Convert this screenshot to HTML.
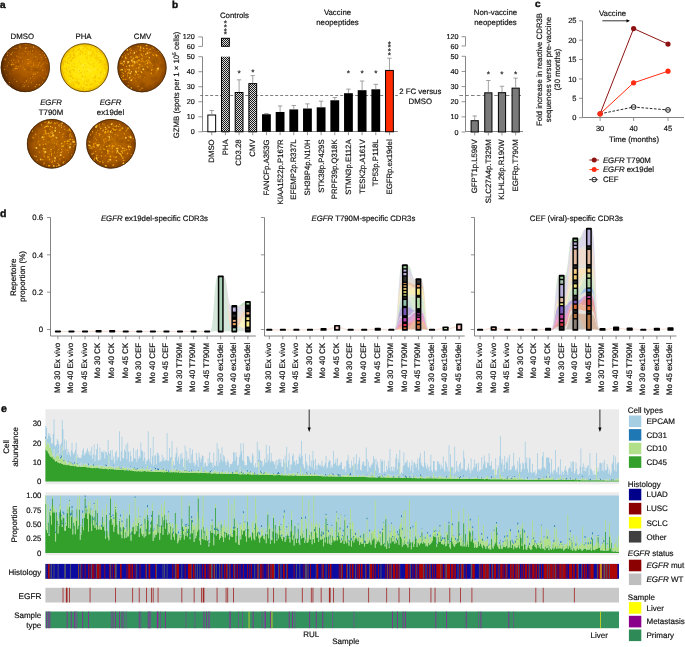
<!DOCTYPE html>
<html><head><meta charset="utf-8"><style>
html,body{margin:0;padding:0;background:#fff;overflow:hidden;width:685px;height:647px;}
svg{display:block;}
text{font-family:"Liberation Sans", sans-serif;fill:#111;stroke:#111;stroke-width:0.18px;text-rendering:geometricPrecision;}
svg{will-change:transform;}
</style></head><body>
<svg width="685" height="647" viewBox="0 0 685 647">
<text x="0" y="8.3" font-size="10" font-weight="bold" style="stroke-width:0.45px" fill="#000">a</text>
<text x="22.3" y="38.6" font-size="7.8" text-anchor="middle">DMSO</text>
<text x="83.5" y="38.6" font-size="7.8" text-anchor="middle">PHA</text>
<text x="142.5" y="38.6" font-size="7.8" text-anchor="middle">CMV</text>
<text x="51" y="105.4" font-size="7.8" text-anchor="middle" font-style="italic">EGFR</text>
<text x="51" y="115" font-size="7.8" text-anchor="middle">T790M</text>
<text x="110.5" y="105.4" font-size="7.8" text-anchor="middle" font-style="italic">EGFR</text>
<text x="110.5" y="115" font-size="7.8" text-anchor="middle">ex19del</text>
<radialGradient id="g1" cx="60%" cy="45%" r="58%"><stop offset="0" stop-color="#c06a00"/><stop offset="0.55" stop-color="#a45400"/><stop offset="0.9" stop-color="#7a3c00"/><stop offset="1" stop-color="#5a2a00"/></radialGradient>
<circle cx="25.3" cy="67.5" r="24.5" fill="url(#g1)"/>
<path fill="#5a2c00" opacity="0.14" d="M38.14 83.53a1.41 1.41 0 1 0 2.82 0a1.41 1.41 0 1 0 -2.82 0M28.59 50.53a2.44 2.44 0 1 0 4.88 0a2.44 2.44 0 1 0 -4.88 0M26.45 68.21a2.5 2.5 0 1 0 5.01 0a2.5 2.5 0 1 0 -5.01 0M37.46 60.8a1.3 1.3 0 1 0 2.59 0a1.3 1.3 0 1 0 -2.59 0M44.69 66.49a2.19 2.19 0 1 0 4.38 0a2.19 2.19 0 1 0 -4.38 0M19.52 60.94a1.83 1.83 0 1 0 3.67 0a1.83 1.83 0 1 0 -3.67 0M10.78 77.63a1.75 1.75 0 1 0 3.5 0a1.75 1.75 0 1 0 -3.5 0M28.5 77.18a2.23 2.23 0 1 0 4.47 0a2.23 2.23 0 1 0 -4.47 0M2.71 62.18a1.65 1.65 0 1 0 3.29 0a1.65 1.65 0 1 0 -3.29 0M21.6 84.62a1.61 1.61 0 1 0 3.23 0a1.61 1.61 0 1 0 -3.23 0M37.64 49.68a1.83 1.83 0 1 0 3.66 0a1.83 1.83 0 1 0 -3.66 0M9.44 61.78a1.77 1.77 0 1 0 3.54 0a1.77 1.77 0 1 0 -3.54 0M34.41 69.45a1.88 1.88 0 1 0 3.76 0a1.88 1.88 0 1 0 -3.76 0M29.38 65.35a1.72 1.72 0 1 0 3.45 0a1.72 1.72 0 1 0 -3.45 0M14.35 57.84a1.27 1.27 0 1 0 2.54 0a1.27 1.27 0 1 0 -2.54 0M22.13 79.21a2.54 2.54 0 1 0 5.09 0a2.54 2.54 0 1 0 -5.09 0M3.35 77.08a1.03 1.03 0 1 0 2.06 0a1.03 1.03 0 1 0 -2.06 0M35.55 83.22a1.71 1.71 0 1 0 3.43 0a1.71 1.71 0 1 0 -3.43 0M7.53 66.9a2.56 2.56 0 1 0 5.13 0a2.56 2.56 0 1 0 -5.13 0M4.85 76.44a2.55 2.55 0 1 0 5.1 0a2.55 2.55 0 1 0 -5.1 0M32.95 58.41a1.5 1.5 0 1 0 2.99 0a1.5 1.5 0 1 0 -2.99 0M35.27 80.25a1.94 1.94 0 1 0 3.89 0a1.94 1.94 0 1 0 -3.89 0M39.2 50.52a1.6 1.6 0 1 0 3.21 0a1.6 1.6 0 1 0 -3.21 0M33.11 52.99a1.1 1.1 0 1 0 2.21 0a1.1 1.1 0 1 0 -2.21 0M31.07 69.63a2.46 2.46 0 1 0 4.92 0a2.46 2.46 0 1 0 -4.92 0M16.51 65.12a1.65 1.65 0 1 0 3.3 0a1.65 1.65 0 1 0 -3.3 0M6.04 83.36a2.33 2.33 0 1 0 4.65 0a2.33 2.33 0 1 0 -4.65 0M18.76 83.84a1.73 1.73 0 1 0 3.46 0a1.73 1.73 0 1 0 -3.46 0M19.6 61.31a2.32 2.32 0 1 0 4.64 0a2.32 2.32 0 1 0 -4.64 0M4.79 73.34a2.19 2.19 0 1 0 4.38 0a2.19 2.19 0 1 0 -4.38 0M9.23 83.72a2.57 2.57 0 1 0 5.15 0a2.57 2.57 0 1 0 -5.15 0M38.58 78.3a1.39 1.39 0 1 0 2.78 0a1.39 1.39 0 1 0 -2.78 0M35.28 68.97a1.43 1.43 0 1 0 2.86 0a1.43 1.43 0 1 0 -2.86 0"/>
<path fill="#6a3600" opacity="0.14" d="M7.42 67.95a2.26 2.26 0 1 0 4.52 0a2.26 2.26 0 1 0 -4.52 0M26.87 69.68a1.69 1.69 0 1 0 3.38 0a1.69 1.69 0 1 0 -3.38 0M23.96 66.43a1.43 1.43 0 1 0 2.85 0a1.43 1.43 0 1 0 -2.85 0M15.18 74.86a2.16 2.16 0 1 0 4.32 0a2.16 2.16 0 1 0 -4.32 0M3.36 63.98a1.88 1.88 0 1 0 3.77 0a1.88 1.88 0 1 0 -3.77 0M11.93 83.31a2.52 2.52 0 1 0 5.05 0a2.52 2.52 0 1 0 -5.05 0M41.7 53.48a1.81 1.81 0 1 0 3.62 0a1.81 1.81 0 1 0 -3.62 0M31.94 62.07a1.94 1.94 0 1 0 3.88 0a1.94 1.94 0 1 0 -3.88 0M39.21 53.07a1.94 1.94 0 1 0 3.88 0a1.94 1.94 0 1 0 -3.88 0M34.85 69.97a1.66 1.66 0 1 0 3.33 0a1.66 1.66 0 1 0 -3.33 0M32.19 82.78a1.14 1.14 0 1 0 2.28 0a1.14 1.14 0 1 0 -2.28 0M15.55 87.53a2.04 2.04 0 1 0 4.07 0a2.04 2.04 0 1 0 -4.07 0M11.64 85.33a1.73 1.73 0 1 0 3.47 0a1.73 1.73 0 1 0 -3.47 0M12.07 80.53a1.78 1.78 0 1 0 3.55 0a1.78 1.78 0 1 0 -3.55 0M15.04 78.24a1.73 1.73 0 1 0 3.47 0a1.73 1.73 0 1 0 -3.47 0M27.22 73.9a1.05 1.05 0 1 0 2.1 0a1.05 1.05 0 1 0 -2.1 0M24.45 55.15a1.18 1.18 0 1 0 2.35 0a1.18 1.18 0 1 0 -2.35 0M22.52 90.22a2.04 2.04 0 1 0 4.07 0a2.04 2.04 0 1 0 -4.07 0M18.15 86.27a1.76 1.76 0 1 0 3.52 0a1.76 1.76 0 1 0 -3.52 0M37.35 69.64a2.27 2.27 0 1 0 4.55 0a2.27 2.27 0 1 0 -4.55 0M10.71 53.28a1.36 1.36 0 1 0 2.71 0a1.36 1.36 0 1 0 -2.71 0M14.53 55.74a2.06 2.06 0 1 0 4.11 0a2.06 2.06 0 1 0 -4.11 0M42.05 60.02a1.9 1.9 0 1 0 3.81 0a1.9 1.9 0 1 0 -3.81 0M28.5 89.16a1.27 1.27 0 1 0 2.55 0a1.27 1.27 0 1 0 -2.55 0M17.31 76.17a1.95 1.95 0 1 0 3.89 0a1.95 1.95 0 1 0 -3.89 0M1.29 68.58a1.47 1.47 0 1 0 2.95 0a1.47 1.47 0 1 0 -2.95 0M9.57 67.52a2.44 2.44 0 1 0 4.88 0a2.44 2.44 0 1 0 -4.88 0M33.38 68.68a2.3 2.3 0 1 0 4.6 0a2.3 2.3 0 1 0 -4.6 0M16.06 64.18a1.34 1.34 0 1 0 2.68 0a1.34 1.34 0 1 0 -2.68 0M13.09 48.53a2.46 2.46 0 1 0 4.93 0a2.46 2.46 0 1 0 -4.93 0M28.39 87.25a1.59 1.59 0 1 0 3.18 0a1.59 1.59 0 1 0 -3.18 0M17.33 78.1a1.22 1.22 0 1 0 2.43 0a1.22 1.22 0 1 0 -2.43 0M14.3 82.87a1.12 1.12 0 1 0 2.25 0a1.12 1.12 0 1 0 -2.25 0M7.05 62.05a1.58 1.58 0 1 0 3.17 0a1.58 1.58 0 1 0 -3.17 0M20.77 87.87a1.02 1.02 0 1 0 2.04 0a1.02 1.02 0 1 0 -2.04 0M26.55 57.71a1.26 1.26 0 1 0 2.52 0a1.26 1.26 0 1 0 -2.52 0M40.76 80.89a2.29 2.29 0 1 0 4.58 0a2.29 2.29 0 1 0 -4.58 0M2.85 61.88a2.14 2.14 0 1 0 4.28 0a2.14 2.14 0 1 0 -4.28 0M20.05 77.26a1.06 1.06 0 1 0 2.13 0a1.06 1.06 0 1 0 -2.13 0M46.18 69.02a2.16 2.16 0 1 0 4.32 0a2.16 2.16 0 1 0 -4.32 0M17.97 80.68a1.1 1.1 0 1 0 2.2 0a1.1 1.1 0 1 0 -2.2 0M43.75 55.62a1.18 1.18 0 1 0 2.36 0a1.18 1.18 0 1 0 -2.36 0M27.21 85.38a2.06 2.06 0 1 0 4.12 0a2.06 2.06 0 1 0 -4.12 0M23 84.62a1.32 1.32 0 1 0 2.64 0a1.32 1.32 0 1 0 -2.64 0M4.98 73.55a2.51 2.51 0 1 0 5.01 0a2.51 2.51 0 1 0 -5.01 0M14.03 75.7a1.3 1.3 0 1 0 2.6 0a1.3 1.3 0 1 0 -2.6 0M28.61 50.41a1.39 1.39 0 1 0 2.79 0a1.39 1.39 0 1 0 -2.79 0"/>
<path fill="#e89000" opacity="0.85" d="M38.29 52.79a0.4 0.4 0 1 0 0.8 0a0.4 0.4 0 1 0 -0.8 0M29.25 51.71a0.34 0.34 0 1 0 0.67 0a0.34 0.34 0 1 0 -0.67 0M19.31 46.9a0.61 0.61 0 1 0 1.23 0a0.61 0.61 0 1 0 -1.23 0M45.4 74a0.54 0.54 0 1 0 1.08 0a0.54 0.54 0 1 0 -1.08 0M18.55 50.93a0.39 0.39 0 1 0 0.78 0a0.39 0.39 0 1 0 -0.78 0M22.41 48.84a0.32 0.32 0 1 0 0.63 0a0.32 0.32 0 1 0 -0.63 0M15.4 66.61a0.48 0.48 0 1 0 0.97 0a0.48 0.48 0 1 0 -0.97 0M35.14 67.76a0.31 0.31 0 1 0 0.62 0a0.31 0.31 0 1 0 -0.62 0M36.2 65.57a0.4 0.4 0 1 0 0.8 0a0.4 0.4 0 1 0 -0.8 0M16.07 56.04a0.65 0.65 0 1 0 1.3 0a0.65 0.65 0 1 0 -1.3 0M30.71 66.27a0.52 0.52 0 1 0 1.05 0a0.52 0.52 0 1 0 -1.05 0M27.38 53.05a0.57 0.57 0 1 0 1.14 0a0.57 0.57 0 1 0 -1.14 0M32.98 74.42a0.58 0.58 0 1 0 1.16 0a0.58 0.58 0 1 0 -1.16 0M22.13 62.71a0.33 0.33 0 1 0 0.66 0a0.33 0.33 0 1 0 -0.66 0M27.45 63.44a0.45 0.45 0 1 0 0.9 0a0.45 0.45 0 1 0 -0.9 0M7.02 52.78a0.64 0.64 0 1 0 1.28 0a0.64 0.64 0 1 0 -1.28 0M17.97 66.43a0.41 0.41 0 1 0 0.81 0a0.41 0.41 0 1 0 -0.81 0M41.87 54.67a0.37 0.37 0 1 0 0.74 0a0.37 0.37 0 1 0 -0.74 0M45.29 57.42a0.62 0.62 0 1 0 1.25 0a0.62 0.62 0 1 0 -1.25 0M18.34 66.42a0.53 0.53 0 1 0 1.05 0a0.53 0.53 0 1 0 -1.05 0M3.93 69.25a0.51 0.51 0 1 0 1.02 0a0.51 0.51 0 1 0 -1.02 0M33.35 62.22a0.58 0.58 0 1 0 1.17 0a0.58 0.58 0 1 0 -1.17 0M7.09 66.79a0.39 0.39 0 1 0 0.78 0a0.39 0.39 0 1 0 -0.78 0M40.02 68.42a0.43 0.43 0 1 0 0.86 0a0.43 0.43 0 1 0 -0.86 0M14.19 48.16a0.43 0.43 0 1 0 0.87 0a0.43 0.43 0 1 0 -0.87 0M15.9 68.4a0.58 0.58 0 1 0 1.17 0a0.58 0.58 0 1 0 -1.17 0M40.7 84.15a0.34 0.34 0 1 0 0.67 0a0.34 0.34 0 1 0 -0.67 0M28.33 61.5a0.49 0.49 0 1 0 0.98 0a0.49 0.49 0 1 0 -0.98 0M11.34 64.55a0.56 0.56 0 1 0 1.11 0a0.56 0.56 0 1 0 -1.11 0M31.52 63.04a0.35 0.35 0 1 0 0.7 0a0.35 0.35 0 1 0 -0.7 0"/>
<path fill="#ffb000" opacity="0.85" d="M27.25 54.36a0.36 0.36 0 1 0 0.72 0a0.36 0.36 0 1 0 -0.72 0M11.02 54.12a0.65 0.65 0 1 0 1.29 0a0.65 0.65 0 1 0 -1.29 0M4.33 69.35a0.31 0.31 0 1 0 0.61 0a0.31 0.31 0 1 0 -0.61 0M31.96 54.58a0.33 0.33 0 1 0 0.66 0a0.33 0.33 0 1 0 -0.66 0M14.9 68.36a0.62 0.62 0 1 0 1.24 0a0.62 0.62 0 1 0 -1.24 0M13.83 68.97a0.51 0.51 0 1 0 1.03 0a0.51 0.51 0 1 0 -1.03 0M6.94 55.43a0.5 0.5 0 1 0 1 0a0.5 0.5 0 1 0 -1 0M29.96 77.93a0.55 0.55 0 1 0 1.1 0a0.55 0.55 0 1 0 -1.1 0M28.18 51.44a0.42 0.42 0 1 0 0.84 0a0.42 0.42 0 1 0 -0.84 0M34.6 73.83a0.62 0.62 0 1 0 1.24 0a0.62 0.62 0 1 0 -1.24 0M33.17 65.31a0.54 0.54 0 1 0 1.08 0a0.54 0.54 0 1 0 -1.08 0M44 55.14a0.49 0.49 0 1 0 0.97 0a0.49 0.49 0 1 0 -0.97 0M26.47 44.57a0.43 0.43 0 1 0 0.86 0a0.43 0.43 0 1 0 -0.86 0M30.15 53.02a0.41 0.41 0 1 0 0.83 0a0.41 0.41 0 1 0 -0.83 0M11.67 64.18a0.47 0.47 0 1 0 0.94 0a0.47 0.47 0 1 0 -0.94 0M11.78 52.6a0.48 0.48 0 1 0 0.96 0a0.48 0.48 0 1 0 -0.96 0M38.03 65a0.54 0.54 0 1 0 1.09 0a0.54 0.54 0 1 0 -1.09 0M13.96 52.63a0.35 0.35 0 1 0 0.71 0a0.35 0.35 0 1 0 -0.71 0M13.45 70.3a0.32 0.32 0 1 0 0.63 0a0.32 0.32 0 1 0 -0.63 0M25.79 80.92a0.59 0.59 0 1 0 1.18 0a0.59 0.59 0 1 0 -1.18 0M10.99 65.45a0.32 0.32 0 1 0 0.63 0a0.32 0.32 0 1 0 -0.63 0M19.11 46.88a0.44 0.44 0 1 0 0.88 0a0.44 0.44 0 1 0 -0.88 0M11.95 82.97a0.37 0.37 0 1 0 0.74 0a0.37 0.37 0 1 0 -0.74 0M33.14 73.42a0.31 0.31 0 1 0 0.62 0a0.31 0.31 0 1 0 -0.62 0M25.01 48.24a0.59 0.59 0 1 0 1.17 0a0.59 0.59 0 1 0 -1.17 0M33.14 57.22a0.4 0.4 0 1 0 0.8 0a0.4 0.4 0 1 0 -0.8 0M17.58 57.02a0.32 0.32 0 1 0 0.64 0a0.32 0.32 0 1 0 -0.64 0M35.63 51.85a0.39 0.39 0 1 0 0.79 0a0.39 0.39 0 1 0 -0.79 0M23.52 86.04a0.63 0.63 0 1 0 1.25 0a0.63 0.63 0 1 0 -1.25 0M13.17 60.08a0.52 0.52 0 1 0 1.05 0a0.52 0.52 0 1 0 -1.05 0M46.68 63.23a0.37 0.37 0 1 0 0.74 0a0.37 0.37 0 1 0 -0.74 0M35.97 57.12a0.39 0.39 0 1 0 0.79 0a0.39 0.39 0 1 0 -0.79 0M28.04 63.21a0.46 0.46 0 1 0 0.93 0a0.46 0.46 0 1 0 -0.93 0M9.13 84.33a0.31 0.31 0 1 0 0.62 0a0.31 0.31 0 1 0 -0.62 0M28.53 63.16a0.35 0.35 0 1 0 0.69 0a0.35 0.35 0 1 0 -0.69 0M4.84 59.79a0.49 0.49 0 1 0 0.97 0a0.49 0.49 0 1 0 -0.97 0M27.41 59.39a0.6 0.6 0 1 0 1.2 0a0.6 0.6 0 1 0 -1.2 0M9.58 53.16a0.39 0.39 0 1 0 0.79 0a0.39 0.39 0 1 0 -0.79 0M39.48 51.03a0.43 0.43 0 1 0 0.86 0a0.43 0.43 0 1 0 -0.86 0M36.61 67.36a0.49 0.49 0 1 0 0.97 0a0.49 0.49 0 1 0 -0.97 0M8.73 82.36a0.61 0.61 0 1 0 1.22 0a0.61 0.61 0 1 0 -1.22 0M43.8 62.73a0.34 0.34 0 1 0 0.68 0a0.34 0.34 0 1 0 -0.68 0M41.78 64.37a0.4 0.4 0 1 0 0.8 0a0.4 0.4 0 1 0 -0.8 0M36.2 84.51a0.55 0.55 0 1 0 1.11 0a0.55 0.55 0 1 0 -1.11 0M30.3 61.4a0.48 0.48 0 1 0 0.96 0a0.48 0.48 0 1 0 -0.96 0M33.1 46.81a0.42 0.42 0 1 0 0.84 0a0.42 0.42 0 1 0 -0.84 0M22.73 67.69a0.42 0.42 0 1 0 0.84 0a0.42 0.42 0 1 0 -0.84 0"/>
<path fill="#f0a000" opacity="0.85" d="M28.68 44.69a0.41 0.41 0 1 0 0.81 0a0.41 0.41 0 1 0 -0.81 0M38.7 84.78a0.59 0.59 0 1 0 1.17 0a0.59 0.59 0 1 0 -1.17 0M9.07 73.85a0.36 0.36 0 1 0 0.72 0a0.36 0.36 0 1 0 -0.72 0M41.69 59.58a0.47 0.47 0 1 0 0.95 0a0.47 0.47 0 1 0 -0.95 0M43.37 78.09a0.63 0.63 0 1 0 1.26 0a0.63 0.63 0 1 0 -1.26 0M37.02 59.13a0.34 0.34 0 1 0 0.69 0a0.34 0.34 0 1 0 -0.69 0M40.68 57.28a0.56 0.56 0 1 0 1.12 0a0.56 0.56 0 1 0 -1.12 0M12.96 64.3a0.59 0.59 0 1 0 1.18 0a0.59 0.59 0 1 0 -1.18 0M42.04 70.16a0.64 0.64 0 1 0 1.28 0a0.64 0.64 0 1 0 -1.28 0M40.45 66.21a0.63 0.63 0 1 0 1.26 0a0.63 0.63 0 1 0 -1.26 0M19.33 45a0.52 0.52 0 1 0 1.03 0a0.52 0.52 0 1 0 -1.03 0M11.09 64.8a0.5 0.5 0 1 0 1.01 0a0.5 0.5 0 1 0 -1.01 0M31.95 50.88a0.58 0.58 0 1 0 1.16 0a0.58 0.58 0 1 0 -1.16 0M4.91 66.2a0.32 0.32 0 1 0 0.65 0a0.32 0.32 0 1 0 -0.65 0M11.76 62.69a0.5 0.5 0 1 0 0.99 0a0.5 0.5 0 1 0 -0.99 0M45.18 57.66a0.37 0.37 0 1 0 0.73 0a0.37 0.37 0 1 0 -0.73 0M18.13 60.76a0.5 0.5 0 1 0 1.01 0a0.5 0.5 0 1 0 -1.01 0M33 63.83a0.48 0.48 0 1 0 0.97 0a0.48 0.48 0 1 0 -0.97 0M22.28 61.97a0.47 0.47 0 1 0 0.94 0a0.47 0.47 0 1 0 -0.94 0M42.74 63.42a0.34 0.34 0 1 0 0.68 0a0.34 0.34 0 1 0 -0.68 0M22.31 60.77a0.46 0.46 0 1 0 0.91 0a0.46 0.46 0 1 0 -0.91 0M24.93 44.51a0.46 0.46 0 1 0 0.92 0a0.46 0.46 0 1 0 -0.92 0M15.43 62.34a0.47 0.47 0 1 0 0.95 0a0.47 0.47 0 1 0 -0.95 0M12.33 51.01a0.35 0.35 0 1 0 0.7 0a0.35 0.35 0 1 0 -0.7 0M30.81 82.82a0.54 0.54 0 1 0 1.08 0a0.54 0.54 0 1 0 -1.08 0M13.68 48.58a0.31 0.31 0 1 0 0.62 0a0.31 0.31 0 1 0 -0.62 0M30.75 47.39a0.33 0.33 0 1 0 0.67 0a0.33 0.33 0 1 0 -0.67 0M33.8 53.63a0.48 0.48 0 1 0 0.96 0a0.48 0.48 0 1 0 -0.96 0M30.03 51.28a0.42 0.42 0 1 0 0.85 0a0.42 0.42 0 1 0 -0.85 0M15.86 66.03a0.57 0.57 0 1 0 1.15 0a0.57 0.57 0 1 0 -1.15 0M10.64 60.56a0.62 0.62 0 1 0 1.24 0a0.62 0.62 0 1 0 -1.24 0M15.83 81.49a0.54 0.54 0 1 0 1.08 0a0.54 0.54 0 1 0 -1.08 0M4.19 58.97a0.63 0.63 0 1 0 1.26 0a0.63 0.63 0 1 0 -1.26 0M34.7 86.67a0.62 0.62 0 1 0 1.23 0a0.62 0.62 0 1 0 -1.23 0M30.1 50.43a0.3 0.3 0 1 0 0.6 0a0.3 0.3 0 1 0 -0.6 0M6.92 65.47a0.41 0.41 0 1 0 0.81 0a0.41 0.41 0 1 0 -0.81 0M24.65 51.33a0.58 0.58 0 1 0 1.16 0a0.58 0.58 0 1 0 -1.16 0M38.97 62.84a0.56 0.56 0 1 0 1.12 0a0.56 0.56 0 1 0 -1.12 0M19.4 53.19a0.38 0.38 0 1 0 0.75 0a0.38 0.38 0 1 0 -0.75 0M35.86 47.58a0.33 0.33 0 1 0 0.66 0a0.33 0.33 0 1 0 -0.66 0M15.58 48.29a0.54 0.54 0 1 0 1.08 0a0.54 0.54 0 1 0 -1.08 0M10.1 54.71a0.45 0.45 0 1 0 0.89 0a0.45 0.45 0 1 0 -0.89 0M42.47 52.48a0.52 0.52 0 1 0 1.04 0a0.52 0.52 0 1 0 -1.04 0"/>
<path fill="#ffc830" opacity="0.8" d="M39.59 54.54a0.44 0.44 0 1 0 0.87 0a0.44 0.44 0 1 0 -0.87 0M6.05 74.95a0.36 0.36 0 1 0 0.71 0a0.36 0.36 0 1 0 -0.71 0M21.95 86.85a0.34 0.34 0 1 0 0.67 0a0.34 0.34 0 1 0 -0.67 0M24.28 82.37a0.43 0.43 0 1 0 0.87 0a0.43 0.43 0 1 0 -0.87 0M17.97 61.81a0.37 0.37 0 1 0 0.74 0a0.37 0.37 0 1 0 -0.74 0M12.16 69.1a0.35 0.35 0 1 0 0.71 0a0.35 0.35 0 1 0 -0.71 0M14.19 79.31a0.34 0.34 0 1 0 0.69 0a0.34 0.34 0 1 0 -0.69 0M25.99 47.5a0.43 0.43 0 1 0 0.87 0a0.43 0.43 0 1 0 -0.87 0M37.26 72.25a0.46 0.46 0 1 0 0.92 0a0.46 0.46 0 1 0 -0.92 0M33.19 47.15a0.46 0.46 0 1 0 0.91 0a0.46 0.46 0 1 0 -0.91 0M16.87 68.48a0.47 0.47 0 1 0 0.95 0a0.47 0.47 0 1 0 -0.95 0M27.76 85.84a0.44 0.44 0 1 0 0.88 0a0.44 0.44 0 1 0 -0.88 0M20.46 57.34a0.43 0.43 0 1 0 0.85 0a0.43 0.43 0 1 0 -0.85 0M18.07 56.59a0.3 0.3 0 1 0 0.6 0a0.3 0.3 0 1 0 -0.6 0M37.75 69.12a0.32 0.32 0 1 0 0.64 0a0.32 0.32 0 1 0 -0.64 0M28 86.48a0.37 0.37 0 1 0 0.73 0a0.37 0.37 0 1 0 -0.73 0M22.12 53.43a0.38 0.38 0 1 0 0.76 0a0.38 0.38 0 1 0 -0.76 0M32.3 76.47a0.47 0.47 0 1 0 0.94 0a0.47 0.47 0 1 0 -0.94 0M31.19 69.15a0.37 0.37 0 1 0 0.75 0a0.37 0.37 0 1 0 -0.75 0M25.1 84.46a0.31 0.31 0 1 0 0.62 0a0.31 0.31 0 1 0 -0.62 0M34.43 78.79a0.32 0.32 0 1 0 0.65 0a0.32 0.32 0 1 0 -0.65 0M23.77 69.33a0.54 0.54 0 1 0 1.08 0a0.54 0.54 0 1 0 -1.08 0M41.9 82.01a0.45 0.45 0 1 0 0.9 0a0.45 0.45 0 1 0 -0.9 0M35.04 56.71a0.44 0.44 0 1 0 0.88 0a0.44 0.44 0 1 0 -0.88 0M10.59 64.24a0.46 0.46 0 1 0 0.92 0a0.46 0.46 0 1 0 -0.92 0M19.8 65.86a0.34 0.34 0 1 0 0.69 0a0.34 0.34 0 1 0 -0.69 0M28.29 82.49a0.36 0.36 0 1 0 0.73 0a0.36 0.36 0 1 0 -0.73 0M22.74 84.32a0.33 0.33 0 1 0 0.66 0a0.33 0.33 0 1 0 -0.66 0M19.7 48.06a0.46 0.46 0 1 0 0.93 0a0.46 0.46 0 1 0 -0.93 0M8.31 62.79a0.45 0.45 0 1 0 0.91 0a0.45 0.45 0 1 0 -0.91 0"/>
<circle cx="25.3" cy="67.5" r="24.2" fill="none" stroke="#3a2008" stroke-width="0.8" stroke-opacity="0.85"/>
<radialGradient id="g2" cx="50%" cy="50%" r="50%"><stop offset="0" stop-color="#ffea10"/><stop offset="0.85" stop-color="#ffe000"/><stop offset="1" stop-color="#e8b400"/></radialGradient>
<circle cx="84.5" cy="67.7" r="24.3" fill="url(#g2)"/>
<path fill="#f0b000" opacity="0.5" d="M105.69 61.57a0.44 0.44 0 1 0 0.89 0a0.44 0.44 0 1 0 -0.89 0M72.8 71.76a0.45 0.45 0 1 0 0.89 0a0.45 0.45 0 1 0 -0.89 0M89.03 77.66a0.35 0.35 0 1 0 0.71 0a0.35 0.35 0 1 0 -0.71 0M60.76 66.22a0.7 0.7 0 1 0 1.4 0a0.7 0.7 0 1 0 -1.4 0M69.93 85.88a0.68 0.68 0 1 0 1.36 0a0.68 0.68 0 1 0 -1.36 0M67.95 79.38a0.5 0.5 0 1 0 0.99 0a0.5 0.5 0 1 0 -0.99 0M101.33 74.44a0.57 0.57 0 1 0 1.15 0a0.57 0.57 0 1 0 -1.15 0M97.16 72.54a0.33 0.33 0 1 0 0.67 0a0.33 0.33 0 1 0 -0.67 0M77.69 83.71a0.66 0.66 0 1 0 1.32 0a0.66 0.66 0 1 0 -1.32 0M99.97 78.31a0.48 0.48 0 1 0 0.96 0a0.48 0.48 0 1 0 -0.96 0M78.6 57.5a0.34 0.34 0 1 0 0.68 0a0.34 0.34 0 1 0 -0.68 0M72.92 55.34a0.7 0.7 0 1 0 1.4 0a0.7 0.7 0 1 0 -1.4 0M77.3 67.18a0.37 0.37 0 1 0 0.75 0a0.37 0.37 0 1 0 -0.75 0M100.3 52.61a0.57 0.57 0 1 0 1.13 0a0.57 0.57 0 1 0 -1.13 0M94.31 57.17a0.64 0.64 0 1 0 1.27 0a0.64 0.64 0 1 0 -1.27 0M76.88 80.16a0.31 0.31 0 1 0 0.62 0a0.31 0.31 0 1 0 -0.62 0M83.07 82.78a0.53 0.53 0 1 0 1.07 0a0.53 0.53 0 1 0 -1.07 0M78.97 61.06a0.58 0.58 0 1 0 1.17 0a0.58 0.58 0 1 0 -1.17 0M62.29 61.98a0.43 0.43 0 1 0 0.86 0a0.43 0.43 0 1 0 -0.86 0M84.16 84.26a0.48 0.48 0 1 0 0.97 0a0.48 0.48 0 1 0 -0.97 0M81.73 49.86a0.46 0.46 0 1 0 0.91 0a0.46 0.46 0 1 0 -0.91 0M83.41 85.08a0.69 0.69 0 1 0 1.38 0a0.69 0.69 0 1 0 -1.38 0M63.02 73.17a0.55 0.55 0 1 0 1.09 0a0.55 0.55 0 1 0 -1.09 0M69.24 52.78a0.37 0.37 0 1 0 0.73 0a0.37 0.37 0 1 0 -0.73 0M72.5 78.36a0.41 0.41 0 1 0 0.83 0a0.41 0.41 0 1 0 -0.83 0M89.37 85.92a0.49 0.49 0 1 0 0.99 0a0.49 0.49 0 1 0 -0.99 0M100.26 62.31a0.68 0.68 0 1 0 1.37 0a0.68 0.68 0 1 0 -1.37 0M86.58 79.49a0.49 0.49 0 1 0 0.98 0a0.49 0.49 0 1 0 -0.98 0M84.19 46.45a0.62 0.62 0 1 0 1.24 0a0.62 0.62 0 1 0 -1.24 0M82.75 89.6a0.66 0.66 0 1 0 1.31 0a0.66 0.66 0 1 0 -1.31 0M92.96 88.56a0.34 0.34 0 1 0 0.68 0a0.34 0.34 0 1 0 -0.68 0M104.14 63.96a0.47 0.47 0 1 0 0.94 0a0.47 0.47 0 1 0 -0.94 0M83.89 81.22a0.59 0.59 0 1 0 1.18 0a0.59 0.59 0 1 0 -1.18 0M95.74 55.37a0.54 0.54 0 1 0 1.07 0a0.54 0.54 0 1 0 -1.07 0M69.79 76.51a0.48 0.48 0 1 0 0.96 0a0.48 0.48 0 1 0 -0.96 0M91.7 68.12a0.31 0.31 0 1 0 0.62 0a0.31 0.31 0 1 0 -0.62 0M93.99 55.32a0.52 0.52 0 1 0 1.05 0a0.52 0.52 0 1 0 -1.05 0M94.52 80.22a0.52 0.52 0 1 0 1.04 0a0.52 0.52 0 1 0 -1.04 0M94.43 80.18a0.4 0.4 0 1 0 0.8 0a0.4 0.4 0 1 0 -0.8 0M87.62 49.07a0.55 0.55 0 1 0 1.1 0a0.55 0.55 0 1 0 -1.1 0M92.81 77.15a0.52 0.52 0 1 0 1.05 0a0.52 0.52 0 1 0 -1.05 0M87.34 81.75a0.55 0.55 0 1 0 1.1 0a0.55 0.55 0 1 0 -1.1 0M82.96 48.36a0.59 0.59 0 1 0 1.19 0a0.59 0.59 0 1 0 -1.19 0M71.16 52.73a0.39 0.39 0 1 0 0.77 0a0.39 0.39 0 1 0 -0.77 0M95.66 58.18a0.61 0.61 0 1 0 1.23 0a0.61 0.61 0 1 0 -1.23 0M87.07 85.55a0.57 0.57 0 1 0 1.15 0a0.57 0.57 0 1 0 -1.15 0M101.61 69.71a0.36 0.36 0 1 0 0.73 0a0.36 0.36 0 1 0 -0.73 0M74.18 54.84a0.36 0.36 0 1 0 0.72 0a0.36 0.36 0 1 0 -0.72 0M77.03 89.31a0.55 0.55 0 1 0 1.09 0a0.55 0.55 0 1 0 -1.09 0M102.33 60.8a0.69 0.69 0 1 0 1.38 0a0.69 0.69 0 1 0 -1.38 0M71.73 77.71a0.4 0.4 0 1 0 0.79 0a0.4 0.4 0 1 0 -0.79 0M73.32 54.51a0.47 0.47 0 1 0 0.95 0a0.47 0.47 0 1 0 -0.95 0M95.4 58.69a0.67 0.67 0 1 0 1.34 0a0.67 0.67 0 1 0 -1.34 0M77.25 63.08a0.4 0.4 0 1 0 0.8 0a0.4 0.4 0 1 0 -0.8 0M68.39 51a0.47 0.47 0 1 0 0.94 0a0.47 0.47 0 1 0 -0.94 0M104.04 61.54a0.47 0.47 0 1 0 0.94 0a0.47 0.47 0 1 0 -0.94 0M93.13 86.7a0.51 0.51 0 1 0 1.02 0a0.51 0.51 0 1 0 -1.02 0M65.91 69.96a0.54 0.54 0 1 0 1.08 0a0.54 0.54 0 1 0 -1.08 0M76.17 81.71a0.65 0.65 0 1 0 1.3 0a0.65 0.65 0 1 0 -1.3 0M70.22 70.05a0.59 0.59 0 1 0 1.18 0a0.59 0.59 0 1 0 -1.18 0M67.34 80.6a0.42 0.42 0 1 0 0.84 0a0.42 0.42 0 1 0 -0.84 0M90.09 50.22a0.63 0.63 0 1 0 1.25 0a0.63 0.63 0 1 0 -1.25 0M70.64 85.87a0.42 0.42 0 1 0 0.85 0a0.42 0.42 0 1 0 -0.85 0M85.29 47.71a0.59 0.59 0 1 0 1.18 0a0.59 0.59 0 1 0 -1.18 0M67.86 51.64a0.66 0.66 0 1 0 1.32 0a0.66 0.66 0 1 0 -1.32 0M74.32 47.73a0.53 0.53 0 1 0 1.06 0a0.53 0.53 0 1 0 -1.06 0M85.85 56.81a0.65 0.65 0 1 0 1.3 0a0.65 0.65 0 1 0 -1.3 0M73.15 78.1a0.55 0.55 0 1 0 1.11 0a0.55 0.55 0 1 0 -1.11 0M98.49 85.12a0.46 0.46 0 1 0 0.91 0a0.46 0.46 0 1 0 -0.91 0M67.1 76.71a0.47 0.47 0 1 0 0.95 0a0.47 0.47 0 1 0 -0.95 0M91.67 87.71a0.37 0.37 0 1 0 0.74 0a0.37 0.37 0 1 0 -0.74 0M67.97 67.53a0.69 0.69 0 1 0 1.37 0a0.69 0.69 0 1 0 -1.37 0M78.87 73.18a0.47 0.47 0 1 0 0.95 0a0.47 0.47 0 1 0 -0.95 0M105.29 63.85a0.65 0.65 0 1 0 1.29 0a0.65 0.65 0 1 0 -1.29 0M78.35 82.27a0.59 0.59 0 1 0 1.19 0a0.59 0.59 0 1 0 -1.19 0M84.84 76.93a0.66 0.66 0 1 0 1.32 0a0.66 0.66 0 1 0 -1.32 0M74.51 55.17a0.38 0.38 0 1 0 0.77 0a0.38 0.38 0 1 0 -0.77 0M86.17 81.84a0.47 0.47 0 1 0 0.94 0a0.47 0.47 0 1 0 -0.94 0M99.45 74.52a0.45 0.45 0 1 0 0.89 0a0.45 0.45 0 1 0 -0.89 0M95.77 51.1a0.36 0.36 0 1 0 0.72 0a0.36 0.36 0 1 0 -0.72 0M75.2 51.23a0.39 0.39 0 1 0 0.77 0a0.39 0.39 0 1 0 -0.77 0M93.41 83.22a0.53 0.53 0 1 0 1.06 0a0.53 0.53 0 1 0 -1.06 0M92.03 51.4a0.68 0.68 0 1 0 1.36 0a0.68 0.68 0 1 0 -1.36 0M72.74 53a0.7 0.7 0 1 0 1.39 0a0.7 0.7 0 1 0 -1.39 0M66.45 54.14a0.48 0.48 0 1 0 0.97 0a0.48 0.48 0 1 0 -0.97 0M71.49 57.73a0.49 0.49 0 1 0 0.98 0a0.49 0.49 0 1 0 -0.98 0M94.66 75.92a0.54 0.54 0 1 0 1.07 0a0.54 0.54 0 1 0 -1.07 0M71.24 70.09a0.3 0.3 0 1 0 0.61 0a0.3 0.3 0 1 0 -0.61 0M73.29 67.54a0.31 0.31 0 1 0 0.63 0a0.31 0.31 0 1 0 -0.63 0M99.53 82.89a0.33 0.33 0 1 0 0.66 0a0.33 0.33 0 1 0 -0.66 0M89.72 84.73a0.67 0.67 0 1 0 1.33 0a0.67 0.67 0 1 0 -1.33 0M72.98 53.76a0.63 0.63 0 1 0 1.25 0a0.63 0.63 0 1 0 -1.25 0M80.17 87.49a0.68 0.68 0 1 0 1.37 0a0.68 0.68 0 1 0 -1.37 0M76.52 88.96a0.6 0.6 0 1 0 1.2 0a0.6 0.6 0 1 0 -1.2 0M98.96 83.31a0.57 0.57 0 1 0 1.14 0a0.57 0.57 0 1 0 -1.14 0M96.33 81.65a0.31 0.31 0 1 0 0.63 0a0.31 0.31 0 1 0 -0.63 0M100.4 56.94a0.36 0.36 0 1 0 0.73 0a0.36 0.36 0 1 0 -0.73 0M81.78 88.51a0.57 0.57 0 1 0 1.15 0a0.57 0.57 0 1 0 -1.15 0M98.89 54.14a0.32 0.32 0 1 0 0.63 0a0.32 0.32 0 1 0 -0.63 0M64.47 56.1a0.66 0.66 0 1 0 1.31 0a0.66 0.66 0 1 0 -1.31 0M95.63 51.41a0.46 0.46 0 1 0 0.93 0a0.46 0.46 0 1 0 -0.93 0M85.3 66.75a0.54 0.54 0 1 0 1.09 0a0.54 0.54 0 1 0 -1.09 0M66.63 77.21a0.3 0.3 0 1 0 0.61 0a0.3 0.3 0 1 0 -0.61 0M89.83 57.46a0.56 0.56 0 1 0 1.13 0a0.56 0.56 0 1 0 -1.13 0M66.13 66.99a0.41 0.41 0 1 0 0.81 0a0.41 0.41 0 1 0 -0.81 0M85.35 66.27a0.43 0.43 0 1 0 0.86 0a0.43 0.43 0 1 0 -0.86 0M76.69 80.02a0.34 0.34 0 1 0 0.68 0a0.34 0.34 0 1 0 -0.68 0M90.29 55.81a0.58 0.58 0 1 0 1.15 0a0.58 0.58 0 1 0 -1.15 0M80.39 63.84a0.67 0.67 0 1 0 1.34 0a0.67 0.67 0 1 0 -1.34 0M72.7 51.03a0.5 0.5 0 1 0 1 0a0.5 0.5 0 1 0 -1 0M70.91 65.24a0.39 0.39 0 1 0 0.78 0a0.39 0.39 0 1 0 -0.78 0M69.13 75.62a0.54 0.54 0 1 0 1.08 0a0.54 0.54 0 1 0 -1.08 0M64.85 78.31a0.61 0.61 0 1 0 1.22 0a0.61 0.61 0 1 0 -1.22 0M71.11 59.98a0.67 0.67 0 1 0 1.33 0a0.67 0.67 0 1 0 -1.33 0M68.83 63.32a0.61 0.61 0 1 0 1.22 0a0.61 0.61 0 1 0 -1.22 0M84.88 50.87a0.51 0.51 0 1 0 1.02 0a0.51 0.51 0 1 0 -1.02 0M70.51 79.91a0.49 0.49 0 1 0 0.97 0a0.49 0.49 0 1 0 -0.97 0M100.33 75.43a0.36 0.36 0 1 0 0.72 0a0.36 0.36 0 1 0 -0.72 0M64.76 56.69a0.34 0.34 0 1 0 0.68 0a0.34 0.34 0 1 0 -0.68 0M99.13 77.62a0.53 0.53 0 1 0 1.05 0a0.53 0.53 0 1 0 -1.05 0M81.02 89.6a0.63 0.63 0 1 0 1.26 0a0.63 0.63 0 1 0 -1.26 0M82.38 71.71a0.33 0.33 0 1 0 0.66 0a0.33 0.33 0 1 0 -0.66 0M70.23 53.46a0.38 0.38 0 1 0 0.76 0a0.38 0.38 0 1 0 -0.76 0M97.52 81.76a0.63 0.63 0 1 0 1.26 0a0.63 0.63 0 1 0 -1.26 0M64.47 69.68a0.4 0.4 0 1 0 0.8 0a0.4 0.4 0 1 0 -0.8 0M72.16 78.91a0.44 0.44 0 1 0 0.88 0a0.44 0.44 0 1 0 -0.88 0M77.8 55.62a0.44 0.44 0 1 0 0.88 0a0.44 0.44 0 1 0 -0.88 0M106.74 70.11a0.61 0.61 0 1 0 1.22 0a0.61 0.61 0 1 0 -1.22 0M90.27 48.91a0.45 0.45 0 1 0 0.9 0a0.45 0.45 0 1 0 -0.9 0M66.97 70.85a0.65 0.65 0 1 0 1.3 0a0.65 0.65 0 1 0 -1.3 0M70.09 73.8a0.55 0.55 0 1 0 1.1 0a0.55 0.55 0 1 0 -1.1 0M83.57 61a0.31 0.31 0 1 0 0.61 0a0.31 0.31 0 1 0 -0.61 0M66.46 62.51a0.7 0.7 0 1 0 1.39 0a0.7 0.7 0 1 0 -1.39 0M69.06 70.11a0.62 0.62 0 1 0 1.24 0a0.62 0.62 0 1 0 -1.24 0M88.73 81.42a0.49 0.49 0 1 0 0.99 0a0.49 0.49 0 1 0 -0.99 0M69.07 71.17a0.54 0.54 0 1 0 1.07 0a0.54 0.54 0 1 0 -1.07 0M94.47 67.84a0.44 0.44 0 1 0 0.88 0a0.44 0.44 0 1 0 -0.88 0M90.25 64.42a0.56 0.56 0 1 0 1.12 0a0.56 0.56 0 1 0 -1.12 0M92.38 78.84a0.52 0.52 0 1 0 1.03 0a0.52 0.52 0 1 0 -1.03 0M87.3 54.72a0.54 0.54 0 1 0 1.08 0a0.54 0.54 0 1 0 -1.08 0M75.05 83.12a0.58 0.58 0 1 0 1.17 0a0.58 0.58 0 1 0 -1.17 0M82.93 88.02a0.67 0.67 0 1 0 1.34 0a0.67 0.67 0 1 0 -1.34 0M69.3 55.45a0.59 0.59 0 1 0 1.17 0a0.59 0.59 0 1 0 -1.17 0M76.18 66.76a0.34 0.34 0 1 0 0.67 0a0.34 0.34 0 1 0 -0.67 0M79.93 45.79a0.36 0.36 0 1 0 0.73 0a0.36 0.36 0 1 0 -0.73 0M66.05 69.04a0.63 0.63 0 1 0 1.26 0a0.63 0.63 0 1 0 -1.26 0M103.22 64.05a0.51 0.51 0 1 0 1.02 0a0.51 0.51 0 1 0 -1.02 0M66.39 80.37a0.5 0.5 0 1 0 1 0a0.5 0.5 0 1 0 -1 0M83.75 64.7a0.65 0.65 0 1 0 1.3 0a0.65 0.65 0 1 0 -1.3 0M101.38 54.19a0.61 0.61 0 1 0 1.22 0a0.61 0.61 0 1 0 -1.22 0M88.53 88.14a0.36 0.36 0 1 0 0.73 0a0.36 0.36 0 1 0 -0.73 0M75.14 79.1a0.48 0.48 0 1 0 0.97 0a0.48 0.48 0 1 0 -0.97 0M63.69 76.4a0.7 0.7 0 1 0 1.39 0a0.7 0.7 0 1 0 -1.39 0M71.72 51.19a0.67 0.67 0 1 0 1.35 0a0.67 0.67 0 1 0 -1.35 0M97.4 77.56a0.45 0.45 0 1 0 0.89 0a0.45 0.45 0 1 0 -0.89 0M78.2 79.64a0.37 0.37 0 1 0 0.74 0a0.37 0.37 0 1 0 -0.74 0M76.89 83.72a0.43 0.43 0 1 0 0.87 0a0.43 0.43 0 1 0 -0.87 0M67.79 58.74a0.55 0.55 0 1 0 1.1 0a0.55 0.55 0 1 0 -1.1 0M106.45 72.64a0.52 0.52 0 1 0 1.03 0a0.52 0.52 0 1 0 -1.03 0M74.95 56.58a0.66 0.66 0 1 0 1.31 0a0.66 0.66 0 1 0 -1.31 0M91.6 56.47a0.57 0.57 0 1 0 1.14 0a0.57 0.57 0 1 0 -1.14 0M74.41 80.19a0.36 0.36 0 1 0 0.73 0a0.36 0.36 0 1 0 -0.73 0M61.89 67.09a0.32 0.32 0 1 0 0.64 0a0.32 0.32 0 1 0 -0.64 0"/>
<path fill="#eca800" opacity="0.5" d="M94.07 85.85a0.54 0.54 0 1 0 1.08 0a0.54 0.54 0 1 0 -1.08 0M70.15 56.75a0.56 0.56 0 1 0 1.11 0a0.56 0.56 0 1 0 -1.11 0M91.07 47.48a0.52 0.52 0 1 0 1.04 0a0.52 0.52 0 1 0 -1.04 0M69.87 72.68a0.62 0.62 0 1 0 1.23 0a0.62 0.62 0 1 0 -1.23 0M98.49 60.26a0.56 0.56 0 1 0 1.13 0a0.56 0.56 0 1 0 -1.13 0M81.23 51.8a0.63 0.63 0 1 0 1.25 0a0.63 0.63 0 1 0 -1.25 0M95.09 49.08a0.42 0.42 0 1 0 0.85 0a0.42 0.42 0 1 0 -0.85 0M72.99 57.9a0.5 0.5 0 1 0 1.01 0a0.5 0.5 0 1 0 -1.01 0M100.61 60.37a0.59 0.59 0 1 0 1.18 0a0.59 0.59 0 1 0 -1.18 0M101.43 57.58a0.4 0.4 0 1 0 0.8 0a0.4 0.4 0 1 0 -0.8 0M84.58 46.26a0.68 0.68 0 1 0 1.37 0a0.68 0.68 0 1 0 -1.37 0M71.13 78.03a0.4 0.4 0 1 0 0.81 0a0.4 0.4 0 1 0 -0.81 0M82.55 67.44a0.36 0.36 0 1 0 0.73 0a0.36 0.36 0 1 0 -0.73 0M94.36 77.18a0.42 0.42 0 1 0 0.85 0a0.42 0.42 0 1 0 -0.85 0M71.62 77.59a0.66 0.66 0 1 0 1.31 0a0.66 0.66 0 1 0 -1.31 0M73.08 50.56a0.42 0.42 0 1 0 0.83 0a0.42 0.42 0 1 0 -0.83 0M92.4 65.52a0.51 0.51 0 1 0 1.02 0a0.51 0.51 0 1 0 -1.02 0M61.52 70.87a0.63 0.63 0 1 0 1.27 0a0.63 0.63 0 1 0 -1.27 0M94.11 58.94a0.34 0.34 0 1 0 0.69 0a0.34 0.34 0 1 0 -0.69 0M64.69 71.77a0.65 0.65 0 1 0 1.31 0a0.65 0.65 0 1 0 -1.31 0M91.08 82.65a0.4 0.4 0 1 0 0.8 0a0.4 0.4 0 1 0 -0.8 0M82.07 52.97a0.68 0.68 0 1 0 1.37 0a0.68 0.68 0 1 0 -1.37 0M77.5 83.12a0.56 0.56 0 1 0 1.12 0a0.56 0.56 0 1 0 -1.12 0M72.51 84.16a0.4 0.4 0 1 0 0.8 0a0.4 0.4 0 1 0 -0.8 0M83.01 67.9a0.53 0.53 0 1 0 1.05 0a0.53 0.53 0 1 0 -1.05 0M62.63 62.4a0.42 0.42 0 1 0 0.84 0a0.42 0.42 0 1 0 -0.84 0M71.5 51.31a0.51 0.51 0 1 0 1.01 0a0.51 0.51 0 1 0 -1.01 0M96.41 51.08a0.32 0.32 0 1 0 0.63 0a0.32 0.32 0 1 0 -0.63 0M100.05 81.22a0.39 0.39 0 1 0 0.77 0a0.39 0.39 0 1 0 -0.77 0M75.76 78.2a0.48 0.48 0 1 0 0.95 0a0.48 0.48 0 1 0 -0.95 0M78.11 88.79a0.7 0.7 0 1 0 1.39 0a0.7 0.7 0 1 0 -1.39 0M86.07 88.36a0.62 0.62 0 1 0 1.25 0a0.62 0.62 0 1 0 -1.25 0M69.35 57.8a0.6 0.6 0 1 0 1.19 0a0.6 0.6 0 1 0 -1.19 0M70.42 54.54a0.49 0.49 0 1 0 0.99 0a0.49 0.49 0 1 0 -0.99 0M82.04 49.17a0.39 0.39 0 1 0 0.79 0a0.39 0.39 0 1 0 -0.79 0M97.31 84.46a0.35 0.35 0 1 0 0.71 0a0.35 0.35 0 1 0 -0.71 0M65.81 81.89a0.5 0.5 0 1 0 0.99 0a0.5 0.5 0 1 0 -0.99 0M74.21 67.7a0.62 0.62 0 1 0 1.24 0a0.62 0.62 0 1 0 -1.24 0M87.64 81.45a0.36 0.36 0 1 0 0.71 0a0.36 0.36 0 1 0 -0.71 0M91.23 59.32a0.32 0.32 0 1 0 0.63 0a0.32 0.32 0 1 0 -0.63 0M105.51 64.68a0.69 0.69 0 1 0 1.37 0a0.69 0.69 0 1 0 -1.37 0M93.69 54.23a0.57 0.57 0 1 0 1.13 0a0.57 0.57 0 1 0 -1.13 0M69.22 72.73a0.55 0.55 0 1 0 1.09 0a0.55 0.55 0 1 0 -1.09 0M70.67 56.04a0.64 0.64 0 1 0 1.28 0a0.64 0.64 0 1 0 -1.28 0M88.04 79.94a0.62 0.62 0 1 0 1.23 0a0.62 0.62 0 1 0 -1.23 0M73.15 49.7a0.63 0.63 0 1 0 1.27 0a0.63 0.63 0 1 0 -1.27 0M86.44 48.26a0.67 0.67 0 1 0 1.33 0a0.67 0.67 0 1 0 -1.33 0M95.82 61.47a0.51 0.51 0 1 0 1.02 0a0.51 0.51 0 1 0 -1.02 0M99.06 61.92a0.59 0.59 0 1 0 1.19 0a0.59 0.59 0 1 0 -1.19 0M61.79 71.46a0.57 0.57 0 1 0 1.15 0a0.57 0.57 0 1 0 -1.15 0M95.4 75.65a0.45 0.45 0 1 0 0.89 0a0.45 0.45 0 1 0 -0.89 0M101.42 61.73a0.5 0.5 0 1 0 1.01 0a0.5 0.5 0 1 0 -1.01 0M66.64 63.18a0.4 0.4 0 1 0 0.79 0a0.4 0.4 0 1 0 -0.79 0M99.3 79.28a0.53 0.53 0 1 0 1.07 0a0.53 0.53 0 1 0 -1.07 0M87.04 84.17a0.47 0.47 0 1 0 0.94 0a0.47 0.47 0 1 0 -0.94 0M101.05 64.83a0.68 0.68 0 1 0 1.36 0a0.68 0.68 0 1 0 -1.36 0M67.14 55.48a0.36 0.36 0 1 0 0.73 0a0.36 0.36 0 1 0 -0.73 0M72.22 69.38a0.58 0.58 0 1 0 1.17 0a0.58 0.58 0 1 0 -1.17 0M89.34 60.15a0.47 0.47 0 1 0 0.94 0a0.47 0.47 0 1 0 -0.94 0M95.38 82.72a0.48 0.48 0 1 0 0.96 0a0.48 0.48 0 1 0 -0.96 0M78.75 48.74a0.66 0.66 0 1 0 1.33 0a0.66 0.66 0 1 0 -1.33 0M70.65 61.41a0.57 0.57 0 1 0 1.14 0a0.57 0.57 0 1 0 -1.14 0M76.91 55a0.34 0.34 0 1 0 0.68 0a0.34 0.34 0 1 0 -0.68 0M104.99 69.12a0.59 0.59 0 1 0 1.19 0a0.59 0.59 0 1 0 -1.19 0M86.74 85.16a0.53 0.53 0 1 0 1.07 0a0.53 0.53 0 1 0 -1.07 0M69.8 60.85a0.37 0.37 0 1 0 0.74 0a0.37 0.37 0 1 0 -0.74 0M74 70.01a0.48 0.48 0 1 0 0.97 0a0.48 0.48 0 1 0 -0.97 0M105.11 76.46a0.55 0.55 0 1 0 1.11 0a0.55 0.55 0 1 0 -1.11 0M86.16 80.63a0.61 0.61 0 1 0 1.22 0a0.61 0.61 0 1 0 -1.22 0M72.18 74.57a0.33 0.33 0 1 0 0.65 0a0.33 0.33 0 1 0 -0.65 0M71.16 84.71a0.61 0.61 0 1 0 1.22 0a0.61 0.61 0 1 0 -1.22 0M106.07 73.01a0.56 0.56 0 1 0 1.12 0a0.56 0.56 0 1 0 -1.12 0M70.06 54.28a0.35 0.35 0 1 0 0.7 0a0.35 0.35 0 1 0 -0.7 0M85.68 86.66a0.34 0.34 0 1 0 0.69 0a0.34 0.34 0 1 0 -0.69 0M89.26 54.97a0.39 0.39 0 1 0 0.78 0a0.39 0.39 0 1 0 -0.78 0M102.73 66.89a0.3 0.3 0 1 0 0.61 0a0.3 0.3 0 1 0 -0.61 0M77.57 83.84a0.61 0.61 0 1 0 1.21 0a0.61 0.61 0 1 0 -1.21 0M67.03 63.47a0.65 0.65 0 1 0 1.31 0a0.65 0.65 0 1 0 -1.31 0M66.27 80.62a0.38 0.38 0 1 0 0.76 0a0.38 0.38 0 1 0 -0.76 0M102.47 64.89a0.47 0.47 0 1 0 0.94 0a0.47 0.47 0 1 0 -0.94 0M74.36 49.9a0.34 0.34 0 1 0 0.68 0a0.34 0.34 0 1 0 -0.68 0M97.49 69.4a0.57 0.57 0 1 0 1.13 0a0.57 0.57 0 1 0 -1.13 0M71.86 82.52a0.41 0.41 0 1 0 0.83 0a0.41 0.41 0 1 0 -0.83 0M80.42 51.48a0.35 0.35 0 1 0 0.69 0a0.35 0.35 0 1 0 -0.69 0M73.19 48.57a0.49 0.49 0 1 0 0.97 0a0.49 0.49 0 1 0 -0.97 0M103.65 79.33a0.7 0.7 0 1 0 1.39 0a0.7 0.7 0 1 0 -1.39 0M81.48 85.74a0.39 0.39 0 1 0 0.78 0a0.39 0.39 0 1 0 -0.78 0M102.83 74.4a0.43 0.43 0 1 0 0.86 0a0.43 0.43 0 1 0 -0.86 0M96.92 50.26a0.32 0.32 0 1 0 0.65 0a0.32 0.32 0 1 0 -0.65 0M67.86 75.78a0.47 0.47 0 1 0 0.93 0a0.47 0.47 0 1 0 -0.93 0M97.21 56.56a0.32 0.32 0 1 0 0.64 0a0.32 0.32 0 1 0 -0.64 0M70.55 75.75a0.67 0.67 0 1 0 1.33 0a0.67 0.67 0 1 0 -1.33 0M77.36 71.88a0.38 0.38 0 1 0 0.76 0a0.38 0.38 0 1 0 -0.76 0M73.86 55.61a0.63 0.63 0 1 0 1.25 0a0.63 0.63 0 1 0 -1.25 0M96.93 60a0.55 0.55 0 1 0 1.11 0a0.55 0.55 0 1 0 -1.11 0M88.27 83.08a0.31 0.31 0 1 0 0.62 0a0.31 0.31 0 1 0 -0.62 0M71.97 66.74a0.31 0.31 0 1 0 0.62 0a0.31 0.31 0 1 0 -0.62 0M71.83 66.15a0.45 0.45 0 1 0 0.89 0a0.45 0.45 0 1 0 -0.89 0M70.78 60.1a0.57 0.57 0 1 0 1.14 0a0.57 0.57 0 1 0 -1.14 0M101.26 68.96a0.37 0.37 0 1 0 0.74 0a0.37 0.37 0 1 0 -0.74 0M91.93 84.94a0.39 0.39 0 1 0 0.78 0a0.39 0.39 0 1 0 -0.78 0M89.82 84.07a0.55 0.55 0 1 0 1.11 0a0.55 0.55 0 1 0 -1.11 0M73.41 63.83a0.58 0.58 0 1 0 1.17 0a0.58 0.58 0 1 0 -1.17 0M79.43 86.29a0.5 0.5 0 1 0 1 0a0.5 0.5 0 1 0 -1 0M67.97 51.06a0.51 0.51 0 1 0 1.01 0a0.51 0.51 0 1 0 -1.01 0M86.63 78.02a0.33 0.33 0 1 0 0.66 0a0.33 0.33 0 1 0 -0.66 0M78.27 53.56a0.42 0.42 0 1 0 0.84 0a0.42 0.42 0 1 0 -0.84 0M74.68 80.59a0.35 0.35 0 1 0 0.69 0a0.35 0.35 0 1 0 -0.69 0M63.73 70.42a0.49 0.49 0 1 0 0.98 0a0.49 0.49 0 1 0 -0.98 0M96.93 50.21a0.32 0.32 0 1 0 0.64 0a0.32 0.32 0 1 0 -0.64 0M81.73 76.69a0.63 0.63 0 1 0 1.25 0a0.63 0.63 0 1 0 -1.25 0M91.38 55.01a0.37 0.37 0 1 0 0.75 0a0.37 0.37 0 1 0 -0.75 0M98.65 62.82a0.67 0.67 0 1 0 1.34 0a0.67 0.67 0 1 0 -1.34 0M88.35 63.19a0.52 0.52 0 1 0 1.04 0a0.52 0.52 0 1 0 -1.04 0M75.48 51.28a0.51 0.51 0 1 0 1.01 0a0.51 0.51 0 1 0 -1.01 0M87.29 49.28a0.36 0.36 0 1 0 0.71 0a0.36 0.36 0 1 0 -0.71 0M99.11 51.25a0.63 0.63 0 1 0 1.26 0a0.63 0.63 0 1 0 -1.26 0M83.56 70.73a0.51 0.51 0 1 0 1.02 0a0.51 0.51 0 1 0 -1.02 0M65.69 73.26a0.43 0.43 0 1 0 0.87 0a0.43 0.43 0 1 0 -0.87 0M93.88 81.74a0.32 0.32 0 1 0 0.64 0a0.32 0.32 0 1 0 -0.64 0M93.55 51.16a0.45 0.45 0 1 0 0.89 0a0.45 0.45 0 1 0 -0.89 0M63.85 68.41a0.57 0.57 0 1 0 1.15 0a0.57 0.57 0 1 0 -1.15 0M67.26 58.24a0.42 0.42 0 1 0 0.84 0a0.42 0.42 0 1 0 -0.84 0M98.59 51.13a0.47 0.47 0 1 0 0.93 0a0.47 0.47 0 1 0 -0.93 0M99.88 57.05a0.58 0.58 0 1 0 1.16 0a0.58 0.58 0 1 0 -1.16 0M67.65 58.69a0.64 0.64 0 1 0 1.29 0a0.64 0.64 0 1 0 -1.29 0M77.12 82.26a0.51 0.51 0 1 0 1.02 0a0.51 0.51 0 1 0 -1.02 0M93.15 63.81a0.62 0.62 0 1 0 1.23 0a0.62 0.62 0 1 0 -1.23 0M93.33 51.4a0.39 0.39 0 1 0 0.77 0a0.39 0.39 0 1 0 -0.77 0M67.93 51.33a0.55 0.55 0 1 0 1.1 0a0.55 0.55 0 1 0 -1.1 0M74.25 48.97a0.39 0.39 0 1 0 0.79 0a0.39 0.39 0 1 0 -0.79 0M76.13 72.55a0.47 0.47 0 1 0 0.95 0a0.47 0.47 0 1 0 -0.95 0M104.26 66.95a0.6 0.6 0 1 0 1.2 0a0.6 0.6 0 1 0 -1.2 0M89.62 87.62a0.49 0.49 0 1 0 0.99 0a0.49 0.49 0 1 0 -0.99 0M95.81 56.95a0.6 0.6 0 1 0 1.2 0a0.6 0.6 0 1 0 -1.2 0M95.09 58.37a0.36 0.36 0 1 0 0.72 0a0.36 0.36 0 1 0 -0.72 0M67.75 74.33a0.37 0.37 0 1 0 0.74 0a0.37 0.37 0 1 0 -0.74 0M76.3 58.72a0.41 0.41 0 1 0 0.83 0a0.41 0.41 0 1 0 -0.83 0M97.93 62.61a0.51 0.51 0 1 0 1.02 0a0.51 0.51 0 1 0 -1.02 0M64.72 57.57a0.43 0.43 0 1 0 0.87 0a0.43 0.43 0 1 0 -0.87 0M101.7 63.53a0.4 0.4 0 1 0 0.79 0a0.4 0.4 0 1 0 -0.79 0M71.38 51.57a0.62 0.62 0 1 0 1.24 0a0.62 0.62 0 1 0 -1.24 0M84.21 72.85a0.47 0.47 0 1 0 0.94 0a0.47 0.47 0 1 0 -0.94 0M65.78 69.12a0.66 0.66 0 1 0 1.32 0a0.66 0.66 0 1 0 -1.32 0M63.01 62.92a0.62 0.62 0 1 0 1.23 0a0.62 0.62 0 1 0 -1.23 0M65.87 76.81a0.38 0.38 0 1 0 0.76 0a0.38 0.38 0 1 0 -0.76 0M95.34 84.44a0.53 0.53 0 1 0 1.06 0a0.53 0.53 0 1 0 -1.06 0M92.46 54.05a0.46 0.46 0 1 0 0.91 0a0.46 0.46 0 1 0 -0.91 0M86.22 51.21a0.41 0.41 0 1 0 0.82 0a0.41 0.41 0 1 0 -0.82 0M94.41 49.12a0.43 0.43 0 1 0 0.86 0a0.43 0.43 0 1 0 -0.86 0M96.51 68.86a0.36 0.36 0 1 0 0.72 0a0.36 0.36 0 1 0 -0.72 0M86.52 57.92a0.67 0.67 0 1 0 1.34 0a0.67 0.67 0 1 0 -1.34 0M69.93 60.03a0.57 0.57 0 1 0 1.14 0a0.57 0.57 0 1 0 -1.14 0M80.84 64.28a0.44 0.44 0 1 0 0.89 0a0.44 0.44 0 1 0 -0.89 0M71.58 63.7a0.59 0.59 0 1 0 1.19 0a0.59 0.59 0 1 0 -1.19 0M65.13 61.81a0.42 0.42 0 1 0 0.84 0a0.42 0.42 0 1 0 -0.84 0M74.61 80.37a0.33 0.33 0 1 0 0.65 0a0.33 0.33 0 1 0 -0.65 0M82.11 76.48a0.65 0.65 0 1 0 1.29 0a0.65 0.65 0 1 0 -1.29 0M96.15 76.07a0.41 0.41 0 1 0 0.83 0a0.41 0.41 0 1 0 -0.83 0M92.48 53.7a0.44 0.44 0 1 0 0.88 0a0.44 0.44 0 1 0 -0.88 0M66.88 58.99a0.57 0.57 0 1 0 1.14 0a0.57 0.57 0 1 0 -1.14 0M66.38 81.79a0.31 0.31 0 1 0 0.61 0a0.31 0.31 0 1 0 -0.61 0"/>
<path fill="#e49c00" opacity="0.5" d="M104.16 58.56a0.37 0.37 0 1 0 0.73 0a0.37 0.37 0 1 0 -0.73 0M62.76 73.87a0.67 0.67 0 1 0 1.34 0a0.67 0.67 0 1 0 -1.34 0M102.72 62.56a0.5 0.5 0 1 0 1.01 0a0.5 0.5 0 1 0 -1.01 0M89.22 88.71a0.6 0.6 0 1 0 1.21 0a0.6 0.6 0 1 0 -1.21 0M86.5 71.28a0.55 0.55 0 1 0 1.1 0a0.55 0.55 0 1 0 -1.1 0M72.05 58.45a0.68 0.68 0 1 0 1.37 0a0.68 0.68 0 1 0 -1.37 0M85.8 83.01a0.39 0.39 0 1 0 0.78 0a0.39 0.39 0 1 0 -0.78 0M88.74 50.07a0.47 0.47 0 1 0 0.94 0a0.47 0.47 0 1 0 -0.94 0M89.02 89.09a0.62 0.62 0 1 0 1.24 0a0.62 0.62 0 1 0 -1.24 0M70.32 76.27a0.55 0.55 0 1 0 1.09 0a0.55 0.55 0 1 0 -1.09 0M87.76 67.82a0.33 0.33 0 1 0 0.66 0a0.33 0.33 0 1 0 -0.66 0M87.1 61.19a0.36 0.36 0 1 0 0.72 0a0.36 0.36 0 1 0 -0.72 0M78.63 70.68a0.7 0.7 0 1 0 1.39 0a0.7 0.7 0 1 0 -1.39 0M79.65 53.64a0.59 0.59 0 1 0 1.18 0a0.59 0.59 0 1 0 -1.18 0M74.42 85.14a0.39 0.39 0 1 0 0.78 0a0.39 0.39 0 1 0 -0.78 0M73.23 57.58a0.67 0.67 0 1 0 1.33 0a0.67 0.67 0 1 0 -1.33 0M64.63 60.36a0.53 0.53 0 1 0 1.06 0a0.53 0.53 0 1 0 -1.06 0M65.99 68.86a0.47 0.47 0 1 0 0.95 0a0.47 0.47 0 1 0 -0.95 0M84.74 54.06a0.63 0.63 0 1 0 1.27 0a0.63 0.63 0 1 0 -1.27 0M72.91 50.87a0.67 0.67 0 1 0 1.34 0a0.67 0.67 0 1 0 -1.34 0M98.45 59.81a0.51 0.51 0 1 0 1.02 0a0.51 0.51 0 1 0 -1.02 0M84.22 46.16a0.42 0.42 0 1 0 0.83 0a0.42 0.42 0 1 0 -0.83 0M91.07 55.22a0.66 0.66 0 1 0 1.32 0a0.66 0.66 0 1 0 -1.32 0M105.61 74.2a0.32 0.32 0 1 0 0.65 0a0.32 0.32 0 1 0 -0.65 0M62.94 64.64a0.54 0.54 0 1 0 1.09 0a0.54 0.54 0 1 0 -1.09 0M61.76 62.2a0.48 0.48 0 1 0 0.96 0a0.48 0.48 0 1 0 -0.96 0M63.46 77.8a0.49 0.49 0 1 0 0.97 0a0.49 0.49 0 1 0 -0.97 0M104.68 68.52a0.65 0.65 0 1 0 1.3 0a0.65 0.65 0 1 0 -1.3 0M63.87 72.03a0.45 0.45 0 1 0 0.9 0a0.45 0.45 0 1 0 -0.9 0M68.64 52.79a0.51 0.51 0 1 0 1.02 0a0.51 0.51 0 1 0 -1.02 0M78 49.91a0.6 0.6 0 1 0 1.2 0a0.6 0.6 0 1 0 -1.2 0M75.44 82.38a0.6 0.6 0 1 0 1.2 0a0.6 0.6 0 1 0 -1.2 0M80.64 72.93a0.64 0.64 0 1 0 1.29 0a0.64 0.64 0 1 0 -1.29 0M85.12 78.31a0.4 0.4 0 1 0 0.8 0a0.4 0.4 0 1 0 -0.8 0M99.57 73.37a0.68 0.68 0 1 0 1.36 0a0.68 0.68 0 1 0 -1.36 0M70.56 77.31a0.44 0.44 0 1 0 0.89 0a0.44 0.44 0 1 0 -0.89 0M90.16 74.02a0.32 0.32 0 1 0 0.64 0a0.32 0.32 0 1 0 -0.64 0M87.81 66.95a0.3 0.3 0 1 0 0.61 0a0.3 0.3 0 1 0 -0.61 0M73.36 47.3a0.33 0.33 0 1 0 0.66 0a0.33 0.33 0 1 0 -0.66 0M91.38 84.16a0.63 0.63 0 1 0 1.26 0a0.63 0.63 0 1 0 -1.26 0M85.91 58.8a0.45 0.45 0 1 0 0.9 0a0.45 0.45 0 1 0 -0.9 0M70.04 83.64a0.4 0.4 0 1 0 0.8 0a0.4 0.4 0 1 0 -0.8 0M62.06 66.96a0.56 0.56 0 1 0 1.13 0a0.56 0.56 0 1 0 -1.13 0M72.51 77.62a0.48 0.48 0 1 0 0.96 0a0.48 0.48 0 1 0 -0.96 0M105.94 62.49a0.68 0.68 0 1 0 1.35 0a0.68 0.68 0 1 0 -1.35 0M79.29 48.42a0.44 0.44 0 1 0 0.88 0a0.44 0.44 0 1 0 -0.88 0M77.06 78.24a0.32 0.32 0 1 0 0.64 0a0.32 0.32 0 1 0 -0.64 0M72.81 54.28a0.43 0.43 0 1 0 0.86 0a0.43 0.43 0 1 0 -0.86 0M73.63 85.34a0.59 0.59 0 1 0 1.18 0a0.59 0.59 0 1 0 -1.18 0M93.68 66.54a0.59 0.59 0 1 0 1.18 0a0.59 0.59 0 1 0 -1.18 0M103.89 68.52a0.39 0.39 0 1 0 0.77 0a0.39 0.39 0 1 0 -0.77 0M72.83 56.93a0.37 0.37 0 1 0 0.75 0a0.37 0.37 0 1 0 -0.75 0M91.5 47.32a0.33 0.33 0 1 0 0.65 0a0.33 0.33 0 1 0 -0.65 0M93.54 80.57a0.58 0.58 0 1 0 1.17 0a0.58 0.58 0 1 0 -1.17 0M78.3 89.03a0.38 0.38 0 1 0 0.77 0a0.38 0.38 0 1 0 -0.77 0M61.79 67.06a0.55 0.55 0 1 0 1.09 0a0.55 0.55 0 1 0 -1.09 0M96.89 52.34a0.5 0.5 0 1 0 0.99 0a0.5 0.5 0 1 0 -0.99 0M69.39 54.87a0.63 0.63 0 1 0 1.27 0a0.63 0.63 0 1 0 -1.27 0M85.68 81.17a0.35 0.35 0 1 0 0.69 0a0.35 0.35 0 1 0 -0.69 0M96.37 51.13a0.68 0.68 0 1 0 1.36 0a0.68 0.68 0 1 0 -1.36 0M79.07 84.56a0.58 0.58 0 1 0 1.15 0a0.58 0.58 0 1 0 -1.15 0M100.6 72.28a0.61 0.61 0 1 0 1.21 0a0.61 0.61 0 1 0 -1.21 0M99.9 60.75a0.66 0.66 0 1 0 1.32 0a0.66 0.66 0 1 0 -1.32 0M66.9 62.01a0.55 0.55 0 1 0 1.1 0a0.55 0.55 0 1 0 -1.1 0M82.89 87.6a0.65 0.65 0 1 0 1.3 0a0.65 0.65 0 1 0 -1.3 0M98.26 78.28a0.39 0.39 0 1 0 0.79 0a0.39 0.39 0 1 0 -0.79 0M68.08 58.45a0.33 0.33 0 1 0 0.67 0a0.33 0.33 0 1 0 -0.67 0M102.08 78.29a0.45 0.45 0 1 0 0.9 0a0.45 0.45 0 1 0 -0.9 0M62.48 61.88a0.32 0.32 0 1 0 0.63 0a0.32 0.32 0 1 0 -0.63 0M74.14 52.64a0.47 0.47 0 1 0 0.94 0a0.47 0.47 0 1 0 -0.94 0M66.14 55.44a0.37 0.37 0 1 0 0.75 0a0.37 0.37 0 1 0 -0.75 0M68.97 57.55a0.31 0.31 0 1 0 0.62 0a0.31 0.31 0 1 0 -0.62 0M94.86 77.13a0.63 0.63 0 1 0 1.25 0a0.63 0.63 0 1 0 -1.25 0M69.17 71.54a0.68 0.68 0 1 0 1.36 0a0.68 0.68 0 1 0 -1.36 0M64.97 61.12a0.62 0.62 0 1 0 1.25 0a0.62 0.62 0 1 0 -1.25 0M99.42 53.34a0.4 0.4 0 1 0 0.79 0a0.4 0.4 0 1 0 -0.79 0M102.92 67.49a0.54 0.54 0 1 0 1.09 0a0.54 0.54 0 1 0 -1.09 0M91.83 80.48a0.38 0.38 0 1 0 0.77 0a0.38 0.38 0 1 0 -0.77 0M70.05 76.87a0.39 0.39 0 1 0 0.77 0a0.39 0.39 0 1 0 -0.77 0M70.28 74.82a0.37 0.37 0 1 0 0.74 0a0.37 0.37 0 1 0 -0.74 0M92.23 83.79a0.64 0.64 0 1 0 1.28 0a0.64 0.64 0 1 0 -1.28 0M69.87 57.43a0.4 0.4 0 1 0 0.8 0a0.4 0.4 0 1 0 -0.8 0M86.47 51.76a0.32 0.32 0 1 0 0.64 0a0.32 0.32 0 1 0 -0.64 0M80.52 62.84a0.4 0.4 0 1 0 0.8 0a0.4 0.4 0 1 0 -0.8 0M82.22 88.44a0.66 0.66 0 1 0 1.33 0a0.66 0.66 0 1 0 -1.33 0M80.84 87.13a0.3 0.3 0 1 0 0.6 0a0.3 0.3 0 1 0 -0.6 0M73 84.07a0.63 0.63 0 1 0 1.26 0a0.63 0.63 0 1 0 -1.26 0M83.45 83.86a0.41 0.41 0 1 0 0.81 0a0.41 0.41 0 1 0 -0.81 0M68.79 60.98a0.49 0.49 0 1 0 0.97 0a0.49 0.49 0 1 0 -0.97 0M86.68 61.52a0.36 0.36 0 1 0 0.72 0a0.36 0.36 0 1 0 -0.72 0M77.25 82.2a0.33 0.33 0 1 0 0.66 0a0.33 0.33 0 1 0 -0.66 0M100.07 66.55a0.44 0.44 0 1 0 0.89 0a0.44 0.44 0 1 0 -0.89 0M86.59 53.37a0.47 0.47 0 1 0 0.94 0a0.47 0.47 0 1 0 -0.94 0M62.17 63.63a0.67 0.67 0 1 0 1.34 0a0.67 0.67 0 1 0 -1.34 0M78.78 82.97a0.58 0.58 0 1 0 1.16 0a0.58 0.58 0 1 0 -1.16 0M77.35 49.75a0.68 0.68 0 1 0 1.37 0a0.68 0.68 0 1 0 -1.37 0M85.47 85.18a0.58 0.58 0 1 0 1.16 0a0.58 0.58 0 1 0 -1.16 0M92.73 49.36a0.38 0.38 0 1 0 0.76 0a0.38 0.38 0 1 0 -0.76 0M96.54 86.28a0.53 0.53 0 1 0 1.07 0a0.53 0.53 0 1 0 -1.07 0M63.85 72.21a0.37 0.37 0 1 0 0.73 0a0.37 0.37 0 1 0 -0.73 0M70.89 82.35a0.49 0.49 0 1 0 0.98 0a0.49 0.49 0 1 0 -0.98 0M92.26 47.23a0.5 0.5 0 1 0 1 0a0.5 0.5 0 1 0 -1 0M63.86 61.96a0.36 0.36 0 1 0 0.72 0a0.36 0.36 0 1 0 -0.72 0M64.65 56.56a0.57 0.57 0 1 0 1.15 0a0.57 0.57 0 1 0 -1.15 0M69.82 68.38a0.34 0.34 0 1 0 0.67 0a0.34 0.34 0 1 0 -0.67 0M68.02 67.87a0.57 0.57 0 1 0 1.13 0a0.57 0.57 0 1 0 -1.13 0M103.63 64.89a0.54 0.54 0 1 0 1.09 0a0.54 0.54 0 1 0 -1.09 0M69.41 57.47a0.52 0.52 0 1 0 1.04 0a0.52 0.52 0 1 0 -1.04 0M98.76 69.91a0.42 0.42 0 1 0 0.84 0a0.42 0.42 0 1 0 -0.84 0M89.01 73.69a0.38 0.38 0 1 0 0.76 0a0.38 0.38 0 1 0 -0.76 0M72.66 84.76a0.59 0.59 0 1 0 1.18 0a0.59 0.59 0 1 0 -1.18 0M82.28 75.86a0.4 0.4 0 1 0 0.79 0a0.4 0.4 0 1 0 -0.79 0M61.78 69.39a0.4 0.4 0 1 0 0.79 0a0.4 0.4 0 1 0 -0.79 0M72.46 82.01a0.62 0.62 0 1 0 1.24 0a0.62 0.62 0 1 0 -1.24 0M77.36 85.06a0.32 0.32 0 1 0 0.65 0a0.32 0.32 0 1 0 -0.65 0M94.81 81.63a0.54 0.54 0 1 0 1.07 0a0.54 0.54 0 1 0 -1.07 0M94.02 77.92a0.55 0.55 0 1 0 1.1 0a0.55 0.55 0 1 0 -1.1 0M65.01 61.92a0.6 0.6 0 1 0 1.2 0a0.6 0.6 0 1 0 -1.2 0M73.27 54.92a0.42 0.42 0 1 0 0.84 0a0.42 0.42 0 1 0 -0.84 0M65.16 74.91a0.43 0.43 0 1 0 0.86 0a0.43 0.43 0 1 0 -0.86 0M63.64 59.99a0.37 0.37 0 1 0 0.74 0a0.37 0.37 0 1 0 -0.74 0M96.47 54.79a0.54 0.54 0 1 0 1.08 0a0.54 0.54 0 1 0 -1.08 0M98.53 57.29a0.55 0.55 0 1 0 1.1 0a0.55 0.55 0 1 0 -1.1 0M77.19 80.05a0.51 0.51 0 1 0 1.02 0a0.51 0.51 0 1 0 -1.02 0M91.19 88.44a0.54 0.54 0 1 0 1.09 0a0.54 0.54 0 1 0 -1.09 0M78.67 62.33a0.36 0.36 0 1 0 0.72 0a0.36 0.36 0 1 0 -0.72 0M79.67 79.58a0.41 0.41 0 1 0 0.81 0a0.41 0.41 0 1 0 -0.81 0M75.28 52.36a0.44 0.44 0 1 0 0.88 0a0.44 0.44 0 1 0 -0.88 0M74.16 66.24a0.33 0.33 0 1 0 0.67 0a0.33 0.33 0 1 0 -0.67 0M79.68 50.67a0.32 0.32 0 1 0 0.64 0a0.32 0.32 0 1 0 -0.64 0M76.96 79.98a0.69 0.69 0 1 0 1.37 0a0.69 0.69 0 1 0 -1.37 0M100.24 82.61a0.45 0.45 0 1 0 0.9 0a0.45 0.45 0 1 0 -0.9 0M73.75 54.14a0.41 0.41 0 1 0 0.83 0a0.41 0.41 0 1 0 -0.83 0M101.96 71.74a0.35 0.35 0 1 0 0.7 0a0.35 0.35 0 1 0 -0.7 0M104.35 63.94a0.46 0.46 0 1 0 0.91 0a0.46 0.46 0 1 0 -0.91 0M98.52 51.39a0.51 0.51 0 1 0 1.02 0a0.51 0.51 0 1 0 -1.02 0M76.91 86.63a0.34 0.34 0 1 0 0.69 0a0.34 0.34 0 1 0 -0.69 0M104.31 66.48a0.65 0.65 0 1 0 1.31 0a0.65 0.65 0 1 0 -1.31 0M62.91 61.23a0.51 0.51 0 1 0 1.02 0a0.51 0.51 0 1 0 -1.02 0M73.64 66.08a0.42 0.42 0 1 0 0.84 0a0.42 0.42 0 1 0 -0.84 0M92.29 52.99a0.64 0.64 0 1 0 1.28 0a0.64 0.64 0 1 0 -1.28 0M90.07 79.47a0.46 0.46 0 1 0 0.93 0a0.46 0.46 0 1 0 -0.93 0M73 83.96a0.39 0.39 0 1 0 0.77 0a0.39 0.39 0 1 0 -0.77 0M97.98 51.3a0.39 0.39 0 1 0 0.78 0a0.39 0.39 0 1 0 -0.78 0M79.57 54.35a0.61 0.61 0 1 0 1.21 0a0.61 0.61 0 1 0 -1.21 0M80.46 51.22a0.55 0.55 0 1 0 1.09 0a0.55 0.55 0 1 0 -1.09 0M72.52 81.08a0.67 0.67 0 1 0 1.34 0a0.67 0.67 0 1 0 -1.34 0M90.74 48.96a0.36 0.36 0 1 0 0.71 0a0.36 0.36 0 1 0 -0.71 0M69.03 68.11a0.37 0.37 0 1 0 0.74 0a0.37 0.37 0 1 0 -0.74 0M91.03 85.74a0.4 0.4 0 1 0 0.81 0a0.4 0.4 0 1 0 -0.81 0M77.97 79.81a0.53 0.53 0 1 0 1.06 0a0.53 0.53 0 1 0 -1.06 0M97.5 57.68a0.53 0.53 0 1 0 1.06 0a0.53 0.53 0 1 0 -1.06 0M73.22 70.35a0.64 0.64 0 1 0 1.27 0a0.64 0.64 0 1 0 -1.27 0M96.45 58.92a0.57 0.57 0 1 0 1.14 0a0.57 0.57 0 1 0 -1.14 0M88.37 63.09a0.3 0.3 0 1 0 0.6 0a0.3 0.3 0 1 0 -0.6 0"/>
<path fill="#fff050" opacity="0.6" d="M80.36 61.73a0.4 0.4 0 1 0 0.81 0a0.4 0.4 0 1 0 -0.81 0M65.72 63.63a0.56 0.56 0 1 0 1.11 0a0.56 0.56 0 1 0 -1.11 0M96.14 76.4a0.51 0.51 0 1 0 1.01 0a0.51 0.51 0 1 0 -1.01 0M102.83 59.62a0.42 0.42 0 1 0 0.84 0a0.42 0.42 0 1 0 -0.84 0M75.09 68.4a0.6 0.6 0 1 0 1.19 0a0.6 0.6 0 1 0 -1.19 0M79.97 57.53a0.42 0.42 0 1 0 0.84 0a0.42 0.42 0 1 0 -0.84 0M80.65 55.75a0.76 0.76 0 1 0 1.51 0a0.76 0.76 0 1 0 -1.51 0M90.96 69.1a0.65 0.65 0 1 0 1.29 0a0.65 0.65 0 1 0 -1.29 0M89.43 53.47a0.52 0.52 0 1 0 1.05 0a0.52 0.52 0 1 0 -1.05 0M100.87 74.14a0.87 0.87 0 1 0 1.74 0a0.87 0.87 0 1 0 -1.74 0M81.48 65.06a0.71 0.71 0 1 0 1.42 0a0.71 0.71 0 1 0 -1.42 0M82.38 78.98a0.52 0.52 0 1 0 1.05 0a0.52 0.52 0 1 0 -1.05 0M83.59 47.91a0.5 0.5 0 1 0 0.99 0a0.5 0.5 0 1 0 -0.99 0M104.02 72.58a0.82 0.82 0 1 0 1.64 0a0.82 0.82 0 1 0 -1.64 0M92.34 76.05a0.85 0.85 0 1 0 1.71 0a0.85 0.85 0 1 0 -1.71 0M95.36 68.78a0.65 0.65 0 1 0 1.3 0a0.65 0.65 0 1 0 -1.3 0M73.12 52.5a0.51 0.51 0 1 0 1.02 0a0.51 0.51 0 1 0 -1.02 0M68.71 68.54a0.74 0.74 0 1 0 1.48 0a0.74 0.74 0 1 0 -1.48 0M77.79 71.28a0.84 0.84 0 1 0 1.67 0a0.84 0.84 0 1 0 -1.67 0M79.6 86.62a0.49 0.49 0 1 0 0.98 0a0.49 0.49 0 1 0 -0.98 0M92.95 69.48a0.47 0.47 0 1 0 0.93 0a0.47 0.47 0 1 0 -0.93 0M83.44 65.65a0.89 0.89 0 1 0 1.78 0a0.89 0.89 0 1 0 -1.78 0M74.67 73.2a0.56 0.56 0 1 0 1.11 0a0.56 0.56 0 1 0 -1.11 0M77.39 80.18a0.81 0.81 0 1 0 1.62 0a0.81 0.81 0 1 0 -1.62 0M96.73 61.76a0.74 0.74 0 1 0 1.48 0a0.74 0.74 0 1 0 -1.48 0M88.83 73.07a0.6 0.6 0 1 0 1.2 0a0.6 0.6 0 1 0 -1.2 0M68.43 67.74a0.58 0.58 0 1 0 1.16 0a0.58 0.58 0 1 0 -1.16 0M98.82 52.46a0.58 0.58 0 1 0 1.16 0a0.58 0.58 0 1 0 -1.16 0M87.9 52.01a0.71 0.71 0 1 0 1.42 0a0.71 0.71 0 1 0 -1.42 0M87.67 53.69a0.84 0.84 0 1 0 1.67 0a0.84 0.84 0 1 0 -1.67 0M73.48 48.45a0.5 0.5 0 1 0 0.99 0a0.5 0.5 0 1 0 -0.99 0M81.88 46.9a0.46 0.46 0 1 0 0.93 0a0.46 0.46 0 1 0 -0.93 0M72.29 80.61a0.85 0.85 0 1 0 1.7 0a0.85 0.85 0 1 0 -1.7 0M92.21 47.43a0.45 0.45 0 1 0 0.89 0a0.45 0.45 0 1 0 -0.89 0M79.99 47.87a0.77 0.77 0 1 0 1.53 0a0.77 0.77 0 1 0 -1.53 0M81.16 49.71a0.82 0.82 0 1 0 1.64 0a0.82 0.82 0 1 0 -1.64 0M61.21 66.86a0.61 0.61 0 1 0 1.21 0a0.61 0.61 0 1 0 -1.21 0M79.19 85.3a0.56 0.56 0 1 0 1.11 0a0.56 0.56 0 1 0 -1.11 0M69.32 70.24a0.46 0.46 0 1 0 0.92 0a0.46 0.46 0 1 0 -0.92 0M98.38 74.9a0.86 0.86 0 1 0 1.73 0a0.86 0.86 0 1 0 -1.73 0M90.36 79.86a0.79 0.79 0 1 0 1.57 0a0.79 0.79 0 1 0 -1.57 0M94.14 68.94a0.8 0.8 0 1 0 1.59 0a0.8 0.8 0 1 0 -1.59 0M88.21 67.04a0.66 0.66 0 1 0 1.31 0a0.66 0.66 0 1 0 -1.31 0M90.06 51.91a0.66 0.66 0 1 0 1.31 0a0.66 0.66 0 1 0 -1.31 0M70.71 78.46a0.69 0.69 0 1 0 1.37 0a0.69 0.69 0 1 0 -1.37 0M76.47 53.22a0.67 0.67 0 1 0 1.34 0a0.67 0.67 0 1 0 -1.34 0M85.03 82.6a0.67 0.67 0 1 0 1.34 0a0.67 0.67 0 1 0 -1.34 0M78.05 69.8a0.68 0.68 0 1 0 1.36 0a0.68 0.68 0 1 0 -1.36 0M75.34 49.93a0.55 0.55 0 1 0 1.1 0a0.55 0.55 0 1 0 -1.1 0M87.59 69.7a0.79 0.79 0 1 0 1.58 0a0.79 0.79 0 1 0 -1.58 0M88.28 78.64a0.41 0.41 0 1 0 0.83 0a0.41 0.41 0 1 0 -0.83 0M77.35 60.86a0.62 0.62 0 1 0 1.24 0a0.62 0.62 0 1 0 -1.24 0M99.12 69.41a0.57 0.57 0 1 0 1.13 0a0.57 0.57 0 1 0 -1.13 0M81.23 89.67a0.53 0.53 0 1 0 1.06 0a0.53 0.53 0 1 0 -1.06 0M82.52 65.14a0.88 0.88 0 1 0 1.76 0a0.88 0.88 0 1 0 -1.76 0M82.72 71.13a0.45 0.45 0 1 0 0.9 0a0.45 0.45 0 1 0 -0.9 0M88.7 70.24a0.61 0.61 0 1 0 1.22 0a0.61 0.61 0 1 0 -1.22 0M82.96 74.06a0.73 0.73 0 1 0 1.46 0a0.73 0.73 0 1 0 -1.46 0M64.44 70.88a0.65 0.65 0 1 0 1.3 0a0.65 0.65 0 1 0 -1.3 0M89.64 71.1a0.89 0.89 0 1 0 1.77 0a0.89 0.89 0 1 0 -1.77 0M82.61 69.08a0.66 0.66 0 1 0 1.32 0a0.66 0.66 0 1 0 -1.32 0M83.89 49.57a0.41 0.41 0 1 0 0.82 0a0.41 0.41 0 1 0 -0.82 0M100.75 76.9a0.56 0.56 0 1 0 1.12 0a0.56 0.56 0 1 0 -1.12 0M77.69 75.52a0.63 0.63 0 1 0 1.27 0a0.63 0.63 0 1 0 -1.27 0M84.86 50a0.48 0.48 0 1 0 0.97 0a0.48 0.48 0 1 0 -0.97 0M99.25 56.09a0.74 0.74 0 1 0 1.48 0a0.74 0.74 0 1 0 -1.48 0M100.47 57.83a0.5 0.5 0 1 0 1.01 0a0.5 0.5 0 1 0 -1.01 0M81.25 65.22a0.85 0.85 0 1 0 1.7 0a0.85 0.85 0 1 0 -1.7 0M80.75 46.2a0.52 0.52 0 1 0 1.03 0a0.52 0.52 0 1 0 -1.03 0M82.66 74.41a0.48 0.48 0 1 0 0.95 0a0.48 0.48 0 1 0 -0.95 0M71.49 63.71a0.74 0.74 0 1 0 1.48 0a0.74 0.74 0 1 0 -1.48 0M80.54 45.13a0.63 0.63 0 1 0 1.26 0a0.63 0.63 0 1 0 -1.26 0M100.16 70.1a0.48 0.48 0 1 0 0.96 0a0.48 0.48 0 1 0 -0.96 0M80.38 66.72a0.55 0.55 0 1 0 1.11 0a0.55 0.55 0 1 0 -1.11 0M98.11 84.59a0.67 0.67 0 1 0 1.33 0a0.67 0.67 0 1 0 -1.33 0M83 85.86a0.83 0.83 0 1 0 1.67 0a0.83 0.83 0 1 0 -1.67 0M97.49 50.86a0.72 0.72 0 1 0 1.43 0a0.72 0.72 0 1 0 -1.43 0M69.04 81.36a0.87 0.87 0 1 0 1.75 0a0.87 0.87 0 1 0 -1.75 0M81.94 78.81a0.88 0.88 0 1 0 1.75 0a0.88 0.88 0 1 0 -1.75 0M86.52 85.96a0.54 0.54 0 1 0 1.08 0a0.54 0.54 0 1 0 -1.08 0"/>
<circle cx="84.5" cy="67.7" r="24" fill="none" stroke="#3a2008" stroke-width="0.8" stroke-opacity="0.85"/>
<radialGradient id="g3" cx="52%" cy="48%" r="54%"><stop offset="0" stop-color="#bc6c00"/><stop offset="0.7" stop-color="#a85a00"/><stop offset="0.92" stop-color="#824200"/><stop offset="1" stop-color="#603000"/></radialGradient>
<circle cx="142" cy="67.7" r="24.5" fill="url(#g3)"/>
<path fill="#6a3600" opacity="0.14" d="M140.83 84.84a2.47 2.47 0 1 0 4.93 0a2.47 2.47 0 1 0 -4.93 0M119.43 71.66a1.64 1.64 0 1 0 3.27 0a1.64 1.64 0 1 0 -3.27 0M137.67 85.54a2.14 2.14 0 1 0 4.29 0a2.14 2.14 0 1 0 -4.29 0M152.34 60.73a2.54 2.54 0 1 0 5.09 0a2.54 2.54 0 1 0 -5.09 0M144.47 90.1a2.25 2.25 0 1 0 4.49 0a2.25 2.25 0 1 0 -4.49 0M149.37 55.77a1.92 1.92 0 1 0 3.84 0a1.92 1.92 0 1 0 -3.84 0M130.11 47.26a2.59 2.59 0 1 0 5.17 0a2.59 2.59 0 1 0 -5.17 0M134.99 59.42a2.54 2.54 0 1 0 5.09 0a2.54 2.54 0 1 0 -5.09 0M141.16 53.42a1.88 1.88 0 1 0 3.76 0a1.88 1.88 0 1 0 -3.76 0M153.13 65.45a1.25 1.25 0 1 0 2.5 0a1.25 1.25 0 1 0 -2.5 0M161.36 73.42a1.58 1.58 0 1 0 3.15 0a1.58 1.58 0 1 0 -3.15 0M154.22 84.22a1.74 1.74 0 1 0 3.47 0a1.74 1.74 0 1 0 -3.47 0M155.43 61.65a2.01 2.01 0 1 0 4.03 0a2.01 2.01 0 1 0 -4.03 0M134.6 45.68a2.56 2.56 0 1 0 5.13 0a2.56 2.56 0 1 0 -5.13 0M153.05 66.67a1.99 1.99 0 1 0 3.97 0a1.99 1.99 0 1 0 -3.97 0M136.4 63.48a1.75 1.75 0 1 0 3.49 0a1.75 1.75 0 1 0 -3.49 0M133.87 55.21a2.18 2.18 0 1 0 4.36 0a2.18 2.18 0 1 0 -4.36 0M140.61 83.44a1.28 1.28 0 1 0 2.57 0a1.28 1.28 0 1 0 -2.57 0M148.55 86.33a1.48 1.48 0 1 0 2.96 0a1.48 1.48 0 1 0 -2.96 0M138.34 80.94a2.04 2.04 0 1 0 4.08 0a2.04 2.04 0 1 0 -4.08 0M154.73 78.04a2.08 2.08 0 1 0 4.16 0a2.08 2.08 0 1 0 -4.16 0M140.03 56.83a1.43 1.43 0 1 0 2.87 0a1.43 1.43 0 1 0 -2.87 0M149.56 52.56a1.54 1.54 0 1 0 3.09 0a1.54 1.54 0 1 0 -3.09 0M143.26 61.69a1.94 1.94 0 1 0 3.89 0a1.94 1.94 0 1 0 -3.89 0M125.49 75.66a1.74 1.74 0 1 0 3.49 0a1.74 1.74 0 1 0 -3.49 0M132.59 58.32a1.06 1.06 0 1 0 2.11 0a1.06 1.06 0 1 0 -2.11 0M130.59 73.1a2.51 2.51 0 1 0 5.02 0a2.51 2.51 0 1 0 -5.02 0M156.98 51.85a1.89 1.89 0 1 0 3.79 0a1.89 1.89 0 1 0 -3.79 0M149.96 51.47a1.87 1.87 0 1 0 3.74 0a1.87 1.87 0 1 0 -3.74 0M157.45 53.88a1.19 1.19 0 1 0 2.38 0a1.19 1.19 0 1 0 -2.38 0M139.37 89.33a2.3 2.3 0 1 0 4.6 0a2.3 2.3 0 1 0 -4.6 0M143.46 58.89a2.47 2.47 0 1 0 4.95 0a2.47 2.47 0 1 0 -4.95 0M127.3 61.35a1.4 1.4 0 1 0 2.79 0a1.4 1.4 0 1 0 -2.79 0M144.42 69.19a2.56 2.56 0 1 0 5.12 0a2.56 2.56 0 1 0 -5.12 0M144.67 62.28a1.51 1.51 0 1 0 3.01 0a1.51 1.51 0 1 0 -3.01 0M134.61 80.39a1.94 1.94 0 1 0 3.88 0a1.94 1.94 0 1 0 -3.88 0M133.78 75.51a1.69 1.69 0 1 0 3.37 0a1.69 1.69 0 1 0 -3.37 0M140.68 68.69a2.27 2.27 0 1 0 4.54 0a2.27 2.27 0 1 0 -4.54 0M135.62 65.73a1.97 1.97 0 1 0 3.93 0a1.97 1.97 0 1 0 -3.93 0M126.86 73.63a2.22 2.22 0 1 0 4.43 0a2.22 2.22 0 1 0 -4.43 0M131.25 88.55a1.74 1.74 0 1 0 3.47 0a1.74 1.74 0 1 0 -3.47 0M125.27 83.39a1.19 1.19 0 1 0 2.39 0a1.19 1.19 0 1 0 -2.39 0M131.69 46.68a2.07 2.07 0 1 0 4.14 0a2.07 2.07 0 1 0 -4.14 0M124.67 82.54a2.35 2.35 0 1 0 4.69 0a2.35 2.35 0 1 0 -4.69 0"/>
<path fill="#5a2c00" opacity="0.14" d="M122.02 70.58a2.45 2.45 0 1 0 4.91 0a2.45 2.45 0 1 0 -4.91 0M122.44 71.02a2.59 2.59 0 1 0 5.19 0a2.59 2.59 0 1 0 -5.19 0M146.82 59.1a2.39 2.39 0 1 0 4.78 0a2.39 2.39 0 1 0 -4.78 0M120.9 64.79a1.26 1.26 0 1 0 2.51 0a1.26 1.26 0 1 0 -2.51 0M144.33 66.43a2.32 2.32 0 1 0 4.64 0a2.32 2.32 0 1 0 -4.64 0M150.15 78.22a1.22 1.22 0 1 0 2.44 0a1.22 1.22 0 1 0 -2.44 0M125.02 64.54a2.45 2.45 0 1 0 4.89 0a2.45 2.45 0 1 0 -4.89 0M154.51 57.79a2.01 2.01 0 1 0 4.03 0a2.01 2.01 0 1 0 -4.03 0M152.91 66.8a1.1 1.1 0 1 0 2.2 0a1.1 1.1 0 1 0 -2.2 0M154.54 49.29a1.55 1.55 0 1 0 3.1 0a1.55 1.55 0 1 0 -3.1 0M160.69 76.67a1.47 1.47 0 1 0 2.94 0a1.47 1.47 0 1 0 -2.94 0M142.6 46.08a1.97 1.97 0 1 0 3.94 0a1.97 1.97 0 1 0 -3.94 0M150.26 61.9a2.6 2.6 0 1 0 5.2 0a2.6 2.6 0 1 0 -5.2 0M137.11 73.72a2.52 2.52 0 1 0 5.04 0a2.52 2.52 0 1 0 -5.04 0M121.46 65.35a1.99 1.99 0 1 0 3.98 0a1.99 1.99 0 1 0 -3.98 0M122.64 65.42a2.26 2.26 0 1 0 4.52 0a2.26 2.26 0 1 0 -4.52 0M145.14 68.5a2.54 2.54 0 1 0 5.08 0a2.54 2.54 0 1 0 -5.08 0M124.77 81.98a2.55 2.55 0 1 0 5.11 0a2.55 2.55 0 1 0 -5.11 0M136.54 59.97a2.05 2.05 0 1 0 4.09 0a2.05 2.05 0 1 0 -4.09 0M144.22 88.4a1.13 1.13 0 1 0 2.26 0a1.13 1.13 0 1 0 -2.26 0M141.48 63.52a1.5 1.5 0 1 0 3.01 0a1.5 1.5 0 1 0 -3.01 0M159.46 65.94a2.19 2.19 0 1 0 4.39 0a2.19 2.19 0 1 0 -4.39 0M139.72 72.07a2.43 2.43 0 1 0 4.87 0a2.43 2.43 0 1 0 -4.87 0M154.53 57.27a1.77 1.77 0 1 0 3.54 0a1.77 1.77 0 1 0 -3.54 0M151.93 79.08a2.06 2.06 0 1 0 4.12 0a2.06 2.06 0 1 0 -4.12 0M125.65 65.36a1.55 1.55 0 1 0 3.09 0a1.55 1.55 0 1 0 -3.09 0M150.29 71.82a1.86 1.86 0 1 0 3.71 0a1.86 1.86 0 1 0 -3.71 0M147.51 47.85a1.78 1.78 0 1 0 3.56 0a1.78 1.78 0 1 0 -3.56 0M127.86 56.35a1.76 1.76 0 1 0 3.51 0a1.76 1.76 0 1 0 -3.51 0M139.92 66.72a2.24 2.24 0 1 0 4.48 0a2.24 2.24 0 1 0 -4.48 0M142.93 53.63a2 2 0 1 0 3.99 0a2 2 0 1 0 -3.99 0M140.24 84.75a2.29 2.29 0 1 0 4.57 0a2.29 2.29 0 1 0 -4.57 0M140.85 76a2.5 2.5 0 1 0 5 0a2.5 2.5 0 1 0 -5 0M137.92 50.3a2.3 2.3 0 1 0 4.6 0a2.3 2.3 0 1 0 -4.6 0M136.42 52.02a2.24 2.24 0 1 0 4.48 0a2.24 2.24 0 1 0 -4.48 0M146.73 69.64a2.05 2.05 0 1 0 4.11 0a2.05 2.05 0 1 0 -4.11 0"/>
<path fill="#ffa800" opacity="0.9" d="M153.35 48.21a0.37 0.37 0 1 0 0.73 0a0.37 0.37 0 1 0 -0.73 0M143.22 51.14a0.6 0.6 0 1 0 1.2 0a0.6 0.6 0 1 0 -1.2 0M130.5 76.04a0.52 0.52 0 1 0 1.04 0a0.52 0.52 0 1 0 -1.04 0M139.03 64.52a0.74 0.74 0 1 0 1.47 0a0.74 0.74 0 1 0 -1.47 0M155.75 55.83a0.78 0.78 0 1 0 1.56 0a0.78 0.78 0 1 0 -1.56 0M151.18 70.48a0.4 0.4 0 1 0 0.81 0a0.4 0.4 0 1 0 -0.81 0M122.55 64.64a0.67 0.67 0 1 0 1.35 0a0.67 0.67 0 1 0 -1.35 0M129.03 71.12a0.4 0.4 0 1 0 0.8 0a0.4 0.4 0 1 0 -0.8 0M135.53 72.33a0.74 0.74 0 1 0 1.49 0a0.74 0.74 0 1 0 -1.49 0M143.81 61.99a0.42 0.42 0 1 0 0.84 0a0.42 0.42 0 1 0 -0.84 0M125.33 57.38a0.43 0.43 0 1 0 0.87 0a0.43 0.43 0 1 0 -0.87 0M139.6 64.18a0.4 0.4 0 1 0 0.8 0a0.4 0.4 0 1 0 -0.8 0M138.42 59.67a0.67 0.67 0 1 0 1.34 0a0.67 0.67 0 1 0 -1.34 0M140.38 54.07a0.74 0.74 0 1 0 1.48 0a0.74 0.74 0 1 0 -1.48 0M122.59 75.51a0.7 0.7 0 1 0 1.41 0a0.7 0.7 0 1 0 -1.41 0M128.03 72.22a0.71 0.71 0 1 0 1.42 0a0.71 0.71 0 1 0 -1.42 0M137.33 74.59a0.71 0.71 0 1 0 1.43 0a0.71 0.71 0 1 0 -1.43 0M156.01 73.06a0.4 0.4 0 1 0 0.79 0a0.4 0.4 0 1 0 -0.79 0M144.63 61.36a0.49 0.49 0 1 0 0.99 0a0.49 0.49 0 1 0 -0.99 0M124.63 55.37a0.55 0.55 0 1 0 1.1 0a0.55 0.55 0 1 0 -1.1 0M131.77 65.48a0.37 0.37 0 1 0 0.74 0a0.37 0.37 0 1 0 -0.74 0M147.8 50.8a0.44 0.44 0 1 0 0.88 0a0.44 0.44 0 1 0 -0.88 0M159.66 53.39a0.48 0.48 0 1 0 0.96 0a0.48 0.48 0 1 0 -0.96 0M152.04 47.83a0.49 0.49 0 1 0 0.98 0a0.49 0.49 0 1 0 -0.98 0M138.84 60.21a0.63 0.63 0 1 0 1.27 0a0.63 0.63 0 1 0 -1.27 0M142.16 66.15a0.54 0.54 0 1 0 1.09 0a0.54 0.54 0 1 0 -1.09 0M145.97 60.59a0.53 0.53 0 1 0 1.07 0a0.53 0.53 0 1 0 -1.07 0M146.79 62.04a0.71 0.71 0 1 0 1.41 0a0.71 0.71 0 1 0 -1.41 0M137.16 60.76a0.77 0.77 0 1 0 1.53 0a0.77 0.77 0 1 0 -1.53 0M152.77 55.4a0.57 0.57 0 1 0 1.13 0a0.57 0.57 0 1 0 -1.13 0M146.32 48.4a0.74 0.74 0 1 0 1.48 0a0.74 0.74 0 1 0 -1.48 0"/>
<path fill="#ffb400" opacity="0.9" d="M148.11 60.46a0.64 0.64 0 1 0 1.28 0a0.64 0.64 0 1 0 -1.28 0M121.72 56.93a0.64 0.64 0 1 0 1.28 0a0.64 0.64 0 1 0 -1.28 0M126.17 66.02a0.41 0.41 0 1 0 0.82 0a0.41 0.41 0 1 0 -0.82 0M141.38 58.78a0.73 0.73 0 1 0 1.47 0a0.73 0.73 0 1 0 -1.47 0M133.96 51.9a0.43 0.43 0 1 0 0.86 0a0.43 0.43 0 1 0 -0.86 0M155.76 55.67a0.76 0.76 0 1 0 1.53 0a0.76 0.76 0 1 0 -1.53 0M149.36 49.24a0.74 0.74 0 1 0 1.47 0a0.74 0.74 0 1 0 -1.47 0M146.69 51.29a0.44 0.44 0 1 0 0.88 0a0.44 0.44 0 1 0 -0.88 0M137.68 64.03a0.58 0.58 0 1 0 1.16 0a0.58 0.58 0 1 0 -1.16 0M121.68 72.2a0.55 0.55 0 1 0 1.11 0a0.55 0.55 0 1 0 -1.11 0M134.68 78.74a0.46 0.46 0 1 0 0.92 0a0.46 0.46 0 1 0 -0.92 0M139.39 66.41a0.45 0.45 0 1 0 0.9 0a0.45 0.45 0 1 0 -0.9 0M146.63 63.46a0.72 0.72 0 1 0 1.44 0a0.72 0.72 0 1 0 -1.44 0M142.77 61.81a0.51 0.51 0 1 0 1.02 0a0.51 0.51 0 1 0 -1.02 0M150.71 73.19a0.68 0.68 0 1 0 1.35 0a0.68 0.68 0 1 0 -1.35 0M150.68 63.68a0.48 0.48 0 1 0 0.96 0a0.48 0.48 0 1 0 -0.96 0M123.04 65.43a0.47 0.47 0 1 0 0.95 0a0.47 0.47 0 1 0 -0.95 0M120.73 75.34a0.42 0.42 0 1 0 0.84 0a0.42 0.42 0 1 0 -0.84 0M120.97 77.15a0.51 0.51 0 1 0 1.02 0a0.51 0.51 0 1 0 -1.02 0M131.96 65.58a0.79 0.79 0 1 0 1.59 0a0.79 0.79 0 1 0 -1.59 0M140.92 72.58a0.76 0.76 0 1 0 1.52 0a0.76 0.76 0 1 0 -1.52 0M150.06 52.58a0.37 0.37 0 1 0 0.74 0a0.37 0.37 0 1 0 -0.74 0M132.68 58.38a0.8 0.8 0 1 0 1.59 0a0.8 0.8 0 1 0 -1.59 0M135.46 81.01a0.54 0.54 0 1 0 1.08 0a0.54 0.54 0 1 0 -1.08 0M122.42 79.14a0.68 0.68 0 1 0 1.36 0a0.68 0.68 0 1 0 -1.36 0M132.52 64.14a0.41 0.41 0 1 0 0.83 0a0.41 0.41 0 1 0 -0.83 0M145.11 64.06a0.52 0.52 0 1 0 1.04 0a0.52 0.52 0 1 0 -1.04 0M139.86 75.99a0.52 0.52 0 1 0 1.05 0a0.52 0.52 0 1 0 -1.05 0M147.23 59.65a0.49 0.49 0 1 0 0.99 0a0.49 0.49 0 1 0 -0.99 0M132.74 61.14a0.48 0.48 0 1 0 0.95 0a0.48 0.48 0 1 0 -0.95 0M139.78 46.56a0.55 0.55 0 1 0 1.1 0a0.55 0.55 0 1 0 -1.1 0M146.52 66.32a0.61 0.61 0 1 0 1.22 0a0.61 0.61 0 1 0 -1.22 0M131.07 65.84a0.61 0.61 0 1 0 1.22 0a0.61 0.61 0 1 0 -1.22 0M130.4 80.32a0.55 0.55 0 1 0 1.1 0a0.55 0.55 0 1 0 -1.1 0M155.49 54.54a0.53 0.53 0 1 0 1.06 0a0.53 0.53 0 1 0 -1.06 0M139.3 50.01a0.73 0.73 0 1 0 1.47 0a0.73 0.73 0 1 0 -1.47 0M134.6 74.93a0.6 0.6 0 1 0 1.21 0a0.6 0.6 0 1 0 -1.21 0M128.4 82.51a0.42 0.42 0 1 0 0.85 0a0.42 0.42 0 1 0 -0.85 0M136.73 57.46a0.78 0.78 0 1 0 1.55 0a0.78 0.78 0 1 0 -1.55 0M126.34 69.94a0.47 0.47 0 1 0 0.94 0a0.47 0.47 0 1 0 -0.94 0M145.49 45.43a0.79 0.79 0 1 0 1.59 0a0.79 0.79 0 1 0 -1.59 0M137.6 74.52a0.42 0.42 0 1 0 0.85 0a0.42 0.42 0 1 0 -0.85 0M156.43 70.71a0.58 0.58 0 1 0 1.15 0a0.58 0.58 0 1 0 -1.15 0"/>
<path fill="#ffc020" opacity="0.9" d="M122.79 73.24a0.52 0.52 0 1 0 1.03 0a0.52 0.52 0 1 0 -1.03 0M121.72 55.99a0.36 0.36 0 1 0 0.72 0a0.36 0.36 0 1 0 -0.72 0M127.25 69.55a0.46 0.46 0 1 0 0.91 0a0.46 0.46 0 1 0 -0.91 0M148.55 58.59a0.41 0.41 0 1 0 0.82 0a0.41 0.41 0 1 0 -0.82 0M127.78 54.43a0.43 0.43 0 1 0 0.85 0a0.43 0.43 0 1 0 -0.85 0M133.38 68.22a0.38 0.38 0 1 0 0.77 0a0.38 0.38 0 1 0 -0.77 0M127.54 74.04a0.39 0.39 0 1 0 0.79 0a0.39 0.39 0 1 0 -0.79 0M142.18 55.05a0.4 0.4 0 1 0 0.8 0a0.4 0.4 0 1 0 -0.8 0M129.85 52.86a0.64 0.64 0 1 0 1.28 0a0.64 0.64 0 1 0 -1.28 0M125.17 58.45a0.75 0.75 0 1 0 1.51 0a0.75 0.75 0 1 0 -1.51 0M138.06 67.73a0.74 0.74 0 1 0 1.48 0a0.74 0.74 0 1 0 -1.48 0M147.22 45.54a0.36 0.36 0 1 0 0.73 0a0.36 0.36 0 1 0 -0.73 0M123.83 53.59a0.43 0.43 0 1 0 0.87 0a0.43 0.43 0 1 0 -0.87 0M139.96 47.78a0.77 0.77 0 1 0 1.53 0a0.77 0.77 0 1 0 -1.53 0M157.55 55.66a0.35 0.35 0 1 0 0.7 0a0.35 0.35 0 1 0 -0.7 0M127.35 61.93a0.7 0.7 0 1 0 1.41 0a0.7 0.7 0 1 0 -1.41 0M138.22 60.73a0.53 0.53 0 1 0 1.06 0a0.53 0.53 0 1 0 -1.06 0M129.12 73.34a0.41 0.41 0 1 0 0.83 0a0.41 0.41 0 1 0 -0.83 0M142.78 48.26a0.77 0.77 0 1 0 1.55 0a0.77 0.77 0 1 0 -1.55 0M148.77 57.76a0.71 0.71 0 1 0 1.43 0a0.71 0.71 0 1 0 -1.43 0M144.93 54.33a0.79 0.79 0 1 0 1.58 0a0.79 0.79 0 1 0 -1.58 0M135.12 63.13a0.4 0.4 0 1 0 0.79 0a0.4 0.4 0 1 0 -0.79 0M127.58 85.71a0.56 0.56 0 1 0 1.13 0a0.56 0.56 0 1 0 -1.13 0M132.18 61.84a0.64 0.64 0 1 0 1.27 0a0.64 0.64 0 1 0 -1.27 0M124.84 57.13a0.74 0.74 0 1 0 1.48 0a0.74 0.74 0 1 0 -1.48 0M147.93 56.97a0.43 0.43 0 1 0 0.86 0a0.43 0.43 0 1 0 -0.86 0M140.59 71.62a0.59 0.59 0 1 0 1.18 0a0.59 0.59 0 1 0 -1.18 0M126.17 66.57a0.55 0.55 0 1 0 1.09 0a0.55 0.55 0 1 0 -1.09 0M134.09 74a0.37 0.37 0 1 0 0.75 0a0.37 0.37 0 1 0 -0.75 0M127.44 54.04a0.61 0.61 0 1 0 1.23 0a0.61 0.61 0 1 0 -1.23 0M141.31 55.13a0.54 0.54 0 1 0 1.08 0a0.54 0.54 0 1 0 -1.08 0M135.44 72.78a0.76 0.76 0 1 0 1.52 0a0.76 0.76 0 1 0 -1.52 0M135.23 57.21a0.75 0.75 0 1 0 1.51 0a0.75 0.75 0 1 0 -1.51 0M138.18 71.19a0.44 0.44 0 1 0 0.88 0a0.44 0.44 0 1 0 -0.88 0"/>
<path fill="#f09800" opacity="0.9" d="M148.43 62.29a0.76 0.76 0 1 0 1.52 0a0.76 0.76 0 1 0 -1.52 0M121.39 62.83a0.62 0.62 0 1 0 1.24 0a0.62 0.62 0 1 0 -1.24 0M119.81 70.06a0.67 0.67 0 1 0 1.33 0a0.67 0.67 0 1 0 -1.33 0M125.08 79.4a0.76 0.76 0 1 0 1.52 0a0.76 0.76 0 1 0 -1.52 0M139.41 89.88a0.61 0.61 0 1 0 1.22 0a0.61 0.61 0 1 0 -1.22 0M140.61 65.97a0.52 0.52 0 1 0 1.04 0a0.52 0.52 0 1 0 -1.04 0M143.09 53.93a0.55 0.55 0 1 0 1.1 0a0.55 0.55 0 1 0 -1.1 0M141.23 88.3a0.75 0.75 0 1 0 1.5 0a0.75 0.75 0 1 0 -1.5 0M141.98 56.44a0.44 0.44 0 1 0 0.88 0a0.44 0.44 0 1 0 -0.88 0M143.75 57.19a0.4 0.4 0 1 0 0.8 0a0.4 0.4 0 1 0 -0.8 0M137.37 86.18a0.71 0.71 0 1 0 1.41 0a0.71 0.71 0 1 0 -1.41 0M123.45 79.35a0.57 0.57 0 1 0 1.15 0a0.57 0.57 0 1 0 -1.15 0M136.16 51.48a0.49 0.49 0 1 0 0.97 0a0.49 0.49 0 1 0 -0.97 0M132.34 65.74a0.58 0.58 0 1 0 1.15 0a0.58 0.58 0 1 0 -1.15 0M135.75 61.12a0.57 0.57 0 1 0 1.14 0a0.57 0.57 0 1 0 -1.14 0M144.88 68.98a0.36 0.36 0 1 0 0.73 0a0.36 0.36 0 1 0 -0.73 0M139.08 56.59a0.36 0.36 0 1 0 0.72 0a0.36 0.36 0 1 0 -0.72 0M152.21 65.36a0.44 0.44 0 1 0 0.87 0a0.44 0.44 0 1 0 -0.87 0M140.27 64.78a0.37 0.37 0 1 0 0.75 0a0.37 0.37 0 1 0 -0.75 0M128.99 49.47a0.5 0.5 0 1 0 1.01 0a0.5 0.5 0 1 0 -1.01 0M127.82 69.55a0.49 0.49 0 1 0 0.97 0a0.49 0.49 0 1 0 -0.97 0M127.39 76.32a0.43 0.43 0 1 0 0.86 0a0.43 0.43 0 1 0 -0.86 0M131.73 79.09a0.51 0.51 0 1 0 1.01 0a0.51 0.51 0 1 0 -1.01 0M148.37 52.73a0.78 0.78 0 1 0 1.55 0a0.78 0.78 0 1 0 -1.55 0M130.39 50.28a0.72 0.72 0 1 0 1.43 0a0.72 0.72 0 1 0 -1.43 0M140.42 61.29a0.69 0.69 0 1 0 1.38 0a0.69 0.69 0 1 0 -1.38 0M157.82 51.31a0.52 0.52 0 1 0 1.03 0a0.52 0.52 0 1 0 -1.03 0M151.02 69.89a0.76 0.76 0 1 0 1.51 0a0.76 0.76 0 1 0 -1.51 0M150.78 52.15a0.49 0.49 0 1 0 0.98 0a0.49 0.49 0 1 0 -0.98 0M145.59 56.89a0.58 0.58 0 1 0 1.16 0a0.58 0.58 0 1 0 -1.16 0M135.73 68.21a0.56 0.56 0 1 0 1.12 0a0.56 0.56 0 1 0 -1.12 0M130.11 48.34a0.52 0.52 0 1 0 1.03 0a0.52 0.52 0 1 0 -1.03 0M127.29 63.36a0.48 0.48 0 1 0 0.95 0a0.48 0.48 0 1 0 -0.95 0M133.56 63.64a0.73 0.73 0 1 0 1.47 0a0.73 0.73 0 1 0 -1.47 0M134.62 55.32a0.44 0.44 0 1 0 0.88 0a0.44 0.44 0 1 0 -0.88 0M150.22 62.96a0.49 0.49 0 1 0 0.98 0a0.49 0.49 0 1 0 -0.98 0M149.5 62.2a0.64 0.64 0 1 0 1.28 0a0.64 0.64 0 1 0 -1.28 0M155.71 68.36a0.46 0.46 0 1 0 0.92 0a0.46 0.46 0 1 0 -0.92 0M140.27 50.76a0.61 0.61 0 1 0 1.21 0a0.61 0.61 0 1 0 -1.21 0M124.62 71.53a0.72 0.72 0 1 0 1.45 0a0.72 0.72 0 1 0 -1.45 0M142.22 60.65a0.5 0.5 0 1 0 0.99 0a0.5 0.5 0 1 0 -0.99 0M119.83 63.42a0.8 0.8 0 1 0 1.6 0a0.8 0.8 0 1 0 -1.6 0M131.82 59.65a0.52 0.52 0 1 0 1.05 0a0.52 0.52 0 1 0 -1.05 0M120.44 61.1a0.67 0.67 0 1 0 1.34 0a0.67 0.67 0 1 0 -1.34 0M133.22 77.46a0.55 0.55 0 1 0 1.1 0a0.55 0.55 0 1 0 -1.1 0M157.73 57.15a0.42 0.42 0 1 0 0.83 0a0.42 0.42 0 1 0 -0.83 0M138.21 60.32a0.45 0.45 0 1 0 0.9 0a0.45 0.45 0 1 0 -0.9 0M122.43 76.46a0.72 0.72 0 1 0 1.45 0a0.72 0.72 0 1 0 -1.45 0M147.22 67.39a0.76 0.76 0 1 0 1.52 0a0.76 0.76 0 1 0 -1.52 0M136.4 62.45a0.75 0.75 0 1 0 1.49 0a0.75 0.75 0 1 0 -1.49 0M152.04 54.34a0.65 0.65 0 1 0 1.3 0a0.65 0.65 0 1 0 -1.3 0M137.39 46.47a0.74 0.74 0 1 0 1.48 0a0.74 0.74 0 1 0 -1.48 0M143.92 77.48a0.46 0.46 0 1 0 0.92 0a0.46 0.46 0 1 0 -0.92 0M138.12 76.84a0.66 0.66 0 1 0 1.33 0a0.66 0.66 0 1 0 -1.33 0M124.02 63.27a0.52 0.52 0 1 0 1.04 0a0.52 0.52 0 1 0 -1.04 0M127.15 75.63a0.51 0.51 0 1 0 1.01 0a0.51 0.51 0 1 0 -1.01 0M157.69 67.24a0.5 0.5 0 1 0 1 0a0.5 0.5 0 1 0 -1 0M124.54 70.08a0.52 0.52 0 1 0 1.04 0a0.52 0.52 0 1 0 -1.04 0M135.8 56.44a0.73 0.73 0 1 0 1.45 0a0.73 0.73 0 1 0 -1.45 0M124.33 69.21a0.6 0.6 0 1 0 1.2 0a0.6 0.6 0 1 0 -1.2 0M127 73.21a0.79 0.79 0 1 0 1.58 0a0.79 0.79 0 1 0 -1.58 0M130.12 73.09a0.42 0.42 0 1 0 0.84 0a0.42 0.42 0 1 0 -0.84 0"/>
<path fill="#ffd040" opacity="0.9" d="M121.14 69.63a0.93 0.93 0 1 0 1.87 0a0.93 0.93 0 1 0 -1.87 0M133.52 62.02a1.04 1.04 0 1 0 2.08 0a1.04 1.04 0 1 0 -2.08 0M142.32 69.2a0.95 0.95 0 1 0 1.91 0a0.95 0.95 0 1 0 -1.91 0M123.11 61.51a0.95 0.95 0 1 0 1.9 0a0.95 0.95 0 1 0 -1.9 0M130.42 87.97a0.79 0.79 0 1 0 1.59 0a0.79 0.79 0 1 0 -1.59 0M146.39 53.09a0.91 0.91 0 1 0 1.83 0a0.91 0.91 0 1 0 -1.83 0M130.72 71.8a0.71 0.71 0 1 0 1.43 0a0.71 0.71 0 1 0 -1.43 0M134.9 71.34a0.87 0.87 0 1 0 1.75 0a0.87 0.87 0 1 0 -1.75 0M130.84 60.49a0.89 0.89 0 1 0 1.79 0a0.89 0.89 0 1 0 -1.79 0M126.4 49.86a0.86 0.86 0 1 0 1.72 0a0.86 0.86 0 1 0 -1.72 0M129.56 73.46a0.85 0.85 0 1 0 1.7 0a0.85 0.85 0 1 0 -1.7 0M130.28 56.89a0.71 0.71 0 1 0 1.43 0a0.71 0.71 0 1 0 -1.43 0M128.67 65.63a0.84 0.84 0 1 0 1.68 0a0.84 0.84 0 1 0 -1.68 0M156.94 68.87a1.05 1.05 0 1 0 2.11 0a1.05 1.05 0 1 0 -2.11 0M128.66 69.88a0.75 0.75 0 1 0 1.51 0a0.75 0.75 0 1 0 -1.51 0M127.23 61.96a1.08 1.08 0 1 0 2.16 0a1.08 1.08 0 1 0 -2.16 0M121.31 63.76a0.64 0.64 0 1 0 1.28 0a0.64 0.64 0 1 0 -1.28 0M133.47 52.89a0.85 0.85 0 1 0 1.7 0a0.85 0.85 0 1 0 -1.7 0M130.44 80.24a0.88 0.88 0 1 0 1.76 0a0.88 0.88 0 1 0 -1.76 0M128.93 77.76a0.76 0.76 0 1 0 1.52 0a0.76 0.76 0 1 0 -1.52 0"/>
<circle cx="142" cy="67.7" r="24.2" fill="none" stroke="#3a2008" stroke-width="0.8" stroke-opacity="0.85"/>
<radialGradient id="g4" cx="52%" cy="48%" r="54%"><stop offset="0" stop-color="#bc6c00"/><stop offset="0.7" stop-color="#a85a00"/><stop offset="0.92" stop-color="#824200"/><stop offset="1" stop-color="#603000"/></radialGradient>
<circle cx="51.7" cy="143.8" r="24.7" fill="url(#g4)"/>
<path fill="#6a3600" opacity="0.14" d="M50.59 151.32a1.77 1.77 0 1 0 3.53 0a1.77 1.77 0 1 0 -3.53 0M52.21 145.57a2.28 2.28 0 1 0 4.56 0a2.28 2.28 0 1 0 -4.56 0M51.31 132.78a1.44 1.44 0 1 0 2.89 0a1.44 1.44 0 1 0 -2.89 0M67.99 146.82a2.28 2.28 0 1 0 4.56 0a2.28 2.28 0 1 0 -4.56 0M55.11 156.06a1.14 1.14 0 1 0 2.28 0a1.14 1.14 0 1 0 -2.28 0M43.76 144.96a1.01 1.01 0 1 0 2.02 0a1.01 1.01 0 1 0 -2.02 0M44.2 162.85a2.36 2.36 0 1 0 4.71 0a2.36 2.36 0 1 0 -4.71 0M34.91 143a1.69 1.69 0 1 0 3.38 0a1.69 1.69 0 1 0 -3.38 0M26.75 149.25a2.12 2.12 0 1 0 4.24 0a2.12 2.12 0 1 0 -4.24 0M55.88 161.67a1.29 1.29 0 1 0 2.59 0a1.29 1.29 0 1 0 -2.59 0M69.56 155.25a2.18 2.18 0 1 0 4.35 0a2.18 2.18 0 1 0 -4.35 0M53.25 143.01a1.51 1.51 0 1 0 3.03 0a1.51 1.51 0 1 0 -3.03 0M35.47 147.78a2.6 2.6 0 1 0 5.19 0a2.6 2.6 0 1 0 -5.19 0M29.33 140.02a2.04 2.04 0 1 0 4.09 0a2.04 2.04 0 1 0 -4.09 0M53.29 153.84a1.66 1.66 0 1 0 3.31 0a1.66 1.66 0 1 0 -3.31 0M40.19 149.78a1.08 1.08 0 1 0 2.16 0a1.08 1.08 0 1 0 -2.16 0M65.05 136.08a2.54 2.54 0 1 0 5.08 0a2.54 2.54 0 1 0 -5.08 0M37.79 126.28a2.3 2.3 0 1 0 4.61 0a2.3 2.3 0 1 0 -4.61 0M31.44 140.47a1.54 1.54 0 1 0 3.08 0a1.54 1.54 0 1 0 -3.08 0M36.26 154.18a2.54 2.54 0 1 0 5.08 0a2.54 2.54 0 1 0 -5.08 0M33.47 147.36a2.48 2.48 0 1 0 4.97 0a2.48 2.48 0 1 0 -4.97 0M55 138.19a2.4 2.4 0 1 0 4.81 0a2.4 2.4 0 1 0 -4.81 0M32.71 130.43a2.46 2.46 0 1 0 4.93 0a2.46 2.46 0 1 0 -4.93 0M46.42 149.07a1.61 1.61 0 1 0 3.22 0a1.61 1.61 0 1 0 -3.22 0M34.01 128.57a1.67 1.67 0 1 0 3.33 0a1.67 1.67 0 1 0 -3.33 0M39.75 163.12a1.87 1.87 0 1 0 3.73 0a1.87 1.87 0 1 0 -3.73 0M55.53 149.19a1.84 1.84 0 1 0 3.68 0a1.84 1.84 0 1 0 -3.68 0M35.19 141.84a1.57 1.57 0 1 0 3.14 0a1.57 1.57 0 1 0 -3.14 0M39.29 135.45a2.25 2.25 0 1 0 4.5 0a2.25 2.25 0 1 0 -4.5 0M29.04 134.33a1.98 1.98 0 1 0 3.96 0a1.98 1.98 0 1 0 -3.96 0M40.89 146.94a2.58 2.58 0 1 0 5.15 0a2.58 2.58 0 1 0 -5.15 0M41.35 135.09a1.32 1.32 0 1 0 2.63 0a1.32 1.32 0 1 0 -2.63 0M36.03 126.08a2.05 2.05 0 1 0 4.09 0a2.05 2.05 0 1 0 -4.09 0M57.49 142.22a2.08 2.08 0 1 0 4.16 0a2.08 2.08 0 1 0 -4.16 0M48.78 125.34a2.36 2.36 0 1 0 4.73 0a2.36 2.36 0 1 0 -4.73 0M32.62 139.84a2.44 2.44 0 1 0 4.88 0a2.44 2.44 0 1 0 -4.88 0M38.2 152.53a1.45 1.45 0 1 0 2.91 0a1.45 1.45 0 1 0 -2.91 0"/>
<path fill="#5a2c00" opacity="0.14" d="M52.77 150.57a2.51 2.51 0 1 0 5.02 0a2.51 2.51 0 1 0 -5.02 0M35.26 131.91a1.28 1.28 0 1 0 2.57 0a1.28 1.28 0 1 0 -2.57 0M57.43 154.82a1.13 1.13 0 1 0 2.26 0a1.13 1.13 0 1 0 -2.26 0M61.86 159.05a1.66 1.66 0 1 0 3.32 0a1.66 1.66 0 1 0 -3.32 0M32.66 150.87a2.45 2.45 0 1 0 4.89 0a2.45 2.45 0 1 0 -4.89 0M54.95 147.26a1.44 1.44 0 1 0 2.89 0a1.44 1.44 0 1 0 -2.89 0M31.2 133.02a1.53 1.53 0 1 0 3.06 0a1.53 1.53 0 1 0 -3.06 0M57.13 158.1a1.57 1.57 0 1 0 3.14 0a1.57 1.57 0 1 0 -3.14 0M61.1 159.35a1.47 1.47 0 1 0 2.94 0a1.47 1.47 0 1 0 -2.94 0M55.94 158.41a1.4 1.4 0 1 0 2.8 0a1.4 1.4 0 1 0 -2.8 0M42.5 138.35a1.58 1.58 0 1 0 3.16 0a1.58 1.58 0 1 0 -3.16 0M35.99 137.04a1.68 1.68 0 1 0 3.36 0a1.68 1.68 0 1 0 -3.36 0M51.02 149.33a2.18 2.18 0 1 0 4.36 0a2.18 2.18 0 1 0 -4.36 0M30.72 130.72a1.87 1.87 0 1 0 3.75 0a1.87 1.87 0 1 0 -3.75 0M38.94 137.19a1.2 1.2 0 1 0 2.39 0a1.2 1.2 0 1 0 -2.39 0M64.51 147.3a2.04 2.04 0 1 0 4.07 0a2.04 2.04 0 1 0 -4.07 0M40.84 148.58a1.05 1.05 0 1 0 2.1 0a1.05 1.05 0 1 0 -2.1 0M49.14 155.37a2.24 2.24 0 1 0 4.47 0a2.24 2.24 0 1 0 -4.47 0M37.35 125.82a1.79 1.79 0 1 0 3.58 0a1.79 1.79 0 1 0 -3.58 0M59.17 149.75a1.54 1.54 0 1 0 3.08 0a1.54 1.54 0 1 0 -3.08 0M47.04 139.48a2.23 2.23 0 1 0 4.45 0a2.23 2.23 0 1 0 -4.45 0M46.95 165.38a2.1 2.1 0 1 0 4.2 0a2.1 2.1 0 1 0 -4.2 0M50.94 145.12a1.02 1.02 0 1 0 2.04 0a1.02 1.02 0 1 0 -2.04 0M29.52 136.91a1.26 1.26 0 1 0 2.52 0a1.26 1.26 0 1 0 -2.52 0M43.78 146.25a1.78 1.78 0 1 0 3.56 0a1.78 1.78 0 1 0 -3.56 0M62.73 130.03a1.07 1.07 0 1 0 2.13 0a1.07 1.07 0 1 0 -2.13 0M69.55 154.38a1.48 1.48 0 1 0 2.95 0a1.48 1.48 0 1 0 -2.95 0M52.54 131.05a2.21 2.21 0 1 0 4.43 0a2.21 2.21 0 1 0 -4.43 0M59.66 132.08a1.18 1.18 0 1 0 2.37 0a1.18 1.18 0 1 0 -2.37 0M45.9 128.6a2.02 2.02 0 1 0 4.04 0a2.02 2.02 0 1 0 -4.04 0M64.12 136.85a2.28 2.28 0 1 0 4.55 0a2.28 2.28 0 1 0 -4.55 0M60.47 162.88a2.13 2.13 0 1 0 4.26 0a2.13 2.13 0 1 0 -4.26 0M65.98 132.57a2.04 2.04 0 1 0 4.07 0a2.04 2.04 0 1 0 -4.07 0M52.06 120.6a2.08 2.08 0 1 0 4.17 0a2.08 2.08 0 1 0 -4.17 0M41.33 156.86a2.08 2.08 0 1 0 4.16 0a2.08 2.08 0 1 0 -4.16 0M55.83 125.22a1.12 1.12 0 1 0 2.25 0a1.12 1.12 0 1 0 -2.25 0M43.76 155.22a1.97 1.97 0 1 0 3.93 0a1.97 1.97 0 1 0 -3.93 0M29.24 140.74a2.28 2.28 0 1 0 4.56 0a2.28 2.28 0 1 0 -4.56 0M58.48 122.32a1.29 1.29 0 1 0 2.58 0a1.29 1.29 0 1 0 -2.58 0M68.53 142.25a2.22 2.22 0 1 0 4.43 0a2.22 2.22 0 1 0 -4.43 0M40.86 123.41a2.43 2.43 0 1 0 4.87 0a2.43 2.43 0 1 0 -4.87 0M45.75 131.27a2.19 2.19 0 1 0 4.39 0a2.19 2.19 0 1 0 -4.39 0M46.97 145.22a2.44 2.44 0 1 0 4.87 0a2.44 2.44 0 1 0 -4.87 0"/>
<path fill="#ffa800" opacity="0.9" d="M39.07 152.1a0.56 0.56 0 1 0 1.11 0a0.56 0.56 0 1 0 -1.11 0M63.41 161.6a0.52 0.52 0 1 0 1.04 0a0.52 0.52 0 1 0 -1.04 0M44.31 156.68a0.48 0.48 0 1 0 0.95 0a0.48 0.48 0 1 0 -0.95 0M45.49 132.21a0.42 0.42 0 1 0 0.84 0a0.42 0.42 0 1 0 -0.84 0M63.52 126.44a0.56 0.56 0 1 0 1.13 0a0.56 0.56 0 1 0 -1.13 0M60.94 149.51a0.65 0.65 0 1 0 1.29 0a0.65 0.65 0 1 0 -1.29 0M68.58 159.37a0.38 0.38 0 1 0 0.76 0a0.38 0.38 0 1 0 -0.76 0M53.18 155.97a0.35 0.35 0 1 0 0.71 0a0.35 0.35 0 1 0 -0.71 0M46.91 157.78a0.43 0.43 0 1 0 0.86 0a0.43 0.43 0 1 0 -0.86 0M50.81 154.72a0.64 0.64 0 1 0 1.28 0a0.64 0.64 0 1 0 -1.28 0M68.96 144.69a0.46 0.46 0 1 0 0.92 0a0.46 0.46 0 1 0 -0.92 0M56.06 166.22a0.65 0.65 0 1 0 1.31 0a0.65 0.65 0 1 0 -1.31 0M44.52 130.73a0.77 0.77 0 1 0 1.55 0a0.77 0.77 0 1 0 -1.55 0M69.61 143.25a0.55 0.55 0 1 0 1.1 0a0.55 0.55 0 1 0 -1.1 0M42.33 159.69a0.57 0.57 0 1 0 1.13 0a0.57 0.57 0 1 0 -1.13 0M58.04 165.3a0.35 0.35 0 1 0 0.71 0a0.35 0.35 0 1 0 -0.71 0M63.14 157.13a0.62 0.62 0 1 0 1.24 0a0.62 0.62 0 1 0 -1.24 0M48.36 165.44a0.74 0.74 0 1 0 1.48 0a0.74 0.74 0 1 0 -1.48 0M63.88 141.73a0.74 0.74 0 1 0 1.48 0a0.74 0.74 0 1 0 -1.48 0M74.51 144.49a0.6 0.6 0 1 0 1.2 0a0.6 0.6 0 1 0 -1.2 0M43.45 163.2a0.71 0.71 0 1 0 1.42 0a0.71 0.71 0 1 0 -1.42 0M43.26 155.92a0.67 0.67 0 1 0 1.34 0a0.67 0.67 0 1 0 -1.34 0M69.26 135.04a0.68 0.68 0 1 0 1.37 0a0.68 0.68 0 1 0 -1.37 0M44.06 127.43a0.72 0.72 0 1 0 1.44 0a0.72 0.72 0 1 0 -1.44 0M50.13 132.26a0.59 0.59 0 1 0 1.19 0a0.59 0.59 0 1 0 -1.19 0M45.18 122.1a0.63 0.63 0 1 0 1.25 0a0.63 0.63 0 1 0 -1.25 0M50.46 149.42a0.74 0.74 0 1 0 1.49 0a0.74 0.74 0 1 0 -1.49 0M43.24 137.13a0.72 0.72 0 1 0 1.43 0a0.72 0.72 0 1 0 -1.43 0M67.61 147.05a0.48 0.48 0 1 0 0.95 0a0.48 0.48 0 1 0 -0.95 0M74.3 142.26a0.71 0.71 0 1 0 1.43 0a0.71 0.71 0 1 0 -1.43 0M48.88 159.17a0.68 0.68 0 1 0 1.36 0a0.68 0.68 0 1 0 -1.36 0M54.39 123.44a0.67 0.67 0 1 0 1.33 0a0.67 0.67 0 1 0 -1.33 0M68.45 129.9a0.74 0.74 0 1 0 1.49 0a0.74 0.74 0 1 0 -1.49 0M50.42 151.25a0.57 0.57 0 1 0 1.15 0a0.57 0.57 0 1 0 -1.15 0M47.3 123.84a0.6 0.6 0 1 0 1.2 0a0.6 0.6 0 1 0 -1.2 0M70.06 133.85a0.5 0.5 0 1 0 1.01 0a0.5 0.5 0 1 0 -1.01 0M56.97 150.4a0.43 0.43 0 1 0 0.86 0a0.43 0.43 0 1 0 -0.86 0M48.77 159.79a0.58 0.58 0 1 0 1.15 0a0.58 0.58 0 1 0 -1.15 0M74.37 144.48a0.73 0.73 0 1 0 1.45 0a0.73 0.73 0 1 0 -1.45 0M46.38 165.1a0.47 0.47 0 1 0 0.94 0a0.47 0.47 0 1 0 -0.94 0M63.72 129.32a0.68 0.68 0 1 0 1.36 0a0.68 0.68 0 1 0 -1.36 0M71.53 142.58a0.47 0.47 0 1 0 0.94 0a0.47 0.47 0 1 0 -0.94 0M51.54 131.74a0.54 0.54 0 1 0 1.08 0a0.54 0.54 0 1 0 -1.08 0"/>
<path fill="#ffc020" opacity="0.9" d="M69.15 139.74a0.76 0.76 0 1 0 1.52 0a0.76 0.76 0 1 0 -1.52 0M52.87 134.88a0.41 0.41 0 1 0 0.82 0a0.41 0.41 0 1 0 -0.82 0M65.53 148.1a0.36 0.36 0 1 0 0.72 0a0.36 0.36 0 1 0 -0.72 0M51.9 164.16a0.39 0.39 0 1 0 0.77 0a0.39 0.39 0 1 0 -0.77 0M62.43 162.77a0.74 0.74 0 1 0 1.48 0a0.74 0.74 0 1 0 -1.48 0M69.17 148.13a0.7 0.7 0 1 0 1.41 0a0.7 0.7 0 1 0 -1.41 0M45.15 126.47a0.77 0.77 0 1 0 1.54 0a0.77 0.77 0 1 0 -1.54 0M47.48 133.53a0.72 0.72 0 1 0 1.43 0a0.72 0.72 0 1 0 -1.43 0M45.16 144.04a0.6 0.6 0 1 0 1.2 0a0.6 0.6 0 1 0 -1.2 0M49.08 154.28a0.43 0.43 0 1 0 0.86 0a0.43 0.43 0 1 0 -0.86 0M73.19 146.29a0.5 0.5 0 1 0 1 0a0.5 0.5 0 1 0 -1 0M55.35 137.19a0.74 0.74 0 1 0 1.48 0a0.74 0.74 0 1 0 -1.48 0M60.38 152.43a0.77 0.77 0 1 0 1.54 0a0.77 0.77 0 1 0 -1.54 0M35.31 134.34a0.46 0.46 0 1 0 0.91 0a0.46 0.46 0 1 0 -0.91 0M49.84 126.55a0.77 0.77 0 1 0 1.54 0a0.77 0.77 0 1 0 -1.54 0M61.13 127.48a0.47 0.47 0 1 0 0.93 0a0.47 0.47 0 1 0 -0.93 0M46.56 126.18a0.74 0.74 0 1 0 1.49 0a0.74 0.74 0 1 0 -1.49 0M50.79 149.41a0.44 0.44 0 1 0 0.89 0a0.44 0.44 0 1 0 -0.89 0M68.98 129.26a0.65 0.65 0 1 0 1.3 0a0.65 0.65 0 1 0 -1.3 0M31.86 131.09a0.59 0.59 0 1 0 1.18 0a0.59 0.59 0 1 0 -1.18 0M49.59 123.4a0.53 0.53 0 1 0 1.06 0a0.53 0.53 0 1 0 -1.06 0M71.26 136.14a0.56 0.56 0 1 0 1.12 0a0.56 0.56 0 1 0 -1.12 0M50.64 131.37a0.42 0.42 0 1 0 0.84 0a0.42 0.42 0 1 0 -0.84 0M60.69 125.57a0.61 0.61 0 1 0 1.22 0a0.61 0.61 0 1 0 -1.22 0M58.19 124.99a0.78 0.78 0 1 0 1.56 0a0.78 0.78 0 1 0 -1.56 0M39.08 144.96a0.69 0.69 0 1 0 1.37 0a0.69 0.69 0 1 0 -1.37 0M57.79 156.81a0.45 0.45 0 1 0 0.9 0a0.45 0.45 0 1 0 -0.9 0M50.72 122.3a0.47 0.47 0 1 0 0.93 0a0.47 0.47 0 1 0 -0.93 0M40.96 124.97a0.63 0.63 0 1 0 1.26 0a0.63 0.63 0 1 0 -1.26 0M57.36 163.41a0.57 0.57 0 1 0 1.15 0a0.57 0.57 0 1 0 -1.15 0M60.51 123.89a0.59 0.59 0 1 0 1.19 0a0.59 0.59 0 1 0 -1.19 0M59.03 132.46a0.62 0.62 0 1 0 1.24 0a0.62 0.62 0 1 0 -1.24 0M67.43 130.7a0.55 0.55 0 1 0 1.1 0a0.55 0.55 0 1 0 -1.1 0M54.17 143.08a0.51 0.51 0 1 0 1.03 0a0.51 0.51 0 1 0 -1.03 0M43.02 164.82a0.42 0.42 0 1 0 0.84 0a0.42 0.42 0 1 0 -0.84 0M60.71 143.62a0.68 0.68 0 1 0 1.36 0a0.68 0.68 0 1 0 -1.36 0M54.07 153.12a0.39 0.39 0 1 0 0.78 0a0.39 0.39 0 1 0 -0.78 0M49.32 165.83a0.49 0.49 0 1 0 0.98 0a0.49 0.49 0 1 0 -0.98 0M69.34 141.76a0.38 0.38 0 1 0 0.75 0a0.38 0.38 0 1 0 -0.75 0M62.2 142.94a0.4 0.4 0 1 0 0.79 0a0.4 0.4 0 1 0 -0.79 0"/>
<path fill="#f09800" opacity="0.9" d="M51.52 127.47a0.75 0.75 0 1 0 1.5 0a0.75 0.75 0 1 0 -1.5 0M49.21 133.89a0.5 0.5 0 1 0 1 0a0.5 0.5 0 1 0 -1 0M59.07 158.93a0.63 0.63 0 1 0 1.26 0a0.63 0.63 0 1 0 -1.26 0M62.12 136.96a0.62 0.62 0 1 0 1.24 0a0.62 0.62 0 1 0 -1.24 0M70.43 131.35a0.49 0.49 0 1 0 0.99 0a0.49 0.49 0 1 0 -0.99 0M49.62 166.29a0.4 0.4 0 1 0 0.79 0a0.4 0.4 0 1 0 -0.79 0M53.82 152.09a0.59 0.59 0 1 0 1.19 0a0.59 0.59 0 1 0 -1.19 0M46.5 143.88a0.42 0.42 0 1 0 0.85 0a0.42 0.42 0 1 0 -0.85 0M53.91 146.86a0.45 0.45 0 1 0 0.89 0a0.45 0.45 0 1 0 -0.89 0M35 132.12a0.45 0.45 0 1 0 0.91 0a0.45 0.45 0 1 0 -0.91 0M36.46 160.1a0.72 0.72 0 1 0 1.45 0a0.72 0.72 0 1 0 -1.45 0M72.77 138.24a0.37 0.37 0 1 0 0.74 0a0.37 0.37 0 1 0 -0.74 0M44.28 151.89a0.71 0.71 0 1 0 1.41 0a0.71 0.71 0 1 0 -1.41 0M64 144.09a0.38 0.38 0 1 0 0.76 0a0.38 0.38 0 1 0 -0.76 0M32.33 137.85a0.78 0.78 0 1 0 1.57 0a0.78 0.78 0 1 0 -1.57 0M55.88 143.96a0.7 0.7 0 1 0 1.4 0a0.7 0.7 0 1 0 -1.4 0M51.18 162.37a0.8 0.8 0 1 0 1.6 0a0.8 0.8 0 1 0 -1.6 0M46.98 156.36a0.63 0.63 0 1 0 1.26 0a0.63 0.63 0 1 0 -1.26 0M49.35 129.18a0.59 0.59 0 1 0 1.17 0a0.59 0.59 0 1 0 -1.17 0M52.95 132.64a0.55 0.55 0 1 0 1.1 0a0.55 0.55 0 1 0 -1.1 0M52.33 134.64a0.61 0.61 0 1 0 1.22 0a0.61 0.61 0 1 0 -1.22 0M50.47 149.32a0.4 0.4 0 1 0 0.8 0a0.4 0.4 0 1 0 -0.8 0M67.35 145.24a0.61 0.61 0 1 0 1.22 0a0.61 0.61 0 1 0 -1.22 0M43.02 150.89a0.68 0.68 0 1 0 1.36 0a0.68 0.68 0 1 0 -1.36 0M49.63 137.1a0.67 0.67 0 1 0 1.33 0a0.67 0.67 0 1 0 -1.33 0M58.08 149.38a0.59 0.59 0 1 0 1.18 0a0.59 0.59 0 1 0 -1.18 0M65.65 136.52a0.46 0.46 0 1 0 0.92 0a0.46 0.46 0 1 0 -0.92 0M43.26 134.38a0.66 0.66 0 1 0 1.32 0a0.66 0.66 0 1 0 -1.32 0M48.4 166.06a0.51 0.51 0 1 0 1.03 0a0.51 0.51 0 1 0 -1.03 0M69.45 130.81a0.66 0.66 0 1 0 1.33 0a0.66 0.66 0 1 0 -1.33 0M61.6 151.36a0.58 0.58 0 1 0 1.16 0a0.58 0.58 0 1 0 -1.16 0M52.04 160.93a0.49 0.49 0 1 0 0.97 0a0.49 0.49 0 1 0 -0.97 0M34.02 155.95a0.52 0.52 0 1 0 1.03 0a0.52 0.52 0 1 0 -1.03 0M38.19 137.03a0.53 0.53 0 1 0 1.07 0a0.53 0.53 0 1 0 -1.07 0M51.05 153.46a0.59 0.59 0 1 0 1.18 0a0.59 0.59 0 1 0 -1.18 0M71.93 139.69a0.76 0.76 0 1 0 1.53 0a0.76 0.76 0 1 0 -1.53 0M66.4 141.12a0.61 0.61 0 1 0 1.22 0a0.61 0.61 0 1 0 -1.22 0M43.76 153.84a0.66 0.66 0 1 0 1.32 0a0.66 0.66 0 1 0 -1.32 0M59.67 165.69a0.47 0.47 0 1 0 0.94 0a0.47 0.47 0 1 0 -0.94 0M34.5 147.15a0.52 0.52 0 1 0 1.04 0a0.52 0.52 0 1 0 -1.04 0M73.99 142.42a0.48 0.48 0 1 0 0.96 0a0.48 0.48 0 1 0 -0.96 0M57.35 141.5a0.52 0.52 0 1 0 1.03 0a0.52 0.52 0 1 0 -1.03 0M42.67 144.6a0.74 0.74 0 1 0 1.48 0a0.74 0.74 0 1 0 -1.48 0M56.48 123a0.63 0.63 0 1 0 1.27 0a0.63 0.63 0 1 0 -1.27 0M67.03 150.17a0.7 0.7 0 1 0 1.41 0a0.7 0.7 0 1 0 -1.41 0M65.02 149.99a0.5 0.5 0 1 0 0.99 0a0.5 0.5 0 1 0 -0.99 0M54.79 158.63a0.4 0.4 0 1 0 0.81 0a0.4 0.4 0 1 0 -0.81 0"/>
<path fill="#ffb400" opacity="0.9" d="M48.17 165.64a0.68 0.68 0 1 0 1.36 0a0.68 0.68 0 1 0 -1.36 0M47.77 126.54a0.58 0.58 0 1 0 1.15 0a0.58 0.58 0 1 0 -1.15 0M53.49 148.18a0.37 0.37 0 1 0 0.74 0a0.37 0.37 0 1 0 -0.74 0M44.92 131.62a0.66 0.66 0 1 0 1.33 0a0.66 0.66 0 1 0 -1.33 0M62.92 146.07a0.63 0.63 0 1 0 1.25 0a0.63 0.63 0 1 0 -1.25 0M43 139.31a0.75 0.75 0 1 0 1.51 0a0.75 0.75 0 1 0 -1.51 0M50.84 123.37a0.47 0.47 0 1 0 0.94 0a0.47 0.47 0 1 0 -0.94 0M53.98 122.38a0.43 0.43 0 1 0 0.85 0a0.43 0.43 0 1 0 -0.85 0M51.46 139.23a0.48 0.48 0 1 0 0.97 0a0.48 0.48 0 1 0 -0.97 0M56.39 156.71a0.36 0.36 0 1 0 0.72 0a0.36 0.36 0 1 0 -0.72 0M67.91 141a0.62 0.62 0 1 0 1.24 0a0.62 0.62 0 1 0 -1.24 0M67.93 152.14a0.41 0.41 0 1 0 0.83 0a0.41 0.41 0 1 0 -0.83 0M71.05 154.85a0.59 0.59 0 1 0 1.19 0a0.59 0.59 0 1 0 -1.19 0M61.24 145.92a0.72 0.72 0 1 0 1.44 0a0.72 0.72 0 1 0 -1.44 0M37.59 141.81a0.58 0.58 0 1 0 1.16 0a0.58 0.58 0 1 0 -1.16 0M47.92 141.98a0.47 0.47 0 1 0 0.94 0a0.47 0.47 0 1 0 -0.94 0M43.77 122.22a0.49 0.49 0 1 0 0.98 0a0.49 0.49 0 1 0 -0.98 0M55.11 130.93a0.55 0.55 0 1 0 1.1 0a0.55 0.55 0 1 0 -1.1 0M69.96 144.11a0.76 0.76 0 1 0 1.53 0a0.76 0.76 0 1 0 -1.53 0M37.56 143.13a0.37 0.37 0 1 0 0.75 0a0.37 0.37 0 1 0 -0.75 0M64.94 141.63a0.35 0.35 0 1 0 0.7 0a0.35 0.35 0 1 0 -0.7 0M51.2 136.67a0.56 0.56 0 1 0 1.11 0a0.56 0.56 0 1 0 -1.11 0M48.13 157.08a0.63 0.63 0 1 0 1.25 0a0.63 0.63 0 1 0 -1.25 0M67.06 141.24a0.79 0.79 0 1 0 1.57 0a0.79 0.79 0 1 0 -1.57 0M45.17 133.46a0.75 0.75 0 1 0 1.49 0a0.75 0.75 0 1 0 -1.49 0M56.65 152.7a0.45 0.45 0 1 0 0.9 0a0.45 0.45 0 1 0 -0.9 0M48.65 136.01a0.77 0.77 0 1 0 1.54 0a0.77 0.77 0 1 0 -1.54 0M70.05 139.18a0.64 0.64 0 1 0 1.29 0a0.64 0.64 0 1 0 -1.29 0M51.03 122.14a0.42 0.42 0 1 0 0.85 0a0.42 0.42 0 1 0 -0.85 0M52.51 130.28a0.43 0.43 0 1 0 0.87 0a0.43 0.43 0 1 0 -0.87 0M56.8 155.55a0.38 0.38 0 1 0 0.76 0a0.38 0.38 0 1 0 -0.76 0M73.37 141.14a0.76 0.76 0 1 0 1.53 0a0.76 0.76 0 1 0 -1.53 0M50.92 155.8a0.54 0.54 0 1 0 1.08 0a0.54 0.54 0 1 0 -1.08 0M69.17 136.75a0.48 0.48 0 1 0 0.96 0a0.48 0.48 0 1 0 -0.96 0M42.58 148.66a0.74 0.74 0 1 0 1.47 0a0.74 0.74 0 1 0 -1.47 0M54.94 159.66a0.38 0.38 0 1 0 0.76 0a0.38 0.38 0 1 0 -0.76 0M59.1 126.56a0.45 0.45 0 1 0 0.9 0a0.45 0.45 0 1 0 -0.9 0M66.67 143.37a0.6 0.6 0 1 0 1.19 0a0.6 0.6 0 1 0 -1.19 0M61.61 146.69a0.53 0.53 0 1 0 1.06 0a0.53 0.53 0 1 0 -1.06 0M62.4 134.04a0.6 0.6 0 1 0 1.21 0a0.6 0.6 0 1 0 -1.21 0"/>
<path fill="#ffd040" opacity="0.9" d="M72.25 141.73a1.09 1.09 0 1 0 2.18 0a1.09 1.09 0 1 0 -2.18 0M54.18 158.01a0.91 0.91 0 1 0 1.83 0a0.91 0.91 0 1 0 -1.83 0M54.65 127.9a0.75 0.75 0 1 0 1.5 0a0.75 0.75 0 1 0 -1.5 0M44.34 151.92a1.01 1.01 0 1 0 2.02 0a1.01 1.01 0 1 0 -2.02 0M54.06 161a0.76 0.76 0 1 0 1.52 0a0.76 0.76 0 1 0 -1.52 0M59.6 154.94a1 1 0 1 0 2.01 0a1 1 0 1 0 -2.01 0M52.99 165.92a0.87 0.87 0 1 0 1.75 0a0.87 0.87 0 1 0 -1.75 0M41.41 137.23a0.91 0.91 0 1 0 1.82 0a0.91 0.91 0 1 0 -1.82 0M39.81 159.42a0.86 0.86 0 1 0 1.72 0a0.86 0.86 0 1 0 -1.72 0M69.03 146.91a0.98 0.98 0 1 0 1.96 0a0.98 0.98 0 1 0 -1.96 0M61.6 122.97a0.69 0.69 0 1 0 1.39 0a0.69 0.69 0 1 0 -1.39 0M58.11 165.22a0.84 0.84 0 1 0 1.67 0a0.84 0.84 0 1 0 -1.67 0M52.07 135.61a1.08 1.08 0 1 0 2.17 0a1.08 1.08 0 1 0 -2.17 0M51.42 133.05a0.74 0.74 0 1 0 1.47 0a0.74 0.74 0 1 0 -1.47 0M54.13 130.72a1.04 1.04 0 1 0 2.08 0a1.04 1.04 0 1 0 -2.08 0M44.07 149.02a0.75 0.75 0 1 0 1.5 0a0.75 0.75 0 1 0 -1.5 0M56.11 138.04a0.73 0.73 0 1 0 1.46 0a0.73 0.73 0 1 0 -1.46 0M35.46 156.35a0.69 0.69 0 1 0 1.39 0a0.69 0.69 0 1 0 -1.39 0M47.78 122.36a1.01 1.01 0 1 0 2.03 0a1.01 1.01 0 1 0 -2.03 0M35.47 148.04a0.96 0.96 0 1 0 1.92 0a0.96 0.96 0 1 0 -1.92 0"/>
<circle cx="51.7" cy="143.8" r="24.4" fill="none" stroke="#3a2008" stroke-width="0.8" stroke-opacity="0.85"/>
<radialGradient id="g5" cx="52%" cy="48%" r="54%"><stop offset="0" stop-color="#bc6c00"/><stop offset="0.7" stop-color="#a85a00"/><stop offset="0.92" stop-color="#824200"/><stop offset="1" stop-color="#603000"/></radialGradient>
<circle cx="111" cy="143.8" r="24.7" fill="url(#g5)"/>
<path fill="#5a2c00" opacity="0.14" d="M94.16 129.68a2.34 2.34 0 1 0 4.69 0a2.34 2.34 0 1 0 -4.69 0M110.46 132.23a2.44 2.44 0 1 0 4.88 0a2.44 2.44 0 1 0 -4.88 0M121.58 154.31a1.61 1.61 0 1 0 3.22 0a1.61 1.61 0 1 0 -3.22 0M118.75 150.81a1.65 1.65 0 1 0 3.31 0a1.65 1.65 0 1 0 -3.31 0M130.7 144.04a2.24 2.24 0 1 0 4.48 0a2.24 2.24 0 1 0 -4.48 0M118.81 141.43a1.46 1.46 0 1 0 2.93 0a1.46 1.46 0 1 0 -2.93 0M126.46 139.66a1.29 1.29 0 1 0 2.58 0a1.29 1.29 0 1 0 -2.58 0M103.42 151.13a1.42 1.42 0 1 0 2.84 0a1.42 1.42 0 1 0 -2.84 0M98.59 162.3a1.95 1.95 0 1 0 3.91 0a1.95 1.95 0 1 0 -3.91 0M113.81 154.44a2.52 2.52 0 1 0 5.04 0a2.52 2.52 0 1 0 -5.04 0M106.9 142.74a2.13 2.13 0 1 0 4.26 0a2.13 2.13 0 1 0 -4.26 0M92.43 127.7a2.21 2.21 0 1 0 4.42 0a2.21 2.21 0 1 0 -4.42 0M103.83 146.42a2.28 2.28 0 1 0 4.57 0a2.28 2.28 0 1 0 -4.57 0M103.6 153.03a2.01 2.01 0 1 0 4.02 0a2.01 2.01 0 1 0 -4.02 0M123.49 149.3a1.73 1.73 0 1 0 3.45 0a1.73 1.73 0 1 0 -3.45 0M112.71 130.34a2.22 2.22 0 1 0 4.43 0a2.22 2.22 0 1 0 -4.43 0M103.92 152.18a1.76 1.76 0 1 0 3.52 0a1.76 1.76 0 1 0 -3.52 0M125.97 139.24a1.32 1.32 0 1 0 2.64 0a1.32 1.32 0 1 0 -2.64 0M105.21 124.08a1.99 1.99 0 1 0 3.97 0a1.99 1.99 0 1 0 -3.97 0M117.62 162.37a2.01 2.01 0 1 0 4.02 0a2.01 2.01 0 1 0 -4.02 0M125.32 148a1.27 1.27 0 1 0 2.53 0a1.27 1.27 0 1 0 -2.53 0M115.31 138.88a1.77 1.77 0 1 0 3.54 0a1.77 1.77 0 1 0 -3.54 0M95.07 132.14a2.15 2.15 0 1 0 4.3 0a2.15 2.15 0 1 0 -4.3 0M92.27 159.59a1.95 1.95 0 1 0 3.91 0a1.95 1.95 0 1 0 -3.91 0M105.26 159.61a2.06 2.06 0 1 0 4.11 0a2.06 2.06 0 1 0 -4.11 0M120.04 140.96a2.25 2.25 0 1 0 4.5 0a2.25 2.25 0 1 0 -4.5 0M126.87 143a1.03 1.03 0 1 0 2.05 0a1.03 1.03 0 1 0 -2.05 0M109.43 125.75a1 1 0 1 0 2.01 0a1 1 0 1 0 -2.01 0M90.2 137.41a2.42 2.42 0 1 0 4.84 0a2.42 2.42 0 1 0 -4.84 0"/>
<path fill="#6a3600" opacity="0.14" d="M118.8 163.72a1.26 1.26 0 1 0 2.51 0a1.26 1.26 0 1 0 -2.51 0M112.35 135.43a1.2 1.2 0 1 0 2.41 0a1.2 1.2 0 1 0 -2.41 0M119.75 141.75a1.48 1.48 0 1 0 2.96 0a1.48 1.48 0 1 0 -2.96 0M107.1 137.97a2.31 2.31 0 1 0 4.62 0a2.31 2.31 0 1 0 -4.62 0M96.13 145.39a1.76 1.76 0 1 0 3.51 0a1.76 1.76 0 1 0 -3.51 0M100.06 155.45a1.59 1.59 0 1 0 3.17 0a1.59 1.59 0 1 0 -3.17 0M129.8 134.04a1.82 1.82 0 1 0 3.64 0a1.82 1.82 0 1 0 -3.64 0M119.02 136.45a1.17 1.17 0 1 0 2.35 0a1.17 1.17 0 1 0 -2.35 0M109.73 122.82a1.06 1.06 0 1 0 2.12 0a1.06 1.06 0 1 0 -2.12 0M115.87 141.43a1.82 1.82 0 1 0 3.64 0a1.82 1.82 0 1 0 -3.64 0M102.64 150.67a2.48 2.48 0 1 0 4.96 0a2.48 2.48 0 1 0 -4.96 0M96.9 140.12a1.49 1.49 0 1 0 2.98 0a1.49 1.49 0 1 0 -2.98 0M114.02 126.06a2.59 2.59 0 1 0 5.19 0a2.59 2.59 0 1 0 -5.19 0M112.68 148.2a1.05 1.05 0 1 0 2.1 0a1.05 1.05 0 1 0 -2.1 0M108.45 130.04a1.73 1.73 0 1 0 3.46 0a1.73 1.73 0 1 0 -3.46 0M111.22 136.34a1.6 1.6 0 1 0 3.19 0a1.6 1.6 0 1 0 -3.19 0M130.16 143.7a2.54 2.54 0 1 0 5.07 0a2.54 2.54 0 1 0 -5.07 0M104.57 131.52a1.47 1.47 0 1 0 2.93 0a1.47 1.47 0 1 0 -2.93 0M101.28 148.91a2.32 2.32 0 1 0 4.63 0a2.32 2.32 0 1 0 -4.63 0M98.86 141.83a2.39 2.39 0 1 0 4.78 0a2.39 2.39 0 1 0 -4.78 0M116.91 158.72a1.1 1.1 0 1 0 2.2 0a1.1 1.1 0 1 0 -2.2 0M95.77 158.72a2.34 2.34 0 1 0 4.67 0a2.34 2.34 0 1 0 -4.67 0M106.3 166.97a2.53 2.53 0 1 0 5.06 0a2.53 2.53 0 1 0 -5.06 0M111.25 130.53a1.74 1.74 0 1 0 3.48 0a1.74 1.74 0 1 0 -3.48 0M117.14 126.53a1.56 1.56 0 1 0 3.11 0a1.56 1.56 0 1 0 -3.11 0M96.97 127.92a1.56 1.56 0 1 0 3.12 0a1.56 1.56 0 1 0 -3.12 0M120.52 125.51a2.56 2.56 0 1 0 5.12 0a2.56 2.56 0 1 0 -5.12 0M94.84 160.35a2.11 2.11 0 1 0 4.21 0a2.11 2.11 0 1 0 -4.21 0M125.07 137.21a1.48 1.48 0 1 0 2.97 0a1.48 1.48 0 1 0 -2.97 0M88.18 136.62a2.15 2.15 0 1 0 4.31 0a2.15 2.15 0 1 0 -4.31 0M118.26 145.42a2 2 0 1 0 4 0a2 2 0 1 0 -4 0M94.94 139.27a1.61 1.61 0 1 0 3.22 0a1.61 1.61 0 1 0 -3.22 0M98.85 153.7a2.37 2.37 0 1 0 4.74 0a2.37 2.37 0 1 0 -4.74 0M121.48 129.28a2.54 2.54 0 1 0 5.09 0a2.54 2.54 0 1 0 -5.09 0M96.86 139.82a1.87 1.87 0 1 0 3.74 0a1.87 1.87 0 1 0 -3.74 0M99.15 158.96a2.31 2.31 0 1 0 4.62 0a2.31 2.31 0 1 0 -4.62 0M90.74 154.11a1.75 1.75 0 1 0 3.5 0a1.75 1.75 0 1 0 -3.5 0M116.51 155.92a2.53 2.53 0 1 0 5.06 0a2.53 2.53 0 1 0 -5.06 0M126.65 140.14a2.31 2.31 0 1 0 4.63 0a2.31 2.31 0 1 0 -4.63 0M101.44 131.46a1.91 1.91 0 1 0 3.81 0a1.91 1.91 0 1 0 -3.81 0M102.71 137.96a1.69 1.69 0 1 0 3.37 0a1.69 1.69 0 1 0 -3.37 0M124.77 141.39a2.56 2.56 0 1 0 5.11 0a2.56 2.56 0 1 0 -5.11 0M108.16 167.03a1.4 1.4 0 1 0 2.8 0a1.4 1.4 0 1 0 -2.8 0M131.89 146.62a1.79 1.79 0 1 0 3.57 0a1.79 1.79 0 1 0 -3.57 0M110.86 141.41a1.39 1.39 0 1 0 2.78 0a1.39 1.39 0 1 0 -2.78 0M105.12 144.53a1.43 1.43 0 1 0 2.86 0a1.43 1.43 0 1 0 -2.86 0M122.38 163.11a1.79 1.79 0 1 0 3.58 0a1.79 1.79 0 1 0 -3.58 0M117.79 152.69a1.98 1.98 0 1 0 3.96 0a1.98 1.98 0 1 0 -3.96 0M108.97 139.99a1.58 1.58 0 1 0 3.16 0a1.58 1.58 0 1 0 -3.16 0M106.33 143a1.95 1.95 0 1 0 3.9 0a1.95 1.95 0 1 0 -3.9 0M100.05 122.52a2.37 2.37 0 1 0 4.75 0a2.37 2.37 0 1 0 -4.75 0"/>
<path fill="#ffb400" opacity="0.9" d="M119.03 130.18a0.75 0.75 0 1 0 1.51 0a0.75 0.75 0 1 0 -1.51 0M97.53 146.06a0.57 0.57 0 1 0 1.13 0a0.57 0.57 0 1 0 -1.13 0M96.23 125.62a0.8 0.8 0 1 0 1.59 0a0.8 0.8 0 1 0 -1.59 0M106.11 128.84a0.62 0.62 0 1 0 1.25 0a0.62 0.62 0 1 0 -1.25 0M102.54 148.66a0.37 0.37 0 1 0 0.74 0a0.37 0.37 0 1 0 -0.74 0M95.61 134.02a0.53 0.53 0 1 0 1.06 0a0.53 0.53 0 1 0 -1.06 0M114.07 146.25a0.44 0.44 0 1 0 0.88 0a0.44 0.44 0 1 0 -0.88 0M100.62 146.24a0.38 0.38 0 1 0 0.76 0a0.38 0.38 0 1 0 -0.76 0M110 156.17a0.69 0.69 0 1 0 1.38 0a0.69 0.69 0 1 0 -1.38 0M103.16 129.47a0.4 0.4 0 1 0 0.81 0a0.4 0.4 0 1 0 -0.81 0M104.11 132.74a0.68 0.68 0 1 0 1.36 0a0.68 0.68 0 1 0 -1.36 0M108.67 134.49a0.43 0.43 0 1 0 0.86 0a0.43 0.43 0 1 0 -0.86 0M96.61 126.82a0.43 0.43 0 1 0 0.86 0a0.43 0.43 0 1 0 -0.86 0M95.73 142.99a0.39 0.39 0 1 0 0.78 0a0.39 0.39 0 1 0 -0.78 0M107.36 150.91a0.62 0.62 0 1 0 1.24 0a0.62 0.62 0 1 0 -1.24 0M103.68 123.94a0.47 0.47 0 1 0 0.95 0a0.47 0.47 0 1 0 -0.95 0M98.58 144.34a0.71 0.71 0 1 0 1.42 0a0.71 0.71 0 1 0 -1.42 0M104.9 155.53a0.47 0.47 0 1 0 0.94 0a0.47 0.47 0 1 0 -0.94 0M114.63 157.21a0.61 0.61 0 1 0 1.23 0a0.61 0.61 0 1 0 -1.23 0M95.77 132.28a0.55 0.55 0 1 0 1.1 0a0.55 0.55 0 1 0 -1.1 0M128.73 149.55a0.59 0.59 0 1 0 1.18 0a0.59 0.59 0 1 0 -1.18 0M121.7 128.1a0.79 0.79 0 1 0 1.58 0a0.79 0.79 0 1 0 -1.58 0M100.77 156.49a0.47 0.47 0 1 0 0.95 0a0.47 0.47 0 1 0 -0.95 0M113.41 129.92a0.72 0.72 0 1 0 1.43 0a0.72 0.72 0 1 0 -1.43 0M103.21 148.99a0.57 0.57 0 1 0 1.14 0a0.57 0.57 0 1 0 -1.14 0M108.6 145.45a0.72 0.72 0 1 0 1.43 0a0.72 0.72 0 1 0 -1.43 0M121.73 138.5a0.38 0.38 0 1 0 0.76 0a0.38 0.38 0 1 0 -0.76 0M102.22 123.91a0.57 0.57 0 1 0 1.13 0a0.57 0.57 0 1 0 -1.13 0M95.57 157.93a0.76 0.76 0 1 0 1.52 0a0.76 0.76 0 1 0 -1.52 0M95.27 151.52a0.49 0.49 0 1 0 0.97 0a0.49 0.49 0 1 0 -0.97 0M118.3 145.32a0.55 0.55 0 1 0 1.09 0a0.55 0.55 0 1 0 -1.09 0M121.38 128.55a0.75 0.75 0 1 0 1.5 0a0.75 0.75 0 1 0 -1.5 0M96.37 145.64a0.76 0.76 0 1 0 1.53 0a0.76 0.76 0 1 0 -1.53 0M96.49 140.05a0.39 0.39 0 1 0 0.78 0a0.39 0.39 0 1 0 -0.78 0M93.27 160.04a0.75 0.75 0 1 0 1.5 0a0.75 0.75 0 1 0 -1.5 0M103.56 138.75a0.38 0.38 0 1 0 0.77 0a0.38 0.38 0 1 0 -0.77 0M92.47 146.31a0.78 0.78 0 1 0 1.57 0a0.78 0.78 0 1 0 -1.57 0M112.31 128.72a0.71 0.71 0 1 0 1.41 0a0.71 0.71 0 1 0 -1.41 0M122.18 151.01a0.52 0.52 0 1 0 1.04 0a0.52 0.52 0 1 0 -1.04 0M96.08 155.8a0.67 0.67 0 1 0 1.33 0a0.67 0.67 0 1 0 -1.33 0M91.97 131.79a0.62 0.62 0 1 0 1.23 0a0.62 0.62 0 1 0 -1.23 0M107.09 125.73a0.59 0.59 0 1 0 1.18 0a0.59 0.59 0 1 0 -1.18 0M98.35 133.54a0.51 0.51 0 1 0 1.02 0a0.51 0.51 0 1 0 -1.02 0M93.21 144.47a0.6 0.6 0 1 0 1.2 0a0.6 0.6 0 1 0 -1.2 0M103.24 145.39a0.4 0.4 0 1 0 0.8 0a0.4 0.4 0 1 0 -0.8 0"/>
<path fill="#ffc020" opacity="0.9" d="M90.3 148.25a0.73 0.73 0 1 0 1.45 0a0.73 0.73 0 1 0 -1.45 0M105.09 129.27a0.64 0.64 0 1 0 1.28 0a0.64 0.64 0 1 0 -1.28 0M94.61 138.77a0.59 0.59 0 1 0 1.18 0a0.59 0.59 0 1 0 -1.18 0M120.6 155.34a0.66 0.66 0 1 0 1.32 0a0.66 0.66 0 1 0 -1.32 0M96.3 144.73a0.76 0.76 0 1 0 1.52 0a0.76 0.76 0 1 0 -1.52 0M118.48 153.54a0.76 0.76 0 1 0 1.52 0a0.76 0.76 0 1 0 -1.52 0M93.19 137.54a0.38 0.38 0 1 0 0.76 0a0.38 0.38 0 1 0 -0.76 0M112.35 165.16a0.58 0.58 0 1 0 1.17 0a0.58 0.58 0 1 0 -1.17 0M118.04 152.28a0.55 0.55 0 1 0 1.11 0a0.55 0.55 0 1 0 -1.11 0M122.14 158.1a0.73 0.73 0 1 0 1.45 0a0.73 0.73 0 1 0 -1.45 0M104.68 165.76a0.71 0.71 0 1 0 1.42 0a0.71 0.71 0 1 0 -1.42 0M95.96 157.65a0.64 0.64 0 1 0 1.28 0a0.64 0.64 0 1 0 -1.28 0M115.61 129.23a0.58 0.58 0 1 0 1.17 0a0.58 0.58 0 1 0 -1.17 0M87.95 145.22a0.35 0.35 0 1 0 0.7 0a0.35 0.35 0 1 0 -0.7 0M100.1 128.43a0.66 0.66 0 1 0 1.31 0a0.66 0.66 0 1 0 -1.31 0M106.02 146.47a0.77 0.77 0 1 0 1.55 0a0.77 0.77 0 1 0 -1.55 0M112.1 145.73a0.66 0.66 0 1 0 1.32 0a0.66 0.66 0 1 0 -1.32 0M89.64 145.98a0.72 0.72 0 1 0 1.44 0a0.72 0.72 0 1 0 -1.44 0M119.83 154.04a0.78 0.78 0 1 0 1.55 0a0.78 0.78 0 1 0 -1.55 0M115.63 160.6a0.69 0.69 0 1 0 1.39 0a0.69 0.69 0 1 0 -1.39 0M106.01 165.91a0.56 0.56 0 1 0 1.13 0a0.56 0.56 0 1 0 -1.13 0M129.58 146.49a0.58 0.58 0 1 0 1.16 0a0.58 0.58 0 1 0 -1.16 0M110.66 124.57a0.75 0.75 0 1 0 1.51 0a0.75 0.75 0 1 0 -1.51 0M117.06 148.27a0.79 0.79 0 1 0 1.58 0a0.79 0.79 0 1 0 -1.58 0M125.5 131.3a0.46 0.46 0 1 0 0.92 0a0.46 0.46 0 1 0 -0.92 0M120.59 151.29a0.71 0.71 0 1 0 1.42 0a0.71 0.71 0 1 0 -1.42 0M107.06 161.74a0.43 0.43 0 1 0 0.87 0a0.43 0.43 0 1 0 -0.87 0M106.87 150.47a0.68 0.68 0 1 0 1.36 0a0.68 0.68 0 1 0 -1.36 0M106.9 136.87a0.42 0.42 0 1 0 0.84 0a0.42 0.42 0 1 0 -0.84 0M114.56 134.24a0.52 0.52 0 1 0 1.04 0a0.52 0.52 0 1 0 -1.04 0M108.54 159.77a0.35 0.35 0 1 0 0.7 0a0.35 0.35 0 1 0 -0.7 0M99.55 149.03a0.5 0.5 0 1 0 1 0a0.5 0.5 0 1 0 -1 0M122.17 152.96a0.52 0.52 0 1 0 1.03 0a0.52 0.52 0 1 0 -1.03 0M125.91 130.02a0.55 0.55 0 1 0 1.1 0a0.55 0.55 0 1 0 -1.1 0M116.99 148.76a0.61 0.61 0 1 0 1.21 0a0.61 0.61 0 1 0 -1.21 0M89.11 142.01a0.72 0.72 0 1 0 1.45 0a0.72 0.72 0 1 0 -1.45 0M89.95 134.86a0.6 0.6 0 1 0 1.21 0a0.6 0.6 0 1 0 -1.21 0M116.63 152.86a0.49 0.49 0 1 0 0.98 0a0.49 0.49 0 1 0 -0.98 0M102.31 130.83a0.73 0.73 0 1 0 1.45 0a0.73 0.73 0 1 0 -1.45 0M108.37 151.23a0.54 0.54 0 1 0 1.08 0a0.54 0.54 0 1 0 -1.08 0M115.86 148.46a0.73 0.73 0 1 0 1.46 0a0.73 0.73 0 1 0 -1.46 0M124.09 150.45a0.64 0.64 0 1 0 1.29 0a0.64 0.64 0 1 0 -1.29 0M104.66 131.65a0.78 0.78 0 1 0 1.55 0a0.78 0.78 0 1 0 -1.55 0"/>
<path fill="#ffa800" opacity="0.9" d="M95.18 151.6a0.38 0.38 0 1 0 0.76 0a0.38 0.38 0 1 0 -0.76 0M113.02 164.91a0.65 0.65 0 1 0 1.3 0a0.65 0.65 0 1 0 -1.3 0M129.92 146.99a0.8 0.8 0 1 0 1.6 0a0.8 0.8 0 1 0 -1.6 0M108.98 138.85a0.45 0.45 0 1 0 0.9 0a0.45 0.45 0 1 0 -0.9 0M121.78 152.9a0.48 0.48 0 1 0 0.95 0a0.48 0.48 0 1 0 -0.95 0M103.83 149.27a0.64 0.64 0 1 0 1.29 0a0.64 0.64 0 1 0 -1.29 0M126.78 153.6a0.74 0.74 0 1 0 1.48 0a0.74 0.74 0 1 0 -1.48 0M97.14 145.44a0.59 0.59 0 1 0 1.19 0a0.59 0.59 0 1 0 -1.19 0M108.48 140.02a0.5 0.5 0 1 0 1.01 0a0.5 0.5 0 1 0 -1.01 0M110.51 130.59a0.66 0.66 0 1 0 1.32 0a0.66 0.66 0 1 0 -1.32 0M115.86 152.81a0.61 0.61 0 1 0 1.22 0a0.61 0.61 0 1 0 -1.22 0M115.97 156.75a0.68 0.68 0 1 0 1.36 0a0.68 0.68 0 1 0 -1.36 0M91.32 147.29a0.57 0.57 0 1 0 1.15 0a0.57 0.57 0 1 0 -1.15 0M117.22 135.28a0.55 0.55 0 1 0 1.1 0a0.55 0.55 0 1 0 -1.1 0M128.83 129a0.41 0.41 0 1 0 0.82 0a0.41 0.41 0 1 0 -0.82 0M107.18 151.61a0.56 0.56 0 1 0 1.12 0a0.56 0.56 0 1 0 -1.12 0M126.83 128.93a0.54 0.54 0 1 0 1.08 0a0.54 0.54 0 1 0 -1.08 0M102.28 162.56a0.75 0.75 0 1 0 1.51 0a0.75 0.75 0 1 0 -1.51 0M98.84 126.92a0.55 0.55 0 1 0 1.1 0a0.55 0.55 0 1 0 -1.1 0M118.08 126.43a0.68 0.68 0 1 0 1.36 0a0.68 0.68 0 1 0 -1.36 0M104.77 132.58a0.59 0.59 0 1 0 1.19 0a0.59 0.59 0 1 0 -1.19 0M110.36 139.88a0.37 0.37 0 1 0 0.75 0a0.37 0.37 0 1 0 -0.75 0M119.84 126.06a0.47 0.47 0 1 0 0.94 0a0.47 0.47 0 1 0 -0.94 0M129.91 135.91a0.5 0.5 0 1 0 1 0a0.5 0.5 0 1 0 -1 0M128.41 140.36a0.41 0.41 0 1 0 0.81 0a0.41 0.41 0 1 0 -0.81 0M98.75 124.66a0.63 0.63 0 1 0 1.26 0a0.63 0.63 0 1 0 -1.26 0M119.72 146.07a0.69 0.69 0 1 0 1.38 0a0.69 0.69 0 1 0 -1.38 0M93.42 147a0.71 0.71 0 1 0 1.42 0a0.71 0.71 0 1 0 -1.42 0M114.6 126.41a0.59 0.59 0 1 0 1.18 0a0.59 0.59 0 1 0 -1.18 0M114.61 130.3a0.66 0.66 0 1 0 1.31 0a0.66 0.66 0 1 0 -1.31 0M98.23 142.06a0.36 0.36 0 1 0 0.72 0a0.36 0.36 0 1 0 -0.72 0M96.17 139.78a0.65 0.65 0 1 0 1.3 0a0.65 0.65 0 1 0 -1.3 0M99.22 134.24a0.73 0.73 0 1 0 1.46 0a0.73 0.73 0 1 0 -1.46 0M130.58 154.58a0.63 0.63 0 1 0 1.27 0a0.63 0.63 0 1 0 -1.27 0M111.55 132.72a0.61 0.61 0 1 0 1.21 0a0.61 0.61 0 1 0 -1.21 0M125.67 149.96a0.49 0.49 0 1 0 0.99 0a0.49 0.49 0 1 0 -0.99 0M94.93 129.89a0.35 0.35 0 1 0 0.7 0a0.35 0.35 0 1 0 -0.7 0M119.02 124.54a0.51 0.51 0 1 0 1.03 0a0.51 0.51 0 1 0 -1.03 0M91.8 148.78a0.46 0.46 0 1 0 0.92 0a0.46 0.46 0 1 0 -0.92 0M125.56 138.03a0.4 0.4 0 1 0 0.81 0a0.4 0.4 0 1 0 -0.81 0M98.64 135.56a0.57 0.57 0 1 0 1.15 0a0.57 0.57 0 1 0 -1.15 0M132.65 138.49a0.57 0.57 0 1 0 1.14 0a0.57 0.57 0 1 0 -1.14 0M128.93 136.22a0.4 0.4 0 1 0 0.81 0a0.4 0.4 0 1 0 -0.81 0M111.22 136.84a0.48 0.48 0 1 0 0.97 0a0.48 0.48 0 1 0 -0.97 0M100.52 149.27a0.42 0.42 0 1 0 0.83 0a0.42 0.42 0 1 0 -0.83 0M97.23 160.46a0.72 0.72 0 1 0 1.44 0a0.72 0.72 0 1 0 -1.44 0M123.94 160.17a0.46 0.46 0 1 0 0.93 0a0.46 0.46 0 1 0 -0.93 0M96.58 147.57a0.37 0.37 0 1 0 0.75 0a0.37 0.37 0 1 0 -0.75 0M128.31 136.75a0.45 0.45 0 1 0 0.89 0a0.45 0.45 0 1 0 -0.89 0M98.36 157.68a0.43 0.43 0 1 0 0.87 0a0.43 0.43 0 1 0 -0.87 0M113.33 156.22a0.48 0.48 0 1 0 0.96 0a0.48 0.48 0 1 0 -0.96 0M112.3 146.2a0.68 0.68 0 1 0 1.36 0a0.68 0.68 0 1 0 -1.36 0M121.53 155.93a0.35 0.35 0 1 0 0.71 0a0.35 0.35 0 1 0 -0.71 0M125.94 149.54a0.66 0.66 0 1 0 1.32 0a0.66 0.66 0 1 0 -1.32 0M107.29 152.89a0.64 0.64 0 1 0 1.28 0a0.64 0.64 0 1 0 -1.28 0M94.37 136.8a0.38 0.38 0 1 0 0.75 0a0.38 0.38 0 1 0 -0.75 0M109.7 131.79a0.63 0.63 0 1 0 1.26 0a0.63 0.63 0 1 0 -1.26 0M104.08 125.18a0.37 0.37 0 1 0 0.74 0a0.37 0.37 0 1 0 -0.74 0M107.46 131.14a0.78 0.78 0 1 0 1.56 0a0.78 0.78 0 1 0 -1.56 0M109.56 156.62a0.75 0.75 0 1 0 1.49 0a0.75 0.75 0 1 0 -1.49 0M95.76 126.04a0.66 0.66 0 1 0 1.32 0a0.66 0.66 0 1 0 -1.32 0M100.03 161.52a0.53 0.53 0 1 0 1.07 0a0.53 0.53 0 1 0 -1.07 0M107.04 150.19a0.48 0.48 0 1 0 0.96 0a0.48 0.48 0 1 0 -0.96 0M107.13 153.26a0.71 0.71 0 1 0 1.41 0a0.71 0.71 0 1 0 -1.41 0M123.74 133.66a0.56 0.56 0 1 0 1.12 0a0.56 0.56 0 1 0 -1.12 0"/>
<path fill="#f09800" opacity="0.9" d="M102.96 140.31a0.75 0.75 0 1 0 1.49 0a0.75 0.75 0 1 0 -1.49 0M94.44 143.16a0.74 0.74 0 1 0 1.49 0a0.74 0.74 0 1 0 -1.49 0M94.14 158.15a0.66 0.66 0 1 0 1.31 0a0.66 0.66 0 1 0 -1.31 0M111.63 151.69a0.72 0.72 0 1 0 1.44 0a0.72 0.72 0 1 0 -1.44 0M88.73 147.93a0.5 0.5 0 1 0 0.99 0a0.5 0.5 0 1 0 -0.99 0M125.48 127.74a0.42 0.42 0 1 0 0.84 0a0.42 0.42 0 1 0 -0.84 0M111.58 148.56a0.68 0.68 0 1 0 1.35 0a0.68 0.68 0 1 0 -1.35 0M108.23 159.64a0.7 0.7 0 1 0 1.4 0a0.7 0.7 0 1 0 -1.4 0M108.22 132.61a0.39 0.39 0 1 0 0.78 0a0.39 0.39 0 1 0 -0.78 0M111.46 138.76a0.55 0.55 0 1 0 1.1 0a0.55 0.55 0 1 0 -1.1 0M100.85 155.72a0.59 0.59 0 1 0 1.17 0a0.59 0.59 0 1 0 -1.17 0M106.73 132.21a0.6 0.6 0 1 0 1.21 0a0.6 0.6 0 1 0 -1.21 0M101.98 136.49a0.41 0.41 0 1 0 0.81 0a0.41 0.41 0 1 0 -0.81 0M99.99 147.55a0.43 0.43 0 1 0 0.85 0a0.43 0.43 0 1 0 -0.85 0M127.8 147.46a0.67 0.67 0 1 0 1.33 0a0.67 0.67 0 1 0 -1.33 0M93.09 143.67a0.55 0.55 0 1 0 1.1 0a0.55 0.55 0 1 0 -1.1 0M113.24 125.64a0.49 0.49 0 1 0 0.98 0a0.49 0.49 0 1 0 -0.98 0M97.29 130.38a0.54 0.54 0 1 0 1.08 0a0.54 0.54 0 1 0 -1.08 0M104.63 138.74a0.68 0.68 0 1 0 1.36 0a0.68 0.68 0 1 0 -1.36 0M101.01 152.35a0.64 0.64 0 1 0 1.28 0a0.64 0.64 0 1 0 -1.28 0M99.38 162.29a0.37 0.37 0 1 0 0.75 0a0.37 0.37 0 1 0 -0.75 0M127.32 140.25a0.79 0.79 0 1 0 1.59 0a0.79 0.79 0 1 0 -1.59 0M115.19 166.55a0.36 0.36 0 1 0 0.71 0a0.36 0.36 0 1 0 -0.71 0M87.61 141.03a0.58 0.58 0 1 0 1.16 0a0.58 0.58 0 1 0 -1.16 0M124.18 148.61a0.74 0.74 0 1 0 1.47 0a0.74 0.74 0 1 0 -1.47 0M92.63 153.25a0.76 0.76 0 1 0 1.52 0a0.76 0.76 0 1 0 -1.52 0M122.67 160.46a0.73 0.73 0 1 0 1.45 0a0.73 0.73 0 1 0 -1.45 0M123.12 150.42a0.54 0.54 0 1 0 1.08 0a0.54 0.54 0 1 0 -1.08 0M96.83 128.48a0.38 0.38 0 1 0 0.77 0a0.38 0.38 0 1 0 -0.77 0M108.55 139.69a0.75 0.75 0 1 0 1.5 0a0.75 0.75 0 1 0 -1.5 0M111.27 146.82a0.78 0.78 0 1 0 1.56 0a0.78 0.78 0 1 0 -1.56 0M107.33 161.51a0.79 0.79 0 1 0 1.59 0a0.79 0.79 0 1 0 -1.59 0M120.78 147.48a0.39 0.39 0 1 0 0.79 0a0.39 0.39 0 1 0 -0.79 0M119.66 154.41a0.35 0.35 0 1 0 0.7 0a0.35 0.35 0 1 0 -0.7 0M98.84 161.66a0.7 0.7 0 1 0 1.41 0a0.7 0.7 0 1 0 -1.41 0M115.23 144.1a0.65 0.65 0 1 0 1.31 0a0.65 0.65 0 1 0 -1.31 0M108.36 140.74a0.4 0.4 0 1 0 0.81 0a0.4 0.4 0 1 0 -0.81 0M105.06 132.69a0.69 0.69 0 1 0 1.38 0a0.69 0.69 0 1 0 -1.38 0M102.02 160.9a0.56 0.56 0 1 0 1.12 0a0.56 0.56 0 1 0 -1.12 0M124.04 151.11a0.43 0.43 0 1 0 0.86 0a0.43 0.43 0 1 0 -0.86 0M120.82 156.41a0.77 0.77 0 1 0 1.54 0a0.77 0.77 0 1 0 -1.54 0M108.82 146.35a0.47 0.47 0 1 0 0.94 0a0.47 0.47 0 1 0 -0.94 0M119.95 129.9a0.63 0.63 0 1 0 1.27 0a0.63 0.63 0 1 0 -1.27 0M106.01 141.2a0.43 0.43 0 1 0 0.85 0a0.43 0.43 0 1 0 -0.85 0M98.4 163.85a0.38 0.38 0 1 0 0.76 0a0.38 0.38 0 1 0 -0.76 0M103.84 142.22a0.55 0.55 0 1 0 1.09 0a0.55 0.55 0 1 0 -1.09 0M108.21 161.07a0.37 0.37 0 1 0 0.74 0a0.37 0.37 0 1 0 -0.74 0"/>
<path fill="#ffd040" opacity="0.9" d="M127.37 128.07a0.79 0.79 0 1 0 1.58 0a0.79 0.79 0 1 0 -1.58 0M94.94 127.01a1.04 1.04 0 1 0 2.08 0a1.04 1.04 0 1 0 -2.08 0M108.87 137.71a0.63 0.63 0 1 0 1.25 0a0.63 0.63 0 1 0 -1.25 0M125 137.8a0.88 0.88 0 1 0 1.75 0a0.88 0.88 0 1 0 -1.75 0M115.81 125.91a0.74 0.74 0 1 0 1.48 0a0.74 0.74 0 1 0 -1.48 0M109.76 131.91a0.8 0.8 0 1 0 1.6 0a0.8 0.8 0 1 0 -1.6 0M108.34 136.66a0.83 0.83 0 1 0 1.66 0a0.83 0.83 0 1 0 -1.66 0M129.51 137.45a1.1 1.1 0 1 0 2.2 0a1.1 1.1 0 1 0 -2.2 0M116.48 150.95a0.96 0.96 0 1 0 1.92 0a0.96 0.96 0 1 0 -1.92 0M109.29 159.79a1 1 0 1 0 2 0a1 1 0 1 0 -2 0M97.34 145.26a0.91 0.91 0 1 0 1.83 0a0.91 0.91 0 1 0 -1.83 0M104.71 127.42a0.7 0.7 0 1 0 1.41 0a0.7 0.7 0 1 0 -1.41 0M127.74 146.45a0.92 0.92 0 1 0 1.84 0a0.92 0.92 0 1 0 -1.84 0M88.19 145.36a0.9 0.9 0 1 0 1.81 0a0.9 0.9 0 1 0 -1.81 0M122.05 148.29a0.75 0.75 0 1 0 1.49 0a0.75 0.75 0 1 0 -1.49 0M95.89 158.82a0.93 0.93 0 1 0 1.86 0a0.93 0.93 0 1 0 -1.86 0M111.04 123.76a0.84 0.84 0 1 0 1.69 0a0.84 0.84 0 1 0 -1.69 0M122.48 163.25a0.93 0.93 0 1 0 1.86 0a0.93 0.93 0 1 0 -1.86 0M91.33 154.07a0.77 0.77 0 1 0 1.54 0a0.77 0.77 0 1 0 -1.54 0M108.42 127.21a0.68 0.68 0 1 0 1.36 0a0.68 0.68 0 1 0 -1.36 0"/>
<circle cx="111" cy="143.8" r="24.4" fill="none" stroke="#3a2008" stroke-width="0.8" stroke-opacity="0.85"/>
<text x="172" y="7.6" font-size="10" font-weight="bold" style="stroke-width:0.45px" fill="#000">b</text>
<text x="234.5" y="18" font-size="7.8" text-anchor="middle">Controls</text>
<text x="337.5" y="15" font-size="7.8" text-anchor="middle">Vaccine</text>
<text x="337.5" y="24.5" font-size="7.8" text-anchor="middle">neopeptides</text>
<text x="495.5" y="15.2" font-size="7.8" text-anchor="middle">Non-vaccine</text>
<text x="495.5" y="24.6" font-size="7.8" text-anchor="middle">neopeptides</text>
<text font-size="7.8" text-anchor="middle" transform="translate(179.2 85) rotate(-90)">GZMB (spots per 1 × 10<tspan font-size="5" dy="-2.8">5</tspan><tspan dy="2.8"> cells)</tspan></text>
<path d="M198.3 36.9H202.5V46.4H198.3" fill="none" stroke="#666" stroke-width="0.7"/>
<text x="194.8" y="39.4" font-size="7.2" text-anchor="end">120</text>
<text x="194.8" y="48.9" font-size="7.2" text-anchor="end">60</text>
<path d="M202.5 56.7V131.5H397.8" fill="none" stroke="#666" stroke-width="0.8"/>
<text x="194.8" y="134.3" font-size="7.2" text-anchor="end">0</text>
<text x="194.8" y="119.28" font-size="7.2" text-anchor="end">10</text>
<text x="194.8" y="104.26" font-size="7.2" text-anchor="end">20</text>
<text x="194.8" y="89.24" font-size="7.2" text-anchor="end">30</text>
<text x="194.8" y="74.22" font-size="7.2" text-anchor="end">40</text>
<text x="194.8" y="59.2" font-size="7.2" text-anchor="end">50</text>
<path d="M198.3 131.8H202.5M198.3 116.78H202.5M198.3 101.76H202.5M198.3 86.74H202.5M198.3 71.72H202.5M198.3 56.7H202.5" stroke="#666" stroke-width="0.7"/>
<path d="M200.2 95.5H397.8" stroke="#707070" stroke-width="0.9" stroke-dasharray="3 2"/>
<pattern id="hat" width="2" height="2" patternUnits="userSpaceOnUse"><rect width="2" height="2" fill="#dcdcdc"/><rect width="1" height="1" fill="#1a1a1a"/><rect x="1" y="1" width="1" height="1" fill="#1a1a1a"/></pattern>
<rect x="207.85" y="115.03" width="7.8" height="16.77" fill="#fff" stroke="#000" stroke-width="1"/>
<text font-size="7.75" text-anchor="end" transform="translate(214.15 139.4) rotate(-90)">DMSO</text>
<rect x="221.52" y="56.7" width="7.8" height="75.1" fill="url(#hat)"/>
<path d="M221.52 56.7V131.8H229.32V56.7" fill="none" stroke="#000" stroke-width="1"/>
<text font-size="7.75" text-anchor="end" transform="translate(227.82 139.4) rotate(-90)">PHA</text>
<rect x="235.19" y="92.5" width="7.8" height="39.3" fill="url(#hat)" stroke="#000" stroke-width="1"/>
<text font-size="7.75" text-anchor="end" transform="translate(241.49 139.4) rotate(-90)">CD3.28</text>
<rect x="248.86" y="83.64" width="7.8" height="48.16" fill="url(#hat)" stroke="#000" stroke-width="1"/>
<text font-size="7.75" text-anchor="end" transform="translate(255.16 139.4) rotate(-90)">CMV</text>
<rect x="262.03" y="114.23" width="8.8" height="17.57" fill="#000"/>
<text font-size="7.75" text-anchor="end" transform="translate(268.83 139.4) rotate(-90)">FANCFp.A353G</text>
<rect x="275.7" y="111.97" width="8.8" height="19.83" fill="#000"/>
<text font-size="7.75" text-anchor="end" transform="translate(282.5 139.4) rotate(-90)">KIAA1522p.P167R</text>
<rect x="289.37" y="109.42" width="8.8" height="22.38" fill="#000"/>
<text font-size="7.75" text-anchor="end" transform="translate(296.17 139.4) rotate(-90)">EFEMP2p.R337L</text>
<rect x="303.04" y="108.52" width="8.8" height="23.28" fill="#000"/>
<text font-size="7.75" text-anchor="end" transform="translate(309.84 139.4) rotate(-90)">SH3BP4p.N10H</text>
<rect x="316.71" y="107.32" width="8.8" height="24.48" fill="#000"/>
<text font-size="7.75" text-anchor="end" transform="translate(323.51 139.4) rotate(-90)">STK38p.P429S</text>
<rect x="330.38" y="100.26" width="8.8" height="31.54" fill="#000"/>
<text font-size="7.75" text-anchor="end" transform="translate(337.18 139.4) rotate(-90)">PRPF39p.Q318K</text>
<rect x="344.05" y="93.2" width="8.8" height="38.6" fill="#000"/>
<text font-size="7.75" text-anchor="end" transform="translate(350.85 139.4) rotate(-90)">STMN3p.E112A</text>
<rect x="357.72" y="90.19" width="8.8" height="41.61" fill="#000"/>
<text font-size="7.75" text-anchor="end" transform="translate(364.52 139.4) rotate(-90)">TESK2p.A161V</text>
<rect x="371.39" y="89.29" width="8.8" height="42.51" fill="#000"/>
<text font-size="7.75" text-anchor="end" transform="translate(378.19 139.4) rotate(-90)">TP53p.P118L</text>
<rect x="385.56" y="70.42" width="7.8" height="61.38" fill="#ff2a00" stroke="#000" stroke-width="1"/>
<text font-size="7.75" text-anchor="end" transform="translate(391.86 139.4) rotate(-90)">EGFRp.ex19del</text>
<rect x="221.52" y="38.3" width="7.8" height="8" fill="url(#hat)" stroke="#000" stroke-width="1"/>
<path d="M211.75 114.53V110.47M209.55 110.47H213.95M239.09 92V79.83M236.89 79.83H241.29M252.76 83.14V75.63M250.56 75.63H254.96M266.43 114.23V113.48M264.23 113.48H268.63M280.1 111.97V105.97M277.9 105.97H282.3M293.77 109.42V105.52M291.57 105.52H295.97M307.44 108.52V103.86M305.24 103.86H309.64M321.11 107.32V101.16M318.91 101.16H323.31M334.78 100.26V97.55M332.58 97.55H336.98M348.45 93.2V89.14M346.25 89.14H350.65M362.12 90.19V81.03M359.92 81.03H364.32M375.79 89.29V84.34M373.59 84.34H377.99M389.46 69.92V58.2M387.26 58.2H391.66" stroke="#8a8a8a" stroke-width="0.8" fill="none"/>
<path d="M211.75 131.8V135.2M225.42 131.8V135.2M239.09 131.8V135.2M252.76 131.8V135.2M266.43 131.8V135.2M280.1 131.8V135.2M293.77 131.8V135.2M307.44 131.8V135.2M321.11 131.8V135.2M334.78 131.8V135.2M348.45 131.8V135.2M362.12 131.8V135.2M375.79 131.8V135.2M389.46 131.8V135.2" stroke="#666" stroke-width="0.7"/>
<text x="225.42" y="26.3" font-size="8.4" text-anchor="middle" style="stroke-width:0.12px">*</text>
<text x="225.42" y="30" font-size="8.4" text-anchor="middle" style="stroke-width:0.12px">*</text>
<text x="225.42" y="33.7" font-size="8.4" text-anchor="middle" style="stroke-width:0.12px">*</text>
<text x="225.42" y="37.4" font-size="8.4" text-anchor="middle" style="stroke-width:0.12px">*</text>
<text x="239.09" y="76.1" font-size="8.4" text-anchor="middle" style="stroke-width:0.12px">*</text>
<text x="252.76" y="74.9" font-size="8.4" text-anchor="middle" style="stroke-width:0.12px">*</text>
<text x="348.45" y="76" font-size="8.4" text-anchor="middle" style="stroke-width:0.12px">*</text>
<text x="362.12" y="76" font-size="8.4" text-anchor="middle" style="stroke-width:0.12px">*</text>
<text x="375.79" y="76" font-size="8.4" text-anchor="middle" style="stroke-width:0.12px">*</text>
<text x="389.46" y="46.6" font-size="8.4" text-anchor="middle" style="stroke-width:0.12px">*</text>
<text x="389.46" y="50.3" font-size="8.4" text-anchor="middle" style="stroke-width:0.12px">*</text>
<text x="389.46" y="54" font-size="8.4" text-anchor="middle" style="stroke-width:0.12px">*</text>
<text x="389.46" y="57.7" font-size="8.4" text-anchor="middle" style="stroke-width:0.12px">*</text>
<text x="420.3" y="93.9" font-size="7.8" text-anchor="middle">2 FC versus</text>
<text x="420.3" y="103.5" font-size="7.8" text-anchor="middle">DMSO</text>
<path d="M461.6 36.7H465.5V46H461.6" fill="none" stroke="#666" stroke-width="0.7"/>
<text x="458.6" y="39.2" font-size="7.2" text-anchor="end">120</text>
<text x="458.6" y="48.5" font-size="7.2" text-anchor="end">60</text>
<path d="M465.5 56.3V131.5H523" fill="none" stroke="#666" stroke-width="0.8"/>
<text x="458.6" y="134.5" font-size="7.2" text-anchor="end">0</text>
<text x="458.6" y="119.36" font-size="7.2" text-anchor="end">10</text>
<text x="458.6" y="104.22" font-size="7.2" text-anchor="end">20</text>
<text x="458.6" y="89.08" font-size="7.2" text-anchor="end">30</text>
<text x="458.6" y="73.94" font-size="7.2" text-anchor="end">40</text>
<text x="458.6" y="58.8" font-size="7.2" text-anchor="end">50</text>
<path d="M461.6 132H465.5M461.6 116.86H465.5M461.6 101.72H465.5M461.6 86.58H465.5M461.6 71.44H465.5M461.6 56.3H465.5" stroke="#666" stroke-width="0.7"/>
<path d="M459.4 95.5H523" stroke="#707070" stroke-width="0.9" stroke-dasharray="3.6 2.2"/>
<rect x="471.1" y="120.69" width="7.2" height="11.31" fill="#7a7a7a" stroke="#000" stroke-width="1"/>
<text font-size="7.75" text-anchor="end" transform="translate(477.1 139.4) rotate(-90)">GFPT1p.L598V</text>
<rect x="484.75" y="92.83" width="7.2" height="39.17" fill="#7a7a7a" stroke="#000" stroke-width="1"/>
<text font-size="7.75" text-anchor="end" transform="translate(490.75 139.4) rotate(-90)">SLC27A4p.T329M</text>
<text x="488.35" y="76.7" font-size="8.4" text-anchor="middle" style="stroke-width:0.12px">*</text>
<rect x="498.4" y="92.68" width="7.2" height="39.32" fill="#7a7a7a" stroke="#000" stroke-width="1"/>
<text font-size="7.75" text-anchor="end" transform="translate(504.4 139.4) rotate(-90)">KLHL26p.R190W</text>
<text x="502" y="76.7" font-size="8.4" text-anchor="middle" style="stroke-width:0.12px">*</text>
<rect x="512.05" y="88.14" width="7.2" height="43.86" fill="#7a7a7a" stroke="#000" stroke-width="1"/>
<text font-size="7.75" text-anchor="end" transform="translate(518.05 139.4) rotate(-90)">EGFRp.T790M</text>
<text x="515.65" y="76.7" font-size="8.4" text-anchor="middle" style="stroke-width:0.12px">*</text>
<path d="M474.7 120.19V115.95M472.5 115.95H476.9M488.35 92.33V80.52M486.15 80.52H490.55M502 92.18V86.28M499.8 86.28H504.2M515.65 87.64V78.1M513.45 78.1H517.85" stroke="#8a8a8a" stroke-width="0.8" fill="none"/>
<path d="M474.7 132V135.4M488.35 132V135.4M502 132V135.4M515.65 132V135.4" stroke="#666" stroke-width="0.7"/>
<text x="535" y="7.2" font-size="10" font-weight="bold" style="stroke-width:0.45px" fill="#000">c</text>
<path d="M582.5 20.8V117.5H684" fill="none" stroke="#666" stroke-width="0.8"/>
<text x="576.5" y="120.3" font-size="7.5" text-anchor="end">0</text>
<text x="576.5" y="100.92" font-size="7.5" text-anchor="end">5</text>
<text x="576.5" y="81.54" font-size="7.5" text-anchor="end">10</text>
<text x="576.5" y="62.16" font-size="7.5" text-anchor="end">15</text>
<text x="576.5" y="42.78" font-size="7.5" text-anchor="end">20</text>
<text x="576.5" y="23.4" font-size="7.5" text-anchor="end">25</text>
<text x="600.1" y="131" font-size="7.5" text-anchor="middle">30</text>
<text x="633.6" y="131" font-size="7.5" text-anchor="middle">40</text>
<text x="668" y="131" font-size="7.5" text-anchor="middle">45</text>
<path d="M579 117.7H582.5M579 98.32H582.5M579 78.94H582.5M579 59.56H582.5M579 40.18H582.5M579 20.8H582.5M600.1 117.7V121M633.6 117.7V121M668 117.7V121" stroke="#666" stroke-width="0.7"/>
<text x="634" y="142.3" font-size="7.8" text-anchor="middle">Time (months)</text>
<text x="612.6" y="16.3" font-size="7.8" text-anchor="middle">Vaccine</text>
<path d="M602.4 20.8H627" stroke="#000" stroke-width="0.8"/><path d="M630 20.8l-3.5 -1.6v3.2z" fill="#000"/>
<text font-size="7.8" text-anchor="middle" transform="translate(541.5 69.5) rotate(-90)">Fold increase in reactive CDR3B</text>
<text font-size="7.8" text-anchor="middle" transform="translate(550.8 69.5) rotate(-90)">sequences versus pre-vaccine</text>
<text font-size="7.8" text-anchor="middle" transform="translate(560.1 69.5) rotate(-90)">(30 months)</text>
<polyline points="600.1,113.82 633.6,107.04 668,109.95" fill="none" stroke="#111" stroke-width="0.9" stroke-dasharray="2.6 1.6"/>
<polyline points="600.1,113.82 633.6,28.55 668,44.06" fill="none" stroke="#8e1212" stroke-width="1"/>
<polyline points="600.1,113.82 633.6,82.82 668,71.19" fill="none" stroke="#ff2b12" stroke-width="1"/>
<circle cx="633.6" cy="107.04" r="2.4" fill="#fff" stroke="#111" stroke-width="0.95"/><path d="M631.3 107.04h4.6" stroke="#111" stroke-width="0.8"/>
<circle cx="668" cy="109.95" r="2.4" fill="#fff" stroke="#111" stroke-width="0.95"/><path d="M665.7 109.95h4.6" stroke="#111" stroke-width="0.8"/>
<circle cx="600.1" cy="113.82" r="2.6" fill="#8e1212"/>
<circle cx="633.6" cy="28.55" r="2.6" fill="#8e1212"/>
<circle cx="668" cy="44.06" r="2.6" fill="#8e1212"/>
<circle cx="600.1" cy="113.82" r="2.6" fill="#ff2b12"/>
<circle cx="633.6" cy="82.82" r="2.6" fill="#ff2b12"/>
<circle cx="668" cy="71.19" r="2.6" fill="#ff2b12"/>
<path d="M589.3 160H599" stroke="#8e1212" stroke-width="0.9"/><circle cx="594.2" cy="160" r="2.5" fill="#8e1212"/>
<path d="M589.3 169.6H599" stroke="#ff2b12" stroke-width="0.9"/><circle cx="594.2" cy="169.6" r="2.5" fill="#ff2b12"/>
<path d="M589.3 179.6H599" stroke="#111" stroke-width="0.9" stroke-dasharray="2 1.2"/><circle cx="594.2" cy="179.6" r="2.3" fill="#fff" stroke="#111" stroke-width="0.95"/><path d="M592 179.6h4.4" stroke="#111" stroke-width="0.8"/>
<text x="602.9" y="162.8" font-size="7.8"><tspan font-style="italic">EGFR</tspan> T790M</text>
<text x="602.9" y="172.4" font-size="7.8"><tspan font-style="italic">EGFR</tspan> ex19del</text>
<text x="602.9" y="182.4" font-size="7.8">CEF</text>
<text x="0" y="216.7" font-size="10.5" font-weight="bold" style="stroke-width:0.45px" fill="#000">d</text>
<text font-size="8" text-anchor="middle" transform="translate(15.8 277.3) rotate(-90)">Repertoire</text>
<text font-size="8" text-anchor="middle" transform="translate(24.6 276.4) rotate(-90)">proportion (%)</text>
<path d="M50.5 217.5V336H255.8" fill="none" stroke="#666" stroke-width="0.8"/>
<text x="43.2" y="332.2" font-size="7.8" text-anchor="end">0</text>
<text x="43.2" y="294.87" font-size="7.8" text-anchor="end">0.2</text>
<text x="43.2" y="257.54" font-size="7.8" text-anchor="end">0.4</text>
<text x="43.2" y="220.21" font-size="7.8" text-anchor="end">0.6</text>
<path d="M46.9 329.5H50.5M46.9 292.17H50.5M46.9 254.84H50.5M46.9 217.51H50.5M57.9 336V339.3M71.47 336V339.3M85.04 336V339.3M98.61 336V339.3M112.18 336V339.3M125.75 336V339.3M139.32 336V339.3M152.89 336V339.3M166.46 336V339.3M180.03 336V339.3M193.6 336V339.3M207.17 336V339.3M220.74 336V339.3M234.31 336V339.3M247.88 336V339.3" stroke="#666" stroke-width="0.7"/>
<text font-size="8" text-anchor="end" transform="translate(59.7 342.8) rotate(-90)">Mo 30 Ex vivo</text>
<text font-size="8" text-anchor="end" transform="translate(73.27 342.8) rotate(-90)">Mo 40 Ex vivo</text>
<text font-size="8" text-anchor="end" transform="translate(86.84 342.8) rotate(-90)">Mo 45 Ex vivo</text>
<text font-size="8" text-anchor="end" transform="translate(100.41 342.8) rotate(-90)">Mo 30 CK</text>
<text font-size="8" text-anchor="end" transform="translate(113.98 342.8) rotate(-90)">Mo 40 CK</text>
<text font-size="8" text-anchor="end" transform="translate(127.55 342.8) rotate(-90)">Mo 45 CK</text>
<text font-size="8" text-anchor="end" transform="translate(141.12 342.8) rotate(-90)">Mo 30 CEF</text>
<text font-size="8" text-anchor="end" transform="translate(154.69 342.8) rotate(-90)">Mo 40 CEF</text>
<text font-size="8" text-anchor="end" transform="translate(168.26 342.8) rotate(-90)">Mo 45 CEF</text>
<text font-size="8" text-anchor="end" transform="translate(181.83 342.8) rotate(-90)">Mo 30 T790M</text>
<text font-size="8" text-anchor="end" transform="translate(195.4 342.8) rotate(-90)">Mo 40 T790M</text>
<text font-size="8" text-anchor="end" transform="translate(208.97 342.8) rotate(-90)">Mo 45 T790M</text>
<text font-size="8" text-anchor="end" transform="translate(222.54 342.8) rotate(-90)">Mo 30 ex19del</text>
<text font-size="8" text-anchor="end" transform="translate(236.11 342.8) rotate(-90)">Mo 40 ex19del</text>
<text font-size="8" text-anchor="end" transform="translate(249.68 342.8) rotate(-90)">Mo 45 ex19del</text>
<text x="154.4" y="221.4" font-size="7.8" text-anchor="middle"><tspan font-style="italic">EGFR</tspan> ex19del-specific CDR3s</text>
<path d="M60.9 330.9C64.69 330.9 64.69 330.9 68.47 330.9L68.47 332.1C64.69 332.1 64.69 332.1 60.9 332.1Z" fill="#e89878" fill-opacity="0.3"/>
<path d="M74.47 330.9C78.25 330.9 78.25 330.9 82.04 330.9L82.04 332.1C78.25 332.1 78.25 332.1 74.47 332.1Z" fill="#e89878" fill-opacity="0.3"/>
<path d="M88.04 330.9C91.82 330.9 91.82 330.7 95.61 330.7L95.61 331.9C91.82 331.9 91.82 332.1 88.04 332.1Z" fill="#e89878" fill-opacity="0.3"/>
<path d="M101.61 330.7C105.4 330.7 105.4 330.7 109.18 330.7L109.18 331.9C105.4 331.9 105.4 331.9 101.61 331.9Z" fill="#e89878" fill-opacity="0.3"/>
<path d="M115.18 330.7C118.97 330.7 118.97 330.9 122.75 330.9L122.75 332.1C118.97 332.1 118.97 331.9 115.18 331.9Z" fill="#e89878" fill-opacity="0.3"/>
<path d="M128.75 330.9C132.53 330.9 132.53 330.9 136.32 330.9L136.32 332.1C132.53 332.1 132.53 332.1 128.75 332.1Z" fill="#e89878" fill-opacity="0.3"/>
<path d="M142.32 330.9C146.11 330.9 146.11 330.9 149.89 330.9L149.89 332.1C146.11 332.1 146.11 332.1 142.32 332.1Z" fill="#e89878" fill-opacity="0.3"/>
<path d="M155.89 330.9C159.68 330.9 159.68 330.9 163.46 330.9L163.46 332.1C159.68 332.1 159.68 332.1 155.89 332.1Z" fill="#e89878" fill-opacity="0.3"/>
<path d="M169.46 330.9C173.25 330.9 173.25 330.9 177.03 330.9L177.03 332.1C173.25 332.1 173.25 332.1 169.46 332.1Z" fill="#e89878" fill-opacity="0.3"/>
<path d="M183.03 330.9C186.81 330.9 186.81 330.9 190.6 330.9L190.6 332.1C186.81 332.1 186.81 332.1 183.03 332.1Z" fill="#e89878" fill-opacity="0.3"/>
<path d="M196.6 330.9C200.38 330.9 200.38 330.9 204.17 330.9L204.17 332.1C200.38 332.1 200.38 332.1 196.6 332.1Z" fill="#e89878" fill-opacity="0.3"/>
<path d="M210.17 331.5C213.98 331.5 213.98 331.3 217.79 331.3L217.79 276.6C213.98 276.6 213.98 331.5 210.17 331.5Z" fill="#a9cfb6" fill-opacity="0.5"/>
<path d="M210.17 331.5C213.98 331.5 213.98 276.6 217.79 276.6L217.79 276.6C213.98 276.6 213.98 331.5 210.17 331.5Z" fill="#c8c0b8" fill-opacity="0.5"/>
<path d="M210.17 331.5C213.98 331.5 213.98 276.6 217.79 276.6L217.79 276.6C213.98 276.6 213.98 331.5 210.17 331.5Z" fill="#f6e27a" fill-opacity="0.5"/>
<path d="M210.17 331.5C213.98 331.5 213.98 276.6 217.79 276.6L217.79 276.6C213.98 276.6 213.98 331.5 210.17 331.5Z" fill="#f8e888" fill-opacity="0.5"/>
<path d="M210.17 331.5C213.98 331.5 213.98 276.6 217.79 276.6L217.79 276.6C213.98 276.6 213.98 331.5 210.17 331.5Z" fill="#f2df7e" fill-opacity="0.5"/>
<path d="M210.17 331.5C213.98 331.5 213.98 276.6 217.79 276.6L217.79 276.6C213.98 276.6 213.98 331.5 210.17 331.5Z" fill="#c8c0b8" fill-opacity="0.5"/>
<path d="M210.17 331.5C213.98 331.5 213.98 276.6 217.79 276.6L217.79 276.6C213.98 276.6 213.98 331.5 210.17 331.5Z" fill="#f0a860" fill-opacity="0.5"/>
<path d="M210.17 331.5C213.98 331.5 213.98 276.6 217.79 276.6L217.79 276.6C213.98 276.6 213.98 331.5 210.17 331.5Z" fill="#f0b080" fill-opacity="0.5"/>
<path d="M210.17 331.5C213.98 331.5 213.98 276.6 217.79 276.6L217.79 276.6C213.98 276.6 213.98 331.5 210.17 331.5Z" fill="#e9b499" fill-opacity="0.5"/>
<path d="M210.17 331.5C213.98 331.5 213.98 276.6 217.79 276.6L217.79 276.6C213.98 276.6 213.98 331.5 210.17 331.5Z" fill="#c8c0b8" fill-opacity="0.5"/>
<path d="M210.17 331.5C213.98 331.5 213.98 276.6 217.79 276.6L217.79 276.6C213.98 276.6 213.98 331.5 210.17 331.5Z" fill="#c8c0b8" fill-opacity="0.5"/>
<path d="M210.17 331.5C213.98 331.5 213.98 276.6 217.79 276.6L217.79 276.6C213.98 276.6 213.98 331.5 210.17 331.5Z" fill="#c0b8e0" fill-opacity="0.5"/>
<path d="M210.17 331.5C213.98 331.5 213.98 276.6 217.79 276.6L217.79 276.6C213.98 276.6 213.98 331.5 210.17 331.5Z" fill="#c8c0b8" fill-opacity="0.5"/>
<path d="M210.17 331.5C213.98 331.5 213.98 276.6 217.79 276.6L217.79 276.6C213.98 276.6 213.98 331.5 210.17 331.5Z" fill="#90c890" fill-opacity="0.5"/>
<path d="M223.69 331.3C227.53 331.3 227.53 331.3 231.36 331.3L231.36 327.62C227.53 327.62 227.53 276.6 223.69 276.6Z" fill="#a9cfb6" fill-opacity="0.5"/>
<path d="M223.69 276.6C227.53 276.6 227.53 327.62 231.36 327.62L231.36 325.89C227.53 325.89 227.53 276.6 223.69 276.6Z" fill="#c8c0b8" fill-opacity="0.5"/>
<path d="M223.69 276.6C227.53 276.6 227.53 325.89 231.36 325.89L231.36 325.89C227.53 325.89 227.53 276.6 223.69 276.6Z" fill="#f6e27a" fill-opacity="0.5"/>
<path d="M223.69 276.6C227.53 276.6 227.53 325.89 231.36 325.89L231.36 325.89C227.53 325.89 227.53 276.6 223.69 276.6Z" fill="#f8e888" fill-opacity="0.5"/>
<path d="M223.69 276.6C227.53 276.6 227.53 325.89 231.36 325.89L231.36 325.89C227.53 325.89 227.53 276.6 223.69 276.6Z" fill="#f2df7e" fill-opacity="0.5"/>
<path d="M223.69 276.6C227.53 276.6 227.53 325.89 231.36 325.89L231.36 325.89C227.53 325.89 227.53 276.6 223.69 276.6Z" fill="#c8c0b8" fill-opacity="0.5"/>
<path d="M223.69 276.6C227.53 276.6 227.53 325.89 231.36 325.89L231.36 322.43C227.53 322.43 227.53 276.6 223.69 276.6Z" fill="#f0a860" fill-opacity="0.5"/>
<path d="M223.69 276.6C227.53 276.6 227.53 322.43 231.36 322.43L231.36 319.21C227.53 319.21 227.53 276.6 223.69 276.6Z" fill="#f0b080" fill-opacity="0.5"/>
<path d="M223.69 276.6C227.53 276.6 227.53 319.21 231.36 319.21L231.36 317.48C227.53 317.48 227.53 276.6 223.69 276.6Z" fill="#e9b499" fill-opacity="0.5"/>
<path d="M223.69 276.6C227.53 276.6 227.53 317.48 231.36 317.48L231.36 314.03C227.53 314.03 227.53 276.6 223.69 276.6Z" fill="#c8c0b8" fill-opacity="0.5"/>
<path d="M223.69 276.6C227.53 276.6 227.53 314.03 231.36 314.03L231.36 312.3C227.53 312.3 227.53 276.6 223.69 276.6Z" fill="#c8c0b8" fill-opacity="0.5"/>
<path d="M223.69 276.6C227.53 276.6 227.53 312.3 231.36 312.3L231.36 306.78C227.53 306.78 227.53 276.6 223.69 276.6Z" fill="#c0b8e0" fill-opacity="0.5"/>
<path d="M223.69 276.6C227.53 276.6 227.53 306.78 231.36 306.78L231.36 306.78C227.53 306.78 227.53 276.6 223.69 276.6Z" fill="#c8c0b8" fill-opacity="0.5"/>
<path d="M223.69 276.6C227.53 276.6 227.53 306.78 231.36 306.78L231.36 306.2C227.53 306.2 227.53 276.6 223.69 276.6Z" fill="#90c890" fill-opacity="0.5"/>
<path d="M237.26 331.3C241.1 331.3 241.1 331.3 244.93 331.3L244.93 330.75C241.1 330.75 241.1 327.62 237.26 327.62Z" fill="#a9cfb6" fill-opacity="0.5"/>
<path d="M237.26 327.62C241.1 327.62 241.1 330.75 244.93 330.75L244.93 327.99C241.1 327.99 241.1 325.89 237.26 325.89Z" fill="#c8c0b8" fill-opacity="0.5"/>
<path d="M237.26 325.89C241.1 325.89 241.1 327.99 244.93 327.99L244.93 327.33C241.1 327.33 241.1 325.89 237.26 325.89Z" fill="#f6e27a" fill-opacity="0.5"/>
<path d="M237.26 325.89C241.1 325.89 241.1 327.33 244.93 327.33L244.93 320.72C241.1 320.72 241.1 325.89 237.26 325.89Z" fill="#f8e888" fill-opacity="0.5"/>
<path d="M237.26 325.89C241.1 325.89 241.1 320.72 244.93 320.72L244.93 316.53C241.1 316.53 241.1 325.89 237.26 325.89Z" fill="#f2df7e" fill-opacity="0.5"/>
<path d="M237.26 325.89C241.1 325.89 241.1 316.53 244.93 316.53L244.93 315.21C241.1 315.21 241.1 325.89 237.26 325.89Z" fill="#c8c0b8" fill-opacity="0.5"/>
<path d="M237.26 325.89C241.1 325.89 241.1 315.21 244.93 315.21L244.93 315.21C241.1 315.21 241.1 322.43 237.26 322.43Z" fill="#f0a860" fill-opacity="0.5"/>
<path d="M237.26 322.43C241.1 322.43 241.1 315.21 244.93 315.21L244.93 311.46C241.1 311.46 241.1 319.21 237.26 319.21Z" fill="#f0b080" fill-opacity="0.5"/>
<path d="M237.26 319.21C241.1 319.21 241.1 311.46 244.93 311.46L244.93 311.46C241.1 311.46 241.1 317.48 237.26 317.48Z" fill="#e9b499" fill-opacity="0.5"/>
<path d="M237.26 317.48C241.1 317.48 241.1 311.46 244.93 311.46L244.93 308.7C241.1 308.7 241.1 314.03 237.26 314.03Z" fill="#c8c0b8" fill-opacity="0.5"/>
<path d="M237.26 314.03C241.1 314.03 241.1 308.7 244.93 308.7L244.93 307.05C241.1 307.05 241.1 312.3 237.26 312.3Z" fill="#c8c0b8" fill-opacity="0.5"/>
<path d="M237.26 312.3C241.1 312.3 241.1 307.05 244.93 307.05L244.93 307.05C241.1 307.05 241.1 306.78 237.26 306.78Z" fill="#c0b8e0" fill-opacity="0.5"/>
<path d="M237.26 306.78C241.1 306.78 241.1 307.05 244.93 307.05L244.93 305.29C241.1 305.29 241.1 306.78 237.26 306.78Z" fill="#c8c0b8" fill-opacity="0.5"/>
<path d="M237.26 306.78C241.1 306.78 241.1 305.29 244.93 305.29L244.93 302.2C241.1 302.2 241.1 306.2 237.26 306.2Z" fill="#90c890" fill-opacity="0.5"/>
<rect x="54.8" y="330.5" width="6.2" height="2" rx="0.9" fill="#000"/>
<rect x="68.37" y="330.5" width="6.2" height="2" rx="0.9" fill="#000"/>
<rect x="81.94" y="330.5" width="6.2" height="2" rx="0.9" fill="#000"/>
<rect x="95.51" y="330.1" width="6.2" height="2.4" rx="0.9" fill="#000"/>
<rect x="109.08" y="330.1" width="6.2" height="2.4" rx="0.9" fill="#000"/>
<rect x="122.65" y="330.5" width="6.2" height="2" rx="0.9" fill="#000"/>
<rect x="136.22" y="330.5" width="6.2" height="2" rx="0.9" fill="#000"/>
<rect x="149.79" y="330.5" width="6.2" height="2" rx="0.9" fill="#000"/>
<rect x="163.36" y="330.5" width="6.2" height="2" rx="0.9" fill="#000"/>
<rect x="176.93" y="330.5" width="6.2" height="2" rx="0.9" fill="#000"/>
<rect x="190.5" y="330.5" width="6.2" height="2" rx="0.9" fill="#000"/>
<rect x="204.07" y="330.5" width="6.2" height="2" rx="0.9" fill="#000"/>
<rect x="217.79" y="275.4" width="5.9" height="57.1" rx="0.9" fill="#000"/>
<rect x="219.29" y="277.3" width="2.9" height="53.3" fill="#a9cfb6"/>
<rect x="231.36" y="305" width="5.9" height="27.5" rx="0.9" fill="#000"/>
<rect x="232.86" y="328.32" width="2.9" height="2.28" fill="#a9cfb6"/>
<rect x="232.86" y="323.13" width="2.9" height="2.05" fill="#f0a860"/>
<rect x="232.86" y="319.91" width="2.9" height="1.82" fill="#f0b080"/>
<rect x="232.86" y="314.73" width="2.9" height="2.05" fill="#2a2a2a"/>
<rect x="232.86" y="307.48" width="2.9" height="4.13" fill="#c0b8e0"/>
<rect x="244.93" y="301" width="5.9" height="31.5" rx="0.9" fill="#000"/>
<rect x="246.43" y="328.69" width="2.9" height="1.36" fill="#2a2a2a"/>
<rect x="246.43" y="321.42" width="2.9" height="5.21" fill="#f8e888"/>
<rect x="246.43" y="317.23" width="2.9" height="2.79" fill="#f2df7e"/>
<rect x="246.43" y="312.16" width="2.9" height="2.35" fill="#f0b080"/>
<rect x="246.43" y="309.4" width="2.9" height="1.36" fill="#2a2a2a"/>
<rect x="246.43" y="302.9" width="2.9" height="1.69" fill="#90c890"/>
<path d="M264.5 217.5V336H464.7" fill="none" stroke="#666" stroke-width="0.8"/>
<path d="M260.9 329.5H264.5M260.9 292.17H264.5M260.9 254.84H264.5M260.9 217.51H264.5M269.3 336V339.3M282.86 336V339.3M296.42 336V339.3M309.98 336V339.3M323.54 336V339.3M337.1 336V339.3M350.66 336V339.3M364.22 336V339.3M377.78 336V339.3M391.34 336V339.3M404.9 336V339.3M418.46 336V339.3M432.02 336V339.3M445.58 336V339.3M459.14 336V339.3" stroke="#666" stroke-width="0.7"/>
<text font-size="8" text-anchor="end" transform="translate(271.1 342.8) rotate(-90)">Mo 30 Ex vivo</text>
<text font-size="8" text-anchor="end" transform="translate(284.66 342.8) rotate(-90)">Mo 40 Ex vivo</text>
<text font-size="8" text-anchor="end" transform="translate(298.22 342.8) rotate(-90)">Mo 45 Ex vivo</text>
<text font-size="8" text-anchor="end" transform="translate(311.78 342.8) rotate(-90)">Mo 30 CK</text>
<text font-size="8" text-anchor="end" transform="translate(325.34 342.8) rotate(-90)">Mo 40 CK</text>
<text font-size="8" text-anchor="end" transform="translate(338.9 342.8) rotate(-90)">Mo 45 CK</text>
<text font-size="8" text-anchor="end" transform="translate(352.46 342.8) rotate(-90)">Mo 30 CEF</text>
<text font-size="8" text-anchor="end" transform="translate(366.02 342.8) rotate(-90)">Mo 40 CEF</text>
<text font-size="8" text-anchor="end" transform="translate(379.58 342.8) rotate(-90)">Mo 45 CEF</text>
<text font-size="8" text-anchor="end" transform="translate(393.14 342.8) rotate(-90)">Mo 30 T790M</text>
<text font-size="8" text-anchor="end" transform="translate(406.7 342.8) rotate(-90)">Mo 40 T790M</text>
<text font-size="8" text-anchor="end" transform="translate(420.26 342.8) rotate(-90)">Mo 45 T790M</text>
<text font-size="8" text-anchor="end" transform="translate(433.82 342.8) rotate(-90)">Mo 30 ex19del</text>
<text font-size="8" text-anchor="end" transform="translate(447.38 342.8) rotate(-90)">Mo 40 ex19del</text>
<text font-size="8" text-anchor="end" transform="translate(460.94 342.8) rotate(-90)">Mo 45 ex19del</text>
<text x="363.4" y="221.4" font-size="7.8" text-anchor="middle"><tspan font-style="italic">EGFR</tspan> T790M-specific CDR3s</text>
<path d="M272.3 329.2C276.08 329.2 276.08 329.2 279.86 329.2L279.86 330.4C276.08 330.4 276.08 330.4 272.3 330.4Z" fill="#e89878" fill-opacity="0.3"/>
<path d="M285.86 329.2C289.64 329.2 289.64 329.2 293.42 329.2L293.42 330.4C289.64 330.4 289.64 330.4 285.86 330.4Z" fill="#e89878" fill-opacity="0.3"/>
<path d="M299.42 329.2C303.2 329.2 303.2 329.2 306.98 329.2L306.98 330.4C303.2 330.4 303.2 330.4 299.42 330.4Z" fill="#e89878" fill-opacity="0.3"/>
<path d="M312.98 329.2C316.76 329.2 316.76 328.85 320.54 328.85L320.54 330.05C316.76 330.05 316.76 330.4 312.98 330.4Z" fill="#e89878" fill-opacity="0.3"/>
<path d="M326.54 328.85C330.32 328.85 330.32 327.25 334.1 327.25L334.1 328.45C330.32 328.45 330.32 330.05 326.54 330.05Z" fill="#e89878" fill-opacity="0.3"/>
<path d="M340.1 327.25C343.88 327.25 343.88 329.2 347.66 329.2L347.66 330.4C343.88 330.4 343.88 328.45 340.1 328.45Z" fill="#e89878" fill-opacity="0.3"/>
<path d="M353.66 329.2C357.44 329.2 357.44 329.2 361.22 329.2L361.22 330.4C357.44 330.4 357.44 330.4 353.66 330.4Z" fill="#e89878" fill-opacity="0.3"/>
<path d="M367.22 329.2C371 329.2 371 328.7 374.78 328.7L374.78 329.9C371 329.9 371 330.4 367.22 330.4Z" fill="#e89878" fill-opacity="0.3"/>
<path d="M380.78 328.7C384.56 328.7 384.56 329.2 388.34 329.2L388.34 330.4C384.56 330.4 384.56 329.9 380.78 329.9Z" fill="#e89878" fill-opacity="0.3"/>
<path d="M394.34 329.8C398.14 329.8 398.14 329.6 401.95 329.6L401.95 329.6C398.14 329.6 398.14 329.8 394.34 329.8Z" fill="#c07040" fill-opacity="0.5"/>
<path d="M394.34 329.8C398.14 329.8 398.14 329.6 401.95 329.6L401.95 326.81C398.14 326.81 398.14 329.8 394.34 329.8Z" fill="#e07030" fill-opacity="0.5"/>
<path d="M394.34 329.8C398.14 329.8 398.14 326.81 401.95 326.81L401.95 323.23C398.14 323.23 398.14 329.8 394.34 329.8Z" fill="#e03050" fill-opacity="0.5"/>
<path d="M394.34 329.8C398.14 329.8 398.14 323.23 401.95 323.23L401.95 323.23C398.14 323.23 398.14 329.8 394.34 329.8Z" fill="#e04090" fill-opacity="0.5"/>
<path d="M394.34 329.8C398.14 329.8 398.14 323.23 401.95 323.23L401.95 322.23C398.14 322.23 398.14 329.8 394.34 329.8Z" fill="#c040a0" fill-opacity="0.5"/>
<path d="M394.34 329.8C398.14 329.8 398.14 322.23 401.95 322.23L401.95 317.36C398.14 317.36 398.14 329.8 394.34 329.8Z" fill="#b040b0" fill-opacity="0.5"/>
<path d="M394.34 329.8C398.14 329.8 398.14 317.36 401.95 317.36L401.95 315.86C398.14 315.86 398.14 329.8 394.34 329.8Z" fill="#c8c0b8" fill-opacity="0.5"/>
<path d="M394.34 329.8C398.14 329.8 398.14 315.86 401.95 315.86L401.95 307.5C398.14 307.5 398.14 329.8 394.34 329.8Z" fill="#7858b8" fill-opacity="0.5"/>
<path d="M394.34 329.8C398.14 329.8 398.14 307.5 401.95 307.5L401.95 306.51C398.14 306.51 398.14 329.8 394.34 329.8Z" fill="#5f80c8" fill-opacity="0.5"/>
<path d="M394.34 329.8C398.14 329.8 398.14 306.51 401.95 306.51L401.95 299.34C398.14 299.34 398.14 329.8 394.34 329.8Z" fill="#90c0b0" fill-opacity="0.5"/>
<path d="M394.34 329.8C398.14 329.8 398.14 299.34 401.95 299.34L401.95 296.36C398.14 296.36 398.14 329.8 394.34 329.8Z" fill="#c8c0b8" fill-opacity="0.5"/>
<path d="M394.34 329.8C398.14 329.8 398.14 296.36 401.95 296.36L401.95 296.36C398.14 296.36 398.14 329.8 394.34 329.8Z" fill="#b0d8a0" fill-opacity="0.5"/>
<path d="M394.34 329.8C398.14 329.8 398.14 296.36 401.95 296.36L401.95 293.57C398.14 293.57 398.14 329.8 394.34 329.8Z" fill="#d0e080" fill-opacity="0.5"/>
<path d="M394.34 329.8C398.14 329.8 398.14 293.57 401.95 293.57L401.95 293.57C398.14 293.57 398.14 329.8 394.34 329.8Z" fill="#c8c0b8" fill-opacity="0.5"/>
<path d="M394.34 329.8C398.14 329.8 398.14 293.57 401.95 293.57L401.95 290.48C398.14 290.48 398.14 329.8 394.34 329.8Z" fill="#f0e070" fill-opacity="0.5"/>
<path d="M394.34 329.8C398.14 329.8 398.14 290.48 401.95 290.48L401.95 287.4C398.14 287.4 398.14 329.8 394.34 329.8Z" fill="#f0d080" fill-opacity="0.5"/>
<path d="M394.34 329.8C398.14 329.8 398.14 287.4 401.95 287.4L401.95 284.61C398.14 284.61 398.14 329.8 394.34 329.8Z" fill="#f0c070" fill-opacity="0.5"/>
<path d="M394.34 329.8C398.14 329.8 398.14 284.61 401.95 284.61L401.95 282.22C398.14 282.22 398.14 329.8 394.34 329.8Z" fill="#d09060" fill-opacity="0.5"/>
<path d="M394.34 329.8C398.14 329.8 398.14 282.22 401.95 282.22L401.95 275.95C398.14 275.95 398.14 329.8 394.34 329.8Z" fill="#c8c0b8" fill-opacity="0.5"/>
<path d="M394.34 329.8C398.14 329.8 398.14 275.95 401.95 275.95L401.95 272.27C398.14 272.27 398.14 329.8 394.34 329.8Z" fill="#c0b0e0" fill-opacity="0.5"/>
<path d="M394.34 329.8C398.14 329.8 398.14 272.27 401.95 272.27L401.95 268.88C398.14 268.88 398.14 329.8 394.34 329.8Z" fill="#b8b0d8" fill-opacity="0.5"/>
<path d="M394.34 329.8C398.14 329.8 398.14 268.88 401.95 268.88L401.95 265.5C398.14 265.5 398.14 329.8 394.34 329.8Z" fill="#9fd49a" fill-opacity="0.5"/>
<path d="M407.85 329.6C411.68 329.6 411.68 329.6 415.51 329.6L415.51 324.41C411.68 324.41 411.68 329.6 407.85 329.6Z" fill="#c07040" fill-opacity="0.5"/>
<path d="M407.85 329.6C411.68 329.6 411.68 324.41 415.51 324.41L415.51 320.81C411.68 320.81 411.68 326.81 407.85 326.81Z" fill="#e07030" fill-opacity="0.5"/>
<path d="M407.85 326.81C411.68 326.81 411.68 320.81 415.51 320.81L415.51 320.81C411.68 320.81 411.68 323.23 407.85 323.23Z" fill="#e03050" fill-opacity="0.5"/>
<path d="M407.85 323.23C411.68 323.23 411.68 320.81 415.51 320.81L415.51 317.21C411.68 317.21 411.68 323.23 407.85 323.23Z" fill="#e04090" fill-opacity="0.5"/>
<path d="M407.85 323.23C411.68 323.23 411.68 317.21 415.51 317.21L415.51 315.09C411.68 315.09 411.68 322.23 407.85 322.23Z" fill="#c040a0" fill-opacity="0.5"/>
<path d="M407.85 322.23C411.68 322.23 411.68 315.09 415.51 315.09L415.51 312.55C411.68 312.55 411.68 317.36 407.85 317.36Z" fill="#b040b0" fill-opacity="0.5"/>
<path d="M407.85 317.36C411.68 317.36 411.68 312.55 415.51 312.55L415.51 310.96C411.68 310.96 411.68 315.86 407.85 315.86Z" fill="#c8c0b8" fill-opacity="0.5"/>
<path d="M407.85 315.86C411.68 315.86 411.68 310.96 415.51 310.96L415.51 310.96C411.68 310.96 411.68 307.5 407.85 307.5Z" fill="#7858b8" fill-opacity="0.5"/>
<path d="M407.85 307.5C411.68 307.5 411.68 310.96 415.51 310.96L415.51 310.43C411.68 310.43 411.68 306.51 407.85 306.51Z" fill="#5f80c8" fill-opacity="0.5"/>
<path d="M407.85 306.51C411.68 306.51 411.68 310.43 415.51 310.43L415.51 310.43C411.68 310.43 411.68 299.34 407.85 299.34Z" fill="#90c0b0" fill-opacity="0.5"/>
<path d="M407.85 299.34C411.68 299.34 411.68 310.43 415.51 310.43L415.51 308.84C411.68 308.84 411.68 296.36 407.85 296.36Z" fill="#c8c0b8" fill-opacity="0.5"/>
<path d="M407.85 296.36C411.68 296.36 411.68 308.84 415.51 308.84L415.51 297.08C411.68 297.08 411.68 296.36 407.85 296.36Z" fill="#b0d8a0" fill-opacity="0.5"/>
<path d="M407.85 296.36C411.68 296.36 411.68 297.08 415.51 297.08L415.51 297.08C411.68 297.08 411.68 293.57 407.85 293.57Z" fill="#d0e080" fill-opacity="0.5"/>
<path d="M407.85 293.57C411.68 293.57 411.68 297.08 415.51 297.08L415.51 295.49C411.68 295.49 411.68 293.57 407.85 293.57Z" fill="#c8c0b8" fill-opacity="0.5"/>
<path d="M407.85 293.57C411.68 293.57 411.68 295.49 415.51 295.49L415.51 287.87C411.68 287.87 411.68 290.48 407.85 290.48Z" fill="#f0e070" fill-opacity="0.5"/>
<path d="M407.85 290.48C411.68 290.48 411.68 287.87 415.51 287.87L415.51 287.87C411.68 287.87 411.68 287.4 407.85 287.4Z" fill="#f0d080" fill-opacity="0.5"/>
<path d="M407.85 287.4C411.68 287.4 411.68 287.87 415.51 287.87L415.51 287.87C411.68 287.87 411.68 284.61 407.85 284.61Z" fill="#f0c070" fill-opacity="0.5"/>
<path d="M407.85 284.61C411.68 284.61 411.68 287.87 415.51 287.87L415.51 284.27C411.68 284.27 411.68 282.22 407.85 282.22Z" fill="#d09060" fill-opacity="0.5"/>
<path d="M407.85 282.22C411.68 282.22 411.68 284.27 415.51 284.27L415.51 279.5C411.68 279.5 411.68 275.95 407.85 275.95Z" fill="#c8c0b8" fill-opacity="0.5"/>
<path d="M407.85 275.95C411.68 275.95 411.68 279.5 415.51 279.5L415.51 279.5C411.68 279.5 411.68 272.27 407.85 272.27Z" fill="#c0b0e0" fill-opacity="0.5"/>
<path d="M407.85 272.27C411.68 272.27 411.68 279.5 415.51 279.5L415.51 279.5C411.68 279.5 411.68 268.88 407.85 268.88Z" fill="#b8b0d8" fill-opacity="0.5"/>
<path d="M407.85 268.88C411.68 268.88 411.68 279.5 415.51 279.5L415.51 279.5C411.68 279.5 411.68 265.5 407.85 265.5Z" fill="#9fd49a" fill-opacity="0.5"/>
<path d="M421.41 329.6C425.22 329.6 425.22 329.8 429.02 329.8L429.02 329.8C425.22 329.8 425.22 324.41 421.41 324.41Z" fill="#c07040" fill-opacity="0.5"/>
<path d="M421.41 324.41C425.22 324.41 425.22 329.8 429.02 329.8L429.02 329.8C425.22 329.8 425.22 320.81 421.41 320.81Z" fill="#e07030" fill-opacity="0.5"/>
<path d="M421.41 320.81C425.22 320.81 425.22 329.8 429.02 329.8L429.02 329.8C425.22 329.8 425.22 320.81 421.41 320.81Z" fill="#e03050" fill-opacity="0.5"/>
<path d="M421.41 320.81C425.22 320.81 425.22 329.8 429.02 329.8L429.02 329.8C425.22 329.8 425.22 317.21 421.41 317.21Z" fill="#e04090" fill-opacity="0.5"/>
<path d="M421.41 317.21C425.22 317.21 425.22 329.8 429.02 329.8L429.02 329.8C425.22 329.8 425.22 315.09 421.41 315.09Z" fill="#c040a0" fill-opacity="0.5"/>
<path d="M421.41 315.09C425.22 315.09 425.22 329.8 429.02 329.8L429.02 329.8C425.22 329.8 425.22 312.55 421.41 312.55Z" fill="#b040b0" fill-opacity="0.5"/>
<path d="M421.41 312.55C425.22 312.55 425.22 329.8 429.02 329.8L429.02 329.8C425.22 329.8 425.22 310.96 421.41 310.96Z" fill="#c8c0b8" fill-opacity="0.5"/>
<path d="M421.41 310.96C425.22 310.96 425.22 329.8 429.02 329.8L429.02 329.8C425.22 329.8 425.22 310.96 421.41 310.96Z" fill="#7858b8" fill-opacity="0.5"/>
<path d="M421.41 310.96C425.22 310.96 425.22 329.8 429.02 329.8L429.02 329.8C425.22 329.8 425.22 310.43 421.41 310.43Z" fill="#5f80c8" fill-opacity="0.5"/>
<path d="M421.41 310.43C425.22 310.43 425.22 329.8 429.02 329.8L429.02 329.8C425.22 329.8 425.22 310.43 421.41 310.43Z" fill="#90c0b0" fill-opacity="0.5"/>
<path d="M421.41 310.43C425.22 310.43 425.22 329.8 429.02 329.8L429.02 329.8C425.22 329.8 425.22 308.84 421.41 308.84Z" fill="#c8c0b8" fill-opacity="0.5"/>
<path d="M421.41 308.84C425.22 308.84 425.22 329.8 429.02 329.8L429.02 329.8C425.22 329.8 425.22 297.08 421.41 297.08Z" fill="#b0d8a0" fill-opacity="0.5"/>
<path d="M421.41 297.08C425.22 297.08 425.22 329.8 429.02 329.8L429.02 329.8C425.22 329.8 425.22 297.08 421.41 297.08Z" fill="#d0e080" fill-opacity="0.5"/>
<path d="M421.41 297.08C425.22 297.08 425.22 329.8 429.02 329.8L429.02 329.8C425.22 329.8 425.22 295.49 421.41 295.49Z" fill="#c8c0b8" fill-opacity="0.5"/>
<path d="M421.41 295.49C425.22 295.49 425.22 329.8 429.02 329.8L429.02 329.8C425.22 329.8 425.22 287.87 421.41 287.87Z" fill="#f0e070" fill-opacity="0.5"/>
<path d="M421.41 287.87C425.22 287.87 425.22 329.8 429.02 329.8L429.02 329.8C425.22 329.8 425.22 287.87 421.41 287.87Z" fill="#f0d080" fill-opacity="0.5"/>
<path d="M421.41 287.87C425.22 287.87 425.22 329.8 429.02 329.8L429.02 329.8C425.22 329.8 425.22 287.87 421.41 287.87Z" fill="#f0c070" fill-opacity="0.5"/>
<path d="M421.41 287.87C425.22 287.87 425.22 329.8 429.02 329.8L429.02 329.8C425.22 329.8 425.22 284.27 421.41 284.27Z" fill="#d09060" fill-opacity="0.5"/>
<path d="M421.41 284.27C425.22 284.27 425.22 329.8 429.02 329.8L429.02 329.8C425.22 329.8 425.22 279.5 421.41 279.5Z" fill="#c8c0b8" fill-opacity="0.5"/>
<path d="M421.41 279.5C425.22 279.5 425.22 329.8 429.02 329.8L429.02 329.8C425.22 329.8 425.22 279.5 421.41 279.5Z" fill="#c0b0e0" fill-opacity="0.5"/>
<path d="M421.41 279.5C425.22 279.5 425.22 329.8 429.02 329.8L429.02 329.8C425.22 329.8 425.22 279.5 421.41 279.5Z" fill="#b8b0d8" fill-opacity="0.5"/>
<path d="M421.41 279.5C425.22 279.5 425.22 329.8 429.02 329.8L429.02 329.8C425.22 329.8 425.22 279.5 421.41 279.5Z" fill="#9fd49a" fill-opacity="0.5"/>
<path d="M435.02 329.2C438.8 329.2 438.8 328 442.58 328L442.58 329.2C438.8 329.2 438.8 330.4 435.02 330.4Z" fill="#e89878" fill-opacity="0.3"/>
<path d="M448.58 328C452.36 328 452.36 326.6 456.14 326.6L456.14 327.8C452.36 327.8 452.36 329.2 448.58 329.2Z" fill="#e89878" fill-opacity="0.3"/>
<rect x="266.2" y="328.8" width="6.2" height="2" rx="0.9" fill="#000"/>
<rect x="279.76" y="328.8" width="6.2" height="2" rx="0.9" fill="#000"/>
<rect x="293.32" y="328.8" width="6.2" height="2" rx="0.9" fill="#000"/>
<rect x="306.88" y="328.8" width="6.2" height="2" rx="0.9" fill="#000"/>
<rect x="320.44" y="328.1" width="6.2" height="2.7" rx="0.9" fill="#000"/>
<rect x="334" y="324.9" width="6.2" height="5.9" rx="0.9" fill="#000"/>
<rect x="335.7" y="326.5" width="2.8" height="2.6" fill="#f0c6c0"/>
<rect x="347.56" y="328.8" width="6.2" height="2" rx="0.9" fill="#000"/>
<rect x="361.12" y="328.8" width="6.2" height="2" rx="0.9" fill="#000"/>
<rect x="374.68" y="327.8" width="6.2" height="3" rx="0.9" fill="#000"/>
<rect x="388.24" y="328.8" width="6.2" height="2" rx="0.9" fill="#000"/>
<rect x="401.95" y="264.3" width="5.9" height="66.5" rx="0.9" fill="#000"/>
<rect x="403.45" y="327.51" width="2.9" height="1.39" fill="#e07030"/>
<rect x="403.45" y="323.93" width="2.9" height="2.18" fill="#e03050"/>
<rect x="403.45" y="318.06" width="2.9" height="3.48" fill="#b040b0"/>
<rect x="403.45" y="308.2" width="2.9" height="6.96" fill="#7858b8"/>
<rect x="403.45" y="300.04" width="2.9" height="5.77" fill="#90c0b0"/>
<rect x="403.45" y="297.06" width="2.9" height="1.59" fill="#2a2a2a"/>
<rect x="403.45" y="294.27" width="2.9" height="1.39" fill="#d0e080"/>
<rect x="403.45" y="291.18" width="2.9" height="1.69" fill="#f0e070"/>
<rect x="403.45" y="288.1" width="2.9" height="1.69" fill="#f0d080"/>
<rect x="403.45" y="285.31" width="2.9" height="1.39" fill="#f0c070"/>
<rect x="403.45" y="282.92" width="2.9" height="0.99" fill="#d09060"/>
<rect x="403.45" y="276.65" width="2.9" height="4.87" fill="#303030"/>
<rect x="403.45" y="272.97" width="2.9" height="2.28" fill="#c0b0e0"/>
<rect x="403.45" y="269.58" width="2.9" height="1.98" fill="#b8b0d8"/>
<rect x="403.45" y="266.2" width="2.9" height="1.98" fill="#9fd49a"/>
<rect x="415.51" y="278.3" width="5.9" height="52.5" rx="0.9" fill="#000"/>
<rect x="417.01" y="325.11" width="2.9" height="3.79" fill="#c07040"/>
<rect x="417.01" y="321.51" width="2.9" height="2.2" fill="#e07030"/>
<rect x="417.01" y="317.91" width="2.9" height="2.2" fill="#e04090"/>
<rect x="417.01" y="315.79" width="2.9" height="0.72" fill="#c040a0"/>
<rect x="417.01" y="313.25" width="2.9" height="1.14" fill="#b040b0"/>
<rect x="417.01" y="297.78" width="2.9" height="10.36" fill="#b0d8a0"/>
<rect x="417.01" y="288.57" width="2.9" height="6.23" fill="#f0e070"/>
<rect x="417.01" y="284.97" width="2.9" height="2.2" fill="#d09060"/>
<rect x="417.01" y="280.2" width="2.9" height="3.37" fill="#303030"/>
<rect x="428.92" y="328.8" width="6.2" height="2" rx="0.9" fill="#000"/>
<rect x="442.48" y="326.4" width="6.2" height="4.4" rx="0.9" fill="#000"/>
<rect x="444.18" y="328" width="2.8" height="1.1" fill="#b8d8a8"/>
<rect x="456.04" y="323.6" width="6.2" height="7.2" rx="0.9" fill="#000"/>
<rect x="457.74" y="325.2" width="2.8" height="3.9" fill="#f0b8b8"/>
<path d="M474.5 217.5V336H676.4" fill="none" stroke="#666" stroke-width="0.8"/>
<path d="M470.9 329.5H474.5M470.9 292.17H474.5M470.9 254.84H474.5M470.9 217.51H474.5M480.1 336V339.3M493.7 336V339.3M507.3 336V339.3M520.9 336V339.3M534.5 336V339.3M548.1 336V339.3M561.7 336V339.3M575.3 336V339.3M588.9 336V339.3M602.5 336V339.3M616.1 336V339.3M629.7 336V339.3M643.3 336V339.3M656.9 336V339.3M670.5 336V339.3" stroke="#666" stroke-width="0.7"/>
<text font-size="8" text-anchor="end" transform="translate(481.9 342.8) rotate(-90)">Mo 30 Ex vivo</text>
<text font-size="8" text-anchor="end" transform="translate(495.5 342.8) rotate(-90)">Mo 40 Ex vivo</text>
<text font-size="8" text-anchor="end" transform="translate(509.1 342.8) rotate(-90)">Mo 45 Ex vivo</text>
<text font-size="8" text-anchor="end" transform="translate(522.7 342.8) rotate(-90)">Mo 30 CK</text>
<text font-size="8" text-anchor="end" transform="translate(536.3 342.8) rotate(-90)">Mo 40 CK</text>
<text font-size="8" text-anchor="end" transform="translate(549.9 342.8) rotate(-90)">Mo 45 CK</text>
<text font-size="8" text-anchor="end" transform="translate(563.5 342.8) rotate(-90)">Mo 30 CEF</text>
<text font-size="8" text-anchor="end" transform="translate(577.1 342.8) rotate(-90)">Mo 40 CEF</text>
<text font-size="8" text-anchor="end" transform="translate(590.7 342.8) rotate(-90)">Mo 45 CEF</text>
<text font-size="8" text-anchor="end" transform="translate(604.3 342.8) rotate(-90)">Mo 30 T790M</text>
<text font-size="8" text-anchor="end" transform="translate(617.9 342.8) rotate(-90)">Mo 40 T790M</text>
<text font-size="8" text-anchor="end" transform="translate(631.5 342.8) rotate(-90)">Mo 45 T790M</text>
<text font-size="8" text-anchor="end" transform="translate(645.1 342.8) rotate(-90)">Mo 30 ex19del</text>
<text font-size="8" text-anchor="end" transform="translate(658.7 342.8) rotate(-90)">Mo 40 ex19del</text>
<text font-size="8" text-anchor="end" transform="translate(672.3 342.8) rotate(-90)">Mo 45 ex19del</text>
<text x="576.4" y="221.4" font-size="7.8" text-anchor="middle">CEF (viral)-specific CDR3s</text>
<path d="M483.1 329.2C486.9 329.2 486.9 327.95 490.7 327.95L490.7 329.15C486.9 329.15 486.9 330.4 483.1 330.4Z" fill="#e89878" fill-opacity="0.3"/>
<path d="M496.7 327.95C500.5 327.95 500.5 329.2 504.3 329.2L504.3 330.4C500.5 330.4 500.5 329.15 496.7 329.15Z" fill="#e89878" fill-opacity="0.3"/>
<path d="M510.3 329.2C514.1 329.2 514.1 329.2 517.9 329.2L517.9 330.4C514.1 330.4 514.1 330.4 510.3 330.4Z" fill="#e89878" fill-opacity="0.3"/>
<path d="M523.9 329.2C527.7 329.2 527.7 329.2 531.5 329.2L531.5 330.4C527.7 330.4 527.7 330.4 523.9 330.4Z" fill="#e89878" fill-opacity="0.3"/>
<path d="M537.5 329.2C541.3 329.2 541.3 328.7 545.1 328.7L545.1 329.9C541.3 329.9 541.3 330.4 537.5 330.4Z" fill="#e89878" fill-opacity="0.3"/>
<path d="M551.1 329.8C554.92 329.8 554.92 329.6 558.75 329.6L558.75 329.6C554.92 329.6 554.92 329.8 551.1 329.8Z" fill="#8a7e74" fill-opacity="0.5"/>
<path d="M551.1 329.8C554.92 329.8 554.92 329.6 558.75 329.6L558.75 329.6C554.92 329.6 554.92 329.8 551.1 329.8Z" fill="#b07040" fill-opacity="0.5"/>
<path d="M551.1 329.8C554.92 329.8 554.92 329.6 558.75 329.6L558.75 326.54C554.92 326.54 554.92 329.8 551.1 329.8Z" fill="#c8c0b8" fill-opacity="0.5"/>
<path d="M551.1 329.8C554.92 329.8 554.92 326.54 558.75 326.54L558.75 326.54C554.92 326.54 554.92 329.8 551.1 329.8Z" fill="#d86830" fill-opacity="0.5"/>
<path d="M551.1 329.8C554.92 329.8 554.92 326.54 558.75 326.54L558.75 322.57C554.92 322.57 554.92 329.8 551.1 329.8Z" fill="#c83838" fill-opacity="0.5"/>
<path d="M551.1 329.8C554.92 329.8 554.92 322.57 558.75 322.57L558.75 319.06C554.92 319.06 554.92 329.8 551.1 329.8Z" fill="#e04090" fill-opacity="0.5"/>
<path d="M551.1 329.8C554.92 329.8 554.92 319.06 558.75 319.06L558.75 314.2C554.92 314.2 554.92 329.8 551.1 329.8Z" fill="#c040a0" fill-opacity="0.5"/>
<path d="M551.1 329.8C554.92 329.8 554.92 314.2 558.75 314.2L558.75 305.73C554.92 305.73 554.92 329.8 551.1 329.8Z" fill="#7858b8" fill-opacity="0.5"/>
<path d="M551.1 329.8C554.92 329.8 554.92 305.73 558.75 305.73L558.75 305.73C554.92 305.73 554.92 329.8 551.1 329.8Z" fill="#c8c0b8" fill-opacity="0.5"/>
<path d="M551.1 329.8C554.92 329.8 554.92 305.73 558.75 305.73L558.75 305.73C554.92 305.73 554.92 329.8 551.1 329.8Z" fill="#5088c8" fill-opacity="0.5"/>
<path d="M551.1 329.8C554.92 329.8 554.92 305.73 558.75 305.73L558.75 305.73C554.92 305.73 554.92 329.8 551.1 329.8Z" fill="#a8d0a0" fill-opacity="0.5"/>
<path d="M551.1 329.8C554.92 329.8 554.92 305.73 558.75 305.73L558.75 305.73C554.92 305.73 554.92 329.8 551.1 329.8Z" fill="#c0d890" fill-opacity="0.5"/>
<path d="M551.1 329.8C554.92 329.8 554.92 305.73 558.75 305.73L558.75 302.66C554.92 302.66 554.92 329.8 551.1 329.8Z" fill="#f0e080" fill-opacity="0.5"/>
<path d="M551.1 329.8C554.92 329.8 554.92 302.66 558.75 302.66L558.75 302.66C554.92 302.66 554.92 329.8 551.1 329.8Z" fill="#c8c0b8" fill-opacity="0.5"/>
<path d="M551.1 329.8C554.92 329.8 554.92 302.66 558.75 302.66L558.75 302.66C554.92 302.66 554.92 329.8 551.1 329.8Z" fill="#f0c870" fill-opacity="0.5"/>
<path d="M551.1 329.8C554.92 329.8 554.92 302.66 558.75 302.66L558.75 302.66C554.92 302.66 554.92 329.8 551.1 329.8Z" fill="#f8c880" fill-opacity="0.5"/>
<path d="M551.1 329.8C554.92 329.8 554.92 302.66 558.75 302.66L558.75 302.66C554.92 302.66 554.92 329.8 551.1 329.8Z" fill="#c8c0b8" fill-opacity="0.5"/>
<path d="M551.1 329.8C554.92 329.8 554.92 302.66 558.75 302.66L558.75 297.35C554.92 297.35 554.92 329.8 551.1 329.8Z" fill="#e0b8a0" fill-opacity="0.5"/>
<path d="M551.1 329.8C554.92 329.8 554.92 297.35 558.75 297.35L558.75 297.35C554.92 297.35 554.92 329.8 551.1 329.8Z" fill="#c8c0b8" fill-opacity="0.5"/>
<path d="M551.1 329.8C554.92 329.8 554.92 297.35 558.75 297.35L558.75 284.38C554.92 284.38 554.92 329.8 551.1 329.8Z" fill="#b8b0d8" fill-opacity="0.5"/>
<path d="M551.1 329.8C554.92 329.8 554.92 284.38 558.75 284.38L558.75 284.38C554.92 284.38 554.92 329.8 551.1 329.8Z" fill="#b8b0d8" fill-opacity="0.5"/>
<path d="M551.1 329.8C554.92 329.8 554.92 284.38 558.75 284.38L558.75 279.51C554.92 279.51 554.92 329.8 551.1 329.8Z" fill="#a8c0b0" fill-opacity="0.5"/>
<path d="M551.1 329.8C554.92 329.8 554.92 279.51 558.75 279.51L558.75 276C554.92 276 554.92 329.8 551.1 329.8Z" fill="#90c890" fill-opacity="0.5"/>
<path d="M564.65 329.6C568.5 329.6 568.5 329.6 572.35 329.6L572.35 318.8C568.5 318.8 568.5 329.6 564.65 329.6Z" fill="#8a7e74" fill-opacity="0.5"/>
<path d="M564.65 329.6C568.5 329.6 568.5 318.8 572.35 318.8L572.35 313.19C568.5 313.19 568.5 329.6 564.65 329.6Z" fill="#b07040" fill-opacity="0.5"/>
<path d="M564.65 329.6C568.5 329.6 568.5 313.19 572.35 313.19L572.35 309.65C568.5 309.65 568.5 326.54 564.65 326.54Z" fill="#c8c0b8" fill-opacity="0.5"/>
<path d="M564.65 326.54C568.5 326.54 568.5 309.65 572.35 309.65L572.35 304.04C568.5 304.04 568.5 326.54 564.65 326.54Z" fill="#d86830" fill-opacity="0.5"/>
<path d="M564.65 326.54C568.5 326.54 568.5 304.04 572.35 304.04L572.35 304.04C568.5 304.04 568.5 322.57 564.65 322.57Z" fill="#c83838" fill-opacity="0.5"/>
<path d="M564.65 322.57C568.5 322.57 568.5 304.04 572.35 304.04L572.35 304.04C568.5 304.04 568.5 319.06 564.65 319.06Z" fill="#e04090" fill-opacity="0.5"/>
<path d="M564.65 319.06C568.5 319.06 568.5 304.04 572.35 304.04L572.35 304.04C568.5 304.04 568.5 314.2 564.65 314.2Z" fill="#c040a0" fill-opacity="0.5"/>
<path d="M564.65 314.2C568.5 314.2 568.5 304.04 572.35 304.04L572.35 299.99C568.5 299.99 568.5 305.73 564.65 305.73Z" fill="#7858b8" fill-opacity="0.5"/>
<path d="M564.65 305.73C568.5 305.73 568.5 299.99 572.35 299.99L572.35 295.42C568.5 295.42 568.5 305.73 564.65 305.73Z" fill="#c8c0b8" fill-opacity="0.5"/>
<path d="M564.65 305.73C568.5 305.73 568.5 295.42 572.35 295.42L572.35 295.42C568.5 295.42 568.5 305.73 564.65 305.73Z" fill="#5088c8" fill-opacity="0.5"/>
<path d="M564.65 305.73C568.5 305.73 568.5 295.42 572.35 295.42L572.35 288.25C568.5 288.25 568.5 305.73 564.65 305.73Z" fill="#a8d0a0" fill-opacity="0.5"/>
<path d="M564.65 305.73C568.5 305.73 568.5 288.25 572.35 288.25L572.35 288.25C568.5 288.25 568.5 305.73 564.65 305.73Z" fill="#c0d890" fill-opacity="0.5"/>
<path d="M564.65 305.73C568.5 305.73 568.5 288.25 572.35 288.25L572.35 283.68C568.5 283.68 568.5 302.66 564.65 302.66Z" fill="#f0e080" fill-opacity="0.5"/>
<path d="M564.65 302.66C568.5 302.66 568.5 283.68 572.35 283.68L572.35 280.15C568.5 280.15 568.5 302.66 564.65 302.66Z" fill="#c8c0b8" fill-opacity="0.5"/>
<path d="M564.65 302.66C568.5 302.66 568.5 280.15 572.35 280.15L572.35 274.54C568.5 274.54 568.5 302.66 564.65 302.66Z" fill="#f0c870" fill-opacity="0.5"/>
<path d="M564.65 302.66C568.5 302.66 568.5 274.54 572.35 274.54L572.35 268.41C568.5 268.41 568.5 302.66 564.65 302.66Z" fill="#f8c880" fill-opacity="0.5"/>
<path d="M564.65 302.66C568.5 302.66 568.5 268.41 572.35 268.41L572.35 264.88C568.5 264.88 568.5 302.66 564.65 302.66Z" fill="#c8c0b8" fill-opacity="0.5"/>
<path d="M564.65 302.66C568.5 302.66 568.5 264.88 572.35 264.88L572.35 248.88C568.5 248.88 568.5 297.35 564.65 297.35Z" fill="#e0b8a0" fill-opacity="0.5"/>
<path d="M564.65 297.35C568.5 297.35 568.5 248.88 572.35 248.88L572.35 248.88C568.5 248.88 568.5 297.35 564.65 297.35Z" fill="#c8c0b8" fill-opacity="0.5"/>
<path d="M564.65 297.35C568.5 297.35 568.5 248.88 572.35 248.88L572.35 245.35C568.5 245.35 568.5 284.38 564.65 284.38Z" fill="#b8b0d8" fill-opacity="0.5"/>
<path d="M564.65 284.38C568.5 284.38 568.5 245.35 572.35 245.35L572.35 241.81C568.5 241.81 568.5 284.38 564.65 284.38Z" fill="#b8b0d8" fill-opacity="0.5"/>
<path d="M564.65 284.38C568.5 284.38 568.5 241.81 572.35 241.81L572.35 241.81C568.5 241.81 568.5 279.51 564.65 279.51Z" fill="#a8c0b0" fill-opacity="0.5"/>
<path d="M564.65 279.51C568.5 279.51 568.5 241.81 572.35 241.81L572.35 238.8C568.5 238.8 568.5 276 564.65 276Z" fill="#90c890" fill-opacity="0.5"/>
<path d="M578.25 329.6C582.1 329.6 582.1 329.6 585.95 329.6L585.95 329.6C582.1 329.6 582.1 318.8 578.25 318.8Z" fill="#8a7e74" fill-opacity="0.5"/>
<path d="M578.25 318.8C582.1 318.8 582.1 329.6 585.95 329.6L585.95 314.05C582.1 314.05 582.1 313.19 578.25 313.19Z" fill="#b07040" fill-opacity="0.5"/>
<path d="M578.25 313.19C582.1 313.19 582.1 314.05 585.95 314.05L585.95 310.83C582.1 310.83 582.1 309.65 578.25 309.65Z" fill="#c8c0b8" fill-opacity="0.5"/>
<path d="M578.25 309.65C582.1 309.65 582.1 310.83 585.95 310.83L585.95 305.71C582.1 305.71 582.1 304.04 578.25 304.04Z" fill="#d86830" fill-opacity="0.5"/>
<path d="M578.25 304.04C582.1 304.04 582.1 305.71 585.95 305.71L585.95 298.69C582.1 298.69 582.1 304.04 578.25 304.04Z" fill="#c83838" fill-opacity="0.5"/>
<path d="M578.25 304.04C582.1 304.04 582.1 298.69 585.95 298.69L585.95 298.69C582.1 298.69 582.1 304.04 578.25 304.04Z" fill="#e04090" fill-opacity="0.5"/>
<path d="M578.25 304.04C582.1 304.04 582.1 298.69 585.95 298.69L585.95 295.47C582.1 295.47 582.1 304.04 578.25 304.04Z" fill="#c040a0" fill-opacity="0.5"/>
<path d="M578.25 304.04C582.1 304.04 582.1 295.47 585.95 295.47L585.95 295.47C582.1 295.47 582.1 299.99 578.25 299.99Z" fill="#7858b8" fill-opacity="0.5"/>
<path d="M578.25 299.99C582.1 299.99 582.1 295.47 585.95 295.47L585.95 292.24C582.1 292.24 582.1 295.42 578.25 295.42Z" fill="#c8c0b8" fill-opacity="0.5"/>
<path d="M578.25 295.42C582.1 295.42 582.1 292.24 585.95 292.24L585.95 288.07C582.1 288.07 582.1 295.42 578.25 295.42Z" fill="#5088c8" fill-opacity="0.5"/>
<path d="M578.25 295.42C582.1 295.42 582.1 288.07 585.95 288.07L585.95 278.21C582.1 278.21 582.1 288.25 578.25 288.25Z" fill="#a8d0a0" fill-opacity="0.5"/>
<path d="M578.25 288.25C582.1 288.25 582.1 278.21 585.95 278.21L585.95 273.09C582.1 273.09 582.1 288.25 578.25 288.25Z" fill="#c0d890" fill-opacity="0.5"/>
<path d="M578.25 288.25C582.1 288.25 582.1 273.09 585.95 273.09L585.95 273.09C582.1 273.09 582.1 283.68 578.25 283.68Z" fill="#f0e080" fill-opacity="0.5"/>
<path d="M578.25 283.68C582.1 283.68 582.1 273.09 585.95 273.09L585.95 273.09C582.1 273.09 582.1 280.15 578.25 280.15Z" fill="#c8c0b8" fill-opacity="0.5"/>
<path d="M578.25 280.15C582.1 280.15 582.1 273.09 585.95 273.09L585.95 267.97C582.1 267.97 582.1 274.54 578.25 274.54Z" fill="#f0c870" fill-opacity="0.5"/>
<path d="M578.25 274.54C582.1 274.54 582.1 267.97 585.95 267.97L585.95 267.97C582.1 267.97 582.1 268.41 578.25 268.41Z" fill="#f8c880" fill-opacity="0.5"/>
<path d="M578.25 268.41C582.1 268.41 582.1 267.97 585.95 267.97L585.95 264.75C582.1 264.75 582.1 264.88 578.25 264.88Z" fill="#c8c0b8" fill-opacity="0.5"/>
<path d="M578.25 264.88C582.1 264.88 582.1 264.75 585.95 264.75L585.95 249.2C582.1 249.2 582.1 248.88 578.25 248.88Z" fill="#e0b8a0" fill-opacity="0.5"/>
<path d="M578.25 248.88C582.1 248.88 582.1 249.2 585.95 249.2L585.95 245.97C582.1 245.97 582.1 248.88 578.25 248.88Z" fill="#c8c0b8" fill-opacity="0.5"/>
<path d="M578.25 248.88C582.1 248.88 582.1 245.97 585.95 245.97L585.95 229C582.1 229 582.1 245.35 578.25 245.35Z" fill="#b8b0d8" fill-opacity="0.5"/>
<path d="M578.25 245.35C582.1 245.35 582.1 229 585.95 229L585.95 229C582.1 229 582.1 241.81 578.25 241.81Z" fill="#b8b0d8" fill-opacity="0.5"/>
<path d="M578.25 241.81C582.1 241.81 582.1 229 585.95 229L585.95 229C582.1 229 582.1 241.81 578.25 241.81Z" fill="#a8c0b0" fill-opacity="0.5"/>
<path d="M578.25 241.81C582.1 241.81 582.1 229 585.95 229L585.95 229C582.1 229 582.1 238.8 578.25 238.8Z" fill="#90c890" fill-opacity="0.5"/>
<path d="M591.85 329.6C595.67 329.6 595.67 329.8 599.5 329.8L599.5 329.8C595.67 329.8 595.67 329.6 591.85 329.6Z" fill="#8a7e74" fill-opacity="0.5"/>
<path d="M591.85 329.6C595.67 329.6 595.67 329.8 599.5 329.8L599.5 329.8C595.67 329.8 595.67 314.05 591.85 314.05Z" fill="#b07040" fill-opacity="0.5"/>
<path d="M591.85 314.05C595.67 314.05 595.67 329.8 599.5 329.8L599.5 329.8C595.67 329.8 595.67 310.83 591.85 310.83Z" fill="#c8c0b8" fill-opacity="0.5"/>
<path d="M591.85 310.83C595.67 310.83 595.67 329.8 599.5 329.8L599.5 329.8C595.67 329.8 595.67 305.71 591.85 305.71Z" fill="#d86830" fill-opacity="0.5"/>
<path d="M591.85 305.71C595.67 305.71 595.67 329.8 599.5 329.8L599.5 329.8C595.67 329.8 595.67 298.69 591.85 298.69Z" fill="#c83838" fill-opacity="0.5"/>
<path d="M591.85 298.69C595.67 298.69 595.67 329.8 599.5 329.8L599.5 329.8C595.67 329.8 595.67 298.69 591.85 298.69Z" fill="#e04090" fill-opacity="0.5"/>
<path d="M591.85 298.69C595.67 298.69 595.67 329.8 599.5 329.8L599.5 329.8C595.67 329.8 595.67 295.47 591.85 295.47Z" fill="#c040a0" fill-opacity="0.5"/>
<path d="M591.85 295.47C595.67 295.47 595.67 329.8 599.5 329.8L599.5 329.8C595.67 329.8 595.67 295.47 591.85 295.47Z" fill="#7858b8" fill-opacity="0.5"/>
<path d="M591.85 295.47C595.67 295.47 595.67 329.8 599.5 329.8L599.5 329.8C595.67 329.8 595.67 292.24 591.85 292.24Z" fill="#c8c0b8" fill-opacity="0.5"/>
<path d="M591.85 292.24C595.67 292.24 595.67 329.8 599.5 329.8L599.5 329.8C595.67 329.8 595.67 288.07 591.85 288.07Z" fill="#5088c8" fill-opacity="0.5"/>
<path d="M591.85 288.07C595.67 288.07 595.67 329.8 599.5 329.8L599.5 329.8C595.67 329.8 595.67 278.21 591.85 278.21Z" fill="#a8d0a0" fill-opacity="0.5"/>
<path d="M591.85 278.21C595.67 278.21 595.67 329.8 599.5 329.8L599.5 329.8C595.67 329.8 595.67 273.09 591.85 273.09Z" fill="#c0d890" fill-opacity="0.5"/>
<path d="M591.85 273.09C595.67 273.09 595.67 329.8 599.5 329.8L599.5 329.8C595.67 329.8 595.67 273.09 591.85 273.09Z" fill="#f0e080" fill-opacity="0.5"/>
<path d="M591.85 273.09C595.67 273.09 595.67 329.8 599.5 329.8L599.5 329.8C595.67 329.8 595.67 273.09 591.85 273.09Z" fill="#c8c0b8" fill-opacity="0.5"/>
<path d="M591.85 273.09C595.67 273.09 595.67 329.8 599.5 329.8L599.5 329.8C595.67 329.8 595.67 267.97 591.85 267.97Z" fill="#f0c870" fill-opacity="0.5"/>
<path d="M591.85 267.97C595.67 267.97 595.67 329.8 599.5 329.8L599.5 329.8C595.67 329.8 595.67 267.97 591.85 267.97Z" fill="#f8c880" fill-opacity="0.5"/>
<path d="M591.85 267.97C595.67 267.97 595.67 329.8 599.5 329.8L599.5 329.8C595.67 329.8 595.67 264.75 591.85 264.75Z" fill="#c8c0b8" fill-opacity="0.5"/>
<path d="M591.85 264.75C595.67 264.75 595.67 329.8 599.5 329.8L599.5 329.8C595.67 329.8 595.67 249.2 591.85 249.2Z" fill="#e0b8a0" fill-opacity="0.5"/>
<path d="M591.85 249.2C595.67 249.2 595.67 329.8 599.5 329.8L599.5 329.8C595.67 329.8 595.67 245.97 591.85 245.97Z" fill="#c8c0b8" fill-opacity="0.5"/>
<path d="M591.85 245.97C595.67 245.97 595.67 329.8 599.5 329.8L599.5 329.8C595.67 329.8 595.67 229 591.85 229Z" fill="#b8b0d8" fill-opacity="0.5"/>
<path d="M591.85 229C595.67 229 595.67 329.8 599.5 329.8L599.5 329.8C595.67 329.8 595.67 229 591.85 229Z" fill="#b8b0d8" fill-opacity="0.5"/>
<path d="M591.85 229C595.67 229 595.67 329.8 599.5 329.8L599.5 329.8C595.67 329.8 595.67 229 591.85 229Z" fill="#a8c0b0" fill-opacity="0.5"/>
<path d="M591.85 229C595.67 229 595.67 329.8 599.5 329.8L599.5 329.8C595.67 329.8 595.67 229 591.85 229Z" fill="#90c890" fill-opacity="0.5"/>
<path d="M605.5 328.85C609.3 328.85 609.3 328.1 613.1 328.1L613.1 329.3C609.3 329.3 609.3 330.05 605.5 330.05Z" fill="#e89878" fill-opacity="0.3"/>
<path d="M619.1 328.1C622.9 328.1 622.9 328.55 626.7 328.55L626.7 329.75C622.9 329.75 622.9 329.3 619.1 329.3Z" fill="#e89878" fill-opacity="0.3"/>
<path d="M632.7 328.55C636.5 328.55 636.5 329.2 640.3 329.2L640.3 330.4C636.5 330.4 636.5 329.75 632.7 329.75Z" fill="#e89878" fill-opacity="0.3"/>
<path d="M646.3 329.2C650.1 329.2 650.1 328.65 653.9 328.65L653.9 329.85C650.1 329.85 650.1 330.4 646.3 330.4Z" fill="#e89878" fill-opacity="0.3"/>
<path d="M659.9 328.65C663.7 328.65 663.7 328.4 667.5 328.4L667.5 329.6C663.7 329.6 663.7 329.85 659.9 329.85Z" fill="#e89878" fill-opacity="0.3"/>
<rect x="477" y="328.8" width="6.2" height="2" rx="0.9" fill="#000"/>
<rect x="490.6" y="326.3" width="6.2" height="4.5" rx="0.9" fill="#000"/>
<rect x="492.3" y="327.9" width="2.8" height="1.2" fill="#e8b8a0"/>
<rect x="504.2" y="328.8" width="6.2" height="2" rx="0.9" fill="#000"/>
<rect x="517.8" y="328.8" width="6.2" height="2" rx="0.9" fill="#000"/>
<rect x="531.4" y="328.8" width="6.2" height="2" rx="0.9" fill="#000"/>
<rect x="545" y="327.8" width="6.2" height="3" rx="0.9" fill="#000"/>
<rect x="558.75" y="274.8" width="5.9" height="56" rx="0.9" fill="#000"/>
<rect x="560.25" y="327.24" width="2.9" height="1.66" fill="#2a2a2a"/>
<rect x="560.25" y="323.27" width="2.9" height="2.56" fill="#c83838"/>
<rect x="560.25" y="319.76" width="2.9" height="2.11" fill="#e04090"/>
<rect x="560.25" y="314.9" width="2.9" height="3.46" fill="#c040a0"/>
<rect x="560.25" y="306.43" width="2.9" height="7.07" fill="#7858b8"/>
<rect x="560.25" y="303.36" width="2.9" height="1.66" fill="#f0e080"/>
<rect x="560.25" y="298.05" width="2.9" height="3.91" fill="#e0b8a0"/>
<rect x="560.25" y="285.08" width="2.9" height="11.57" fill="#b8b0d8"/>
<rect x="560.25" y="280.21" width="2.9" height="3.46" fill="#a8c0b0"/>
<rect x="560.25" y="276.7" width="2.9" height="2.11" fill="#90c890"/>
<rect x="572.35" y="237.6" width="5.9" height="93.2" rx="0.9" fill="#000"/>
<rect x="573.85" y="319.5" width="2.9" height="9.4" fill="#8a7e74"/>
<rect x="573.85" y="313.89" width="2.9" height="4.21" fill="#b07040"/>
<rect x="573.85" y="310.35" width="2.9" height="2.13" fill="#2a2a2a"/>
<rect x="573.85" y="304.74" width="2.9" height="4.21" fill="#d86830"/>
<rect x="573.85" y="300.69" width="2.9" height="2.65" fill="#7858b8"/>
<rect x="573.85" y="296.12" width="2.9" height="3.17" fill="#2a2a2a"/>
<rect x="573.85" y="288.95" width="2.9" height="5.77" fill="#a8d0a0"/>
<rect x="573.85" y="284.38" width="2.9" height="3.17" fill="#f0e080"/>
<rect x="573.85" y="280.85" width="2.9" height="2.13" fill="#2a2a2a"/>
<rect x="573.85" y="275.24" width="2.9" height="4.21" fill="#f0c870"/>
<rect x="573.85" y="269.11" width="2.9" height="4.73" fill="#f8c880"/>
<rect x="573.85" y="265.58" width="2.9" height="2.13" fill="#2a2a2a"/>
<rect x="573.85" y="249.58" width="2.9" height="14.6" fill="#e0b8a0"/>
<rect x="573.85" y="246.05" width="2.9" height="2.13" fill="#b8b0d8"/>
<rect x="573.85" y="242.51" width="2.9" height="2.13" fill="#b8b0d8"/>
<rect x="573.85" y="239.5" width="2.9" height="1.61" fill="#90c890"/>
<rect x="585.95" y="227.8" width="5.9" height="103" rx="0.9" fill="#000"/>
<rect x="587.45" y="314.75" width="2.9" height="14.15" fill="#b07040"/>
<rect x="587.45" y="311.53" width="2.9" height="1.82" fill="#2a2a2a"/>
<rect x="587.45" y="306.41" width="2.9" height="3.72" fill="#d86830"/>
<rect x="587.45" y="299.39" width="2.9" height="5.62" fill="#c83838"/>
<rect x="587.45" y="296.17" width="2.9" height="1.82" fill="#c040a0"/>
<rect x="587.45" y="292.94" width="2.9" height="1.82" fill="#2a2a2a"/>
<rect x="587.45" y="288.77" width="2.9" height="2.77" fill="#5088c8"/>
<rect x="587.45" y="278.91" width="2.9" height="8.46" fill="#a8d0a0"/>
<rect x="587.45" y="273.79" width="2.9" height="3.72" fill="#c0d890"/>
<rect x="587.45" y="268.67" width="2.9" height="3.72" fill="#f0c870"/>
<rect x="587.45" y="265.45" width="2.9" height="1.82" fill="#2a2a2a"/>
<rect x="587.45" y="249.9" width="2.9" height="14.15" fill="#e0b8a0"/>
<rect x="587.45" y="246.67" width="2.9" height="1.82" fill="#2a2a2a"/>
<rect x="587.45" y="229.7" width="2.9" height="15.57" fill="#b8b0d8"/>
<rect x="599.4" y="328.1" width="6.2" height="2.7" rx="0.9" fill="#000"/>
<rect x="613" y="326.6" width="6.2" height="4.2" rx="0.9" fill="#000"/>
<rect x="626.6" y="327.5" width="6.2" height="3.3" rx="0.9" fill="#000"/>
<rect x="640.2" y="328.8" width="6.2" height="2" rx="0.9" fill="#000"/>
<rect x="653.8" y="327.7" width="6.2" height="3.1" rx="0.9" fill="#000"/>
<rect x="667.4" y="327.2" width="6.2" height="3.6" rx="0.9" fill="#000"/>
<text x="1" y="411.8" font-size="10.5" font-weight="bold" style="stroke-width:0.45px" fill="#000">e</text>
<rect x="45.4" y="409.3" width="573.6" height="75" fill="#ebebeb"/>
<rect x="45.4" y="492.3" width="573.6" height="63" fill="#ebebeb"/>
<rect x="45.4" y="495.5" width="573.6" height="57.5" fill="#a6cee3"/>
<path fill="#33a02c" d="M45.4 481.5V449.37H46.22V450.39H47.04V450.57H47.86V452.74H48.68V453.87H49.5V455.62H50.32V456.75H51.14V457.29H51.96V457.03H52.77V458.69H53.59V459.17H54.41V460.35H55.23V461.59H56.05V460.72H56.87V461.52H57.69V462.57H58.51V462.38H59.33V463.2H60.15V462.94H60.97V463.16H61.79V463.99H62.61V463.61H63.43V464.87H64.25V464.25H65.07V464.8H65.89V464.61H66.71V465.31H67.52V464.97H68.34V464.98H69.16V465.33H69.98V465.88H70.8V465.93H71.62V465.95H72.44V465.4H73.26V465.84H74.08V466.26H74.9V465.47H75.72V466.29H76.54V466.4H77.36V466.91H78.18V466.75H79V466.25H79.82V466.71H80.64V467.07H81.45V466.78H82.27V466.92H83.09V466.9H83.91V466.96H84.73V467.06H85.55V466.77H86.37V467.28H87.19V467.39H88.01V467.28H88.83V467.57H89.65V467.32H90.47V467.9H91.29V467.95H92.11V468.13H92.93V467.76H93.75V467.63H94.57V467.73H95.39V468.19H96.2V467.92H97.02V468.08H97.84V468.05H98.66V468.59H99.48V468.12H100.3V468.49H101.12V468.34H101.94V468.57H102.76V468.88H103.58V468.49H104.4V468.81H105.22V468.45H106.04V468.85H106.86V469.12H107.68V469.38H108.5V468.89H109.32V468.97H110.13V469.2H110.95V469.08H111.77V469.26H112.59V468.98H113.41V469.3H114.23V469.62H115.05V469.37H115.87V469.81H116.69V469.81H117.51V469.55H118.33V469.56H119.15V469.85H119.97V469.71H120.79V469.68H121.61V469.56H122.43V469.81H123.25V469.97H124.07V470.26H124.88V470.16H125.7V470.09H126.52V470.35H127.34V470.53H128.16V470.49H128.98V470.08H129.8V470.52H130.62V470.36H131.44V470.51H132.26V470.63H133.08V470.72H133.9V471.2H134.72V470.7H135.54V471.13H136.36V471.26H137.18V471.37H138V471.02H138.81V471.17H139.63V471.55H140.45V470.9H141.27V471.47H142.09V471.3H142.91V471.36H143.73V471.07H144.55V471.12H145.37V471.34H146.19V471.43H147.01V471.32H147.83V471.33H148.65V471.52H149.47V471.6H150.29V471.25H151.11V471.84H151.93V471.45H152.75V471.62H153.56V471.89H154.38V471.93H155.2V471.53H156.02V471.8H156.84V471.81H157.66V472.11H158.48V471.79H159.3V471.92H160.12V471.88H160.94V471.59H161.76V472.11H162.58V472.19H163.4V472.18H164.22V471.6H165.04V472.35H165.86V472.05H166.68V471.86H167.49V472.08H168.31V472.15H169.13V472.3H169.95V472.27H170.77V472.09H171.59V472.32H172.41V472.28H173.23V471.85H174.05V472.37H174.87V472.15H175.69V472.09H176.51V472.28H177.33V472.42H178.15V472.05H178.97V472.54H179.79V472.6H180.61V472.59H181.43V472.37H182.24V472.42H183.06V472.49H183.88V472.49H184.7V472.83H185.52V472.76H186.34V472.35H187.16V472.71H187.98V472.74H188.8V472.74H189.62V472.83H190.44V472.94H191.26V472.91H192.08V472.82H192.9V473.04H193.72V472.77H194.54V473.12H195.36V472.52H196.17V472.76H196.99V472.79H197.81V473H198.63V473.18H199.45V473.02H200.27V473H201.09V473.1H201.91V473.04H202.73V473.01H203.55V473.08H204.37V472.91H205.19V473.11H206.01V473.24H206.83V472.95H207.65V473.25H208.47V472.84H209.29V473.1H210.11V473.24H210.92V473.27H211.74V473.67H212.56V473.3H213.38V473.28H214.2V473.37H215.02V473.33H215.84V473.54H216.66V473.52H217.48V473.62H218.3V473.73H219.12V473.53H219.94V473.92H220.76V473.66H221.58V473.54H222.4V473.52H223.22V473.8H224.04V473.57H224.85V473.73H225.67V473.75H226.49V474.04H227.31V473.82H228.13V473.72H228.95V474.07H229.77V473.78H230.59V474.08H231.41V473.67H232.23V473.88H233.05V473.66H233.87V473.95H234.69V473.97H235.51V473.99H236.33V473.96H237.15V474.07H237.97V473.9H238.79V474.13H239.6V474.45H240.42V474.14H241.24V474.15H242.06V474.11H242.88V474.28H243.7V474.21H244.52V474.07H245.34V474.34H246.16V474.45H246.98V474.09H247.8V474.11H248.62V474.24H249.44V474.27H250.26V474.19H251.08V474.64H251.9V474.38H252.72V474.49H253.53V474.26H254.35V474.57H255.17V474.51H255.99V474.55H256.81V474.76H257.63V474.6H258.45V474.7H259.27V474.68H260.09V474.65H260.91V474.66H261.73V474.53H262.55V474.58H263.37V474.61H264.19V474.66H265.01V474.65H265.83V474.75H266.65V475H267.47V475.04H268.28V474.68H269.1V474.88H269.92V474.87H270.74V474.76H271.56V475.11H272.38V474.93H273.2V475.25H274.02V475.21H274.84V475.19H275.66V475.1H276.48V474.95H277.3V475.31H278.12V475.12H278.94V474.94H279.76V475.12H280.58V475.3H281.4V475.18H282.21V475.27H283.03V475.34H283.85V475.41H284.67V475.27H285.49V475.33H286.31V475.39H287.13V475.36H287.95V475.38H288.77V475.49H289.59V475.36H290.41V475.6H291.23V475.31H292.05V475.47H292.87V475.44H293.69V475.41H294.51V475.56H295.33V475.72H296.15V475.47H296.96V475.64H297.78V475.62H298.6V475.76H299.42V475.82H300.24V475.62H301.06V475.81H301.88V475.73H302.7V475.94H303.52V475.61H304.34V475.78H305.16V475.79H305.98V475.84H306.8V475.84H307.62V475.83H308.44V475.85H309.26V475.87H310.08V475.76H310.89V476H311.71V475.94H312.53V475.84H313.35V475.91H314.17V475.94H314.99V476.11H315.81V476.05H316.63V476.09H317.45V475.99H318.27V476.12H319.09V476.04H319.91V476.04H320.73V476.08H321.55V476.19H322.37V476.34H323.19V476.17H324.01V476.21H324.83V476.35H325.64V476.41H326.46V476.16H327.28V476.3H328.1V476.43H328.92V476.15H329.74V476.49H330.56V476.34H331.38V476.22H332.2V476.42H333.02V476.48H333.84V476.37H334.66V476.51H335.48V476.43H336.3V476.47H337.12V476.55H337.94V476.49H338.76V476.56H339.57V476.5H340.39V476.51H341.21V476.57H342.03V476.55H342.85V476.58H343.67V476.63H344.49V476.63H345.31V476.69H346.13V476.76H346.95V476.78H347.77V476.7H348.59V476.73H349.41V476.91H350.23V476.8H351.05V476.81H351.87V476.73H352.69V476.68H353.51V476.81H354.32V476.86H355.14V476.97H355.96V476.82H356.78V476.78H357.6V476.81H358.42V476.96H359.24V476.89H360.06V477.08H360.88V477.01H361.7V476.96H362.52V477.08H363.34V477.04H364.16V477.04H364.98V477.02H365.8V477.17H366.62V477.07H367.44V477.14H368.25V477.2H369.07V477.14H369.89V477.21H370.71V477.25H371.53V477.14H372.35V477.18H373.17V477.27H373.99V477.29H374.81V477.35H375.63V477.4H376.45V477.47H377.27V477.38H378.09V477.1H378.91V477.37H379.73V477.34H380.55V477.31H381.37V477.46H382.19V477.57H383V477.3H383.82V477.36H384.64V477.46H385.46V477.54H386.28V477.57H387.1V477.65H387.92V477.49H388.74V477.57H389.56V477.5H390.38V477.71H391.2V477.68H392.02V477.62H392.84V477.61H393.66V477.57H394.48V477.56H395.3V477.75H396.12V477.83H396.93V477.65H397.75V477.64H398.57V477.78H399.39V477.71H400.21V477.85H401.03V477.89H401.85V477.93H402.67V477.88H403.49V477.88H404.31V477.89H405.13V477.9H405.95V477.96H406.77V477.9H407.59V477.98H408.41V477.88H409.23V477.92H410.05V478.02H410.87V478.11H411.68V478.08H412.5V478.18H413.32V478.09H414.14V478.02H414.96V478.16H415.78V478.03H416.6V478.17H417.42V478.13H418.24V478.31H419.06V478.22H419.88V478.11H420.7V478.18H421.52V478.15H422.34V478.32H423.16V478.32H423.98V478.31H424.8V478.42H425.61V478.26H426.43V478.34H427.25V478.3H428.07V478.36H428.89V478.3H429.71V478.36H430.53V478.36H431.35V478.35H432.17V478.31H432.99V478.4H433.81V478.28H434.63V478.34H435.45V478.34H436.27V478.51H437.09V478.42H437.91V478.44H438.73V478.61H439.55V478.55H440.36V478.46H441.18V478.59H442V478.44H442.82V478.58H443.64V478.49H444.46V478.57H445.28V478.51H446.1V478.58H446.92V478.55H447.74V478.58H448.56V478.62H449.38V478.59H450.2V478.68H451.02V478.65H451.84V478.8H452.66V478.73H453.48V478.62H454.29V478.68H455.11V478.64H455.93V478.67H456.75V478.72H457.57V478.67H458.39V478.8H459.21V478.76H460.03V478.76H460.85V478.73H461.67V478.81H462.49V478.77H463.31V478.9H464.13V478.8H464.95V478.91H465.77V478.81H466.59V478.86H467.41V478.86H468.23V478.93H469.04V478.97H469.86V478.95H470.68V478.91H471.5V478.94H472.32V478.91H473.14V479H473.96V478.98H474.78V478.96H475.6V478.96H476.42V478.96H477.24V478.99H478.06V478.99H478.88V479.06H479.7V479.07H480.52V478.99H481.34V479.09H482.16V479.08H482.97V479.09H483.79V479.16H484.61V479.16H485.43V479.1H486.25V479.06H487.07V479.12H487.89V479.16H488.71V479.1H489.53V479.21H490.35V479.17H491.17V479.21H491.99V479.19H492.81V479.27H493.63V479.21H494.45V479.3H495.27V479.21H496.09V479.28H496.91V479.29H497.72V479.25H498.54V479.26H499.36V479.25H500.18V479.25H501V479.34H501.82V479.31H502.64V479.41H503.46V479.39H504.28V479.33H505.1V479.38H505.92V479.39H506.74V479.32H507.56V479.41H508.38V479.41H509.2V479.42H510.02V479.54H510.84V479.48H511.65V479.44H512.47V479.51H513.29V479.52H514.11V479.51H514.93V479.57H515.75V479.53H516.57V479.63H517.39V479.54H518.21V479.56H519.03V479.54H519.85V479.58H520.67V479.62H521.49V479.64H522.31V479.59H523.13V479.61H523.95V479.59H524.77V479.67H525.59V479.64H526.4V479.64H527.22V479.68H528.04V479.66H528.86V479.72H529.68V479.7H530.5V479.7H531.32V479.69H532.14V479.69H532.96V479.77H533.78V479.67H534.6V479.72H535.42V479.73H536.24V479.79H537.06V479.72H537.88V479.68H538.7V479.72H539.52V479.8H540.33V479.8H541.15V479.79H541.97V479.76H542.79V479.82H543.61V479.81H544.43V479.79H545.25V479.83H546.07V479.78H546.89V479.84H547.71V479.8H548.53V479.88H549.35V479.79H550.17V479.82H550.99V479.88H551.81V479.83H552.63V479.86H553.45V479.94H554.27V479.87H555.08V479.9H555.9V479.93H556.72V479.95H557.54V479.92H558.36V479.96H559.18V479.97H560V479.96H560.82V479.89H561.64V479.96H562.46V479.99H563.28V479.98H564.1V479.98H564.92V479.96H565.74V480.01H566.56V480H567.38V480.04H568.2V479.97H569.01V480.05H569.83V480.08H570.65V480.05H571.47V480.05H572.29V480.05H573.11V480.07H573.93V480.04H574.75V480.07H575.57V480.13H576.39V480.12H577.21V480.15H578.03V480.12H578.85V480.12H579.67V480.08H580.49V480.16H581.31V480.17H582.13V480.2H582.95V480.19H583.76V480.19H584.58V480.17H585.4V480.22H586.22V480.19H587.04V480.18H587.86V480.28H588.68V480.24H589.5V480.27H590.32V480.22H591.14V480.27H591.96V480.28H592.78V480.34H593.6V480.24H594.42V480.28H595.24V480.31H596.06V480.31H596.88V480.29H597.69V480.32H598.51V480.29H599.33V480.33H600.15V480.36H600.97V480.34H601.79V480.41H602.61V480.33H603.43V480.37H604.25V480.39H605.07V480.41H605.89V480.4H606.71V480.41H607.53V480.42H608.35V480.44H609.17V480.41H609.99V480.48H610.81V480.45H611.63V480.45H612.44V480.47H613.26V480.51H614.08V480.46H614.9V480.49H615.72V480.51H616.54V480.5H617.36V480.51H618.18V480.53H619V481.5H618.18V481.5H617.36V481.5H616.54V481.5H615.72V481.5H614.9V481.5H614.08V481.5H613.26V481.5H612.44V481.5H611.63V481.5H610.81V481.5H609.99V481.5H609.17V481.5H608.35V481.5H607.53V481.5H606.71V481.5H605.89V481.5H605.07V481.5H604.25V481.5H603.43V481.5H602.61V481.5H601.79V481.5H600.97V481.5H600.15V481.5H599.33V481.5H598.51V481.5H597.69V481.5H596.88V481.5H596.06V481.5H595.24V481.5H594.42V481.5H593.6V481.5H592.78V481.5H591.96V481.5H591.14V481.5H590.32V481.5H589.5V481.5H588.68V481.5H587.86V481.5H587.04V481.5H586.22V481.5H585.4V481.5H584.58V481.5H583.76V481.5H582.95V481.5H582.13V481.5H581.31V481.5H580.49V481.5H579.67V481.5H578.85V481.5H578.03V481.5H577.21V481.5H576.39V481.5H575.57V481.5H574.75V481.5H573.93V481.5H573.11V481.5H572.29V481.5H571.47V481.5H570.65V481.5H569.83V481.5H569.01V481.5H568.2V481.5H567.38V481.5H566.56V481.5H565.74V481.5H564.92V481.5H564.1V481.5H563.28V481.5H562.46V481.5H561.64V481.5H560.82V481.5H560V481.5H559.18V481.5H558.36V481.5H557.54V481.5H556.72V481.5H555.9V481.5H555.08V481.5H554.27V481.5H553.45V481.5H552.63V481.5H551.81V481.5H550.99V481.5H550.17V481.5H549.35V481.5H548.53V481.5H547.71V481.5H546.89V481.5H546.07V481.5H545.25V481.5H544.43V481.5H543.61V481.5H542.79V481.5H541.97V481.5H541.15V481.5H540.33V481.5H539.52V481.5H538.7V481.5H537.88V481.5H537.06V481.5H536.24V481.5H535.42V481.5H534.6V481.5H533.78V481.5H532.96V481.5H532.14V481.5H531.32V481.5H530.5V481.5H529.68V481.5H528.86V481.5H528.04V481.5H527.22V481.5H526.4V481.5H525.59V481.5H524.77V481.5H523.95V481.5H523.13V481.5H522.31V481.5H521.49V481.5H520.67V481.5H519.85V481.5H519.03V481.5H518.21V481.5H517.39V481.5H516.57V481.5H515.75V481.5H514.93V481.5H514.11V481.5H513.29V481.5H512.47V481.5H511.65V481.5H510.84V481.5H510.02V481.5H509.2V481.5H508.38V481.5H507.56V481.5H506.74V481.5H505.92V481.5H505.1V481.5H504.28V481.5H503.46V481.5H502.64V481.5H501.82V481.5H501V481.5H500.18V481.5H499.36V481.5H498.54V481.5H497.72V481.5H496.91V481.5H496.09V481.5H495.27V481.5H494.45V481.5H493.63V481.5H492.81V481.5H491.99V481.5H491.17V481.5H490.35V481.5H489.53V481.5H488.71V481.5H487.89V481.5H487.07V481.5H486.25V481.5H485.43V481.5H484.61V481.5H483.79V481.5H482.97V481.5H482.16V481.5H481.34V481.5H480.52V481.5H479.7V481.5H478.88V481.5H478.06V481.5H477.24V481.5H476.42V481.5H475.6V481.5H474.78V481.5H473.96V481.5H473.14V481.5H472.32V481.5H471.5V481.5H470.68V481.5H469.86V481.5H469.04V481.5H468.23V481.5H467.41V481.5H466.59V481.5H465.77V481.5H464.95V481.5H464.13V481.5H463.31V481.5H462.49V481.5H461.67V481.5H460.85V481.5H460.03V481.5H459.21V481.5H458.39V481.5H457.57V481.5H456.75V481.5H455.93V481.5H455.11V481.5H454.29V481.5H453.48V481.5H452.66V481.5H451.84V481.5H451.02V481.5H450.2V481.5H449.38V481.5H448.56V481.5H447.74V481.5H446.92V481.5H446.1V481.5H445.28V481.5H444.46V481.5H443.64V481.5H442.82V481.5H442V481.5H441.18V481.5H440.36V481.5H439.55V481.5H438.73V481.5H437.91V481.5H437.09V481.5H436.27V481.5H435.45V481.5H434.63V481.5H433.81V481.5H432.99V481.5H432.17V481.5H431.35V481.5H430.53V481.5H429.71V481.5H428.89V481.5H428.07V481.5H427.25V481.5H426.43V481.5H425.61V481.5H424.8V481.5H423.98V481.5H423.16V481.5H422.34V481.5H421.52V481.5H420.7V481.5H419.88V481.5H419.06V481.5H418.24V481.5H417.42V481.5H416.6V481.5H415.78V481.5H414.96V481.5H414.14V481.5H413.32V481.5H412.5V481.5H411.68V481.5H410.87V481.5H410.05V481.5H409.23V481.5H408.41V481.5H407.59V481.5H406.77V481.5H405.95V481.5H405.13V481.5H404.31V481.5H403.49V481.5H402.67V481.5H401.85V481.5H401.03V481.5H400.21V481.5H399.39V481.5H398.57V481.5H397.75V481.5H396.93V481.5H396.12V481.5H395.3V481.5H394.48V481.5H393.66V481.5H392.84V481.5H392.02V481.5H391.2V481.5H390.38V481.5H389.56V481.5H388.74V481.5H387.92V481.5H387.1V481.5H386.28V481.5H385.46V481.5H384.64V481.5H383.82V481.5H383V481.5H382.19V481.5H381.37V481.5H380.55V481.5H379.73V481.5H378.91V481.5H378.09V481.5H377.27V481.5H376.45V481.5H375.63V481.5H374.81V481.5H373.99V481.5H373.17V481.5H372.35V481.5H371.53V481.5H370.71V481.5H369.89V481.5H369.07V481.5H368.25V481.5H367.44V481.5H366.62V481.5H365.8V481.5H364.98V481.5H364.16V481.5H363.34V481.5H362.52V481.5H361.7V481.5H360.88V481.5H360.06V481.5H359.24V481.5H358.42V481.5H357.6V481.5H356.78V481.5H355.96V481.5H355.14V481.5H354.32V481.5H353.51V481.5H352.69V481.5H351.87V481.5H351.05V481.5H350.23V481.5H349.41V481.5H348.59V481.5H347.77V481.5H346.95V481.5H346.13V481.5H345.31V481.5H344.49V481.5H343.67V481.5H342.85V481.5H342.03V481.5H341.21V481.5H340.39V481.5H339.57V481.5H338.76V481.5H337.94V481.5H337.12V481.5H336.3V481.5H335.48V481.5H334.66V481.5H333.84V481.5H333.02V481.5H332.2V481.5H331.38V481.5H330.56V481.5H329.74V481.5H328.92V481.5H328.1V481.5H327.28V481.5H326.46V481.5H325.64V481.5H324.83V481.5H324.01V481.5H323.19V481.5H322.37V481.5H321.55V481.5H320.73V481.5H319.91V481.5H319.09V481.5H318.27V481.5H317.45V481.5H316.63V481.5H315.81V481.5H314.99V481.5H314.17V481.5H313.35V481.5H312.53V481.5H311.71V481.5H310.89V481.5H310.08V481.5H309.26V481.5H308.44V481.5H307.62V481.5H306.8V481.5H305.98V481.5H305.16V481.5H304.34V481.5H303.52V481.5H302.7V481.5H301.88V481.5H301.06V481.5H300.24V481.5H299.42V481.5H298.6V481.5H297.78V481.5H296.96V481.5H296.15V481.5H295.33V481.5H294.51V481.5H293.69V481.5H292.87V481.5H292.05V481.5H291.23V481.5H290.41V481.5H289.59V481.5H288.77V481.5H287.95V481.5H287.13V481.5H286.31V481.5H285.49V481.5H284.67V481.5H283.85V481.5H283.03V481.5H282.21V481.5H281.4V481.5H280.58V481.5H279.76V481.5H278.94V481.5H278.12V481.5H277.3V481.5H276.48V481.5H275.66V481.5H274.84V481.5H274.02V481.5H273.2V481.5H272.38V481.5H271.56V481.5H270.74V481.5H269.92V481.5H269.1V481.5H268.28V481.5H267.47V481.5H266.65V481.5H265.83V481.5H265.01V481.5H264.19V481.5H263.37V481.5H262.55V481.5H261.73V481.5H260.91V481.5H260.09V481.5H259.27V481.5H258.45V481.5H257.63V481.5H256.81V481.5H255.99V481.5H255.17V481.5H254.35V481.5H253.53V481.5H252.72V481.5H251.9V481.5H251.08V481.5H250.26V481.5H249.44V481.5H248.62V481.5H247.8V481.5H246.98V481.5H246.16V481.5H245.34V481.5H244.52V481.5H243.7V481.5H242.88V481.5H242.06V481.5H241.24V481.5H240.42V481.5H239.6V481.5H238.79V481.5H237.97V481.5H237.15V481.5H236.33V481.5H235.51V481.5H234.69V481.5H233.87V481.5H233.05V481.5H232.23V481.5H231.41V481.5H230.59V481.5H229.77V481.5H228.95V481.5H228.13V481.5H227.31V481.5H226.49V481.5H225.67V481.5H224.85V481.5H224.04V481.5H223.22V481.5H222.4V481.5H221.58V481.5H220.76V481.5H219.94V481.5H219.12V481.5H218.3V481.5H217.48V481.5H216.66V481.5H215.84V481.5H215.02V481.5H214.2V481.5H213.38V481.5H212.56V481.5H211.74V481.5H210.92V481.5H210.11V481.5H209.29V481.5H208.47V481.5H207.65V481.5H206.83V481.5H206.01V481.5H205.19V481.5H204.37V481.5H203.55V481.5H202.73V481.5H201.91V481.5H201.09V481.5H200.27V481.5H199.45V481.5H198.63V481.5H197.81V481.5H196.99V481.5H196.17V481.5H195.36V481.5H194.54V481.5H193.72V481.5H192.9V481.5H192.08V481.5H191.26V481.5H190.44V481.5H189.62V481.5H188.8V481.5H187.98V481.5H187.16V481.5H186.34V481.5H185.52V481.5H184.7V481.5H183.88V481.5H183.06V481.5H182.24V481.5H181.43V481.5H180.61V481.5H179.79V481.5H178.97V481.5H178.15V481.5H177.33V481.5H176.51V481.5H175.69V481.5H174.87V481.5H174.05V481.5H173.23V481.5H172.41V481.5H171.59V481.5H170.77V481.5H169.95V481.5H169.13V481.5H168.31V481.5H167.49V481.5H166.68V481.5H165.86V481.5H165.04V481.5H164.22V481.5H163.4V481.5H162.58V481.5H161.76V481.5H160.94V481.5H160.12V481.5H159.3V481.5H158.48V481.5H157.66V481.5H156.84V481.5H156.02V481.5H155.2V481.5H154.38V481.5H153.56V481.5H152.75V481.5H151.93V481.5H151.11V481.5H150.29V481.5H149.47V481.5H148.65V481.5H147.83V481.5H147.01V481.5H146.19V481.5H145.37V481.5H144.55V481.5H143.73V481.5H142.91V481.5H142.09V481.5H141.27V481.5H140.45V481.5H139.63V481.5H138.81V481.5H138V481.5H137.18V481.5H136.36V481.5H135.54V481.5H134.72V481.5H133.9V481.5H133.08V481.5H132.26V481.5H131.44V481.5H130.62V481.5H129.8V481.5H128.98V481.5H128.16V481.5H127.34V481.5H126.52V481.5H125.7V481.5H124.88V481.5H124.07V481.5H123.25V481.5H122.43V481.5H121.61V481.5H120.79V481.5H119.97V481.5H119.15V481.5H118.33V481.5H117.51V481.5H116.69V481.5H115.87V481.5H115.05V481.5H114.23V481.5H113.41V481.5H112.59V481.5H111.77V481.5H110.95V481.5H110.13V481.5H109.32V481.5H108.5V481.5H107.68V481.5H106.86V481.5H106.04V481.5H105.22V481.5H104.4V481.5H103.58V481.5H102.76V481.5H101.94V481.5H101.12V481.5H100.3V481.5H99.48V481.5H98.66V481.5H97.84V481.5H97.02V481.5H96.2V481.5H95.39V481.5H94.57V481.5H93.75V481.5H92.93V481.5H92.11V481.5H91.29V481.5H90.47V481.5H89.65V481.5H88.83V481.5H88.01V481.5H87.19V481.5H86.37V481.5H85.55V481.5H84.73V481.5H83.91V481.5H83.09V481.5H82.27V481.5H81.45V481.5H80.64V481.5H79.82V481.5H79V481.5H78.18V481.5H77.36V481.5H76.54V481.5H75.72V481.5H74.9V481.5H74.08V481.5H73.26V481.5H72.44V481.5H71.62V481.5H70.8V481.5H69.98V481.5H69.16V481.5H68.34V481.5H67.52V481.5H66.71V481.5H65.89V481.5H65.07V481.5H64.25V481.5H63.43V481.5H62.61V481.5H61.79V481.5H60.97V481.5H60.15V481.5H59.33V481.5H58.51V481.5H57.69V481.5H56.87V481.5H56.05V481.5H55.23V481.5H54.41V481.5H53.59V481.5H52.77V481.5H51.96V481.5H51.14V481.5H50.32V481.5H49.5V481.5H48.68V481.5H47.86V481.5H47.04V481.5H46.22V481.5H45.4Z"/>
<path fill="#b2df8a" d="M45.4 449.37V438.68H46.22V445.46H47.04V442.42H47.86V444.1H48.68V443.29H49.5V447.69H50.32V446.91H51.14V451.04H51.96V453.79H52.77V456.23H53.59V449.01H54.41V457.43H55.23V458.08H56.05V454.46H56.87V455.99H57.69V452.48H58.51V455.72H59.33V459.34H60.15V458.62H60.97V457.56H61.79V446.11H62.61V458.8H63.43V461.25H64.25V459.11H65.07V460.51H65.89V461.28H66.71V463.59H67.52V463.59H68.34V462.23H69.16V460.68H69.98V462.48H70.8V461.74H71.62V463.23H72.44V464.21H73.26V464.19H74.08V463.85H74.9V464.17H75.72V455.87H76.54V463.21H77.36V463.48H78.18V465.75H79V464.48H79.82V466.71H80.64V462.6H81.45V465.2H82.27V465.33H83.09V463.81H83.91V464.75H84.73V464.41H85.55V463.46H86.37V465.5H87.19V464.34H88.01V465.39H88.83V467.1H89.65V465.51H90.47V464.31H91.29V464.97H92.11V465.35H92.93V465.74H93.75V464.91H94.57V466.29H95.39V465.98H96.2V465.64H97.02V464.6H97.84V465.63H98.66V468.55H99.48V465.2H100.3V466.26H101.12V465.76H101.94V465.77H102.76V466.13H103.58V466.42H104.4V466.97H105.22V465.81H106.04V465.96H106.86V466.47H107.68V467.17H108.5V455.53H109.32V466.35H110.13V466.43H110.95V466.55H111.77V466.55H112.59V467.85H113.41V466.5H114.23V468.49H115.05V468.1H115.87V466.06H116.69V467.71H117.51V466.58H118.33V466.47H119.15V467.18H119.97V468.89H120.79V468.43H121.61V468.12H122.43V465.97H123.25V467.55H124.07V468.14H124.88V468.24H125.7V467.58H126.52V467.4H127.34V470.53H128.16V467.93H128.98V469.01H129.8V467.4H130.62V469.54H131.44V468.19H132.26V468.42H133.08V467.94H133.9V468.54H134.72V468.87H135.54V469.81H136.36V469.36H137.18V469.07H138V469.38H138.81V469.33H139.63V469.26H140.45V469.35H141.27V468.2H142.09V467.38H142.91V468.99H143.73V470.31H144.55V469.63H145.37V469.45H146.19V468.96H147.01V465.17H147.83V469.63H148.65V468.9H149.47V469.95H150.29V467.85H151.11V471H151.93V471.01H152.75V470.47H153.56V470.55H154.38V468.44H155.2V469.43H156.02V469.42H156.84V469.42H157.66V470.13H158.48V469.98H159.3V470.33H160.12V469.15H160.94V470.29H161.76V469.98H162.58V469.64H163.4V467.31H164.22V469.83H165.04V469.97H165.86V471.03H166.68V469.92H167.49V470.74H168.31V472.15H169.13V471.47H169.95V469.88H170.77V469.94H171.59V458.93H172.41V472H173.23V468.8H174.05V470.74H174.87V468.32H175.69V470.21H176.51V470.8H177.33V469.71H178.15V470.05H178.97V471.38H179.79V470H180.61V470.56H181.43V471.48H182.24V470.6H183.06V471.26H183.88V470.86H184.7V459.54H185.52V470.78H186.34V470.4H187.16V470.86H187.98V470.94H188.8V472.1H189.62V471.42H190.44V471.26H191.26V471.62H192.08V471.08H192.9V470.67H193.72V471.78H194.54V471.18H195.36V471.06H196.17V471.48H196.99V470.35H197.81V470.58H198.63V470.78H199.45V472.02H200.27V470.23H201.09V466.7H201.91V472.42H202.73V472.75H203.55V471.66H204.37V471.1H205.19V470.18H206.01V471.82H206.83V471.56H207.65V471.37H208.47V471.64H209.29V472.47H210.11V472.28H210.92V471.12H211.74V472.51H212.56V472.5H213.38V471.77H214.2V470.65H215.02V470.2H215.84V471.53H216.66V472.35H217.48V471.87H218.3V470.93H219.12V473.53H219.94V472.24H220.76V471.38H221.58V471.82H222.4V471.76H223.22V472.47H224.04V472.83H224.85V471.41H225.67V470.68H226.49V473.17H227.31V471.58H228.13V471.21H228.95V474.07H229.77V472.9H230.59V471.91H231.41V472.12H232.23V473.76H233.05V471.67H233.87V472.6H234.69V471.15H235.51V471.72H236.33V470.29H237.15V471.34H237.97V473.58H238.79V473.13H239.6V466.44H240.42V471.71H241.24V472.9H242.06V471.17H242.88V473.67H243.7V469.99H244.52V473.92H245.34V471.21H246.16V474.37H246.98V471.84H247.8V471.63H248.62V471.38H249.44V472.97H250.26V471.95H251.08V473.86H251.9V471.77H252.72V472.23H253.53V473.31H254.35V474.27H255.17V472.59H255.99V474.55H256.81V474.66H257.63V473.24H258.45V461.51H259.27V473.27H260.09V472.35H260.91V473.17H261.73V471.62H262.55V473.37H263.37V473.91H264.19V472.7H265.01V471.95H265.83V471.01H266.65V472.92H267.47V473.39H268.28V473.13H269.1V472.46H269.92V474.87H270.74V473.67H271.56V473.18H272.38V473.67H273.2V473.91H274.02V473.37H274.84V474.14H275.66V473.68H276.48V473.62H277.3V474.48H278.12V473.65H278.94V473.77H279.76V474.79H280.58V473.42H281.4V473.8H282.21V472.89H283.03V475.34H283.85V474.29H284.67V461.65H285.49V474.36H286.31V474.48H287.13V474.53H287.95V473.06H288.77V474.14H289.59V473.46H290.41V473.81H291.23V474.03H292.05V473.19H292.87V473.6H293.69V472.45H294.51V473.48H295.33V475.72H296.15V472.42H296.96V472.95H297.78V474.56H298.6V474.75H299.42V473.94H300.24V467.48H301.06V474.81H301.88V472.62H302.7V474.61H303.52V474.51H304.34V473.92H305.16V473.46H305.98V472.95H306.8V474.81H307.62V474.79H308.44V472.67H309.26V475.5H310.08V474.03H310.89V473.5H311.71V474.86H312.53V475.07H313.35V472.66H314.17V473.72H314.99V474.81H315.81V474.65H316.63V474.09H317.45V474.96H318.27V475.64H319.09V475.4H319.91V474.81H320.73V475.19H321.55V474.93H322.37V473.95H323.19V475.63H324.01V475.42H324.83V475.54H325.64V474.41H326.46V476.16H327.28V475.35H328.1V474.89H328.92V474.45H329.74V474.32H330.56V474.65H331.38V473.83H332.2V474.56H333.02V475.29H333.84V475.99H334.66V474.52H335.48V475.08H336.3V475.55H337.12V474.83H337.94V476.17H338.76V474.7H339.57V476.5H340.39V474.75H341.21V475.42H342.03V475.61H342.85V474.54H343.67V474.68H344.49V475.84H345.31V475.2H346.13V475.86H346.95V474.09H347.77V474.5H348.59V474.5H349.41V475.59H350.23V474.8H351.05V475.99H351.87V476.71H352.69V475.13H353.51V464.94H354.32V476.56H355.14V475.97H355.96V474.7H356.78V476.78H357.6V476.81H358.42V475.54H359.24V475.1H360.06V476.54H360.88V475.82H361.7V476.07H362.52V474.31H363.34V475.31H364.16V476.33H364.98V475.95H365.8V476.5H366.62V475.8H367.44V477.14H368.25V474.72H369.07V476.61H369.89V476.32H370.71V472.16H371.53V475.65H372.35V473.61H373.17V476.33H373.99V470.07H374.81V476.74H375.63V476.49H376.45V477.47H377.27V477.18H378.09V475.46H378.91V477.37H379.73V476.61H380.55V475.08H381.37V475.18H382.19V476.18H383V477.3H383.82V475.62H384.64V476.63H385.46V475.96H386.28V476.35H387.1V474.6H387.92V474.56H388.74V476.29H389.56V474.51H390.38V476.89H391.2V475.58H392.02V476.68H392.84V477.15H393.66V475.54H394.48V475.54H395.3V477.67H396.12V476.44H396.93V474.65H397.75V476.14H398.57V477.78H399.39V466.09H400.21V477.17H401.03V477.62H401.85V477.76H402.67V477.37H403.49V475.88H404.31V476.89H405.13V477.15H405.95V477.96H406.77V475.72H407.59V477.6H408.41V477.06H409.23V477.52H410.05V477.67H410.87V478.11H411.68V474.08H412.5V478.17H413.32V477.16H414.14V476.35H414.96V476.57H415.78V476.23H416.6V478.17H417.42V477.04H418.24V477.62H419.06V478.22H419.88V475.77H420.7V475.38H421.52V476.81H422.34V476.97H423.16V478.32H423.98V478.01H424.8V476.56H425.61V477.91H426.43V476.52H427.25V475.97H428.07V476.79H428.89V477.19H429.71V476.68H430.53V477.81H431.35V475.88H432.17V478.3H432.99V472.67H433.81V476.39H434.63V476.42H435.45V477.65H436.27V476.79H437.09V477.51H437.91V476.38H438.73V477.22H439.55V475.33H440.36V476.59H441.18V476.71H442V477.49H442.82V477.14H443.64V477.77H444.46V476.86H445.28V477.12H446.1V477.42H446.92V477.77H447.74V477.36H448.56V477.25H449.38V474.39H450.2V467.55H451.02V476.77H451.84V478.26H452.66V475.84H453.48V478.62H454.29V478.68H455.11V475.9H455.93V478.59H456.75V477.46H457.57V476.85H458.39V476.83H459.21V478.38H460.03V477.59H460.85V478.14H461.67V478.81H462.49V478.77H463.31V476.64H464.13V478.44H464.95V478.39H465.77V476.96H466.59V477.29H467.41V478.8H468.23V478.49H469.04V478.61H469.86V477.63H470.68V478.71H471.5V478.68H472.32V477.54H473.14V478.96H473.96V477.71H474.78V478.04H475.6V475.89H476.42V478.04H477.24V477.77H478.06V478.34H478.88V478.92H479.7V479.07H480.52V476.84H481.34V478.18H482.16V479.08H482.97V478.3H483.79V477.9H484.61V477.55H485.43V478.66H486.25V476.16H487.07V476H487.89V477.42H488.71V479.04H489.53V478.48H490.35V478.95H491.17V478.33H491.99V478.22H492.81V477.78H493.63V478.12H494.45V477.94H495.27V469.27H496.09V478.55H496.91V478.2H497.72V478.51H498.54V479.06H499.36V468.54H500.18V474.75H501V477.56H501.82V476.73H502.64V479.03H503.46V477.32H504.28V478.51H505.1V477.88H505.92V477.59H506.74V479.05H507.56V477H508.38V478.15H509.2V478.14H510.02V477.39H510.84V478.94H511.65V478.68H512.47V477.38H513.29V477.5H514.11V477.09H514.93V477.95H515.75V478.24H516.57V477.65H517.39V478.01H518.21V479.56H519.03V472.35H519.85V478.61H520.67V477.89H521.49V477.73H522.31V478.66H523.13V479.61H523.95V478.91H524.77V479.64H525.59V477.81H526.4V478.38H527.22V478.7H528.04V479.66H528.86V479.69H529.68V478.37H530.5V479.7H531.32V478.6H532.14V479.69H532.96V479.77H533.78V479.33H534.6V477.97H535.42V478.81H536.24V478.38H537.06V478.75H537.88V479.59H538.7V478.15H539.52V479.3H540.33V478.36H541.15V478.84H541.97V478.29H542.79V476.94H543.61V477.82H544.43V479.79H545.25V479.08H546.07V477.54H546.89V477.57H547.71V473.34H548.53V478.54H549.35V478.01H550.17V478.53H550.99V478.21H551.81V477.08H552.63V477.59H553.45V479.41H554.27V479.58H555.08V479.9H555.9V479.52H556.72V479.72H557.54V478.04H558.36V478.53H559.18V478.22H560V475.97H560.82V479.89H561.64V479.72H562.46V478.2H563.28V477.77H564.1V479.68H564.92V476.94H565.74V479.39H566.56V479.27H567.38V480.04H568.2V478.85H569.01V479.72H569.83V479.48H570.65V477.72H571.47V479.67H572.29V479.4H573.11V478.61H573.93V479.24H574.75V480.07H575.57V478.54H576.39V478.28H577.21V479.81H578.03V478.95H578.85V480.12H579.67V478.82H580.49V480.16H581.31V478.88H582.13V477.3H582.95V479.1H583.76V478.99H584.58V480.11H585.4V478.43H586.22V478.69H587.04V480.18H587.86V479.5H588.68V479.4H589.5V480.27H590.32V479.8H591.14V480.27H591.96V480.28H592.78V480.13H593.6V479.03H594.42V480.27H595.24V479.19H596.06V467.25H596.88V479.7H597.69V478.83H598.51V480.21H599.33V478.53H600.15V479.94H600.97V479.15H601.79V480.15H602.61V480.33H603.43V478.96H604.25V480.13H605.07V479.7H605.89V479.6H606.71V478.85H607.53V480.42H608.35V480.41H609.17V478.87H609.99V480.48H610.81V480.45H611.63V478.79H612.44V478.95H613.26V480.35H614.08V480.23H614.9V479.61H615.72V478.4H616.54V479.37H617.36V479.25H618.18V478.22H619V480.53H618.18V480.51H617.36V480.5H616.54V480.51H615.72V480.49H614.9V480.46H614.08V480.51H613.26V480.47H612.44V480.45H611.63V480.45H610.81V480.48H609.99V480.41H609.17V480.44H608.35V480.42H607.53V480.41H606.71V480.4H605.89V480.41H605.07V480.39H604.25V480.37H603.43V480.33H602.61V480.41H601.79V480.34H600.97V480.36H600.15V480.33H599.33V480.29H598.51V480.32H597.69V480.29H596.88V480.31H596.06V480.31H595.24V480.28H594.42V480.24H593.6V480.34H592.78V480.28H591.96V480.27H591.14V480.22H590.32V480.27H589.5V480.24H588.68V480.28H587.86V480.18H587.04V480.19H586.22V480.22H585.4V480.17H584.58V480.19H583.76V480.19H582.95V480.2H582.13V480.17H581.31V480.16H580.49V480.08H579.67V480.12H578.85V480.12H578.03V480.15H577.21V480.12H576.39V480.13H575.57V480.07H574.75V480.04H573.93V480.07H573.11V480.05H572.29V480.05H571.47V480.05H570.65V480.08H569.83V480.05H569.01V479.97H568.2V480.04H567.38V480H566.56V480.01H565.74V479.96H564.92V479.98H564.1V479.98H563.28V479.99H562.46V479.96H561.64V479.89H560.82V479.96H560V479.97H559.18V479.96H558.36V479.92H557.54V479.95H556.72V479.93H555.9V479.9H555.08V479.87H554.27V479.94H553.45V479.86H552.63V479.83H551.81V479.88H550.99V479.82H550.17V479.79H549.35V479.88H548.53V479.8H547.71V479.84H546.89V479.78H546.07V479.83H545.25V479.79H544.43V479.81H543.61V479.82H542.79V479.76H541.97V479.79H541.15V479.8H540.33V479.8H539.52V479.72H538.7V479.68H537.88V479.72H537.06V479.79H536.24V479.73H535.42V479.72H534.6V479.67H533.78V479.77H532.96V479.69H532.14V479.69H531.32V479.7H530.5V479.7H529.68V479.72H528.86V479.66H528.04V479.68H527.22V479.64H526.4V479.64H525.59V479.67H524.77V479.59H523.95V479.61H523.13V479.59H522.31V479.64H521.49V479.62H520.67V479.58H519.85V479.54H519.03V479.56H518.21V479.54H517.39V479.63H516.57V479.53H515.75V479.57H514.93V479.51H514.11V479.52H513.29V479.51H512.47V479.44H511.65V479.48H510.84V479.54H510.02V479.42H509.2V479.41H508.38V479.41H507.56V479.32H506.74V479.39H505.92V479.38H505.1V479.33H504.28V479.39H503.46V479.41H502.64V479.31H501.82V479.34H501V479.25H500.18V479.25H499.36V479.26H498.54V479.25H497.72V479.29H496.91V479.28H496.09V479.21H495.27V479.3H494.45V479.21H493.63V479.27H492.81V479.19H491.99V479.21H491.17V479.17H490.35V479.21H489.53V479.1H488.71V479.16H487.89V479.12H487.07V479.06H486.25V479.1H485.43V479.16H484.61V479.16H483.79V479.09H482.97V479.08H482.16V479.09H481.34V478.99H480.52V479.07H479.7V479.06H478.88V478.99H478.06V478.99H477.24V478.96H476.42V478.96H475.6V478.96H474.78V478.98H473.96V479H473.14V478.91H472.32V478.94H471.5V478.91H470.68V478.95H469.86V478.97H469.04V478.93H468.23V478.86H467.41V478.86H466.59V478.81H465.77V478.91H464.95V478.8H464.13V478.9H463.31V478.77H462.49V478.81H461.67V478.73H460.85V478.76H460.03V478.76H459.21V478.8H458.39V478.67H457.57V478.72H456.75V478.67H455.93V478.64H455.11V478.68H454.29V478.62H453.48V478.73H452.66V478.8H451.84V478.65H451.02V478.68H450.2V478.59H449.38V478.62H448.56V478.58H447.74V478.55H446.92V478.58H446.1V478.51H445.28V478.57H444.46V478.49H443.64V478.58H442.82V478.44H442V478.59H441.18V478.46H440.36V478.55H439.55V478.61H438.73V478.44H437.91V478.42H437.09V478.51H436.27V478.34H435.45V478.34H434.63V478.28H433.81V478.4H432.99V478.31H432.17V478.35H431.35V478.36H430.53V478.36H429.71V478.3H428.89V478.36H428.07V478.3H427.25V478.34H426.43V478.26H425.61V478.42H424.8V478.31H423.98V478.32H423.16V478.32H422.34V478.15H421.52V478.18H420.7V478.11H419.88V478.22H419.06V478.31H418.24V478.13H417.42V478.17H416.6V478.03H415.78V478.16H414.96V478.02H414.14V478.09H413.32V478.18H412.5V478.08H411.68V478.11H410.87V478.02H410.05V477.92H409.23V477.88H408.41V477.98H407.59V477.9H406.77V477.96H405.95V477.9H405.13V477.89H404.31V477.88H403.49V477.88H402.67V477.93H401.85V477.89H401.03V477.85H400.21V477.71H399.39V477.78H398.57V477.64H397.75V477.65H396.93V477.83H396.12V477.75H395.3V477.56H394.48V477.57H393.66V477.61H392.84V477.62H392.02V477.68H391.2V477.71H390.38V477.5H389.56V477.57H388.74V477.49H387.92V477.65H387.1V477.57H386.28V477.54H385.46V477.46H384.64V477.36H383.82V477.3H383V477.57H382.19V477.46H381.37V477.31H380.55V477.34H379.73V477.37H378.91V477.1H378.09V477.38H377.27V477.47H376.45V477.4H375.63V477.35H374.81V477.29H373.99V477.27H373.17V477.18H372.35V477.14H371.53V477.25H370.71V477.21H369.89V477.14H369.07V477.2H368.25V477.14H367.44V477.07H366.62V477.17H365.8V477.02H364.98V477.04H364.16V477.04H363.34V477.08H362.52V476.96H361.7V477.01H360.88V477.08H360.06V476.89H359.24V476.96H358.42V476.81H357.6V476.78H356.78V476.82H355.96V476.97H355.14V476.86H354.32V476.81H353.51V476.68H352.69V476.73H351.87V476.81H351.05V476.8H350.23V476.91H349.41V476.73H348.59V476.7H347.77V476.78H346.95V476.76H346.13V476.69H345.31V476.63H344.49V476.63H343.67V476.58H342.85V476.55H342.03V476.57H341.21V476.51H340.39V476.5H339.57V476.56H338.76V476.49H337.94V476.55H337.12V476.47H336.3V476.43H335.48V476.51H334.66V476.37H333.84V476.48H333.02V476.42H332.2V476.22H331.38V476.34H330.56V476.49H329.74V476.15H328.92V476.43H328.1V476.3H327.28V476.16H326.46V476.41H325.64V476.35H324.83V476.21H324.01V476.17H323.19V476.34H322.37V476.19H321.55V476.08H320.73V476.04H319.91V476.04H319.09V476.12H318.27V475.99H317.45V476.09H316.63V476.05H315.81V476.11H314.99V475.94H314.17V475.91H313.35V475.84H312.53V475.94H311.71V476H310.89V475.76H310.08V475.87H309.26V475.85H308.44V475.83H307.62V475.84H306.8V475.84H305.98V475.79H305.16V475.78H304.34V475.61H303.52V475.94H302.7V475.73H301.88V475.81H301.06V475.62H300.24V475.82H299.42V475.76H298.6V475.62H297.78V475.64H296.96V475.47H296.15V475.72H295.33V475.56H294.51V475.41H293.69V475.44H292.87V475.47H292.05V475.31H291.23V475.6H290.41V475.36H289.59V475.49H288.77V475.38H287.95V475.36H287.13V475.39H286.31V475.33H285.49V475.27H284.67V475.41H283.85V475.34H283.03V475.27H282.21V475.18H281.4V475.3H280.58V475.12H279.76V474.94H278.94V475.12H278.12V475.31H277.3V474.95H276.48V475.1H275.66V475.19H274.84V475.21H274.02V475.25H273.2V474.93H272.38V475.11H271.56V474.76H270.74V474.87H269.92V474.88H269.1V474.68H268.28V475.04H267.47V475H266.65V474.75H265.83V474.65H265.01V474.66H264.19V474.61H263.37V474.58H262.55V474.53H261.73V474.66H260.91V474.65H260.09V474.68H259.27V474.7H258.45V474.6H257.63V474.76H256.81V474.55H255.99V474.51H255.17V474.57H254.35V474.26H253.53V474.49H252.72V474.38H251.9V474.64H251.08V474.19H250.26V474.27H249.44V474.24H248.62V474.11H247.8V474.09H246.98V474.45H246.16V474.34H245.34V474.07H244.52V474.21H243.7V474.28H242.88V474.11H242.06V474.15H241.24V474.14H240.42V474.45H239.6V474.13H238.79V473.9H237.97V474.07H237.15V473.96H236.33V473.99H235.51V473.97H234.69V473.95H233.87V473.66H233.05V473.88H232.23V473.67H231.41V474.08H230.59V473.78H229.77V474.07H228.95V473.72H228.13V473.82H227.31V474.04H226.49V473.75H225.67V473.73H224.85V473.57H224.04V473.8H223.22V473.52H222.4V473.54H221.58V473.66H220.76V473.92H219.94V473.53H219.12V473.73H218.3V473.62H217.48V473.52H216.66V473.54H215.84V473.33H215.02V473.37H214.2V473.28H213.38V473.3H212.56V473.67H211.74V473.27H210.92V473.24H210.11V473.1H209.29V472.84H208.47V473.25H207.65V472.95H206.83V473.24H206.01V473.11H205.19V472.91H204.37V473.08H203.55V473.01H202.73V473.04H201.91V473.1H201.09V473H200.27V473.02H199.45V473.18H198.63V473H197.81V472.79H196.99V472.76H196.17V472.52H195.36V473.12H194.54V472.77H193.72V473.04H192.9V472.82H192.08V472.91H191.26V472.94H190.44V472.83H189.62V472.74H188.8V472.74H187.98V472.71H187.16V472.35H186.34V472.76H185.52V472.83H184.7V472.49H183.88V472.49H183.06V472.42H182.24V472.37H181.43V472.59H180.61V472.6H179.79V472.54H178.97V472.05H178.15V472.42H177.33V472.28H176.51V472.09H175.69V472.15H174.87V472.37H174.05V471.85H173.23V472.28H172.41V472.32H171.59V472.09H170.77V472.27H169.95V472.3H169.13V472.15H168.31V472.08H167.49V471.86H166.68V472.05H165.86V472.35H165.04V471.6H164.22V472.18H163.4V472.19H162.58V472.11H161.76V471.59H160.94V471.88H160.12V471.92H159.3V471.79H158.48V472.11H157.66V471.81H156.84V471.8H156.02V471.53H155.2V471.93H154.38V471.89H153.56V471.62H152.75V471.45H151.93V471.84H151.11V471.25H150.29V471.6H149.47V471.52H148.65V471.33H147.83V471.32H147.01V471.43H146.19V471.34H145.37V471.12H144.55V471.07H143.73V471.36H142.91V471.3H142.09V471.47H141.27V470.9H140.45V471.55H139.63V471.17H138.81V471.02H138V471.37H137.18V471.26H136.36V471.13H135.54V470.7H134.72V471.2H133.9V470.72H133.08V470.63H132.26V470.51H131.44V470.36H130.62V470.52H129.8V470.08H128.98V470.49H128.16V470.53H127.34V470.35H126.52V470.09H125.7V470.16H124.88V470.26H124.07V469.97H123.25V469.81H122.43V469.56H121.61V469.68H120.79V469.71H119.97V469.85H119.15V469.56H118.33V469.55H117.51V469.81H116.69V469.81H115.87V469.37H115.05V469.62H114.23V469.3H113.41V468.98H112.59V469.26H111.77V469.08H110.95V469.2H110.13V468.97H109.32V468.89H108.5V469.38H107.68V469.12H106.86V468.85H106.04V468.45H105.22V468.81H104.4V468.49H103.58V468.88H102.76V468.57H101.94V468.34H101.12V468.49H100.3V468.12H99.48V468.59H98.66V468.05H97.84V468.08H97.02V467.92H96.2V468.19H95.39V467.73H94.57V467.63H93.75V467.76H92.93V468.13H92.11V467.95H91.29V467.9H90.47V467.32H89.65V467.57H88.83V467.28H88.01V467.39H87.19V467.28H86.37V466.77H85.55V467.06H84.73V466.96H83.91V466.9H83.09V466.92H82.27V466.78H81.45V467.07H80.64V466.71H79.82V466.25H79V466.75H78.18V466.91H77.36V466.4H76.54V466.29H75.72V465.47H74.9V466.26H74.08V465.84H73.26V465.4H72.44V465.95H71.62V465.93H70.8V465.88H69.98V465.33H69.16V464.98H68.34V464.97H67.52V465.31H66.71V464.61H65.89V464.8H65.07V464.25H64.25V464.87H63.43V463.61H62.61V463.99H61.79V463.16H60.97V462.94H60.15V463.2H59.33V462.38H58.51V462.57H57.69V461.52H56.87V460.72H56.05V461.59H55.23V460.35H54.41V459.17H53.59V458.69H52.77V457.03H51.96V457.29H51.14V456.75H50.32V455.62H49.5V453.87H48.68V452.74H47.86V450.57H47.04V450.39H46.22V449.37H45.4Z"/>
<path fill="#1f78b4" d="M45.4 438.68V436.82H46.22V445.46H47.04V442.42H47.86V444.1H48.68V443.29H49.5V447.69H50.32V446.91H51.14V451.04H51.96V453.79H52.77V456.23H53.59V449.01H54.41V457.43H55.23V458.08H56.05V454.46H56.87V455.99H57.69V450.63H58.51V455.72H59.33V459.34H60.15V456.7H60.97V455.35H61.79V446.11H62.61V458.8H63.43V459.73H64.25V459.11H65.07V460.51H65.89V461.28H66.71V463.59H67.52V463.59H68.34V460.15H69.16V460.68H69.98V462.06H70.8V461.74H71.62V462.31H72.44V463.19H73.26V463.63H74.08V461.84H74.9V464.17H75.72V455.87H76.54V462.65H77.36V462.85H78.18V465.75H79V464.48H79.82V466.71H80.64V462.6H81.45V465.2H82.27V465.33H83.09V463.81H83.91V464.75H84.73V464.41H85.55V463.46H86.37V465.5H87.19V464.34H88.01V463.16H88.83V467.1H89.65V465.51H90.47V464.31H91.29V464.97H92.11V465.35H92.93V463.45H93.75V464.91H94.57V466.29H95.39V465.42H96.2V465.64H97.02V464.15H97.84V465.63H98.66V468.55H99.48V465.2H100.3V466.26H101.12V465.76H101.94V465.77H102.76V466.13H103.58V466.42H104.4V466.97H105.22V464.34H106.04V464.58H106.86V466.47H107.68V467.17H108.5V455.53H109.32V466.35H110.13V466.43H110.95V466.55H111.77V466.55H112.59V467.85H113.41V464.25H114.23V468.49H115.05V468.1H115.87V466.06H116.69V467.71H117.51V466.58H118.33V466.47H119.15V466.6H119.97V468.39H120.79V466.97H121.61V468.12H122.43V465.23H123.25V467.55H124.07V468.14H124.88V468.24H125.7V467.58H126.52V467.4H127.34V469.6H128.16V467.93H128.98V469.01H129.8V465.15H130.62V469.54H131.44V468.19H132.26V468.42H133.08V467.94H133.9V466.81H134.72V468.87H135.54V468.21H136.36V468.76H137.18V467.63H138V469.38H138.81V469.33H139.63V469.26H140.45V469.35H141.27V468.2H142.09V466.62H142.91V468.99H143.73V470.31H144.55V469.63H145.37V469.45H146.19V468.96H147.01V465.17H147.83V469.63H148.65V468.9H149.47V469.95H150.29V467.85H151.11V470.05H151.93V471.01H152.75V470.47H153.56V470.55H154.38V466.88H155.2V467.82H156.02V469.42H156.84V467.83H157.66V468.86H158.48V468.27H159.3V470.33H160.12V469.15H160.94V470.29H161.76V469.98H162.58V467.77H163.4V467.31H164.22V469.83H165.04V469.97H165.86V469.47H166.68V469.38H167.49V470.74H168.31V469.87H169.13V471.47H169.95V469.88H170.77V469.94H171.59V458.93H172.41V472H173.23V468.8H174.05V470.74H174.87V468.32H175.69V470.21H176.51V468.93H177.33V469.71H178.15V470.05H178.97V470.67H179.79V470H180.61V470.56H181.43V471.48H182.24V470.6H183.06V471.26H183.88V470.09H184.7V459.54H185.52V470.2H186.34V469.77H187.16V470.4H187.98V470.94H188.8V470.34H189.62V471.42H190.44V471.26H191.26V469.35H192.08V471.08H192.9V469.38H193.72V471.78H194.54V471.18H195.36V471.06H196.17V471.48H196.99V470.35H197.81V469.89H198.63V469.7H199.45V472.02H200.27V470.23H201.09V466.7H201.91V472.42H202.73V472.75H203.55V470.13H204.37V471.1H205.19V470.18H206.01V471.82H206.83V471.56H207.65V471.37H208.47V471.64H209.29V471.34H210.11V471.05H210.92V469.76H211.74V472.51H212.56V472.5H213.38V471.77H214.2V470.65H215.02V470.2H215.84V471.53H216.66V472.35H217.48V471.87H218.3V470.93H219.12V472.41H219.94V472.24H220.76V471.38H221.58V471.82H222.4V470.06H223.22V472.47H224.04V472.83H224.85V471.41H225.67V470.68H226.49V473.17H227.31V471.58H228.13V470.58H228.95V474.07H229.77V472.9H230.59V471.91H231.41V472.12H232.23V472.04H233.05V471.67H233.87V472.6H234.69V471.15H235.51V469.6H236.33V470.29H237.15V470.42H237.97V473.58H238.79V472.53H239.6V466.44H240.42V471.71H241.24V471.23H242.06V471.17H242.88V472.45H243.7V469.99H244.52V473.92H245.34V471.21H246.16V474.37H246.98V469.63H247.8V471.63H248.62V471.38H249.44V472.14H250.26V470.87H251.08V473.86H251.9V471.77H252.72V472.23H253.53V473.31H254.35V472.09H255.17V472.59H255.99V474.55H256.81V473.99H257.63V473.24H258.45V460.32H259.27V473.27H260.09V470.57H260.91V471.95H261.73V471.62H262.55V473.37H263.37V473.09H264.19V471.95H265.01V471.95H265.83V471.01H266.65V472.92H267.47V473.39H268.28V473.13H269.1V472.46H269.92V474.87H270.74V473.67H271.56V473.18H272.38V473.67H273.2V473.03H274.02V473.37H274.84V474.14H275.66V473.68H276.48V473.11H277.3V472.45H278.12V471.71H278.94V472.76H279.76V474.79H280.58V472.23H281.4V473.8H282.21V472.89H283.03V475.34H283.85V474.29H284.67V461.65H285.49V474.36H286.31V474.48H287.13V474.53H287.95V473.06H288.77V474.14H289.59V473.46H290.41V473.81H291.23V474.03H292.05V473.19H292.87V473.6H293.69V472.45H294.51V473.48H295.33V474.79H296.15V472.42H296.96V472.08H297.78V474.56H298.6V474.75H299.42V473.94H300.24V467.48H301.06V474.81H301.88V472.62H302.7V473.9H303.52V474.51H304.34V473.92H305.16V473.46H305.98V471.67H306.8V472.97H307.62V474.79H308.44V472.67H309.26V475.5H310.08V472.7H310.89V473.5H311.71V474.86H312.53V475.07H313.35V472.66H314.17V472.44H314.99V474.81H315.81V474.65H316.63V474.09H317.45V474.96H318.27V475.64H319.09V475.4H319.91V474.81H320.73V475.19H321.55V474.93H322.37V473.95H323.19V475.63H324.01V475.42H324.83V473.78H325.64V473.8H326.46V475.53H327.28V475.35H328.1V474.89H328.92V473.69H329.74V474.32H330.56V474.65H331.38V472.34H332.2V473.41H333.02V473.81H333.84V475.99H334.66V474.52H335.48V475.08H336.3V475.55H337.12V473.5H337.94V474.14H338.76V473.56H339.57V474.68H340.39V474.04H341.21V475.42H342.03V475.61H342.85V474.54H343.67V473.39H344.49V475.84H345.31V475.2H346.13V475.86H346.95V474.09H347.77V474.5H348.59V474.5H349.41V473.53H350.23V472.62H351.05V475.99H351.87V476.71H352.69V475.13H353.51V464.94H354.32V476.56H355.14V475.97H355.96V474.7H356.78V476.78H357.6V476.81H358.42V475.54H359.24V475.1H360.06V476.54H360.88V475.82H361.7V476.07H362.52V474.31H363.34V475.31H364.16V476.33H364.98V475.95H365.8V476.5H366.62V473.53H367.44V477.14H368.25V474.72H369.07V476.61H369.89V476.32H370.71V472.16H371.53V474.97H372.35V472.91H373.17V476.33H373.99V470.07H374.81V476.74H375.63V476.49H376.45V477.47H377.27V476.22H378.09V475.46H378.91V476.14H379.73V476.1H380.55V475.08H381.37V475.18H382.19V475.33H383V477.3H383.82V473.52H384.64V476.63H385.46V475.96H386.28V476.35H387.1V474.6H387.92V474.56H388.74V476.29H389.56V474.51H390.38V476.89H391.2V475.58H392.02V476.68H392.84V475.81H393.66V475.54H394.48V475.54H395.3V477.67H396.12V476.44H396.93V474.65H397.75V476.14H398.57V475.7H399.39V466.09H400.21V477.17H401.03V477.62H401.85V477.76H402.67V477.37H403.49V473.88H404.31V476.4H405.13V475.27H405.95V476.19H406.77V475.72H407.59V477.6H408.41V477.06H409.23V475.77H410.05V477.15H410.87V478.11H411.68V474.08H412.5V478.17H413.32V475.51H414.14V476.35H414.96V476.57H415.78V475.2H416.6V478.17H417.42V477.04H418.24V477.62H419.06V478.22H419.88V473.95H420.7V474.85H421.52V475.92H422.34V476.97H423.16V478.32H423.98V478.01H424.8V476.56H425.61V477.91H426.43V476.52H427.25V475.97H428.07V476.79H428.89V477.19H429.71V476.68H430.53V476.2H431.35V475.88H432.17V478.3H432.99V472.67H433.81V476.39H434.63V476.42H435.45V477.65H436.27V476.79H437.09V477.01H437.91V476.38H438.73V477.22H439.55V475.33H440.36V476.59H441.18V476.71H442V477.49H442.82V477.14H443.64V477.77H444.46V476.86H445.28V477.12H446.1V475.41H446.92V477.77H447.74V477.36H448.56V477.25H449.38V474.39H450.2V467.55H451.02V476.77H451.84V478.26H452.66V475.84H453.48V478.62H454.29V478.68H455.11V475.9H455.93V478.59H456.75V477.46H457.57V475.99H458.39V476.83H459.21V476.87H460.03V475.66H460.85V478.14H461.67V478.81H462.49V478.77H463.31V474.88H464.13V478.44H464.95V478.39H465.77V476.96H466.59V477.29H467.41V478.8H468.23V478.49H469.04V477.84H469.86V477.63H470.68V478.71H471.5V478.68H472.32V477.54H473.14V478.96H473.96V477.71H474.78V478.04H475.6V474.32H476.42V478.04H477.24V476.31H478.06V478.34H478.88V478.92H479.7V479.07H480.52V476.84H481.34V477.1H482.16V479.08H482.97V478.3H483.79V477.9H484.61V476.75H485.43V478.66H486.25V476.16H487.07V476H487.89V477.42H488.71V479.04H489.53V478.48H490.35V478.95H491.17V476.12H491.99V478.22H492.81V477.78H493.63V478.12H494.45V477.94H495.27V469.27H496.09V478.55H496.91V478.2H497.72V478.51H498.54V479.06H499.36V468.54H500.18V474.75H501V477.56H501.82V476.73H502.64V478.63H503.46V477.32H504.28V478.51H505.1V477.88H505.92V477.59H506.74V476.74H507.56V475.28H508.38V478.15H509.2V478.14H510.02V477.39H510.84V477.88H511.65V478.14H512.47V476.04H513.29V477.5H514.11V475.92H514.93V477.95H515.75V478.24H516.57V477.65H517.39V478.01H518.21V479.56H519.03V471.51H519.85V478.61H520.67V477.89H521.49V477.73H522.31V478.66H523.13V479.61H523.95V478.91H524.77V479.64H525.59V477.81H526.4V478.38H527.22V477H528.04V479.66H528.86V479.69H529.68V478.37H530.5V479.7H531.32V478.6H532.14V479.69H532.96V479.77H533.78V479.33H534.6V477.97H535.42V478.81H536.24V478.38H537.06V478.75H537.88V478.07H538.7V478.15H539.52V477.69H540.33V478.36H541.15V478.84H541.97V478.29H542.79V476.94H543.61V476.11H544.43V479.79H545.25V479.08H546.07V475.73H546.89V477.57H547.71V471.72H548.53V478.54H549.35V475.76H550.17V478.53H550.99V478.21H551.81V477.08H552.63V477.59H553.45V478.49H554.27V479.58H555.08V479.9H555.9V479.52H556.72V479.72H557.54V478.04H558.36V478.53H559.18V478.22H560V475.97H560.82V478.84H561.64V479.72H562.46V477.81H563.28V477.77H564.1V479.68H564.92V476.94H565.74V478.31H566.56V477.18H567.38V480.04H568.2V478.85H569.01V479.72H569.83V477.3H570.65V477.72H571.47V479.67H572.29V478.82H573.11V478.61H573.93V479.24H574.75V478.43H575.57V478.03H576.39V478.28H577.21V479.81H578.03V478.95H578.85V480.12H579.67V478.33H580.49V480.16H581.31V478.88H582.13V475.94H582.95V479.1H583.76V478.99H584.58V480.11H585.4V478.43H586.22V478.69H587.04V480.18H587.86V478.5H588.68V479.4H589.5V478.55H590.32V478.4H591.14V480.27H591.96V480.28H592.78V480.13H593.6V477.53H594.42V480.27H595.24V479.19H596.06V467.25H596.88V479.7H597.69V478.83H598.51V480.21H599.33V477.76H600.15V478.45H600.97V479.15H601.79V480.15H602.61V479.39H603.43V478.96H604.25V480.13H605.07V479.7H605.89V479.6H606.71V478.85H607.53V480.42H608.35V480.41H609.17V478.87H609.99V480.48H610.81V478.45H611.63V478.79H612.44V478.95H613.26V479.23H614.08V480.23H614.9V479.61H615.72V478.4H616.54V479.37H617.36V479.25H618.18V478.22H619V478.22H618.18V479.25H617.36V479.37H616.54V478.4H615.72V479.61H614.9V480.23H614.08V480.35H613.26V478.95H612.44V478.79H611.63V480.45H610.81V480.48H609.99V478.87H609.17V480.41H608.35V480.42H607.53V478.85H606.71V479.6H605.89V479.7H605.07V480.13H604.25V478.96H603.43V480.33H602.61V480.15H601.79V479.15H600.97V479.94H600.15V478.53H599.33V480.21H598.51V478.83H597.69V479.7H596.88V467.25H596.06V479.19H595.24V480.27H594.42V479.03H593.6V480.13H592.78V480.28H591.96V480.27H591.14V479.8H590.32V480.27H589.5V479.4H588.68V479.5H587.86V480.18H587.04V478.69H586.22V478.43H585.4V480.11H584.58V478.99H583.76V479.1H582.95V477.3H582.13V478.88H581.31V480.16H580.49V478.82H579.67V480.12H578.85V478.95H578.03V479.81H577.21V478.28H576.39V478.54H575.57V480.07H574.75V479.24H573.93V478.61H573.11V479.4H572.29V479.67H571.47V477.72H570.65V479.48H569.83V479.72H569.01V478.85H568.2V480.04H567.38V479.27H566.56V479.39H565.74V476.94H564.92V479.68H564.1V477.77H563.28V478.2H562.46V479.72H561.64V479.89H560.82V475.97H560V478.22H559.18V478.53H558.36V478.04H557.54V479.72H556.72V479.52H555.9V479.9H555.08V479.58H554.27V479.41H553.45V477.59H552.63V477.08H551.81V478.21H550.99V478.53H550.17V478.01H549.35V478.54H548.53V473.34H547.71V477.57H546.89V477.54H546.07V479.08H545.25V479.79H544.43V477.82H543.61V476.94H542.79V478.29H541.97V478.84H541.15V478.36H540.33V479.3H539.52V478.15H538.7V479.59H537.88V478.75H537.06V478.38H536.24V478.81H535.42V477.97H534.6V479.33H533.78V479.77H532.96V479.69H532.14V478.6H531.32V479.7H530.5V478.37H529.68V479.69H528.86V479.66H528.04V478.7H527.22V478.38H526.4V477.81H525.59V479.64H524.77V478.91H523.95V479.61H523.13V478.66H522.31V477.73H521.49V477.89H520.67V478.61H519.85V472.35H519.03V479.56H518.21V478.01H517.39V477.65H516.57V478.24H515.75V477.95H514.93V477.09H514.11V477.5H513.29V477.38H512.47V478.68H511.65V478.94H510.84V477.39H510.02V478.14H509.2V478.15H508.38V477H507.56V479.05H506.74V477.59H505.92V477.88H505.1V478.51H504.28V477.32H503.46V479.03H502.64V476.73H501.82V477.56H501V474.75H500.18V468.54H499.36V479.06H498.54V478.51H497.72V478.2H496.91V478.55H496.09V469.27H495.27V477.94H494.45V478.12H493.63V477.78H492.81V478.22H491.99V478.33H491.17V478.95H490.35V478.48H489.53V479.04H488.71V477.42H487.89V476H487.07V476.16H486.25V478.66H485.43V477.55H484.61V477.9H483.79V478.3H482.97V479.08H482.16V478.18H481.34V476.84H480.52V479.07H479.7V478.92H478.88V478.34H478.06V477.77H477.24V478.04H476.42V475.89H475.6V478.04H474.78V477.71H473.96V478.96H473.14V477.54H472.32V478.68H471.5V478.71H470.68V477.63H469.86V478.61H469.04V478.49H468.23V478.8H467.41V477.29H466.59V476.96H465.77V478.39H464.95V478.44H464.13V476.64H463.31V478.77H462.49V478.81H461.67V478.14H460.85V477.59H460.03V478.38H459.21V476.83H458.39V476.85H457.57V477.46H456.75V478.59H455.93V475.9H455.11V478.68H454.29V478.62H453.48V475.84H452.66V478.26H451.84V476.77H451.02V467.55H450.2V474.39H449.38V477.25H448.56V477.36H447.74V477.77H446.92V477.42H446.1V477.12H445.28V476.86H444.46V477.77H443.64V477.14H442.82V477.49H442V476.71H441.18V476.59H440.36V475.33H439.55V477.22H438.73V476.38H437.91V477.51H437.09V476.79H436.27V477.65H435.45V476.42H434.63V476.39H433.81V472.67H432.99V478.3H432.17V475.88H431.35V477.81H430.53V476.68H429.71V477.19H428.89V476.79H428.07V475.97H427.25V476.52H426.43V477.91H425.61V476.56H424.8V478.01H423.98V478.32H423.16V476.97H422.34V476.81H421.52V475.38H420.7V475.77H419.88V478.22H419.06V477.62H418.24V477.04H417.42V478.17H416.6V476.23H415.78V476.57H414.96V476.35H414.14V477.16H413.32V478.17H412.5V474.08H411.68V478.11H410.87V477.67H410.05V477.52H409.23V477.06H408.41V477.6H407.59V475.72H406.77V477.96H405.95V477.15H405.13V476.89H404.31V475.88H403.49V477.37H402.67V477.76H401.85V477.62H401.03V477.17H400.21V466.09H399.39V477.78H398.57V476.14H397.75V474.65H396.93V476.44H396.12V477.67H395.3V475.54H394.48V475.54H393.66V477.15H392.84V476.68H392.02V475.58H391.2V476.89H390.38V474.51H389.56V476.29H388.74V474.56H387.92V474.6H387.1V476.35H386.28V475.96H385.46V476.63H384.64V475.62H383.82V477.3H383V476.18H382.19V475.18H381.37V475.08H380.55V476.61H379.73V477.37H378.91V475.46H378.09V477.18H377.27V477.47H376.45V476.49H375.63V476.74H374.81V470.07H373.99V476.33H373.17V473.61H372.35V475.65H371.53V472.16H370.71V476.32H369.89V476.61H369.07V474.72H368.25V477.14H367.44V475.8H366.62V476.5H365.8V475.95H364.98V476.33H364.16V475.31H363.34V474.31H362.52V476.07H361.7V475.82H360.88V476.54H360.06V475.1H359.24V475.54H358.42V476.81H357.6V476.78H356.78V474.7H355.96V475.97H355.14V476.56H354.32V464.94H353.51V475.13H352.69V476.71H351.87V475.99H351.05V474.8H350.23V475.59H349.41V474.5H348.59V474.5H347.77V474.09H346.95V475.86H346.13V475.2H345.31V475.84H344.49V474.68H343.67V474.54H342.85V475.61H342.03V475.42H341.21V474.75H340.39V476.5H339.57V474.7H338.76V476.17H337.94V474.83H337.12V475.55H336.3V475.08H335.48V474.52H334.66V475.99H333.84V475.29H333.02V474.56H332.2V473.83H331.38V474.65H330.56V474.32H329.74V474.45H328.92V474.89H328.1V475.35H327.28V476.16H326.46V474.41H325.64V475.54H324.83V475.42H324.01V475.63H323.19V473.95H322.37V474.93H321.55V475.19H320.73V474.81H319.91V475.4H319.09V475.64H318.27V474.96H317.45V474.09H316.63V474.65H315.81V474.81H314.99V473.72H314.17V472.66H313.35V475.07H312.53V474.86H311.71V473.5H310.89V474.03H310.08V475.5H309.26V472.67H308.44V474.79H307.62V474.81H306.8V472.95H305.98V473.46H305.16V473.92H304.34V474.51H303.52V474.61H302.7V472.62H301.88V474.81H301.06V467.48H300.24V473.94H299.42V474.75H298.6V474.56H297.78V472.95H296.96V472.42H296.15V475.72H295.33V473.48H294.51V472.45H293.69V473.6H292.87V473.19H292.05V474.03H291.23V473.81H290.41V473.46H289.59V474.14H288.77V473.06H287.95V474.53H287.13V474.48H286.31V474.36H285.49V461.65H284.67V474.29H283.85V475.34H283.03V472.89H282.21V473.8H281.4V473.42H280.58V474.79H279.76V473.77H278.94V473.65H278.12V474.48H277.3V473.62H276.48V473.68H275.66V474.14H274.84V473.37H274.02V473.91H273.2V473.67H272.38V473.18H271.56V473.67H270.74V474.87H269.92V472.46H269.1V473.13H268.28V473.39H267.47V472.92H266.65V471.01H265.83V471.95H265.01V472.7H264.19V473.91H263.37V473.37H262.55V471.62H261.73V473.17H260.91V472.35H260.09V473.27H259.27V461.51H258.45V473.24H257.63V474.66H256.81V474.55H255.99V472.59H255.17V474.27H254.35V473.31H253.53V472.23H252.72V471.77H251.9V473.86H251.08V471.95H250.26V472.97H249.44V471.38H248.62V471.63H247.8V471.84H246.98V474.37H246.16V471.21H245.34V473.92H244.52V469.99H243.7V473.67H242.88V471.17H242.06V472.9H241.24V471.71H240.42V466.44H239.6V473.13H238.79V473.58H237.97V471.34H237.15V470.29H236.33V471.72H235.51V471.15H234.69V472.6H233.87V471.67H233.05V473.76H232.23V472.12H231.41V471.91H230.59V472.9H229.77V474.07H228.95V471.21H228.13V471.58H227.31V473.17H226.49V470.68H225.67V471.41H224.85V472.83H224.04V472.47H223.22V471.76H222.4V471.82H221.58V471.38H220.76V472.24H219.94V473.53H219.12V470.93H218.3V471.87H217.48V472.35H216.66V471.53H215.84V470.2H215.02V470.65H214.2V471.77H213.38V472.5H212.56V472.51H211.74V471.12H210.92V472.28H210.11V472.47H209.29V471.64H208.47V471.37H207.65V471.56H206.83V471.82H206.01V470.18H205.19V471.1H204.37V471.66H203.55V472.75H202.73V472.42H201.91V466.7H201.09V470.23H200.27V472.02H199.45V470.78H198.63V470.58H197.81V470.35H196.99V471.48H196.17V471.06H195.36V471.18H194.54V471.78H193.72V470.67H192.9V471.08H192.08V471.62H191.26V471.26H190.44V471.42H189.62V472.1H188.8V470.94H187.98V470.86H187.16V470.4H186.34V470.78H185.52V459.54H184.7V470.86H183.88V471.26H183.06V470.6H182.24V471.48H181.43V470.56H180.61V470H179.79V471.38H178.97V470.05H178.15V469.71H177.33V470.8H176.51V470.21H175.69V468.32H174.87V470.74H174.05V468.8H173.23V472H172.41V458.93H171.59V469.94H170.77V469.88H169.95V471.47H169.13V472.15H168.31V470.74H167.49V469.92H166.68V471.03H165.86V469.97H165.04V469.83H164.22V467.31H163.4V469.64H162.58V469.98H161.76V470.29H160.94V469.15H160.12V470.33H159.3V469.98H158.48V470.13H157.66V469.42H156.84V469.42H156.02V469.43H155.2V468.44H154.38V470.55H153.56V470.47H152.75V471.01H151.93V471H151.11V467.85H150.29V469.95H149.47V468.9H148.65V469.63H147.83V465.17H147.01V468.96H146.19V469.45H145.37V469.63H144.55V470.31H143.73V468.99H142.91V467.38H142.09V468.2H141.27V469.35H140.45V469.26H139.63V469.33H138.81V469.38H138V469.07H137.18V469.36H136.36V469.81H135.54V468.87H134.72V468.54H133.9V467.94H133.08V468.42H132.26V468.19H131.44V469.54H130.62V467.4H129.8V469.01H128.98V467.93H128.16V470.53H127.34V467.4H126.52V467.58H125.7V468.24H124.88V468.14H124.07V467.55H123.25V465.97H122.43V468.12H121.61V468.43H120.79V468.89H119.97V467.18H119.15V466.47H118.33V466.58H117.51V467.71H116.69V466.06H115.87V468.1H115.05V468.49H114.23V466.5H113.41V467.85H112.59V466.55H111.77V466.55H110.95V466.43H110.13V466.35H109.32V455.53H108.5V467.17H107.68V466.47H106.86V465.96H106.04V465.81H105.22V466.97H104.4V466.42H103.58V466.13H102.76V465.77H101.94V465.76H101.12V466.26H100.3V465.2H99.48V468.55H98.66V465.63H97.84V464.6H97.02V465.64H96.2V465.98H95.39V466.29H94.57V464.91H93.75V465.74H92.93V465.35H92.11V464.97H91.29V464.31H90.47V465.51H89.65V467.1H88.83V465.39H88.01V464.34H87.19V465.5H86.37V463.46H85.55V464.41H84.73V464.75H83.91V463.81H83.09V465.33H82.27V465.2H81.45V462.6H80.64V466.71H79.82V464.48H79V465.75H78.18V463.48H77.36V463.21H76.54V455.87H75.72V464.17H74.9V463.85H74.08V464.19H73.26V464.21H72.44V463.23H71.62V461.74H70.8V462.48H69.98V460.68H69.16V462.23H68.34V463.59H67.52V463.59H66.71V461.28H65.89V460.51H65.07V459.11H64.25V461.25H63.43V458.8H62.61V446.11H61.79V457.56H60.97V458.62H60.15V459.34H59.33V455.72H58.51V452.48H57.69V455.99H56.87V454.46H56.05V458.08H55.23V457.43H54.41V449.01H53.59V456.23H52.77V453.79H51.96V451.04H51.14V446.91H50.32V447.69H49.5V443.29H48.68V444.1H47.86V442.42H47.04V445.46H46.22V438.68H45.4Z"/>
<path fill="#a6cee3" d="M45.4 436.82V426.05H46.22V427.82H47.04V438.75H47.86V433.01H48.68V435.92H49.5V433.79H50.32V437.63H51.14V443.39H51.96V443.45H52.77V434.11H53.59V419.23H54.41V445.21H55.23V446.55H56.05V444.57H56.87V439.12H57.69V440.68H58.51V443.99H59.33V453.84H60.15V445.34H60.97V442.89H61.79V419.88H62.61V429.15H63.43V450.38H64.25V439.17H65.07V449.17H65.89V440.45H66.71V454.75H67.52V448.99H68.34V451.9H69.16V453.79H69.98V456.44H70.8V450.46H71.62V442.77H72.44V452.39H73.26V454.8H74.08V452.7H74.9V450.11H75.72V442.43H76.54V457.69H77.36V454.29H78.18V457.5H79V457.78H79.82V457.74H80.64V458.02H81.45V454.88H82.27V450.29H83.09V448.29H83.91V455.41H84.73V453.33H85.55V453.49H86.37V450.76H87.19V448.21H88.01V451.78H88.83V454.67H89.65V451.02H90.47V455.76H91.29V446.64H92.11V459.06H92.93V454.35H93.75V444.49H94.57V461.36H95.39V455.35H96.2V449.28H97.02V443.75H97.84V460.44H98.66V460.3H99.48V447.55H100.3V459.4H101.12V451.45H101.94V451.66H102.76V452.81H103.58V450.15H104.4V458.51H105.22V451.68H106.04V452.19H106.86V455.2H107.68V440.11H108.5V452.14H109.32V453.94H110.13V450.38H110.95V459.84H111.77V449.7H112.59V460.32H113.41V456.39H114.23V463.13H115.05V452.57H115.87V451.04H116.69V460.26H117.51V456.64H118.33V457.86H119.15V431.14H119.97V461.01H120.79V451.13H121.61V436.83H122.43V458.22H123.25V458.26H124.07V449.32H124.88V451.41H125.7V444.36H126.52V459.17H127.34V442.75H128.16V451.85H128.98V461.93H129.8V451.34H130.62V456.34H131.44V461.68H132.26V460.75H133.08V448.2H133.9V458.12H134.72V458.83H135.54V450.53H136.36V461.82H137.18V449.07H138V459.08H138.81V456.19H139.63V457.65H140.45V442.61H141.27V450.32H142.09V450.94H142.91V460.74H143.73V452.1H144.55V457.97H145.37V464.08H146.19V461.11H147.01V459.97H147.83V431.2H148.65V458.71H149.47V461.63H150.29V448.05H151.11V464.37H151.93V456.4H152.75V436.71H153.56V465.39H154.38V455.43H155.2V455.13H156.02V464.13H156.84V452.53H157.66V453.11H158.48V455.51H159.3V462.29H160.12V461.32H160.94V461.82H161.76V454.69H162.58V460.33H163.4V457.27H164.22V461.19H165.04V459.7H165.86V459.92H166.68V433.11H167.49V460.97H168.31V460.52H169.13V448.07H169.95V458.32H170.77V457.09H171.59V441.05H172.41V465.18H173.23V461.29H174.05V464.92H174.87V457.14H175.69V453.29H176.51V447.4H177.33V460.78H178.15V456.75H178.97V463.85H179.79V454.29H180.61V459.49H181.43V452.82H182.24V458.33H183.06V466.79H183.88V458.54H184.7V445.46H185.52V460.85H186.34V451.21H187.16V460.18H187.98V458.73H188.8V462.69H189.62V447.97H190.44V463.23H191.26V454.58H192.08V449.42H192.9V462.89H193.72V461.4H194.54V465.9H195.36V464.23H196.17V452.91H196.99V460.24H197.81V466.81H198.63V452.85H199.45V457.54H200.27V462.2H201.09V458.69H201.91V455.22H202.73V455.95H203.55V466.88H204.37V463.17H205.19V462.59H206.01V465.89H206.83V466.13H207.65V458.34H208.47V463.45H209.29V452.05H210.11V461.8H210.92V462.92H211.74V462.71H212.56V467.37H213.38V452.71H214.2V465.43H215.02V465.74H215.84V461.2H216.66V442.92H217.48V465.79H218.3V448.87H219.12V462.21H219.94V453.79H220.76V459.84H221.58V447.32H222.4V461.66H223.22V455.26H224.04V456.61H224.85V461.56H225.67V464.99H226.49V462.27H227.31V459.68H228.13V461.81H228.95V467.22H229.77V463.73H230.59V464.39H231.41V464.06H232.23V461.86H233.05V451.89H233.87V452.87H234.69V460.81H235.51V452.2H236.33V456.81H237.15V465.49H237.97V464.86H238.79V457.2H239.6V454.81H240.42V443.36H241.24V451.56H242.06V460.56H242.88V443.32H243.7V461.15H244.52V465.26H245.34V465.29H246.16V464.99H246.98V455.98H247.8V455.88H248.62V457.85H249.44V460.4H250.26V462.87H251.08V462.76H251.9V453.27H252.72V455.61H253.53V465.61H254.35V467.53H255.17V463.27H255.99V467.6H256.81V441.75H257.63V466.92H258.45V449.58H259.27V450.93H260.09V460H260.91V461.22H261.73V461.09H262.55V466.84H263.37V464.41H264.19V458.65H265.01V462.43H265.83V444.76H266.65V462.43H267.47V454.29H268.28V460.34H269.1V445.85H269.92V462.44H270.74V453.11H271.56V460.86H272.38V461.26H273.2V462.34H274.02V464.47H274.84V461.36H275.66V469.06H276.48V459.84H277.3V464.98H278.12V459.64H278.94V458.82H279.76V462.7H280.58V458.97H281.4V466.87H282.21V466.65H283.03V459.28H283.85V462.19H284.67V455.49H285.49V463.33H286.31V446.83H287.13V467.22H287.95V460.51H288.77V453.29H289.59V470.36H290.41V464.46H291.23V464.72H292.05V455.81H292.87V453.85H293.69V461.17H294.51V461.61H295.33V465.1H296.15V460.07H296.96V464.08H297.78V463.71H298.6V456.61H299.42V453.64H300.24V457.76H301.06V440.77H301.88V455.88H302.7V463.91H303.52V466.71H304.34V468.86H305.16V453.85H305.98V461.83H306.8V464.64H307.62V470.49H308.44V465.82H309.26V454.67H310.08V466.53H310.89V460.59H311.71V467.71H312.53V450.71H313.35V460.17H314.17V469.42H314.99V458.89H315.81V465.54H316.63V469.75H317.45V464.97H318.27V463.31H319.09V465.21H319.91V464.75H320.73V466.51H321.55V460.71H322.37V465.84H323.19V467.58H324.01V465.18H324.83V462.99H325.64V455.64H326.46V468.14H327.28V466.63H328.1V462.03H328.92V459.79H329.74V461.03H330.56V468.11H331.38V465.03H332.2V467.29H333.02V450.9H333.84V463.91H334.66V462.83H335.48V459.16H336.3V465.59H337.12V458H337.94V466.24H338.76V464.72H339.57V465.17H340.39V462.83H341.21V461.72H342.03V469.07H342.85V469.85H343.67V468.65H344.49V466.25H345.31V471.66H346.13V461.25H346.95V459.72H347.77V455.1H348.59V463.86H349.41V467.7H350.23V468.39H351.05V460.74H351.87V465.2H352.69V466.82H353.51V456.93H354.32V464.57H355.14V463.48H355.96V454.3H356.78V469.52H357.6V464.21H358.42V460.42H359.24V457.31H360.06V469.7H360.88V470.46H361.7V464.81H362.52V461.36H363.34V462.06H364.16V465.67H364.98V465.97H365.8V447.51H366.62V458.9H367.44V471.7H368.25V461.85H369.07V466.7H369.89V468.08H370.71V465.35H371.53V464.4H372.35V462.71H373.17V455.92H373.99V459.24H374.81V470.47H375.63V458.76H376.45V464.68H377.27V461.71H378.09V467.74H378.91V473H379.73V473.2H380.55V458.93H381.37V461.66H382.19V460.27H383V472.62H383.82V460.45H384.64V471.61H385.46V472.23H386.28V465.95H387.1V470.19H387.92V460.73H388.74V468.05H389.56V449.08H390.38V471.18H391.2V466.79H392.02V470.63H392.84V466.47H393.66V471.46H394.48V467.47H395.3V458.53H396.12V453.99H396.93V469.58H397.75V458.87H398.57V462.4H399.39V449.95H400.21V473.66H401.03V471.66H401.85V473.28H402.67V466.58H403.49V452.54H404.31V465.03H405.13V462.39H405.95V462.25H406.77V460.09H407.59V466.77H408.41V467.71H409.23V462.17H410.05V470.43H410.87V465.45H411.68V460.34H412.5V472.66H413.32V463.02H414.14V462.12H414.96V464.32H415.78V467.7H416.6V463.82H417.42V458.83H418.24V470.34H419.06V457.52H419.88V453.34H420.7V462.79H421.52V465.41H422.34V466.39H423.16V467.21H423.98V451.05H424.8V462.68H425.61V466.46H426.43V468.79H427.25V464.48H428.07V467.37H428.89V471.12H429.71V466.09H430.53V454.4H431.35V470.05H432.17V471.75H432.99V460.89H433.81V461.11H434.63V469.79H435.45V471.54H436.27V470.61H437.09V461.21H437.91V461.33H438.73V464.39H439.55V463.48H440.36V469.17H441.18V465.21H442V467.68H442.82V456.4H443.64V469.18H444.46V471.56H445.28V460.99H446.1V463.42H446.92V466.7H447.74V471.14H448.56V445.29H449.38V471.43H450.2V454.42H451.02V466.87H451.84V467.83H452.66V467.12H453.48V473.63H454.29V446.52H455.11V472.4H455.93V461.01H456.75V470.44H457.57V466.07H458.39V471.82H459.21V463.88H460.03V462.21H460.85V470.21H461.67V467.96H462.49V469.09H463.31V450.51H464.13V458.36H464.95V470.34H465.77V471H466.59V470.01H467.41V467.72H468.23V463.54H469.04V469.65H469.86V473.49H470.68V458.39H471.5V470.82H472.32V469.78H473.14V467.54H473.96V459.54H474.78V467.41H475.6V463.9H476.42V463.26H477.24V471.41H478.06V462.79H478.88V471.62H479.7V469.9H480.52V469.77H481.34V457.12H482.16V468.73H482.97V464.6H483.79V455.59H484.61V461.43H485.43V467.92H486.25V467.54H487.07V462.38H487.89V462.88H488.71V453.33H489.53V465.51H490.35V466.09H491.17V461.43H491.99V469.77H492.81V469.33H493.63V468.9H494.45V474.91H495.27V458.24H496.09V474.73H496.91V469.5H497.72V465.34H498.54V467.7H499.36V456.18H500.18V436.24H501V463.34H501.82V458.97H502.64V471.65H503.46V464.74H504.28V455.92H505.1V468.88H505.92V461.58H506.74V462.64H507.56V457.5H508.38V470.41H509.2V454.78H510.02V470.02H510.84V469.69H511.65V466.86H512.47V466.28H513.29V452.93H514.11V465.34H514.93V469.62H515.75V471.09H516.57V468.57H517.39V460.63H518.21V472.59H519.03V457.49H519.85V463.51H520.67V472.02H521.49V469.29H522.31V462.58H523.13V463.55H523.95V469.28H524.77V441.86H525.59V462.6H526.4V457.39H527.22V468.69H528.04V472.47H528.86V457.35H529.68V459.04H530.5V471.99H531.32V473.13H532.14V463.95H532.96V472.17H533.78V472.41H534.6V470.51H535.42V475.16H536.24V473.54H537.06V453.19H537.88V468.93H538.7V470.11H539.52V468.57H540.33V470.13H541.15V468.19H541.97V456.55H542.79V452.06H543.61V467.6H544.43V467.61H545.25V469.55H546.07V457.47H546.89V457.39H547.71V457.84H548.53V457.49H549.35V462.86H550.17V473.81H550.99V459.06H551.81V471.82H552.63V474.16H553.45V470.02H554.27V469.93H555.08V449.9H555.9V471.79H556.72V473.33H557.54V467.7H558.36V466.43H559.18V474.85H560V459.36H560.82V474.86H561.64V470.69H562.46V472.08H563.28V474.42H564.1V469.63H564.92V466.05H565.74V470.22H566.56V471.82H567.38V474.69H568.2V468.66H569.01V467.35H569.83V468.15H570.65V461.63H571.47V471.84H572.29V461.71H573.11V461.3H573.93V473.8H574.75V471.35H575.57V462.58H576.39V468.83H577.21V474.39H578.03V474.54H578.85V473.85H579.67V466.44H580.49V448.59H581.31V473.71H582.13V466.94H582.95V463.56H583.76V471.12H584.58V466.85H585.4V471.51H586.22V467.94H587.04V466.49H587.86V464.89H588.68V475.29H589.5V452.95H590.32V468.78H591.14V469.56H591.96V471.55H592.78V474.73H593.6V470.6H594.42V474.57H595.24V475.1H596.06V453.09H596.88V471.87H597.69V467.53H598.51V471.51H599.33V463.3H600.15V462.83H600.97V463.25H601.79V470.54H602.61V462.13H603.43V471.28H604.25V459.8H605.07V469.92H605.89V470.05H606.71V464H607.53V466.94H608.35V473.43H609.17V469.82H609.99V475.31H610.81V472.57H611.63V464.17H612.44V462.23H613.26V455.11H614.08V470.16H614.9V456.6H615.72V471.43H616.54V464.13H617.36V462.15H618.18V462.53H619V478.22H618.18V479.25H617.36V479.37H616.54V478.4H615.72V479.61H614.9V480.23H614.08V479.23H613.26V478.95H612.44V478.79H611.63V478.45H610.81V480.48H609.99V478.87H609.17V480.41H608.35V480.42H607.53V478.85H606.71V479.6H605.89V479.7H605.07V480.13H604.25V478.96H603.43V479.39H602.61V480.15H601.79V479.15H600.97V478.45H600.15V477.76H599.33V480.21H598.51V478.83H597.69V479.7H596.88V467.25H596.06V479.19H595.24V480.27H594.42V477.53H593.6V480.13H592.78V480.28H591.96V480.27H591.14V478.4H590.32V478.55H589.5V479.4H588.68V478.5H587.86V480.18H587.04V478.69H586.22V478.43H585.4V480.11H584.58V478.99H583.76V479.1H582.95V475.94H582.13V478.88H581.31V480.16H580.49V478.33H579.67V480.12H578.85V478.95H578.03V479.81H577.21V478.28H576.39V478.03H575.57V478.43H574.75V479.24H573.93V478.61H573.11V478.82H572.29V479.67H571.47V477.72H570.65V477.3H569.83V479.72H569.01V478.85H568.2V480.04H567.38V477.18H566.56V478.31H565.74V476.94H564.92V479.68H564.1V477.77H563.28V477.81H562.46V479.72H561.64V478.84H560.82V475.97H560V478.22H559.18V478.53H558.36V478.04H557.54V479.72H556.72V479.52H555.9V479.9H555.08V479.58H554.27V478.49H553.45V477.59H552.63V477.08H551.81V478.21H550.99V478.53H550.17V475.76H549.35V478.54H548.53V471.72H547.71V477.57H546.89V475.73H546.07V479.08H545.25V479.79H544.43V476.11H543.61V476.94H542.79V478.29H541.97V478.84H541.15V478.36H540.33V477.69H539.52V478.15H538.7V478.07H537.88V478.75H537.06V478.38H536.24V478.81H535.42V477.97H534.6V479.33H533.78V479.77H532.96V479.69H532.14V478.6H531.32V479.7H530.5V478.37H529.68V479.69H528.86V479.66H528.04V477H527.22V478.38H526.4V477.81H525.59V479.64H524.77V478.91H523.95V479.61H523.13V478.66H522.31V477.73H521.49V477.89H520.67V478.61H519.85V471.51H519.03V479.56H518.21V478.01H517.39V477.65H516.57V478.24H515.75V477.95H514.93V475.92H514.11V477.5H513.29V476.04H512.47V478.14H511.65V477.88H510.84V477.39H510.02V478.14H509.2V478.15H508.38V475.28H507.56V476.74H506.74V477.59H505.92V477.88H505.1V478.51H504.28V477.32H503.46V478.63H502.64V476.73H501.82V477.56H501V474.75H500.18V468.54H499.36V479.06H498.54V478.51H497.72V478.2H496.91V478.55H496.09V469.27H495.27V477.94H494.45V478.12H493.63V477.78H492.81V478.22H491.99V476.12H491.17V478.95H490.35V478.48H489.53V479.04H488.71V477.42H487.89V476H487.07V476.16H486.25V478.66H485.43V476.75H484.61V477.9H483.79V478.3H482.97V479.08H482.16V477.1H481.34V476.84H480.52V479.07H479.7V478.92H478.88V478.34H478.06V476.31H477.24V478.04H476.42V474.32H475.6V478.04H474.78V477.71H473.96V478.96H473.14V477.54H472.32V478.68H471.5V478.71H470.68V477.63H469.86V477.84H469.04V478.49H468.23V478.8H467.41V477.29H466.59V476.96H465.77V478.39H464.95V478.44H464.13V474.88H463.31V478.77H462.49V478.81H461.67V478.14H460.85V475.66H460.03V476.87H459.21V476.83H458.39V475.99H457.57V477.46H456.75V478.59H455.93V475.9H455.11V478.68H454.29V478.62H453.48V475.84H452.66V478.26H451.84V476.77H451.02V467.55H450.2V474.39H449.38V477.25H448.56V477.36H447.74V477.77H446.92V475.41H446.1V477.12H445.28V476.86H444.46V477.77H443.64V477.14H442.82V477.49H442V476.71H441.18V476.59H440.36V475.33H439.55V477.22H438.73V476.38H437.91V477.01H437.09V476.79H436.27V477.65H435.45V476.42H434.63V476.39H433.81V472.67H432.99V478.3H432.17V475.88H431.35V476.2H430.53V476.68H429.71V477.19H428.89V476.79H428.07V475.97H427.25V476.52H426.43V477.91H425.61V476.56H424.8V478.01H423.98V478.32H423.16V476.97H422.34V475.92H421.52V474.85H420.7V473.95H419.88V478.22H419.06V477.62H418.24V477.04H417.42V478.17H416.6V475.2H415.78V476.57H414.96V476.35H414.14V475.51H413.32V478.17H412.5V474.08H411.68V478.11H410.87V477.15H410.05V475.77H409.23V477.06H408.41V477.6H407.59V475.72H406.77V476.19H405.95V475.27H405.13V476.4H404.31V473.88H403.49V477.37H402.67V477.76H401.85V477.62H401.03V477.17H400.21V466.09H399.39V475.7H398.57V476.14H397.75V474.65H396.93V476.44H396.12V477.67H395.3V475.54H394.48V475.54H393.66V475.81H392.84V476.68H392.02V475.58H391.2V476.89H390.38V474.51H389.56V476.29H388.74V474.56H387.92V474.6H387.1V476.35H386.28V475.96H385.46V476.63H384.64V473.52H383.82V477.3H383V475.33H382.19V475.18H381.37V475.08H380.55V476.1H379.73V476.14H378.91V475.46H378.09V476.22H377.27V477.47H376.45V476.49H375.63V476.74H374.81V470.07H373.99V476.33H373.17V472.91H372.35V474.97H371.53V472.16H370.71V476.32H369.89V476.61H369.07V474.72H368.25V477.14H367.44V473.53H366.62V476.5H365.8V475.95H364.98V476.33H364.16V475.31H363.34V474.31H362.52V476.07H361.7V475.82H360.88V476.54H360.06V475.1H359.24V475.54H358.42V476.81H357.6V476.78H356.78V474.7H355.96V475.97H355.14V476.56H354.32V464.94H353.51V475.13H352.69V476.71H351.87V475.99H351.05V472.62H350.23V473.53H349.41V474.5H348.59V474.5H347.77V474.09H346.95V475.86H346.13V475.2H345.31V475.84H344.49V473.39H343.67V474.54H342.85V475.61H342.03V475.42H341.21V474.04H340.39V474.68H339.57V473.56H338.76V474.14H337.94V473.5H337.12V475.55H336.3V475.08H335.48V474.52H334.66V475.99H333.84V473.81H333.02V473.41H332.2V472.34H331.38V474.65H330.56V474.32H329.74V473.69H328.92V474.89H328.1V475.35H327.28V475.53H326.46V473.8H325.64V473.78H324.83V475.42H324.01V475.63H323.19V473.95H322.37V474.93H321.55V475.19H320.73V474.81H319.91V475.4H319.09V475.64H318.27V474.96H317.45V474.09H316.63V474.65H315.81V474.81H314.99V472.44H314.17V472.66H313.35V475.07H312.53V474.86H311.71V473.5H310.89V472.7H310.08V475.5H309.26V472.67H308.44V474.79H307.62V472.97H306.8V471.67H305.98V473.46H305.16V473.92H304.34V474.51H303.52V473.9H302.7V472.62H301.88V474.81H301.06V467.48H300.24V473.94H299.42V474.75H298.6V474.56H297.78V472.08H296.96V472.42H296.15V474.79H295.33V473.48H294.51V472.45H293.69V473.6H292.87V473.19H292.05V474.03H291.23V473.81H290.41V473.46H289.59V474.14H288.77V473.06H287.95V474.53H287.13V474.48H286.31V474.36H285.49V461.65H284.67V474.29H283.85V475.34H283.03V472.89H282.21V473.8H281.4V472.23H280.58V474.79H279.76V472.76H278.94V471.71H278.12V472.45H277.3V473.11H276.48V473.68H275.66V474.14H274.84V473.37H274.02V473.03H273.2V473.67H272.38V473.18H271.56V473.67H270.74V474.87H269.92V472.46H269.1V473.13H268.28V473.39H267.47V472.92H266.65V471.01H265.83V471.95H265.01V471.95H264.19V473.09H263.37V473.37H262.55V471.62H261.73V471.95H260.91V470.57H260.09V473.27H259.27V460.32H258.45V473.24H257.63V473.99H256.81V474.55H255.99V472.59H255.17V472.09H254.35V473.31H253.53V472.23H252.72V471.77H251.9V473.86H251.08V470.87H250.26V472.14H249.44V471.38H248.62V471.63H247.8V469.63H246.98V474.37H246.16V471.21H245.34V473.92H244.52V469.99H243.7V472.45H242.88V471.17H242.06V471.23H241.24V471.71H240.42V466.44H239.6V472.53H238.79V473.58H237.97V470.42H237.15V470.29H236.33V469.6H235.51V471.15H234.69V472.6H233.87V471.67H233.05V472.04H232.23V472.12H231.41V471.91H230.59V472.9H229.77V474.07H228.95V470.58H228.13V471.58H227.31V473.17H226.49V470.68H225.67V471.41H224.85V472.83H224.04V472.47H223.22V470.06H222.4V471.82H221.58V471.38H220.76V472.24H219.94V472.41H219.12V470.93H218.3V471.87H217.48V472.35H216.66V471.53H215.84V470.2H215.02V470.65H214.2V471.77H213.38V472.5H212.56V472.51H211.74V469.76H210.92V471.05H210.11V471.34H209.29V471.64H208.47V471.37H207.65V471.56H206.83V471.82H206.01V470.18H205.19V471.1H204.37V470.13H203.55V472.75H202.73V472.42H201.91V466.7H201.09V470.23H200.27V472.02H199.45V469.7H198.63V469.89H197.81V470.35H196.99V471.48H196.17V471.06H195.36V471.18H194.54V471.78H193.72V469.38H192.9V471.08H192.08V469.35H191.26V471.26H190.44V471.42H189.62V470.34H188.8V470.94H187.98V470.4H187.16V469.77H186.34V470.2H185.52V459.54H184.7V470.09H183.88V471.26H183.06V470.6H182.24V471.48H181.43V470.56H180.61V470H179.79V470.67H178.97V470.05H178.15V469.71H177.33V468.93H176.51V470.21H175.69V468.32H174.87V470.74H174.05V468.8H173.23V472H172.41V458.93H171.59V469.94H170.77V469.88H169.95V471.47H169.13V469.87H168.31V470.74H167.49V469.38H166.68V469.47H165.86V469.97H165.04V469.83H164.22V467.31H163.4V467.77H162.58V469.98H161.76V470.29H160.94V469.15H160.12V470.33H159.3V468.27H158.48V468.86H157.66V467.83H156.84V469.42H156.02V467.82H155.2V466.88H154.38V470.55H153.56V470.47H152.75V471.01H151.93V470.05H151.11V467.85H150.29V469.95H149.47V468.9H148.65V469.63H147.83V465.17H147.01V468.96H146.19V469.45H145.37V469.63H144.55V470.31H143.73V468.99H142.91V466.62H142.09V468.2H141.27V469.35H140.45V469.26H139.63V469.33H138.81V469.38H138V467.63H137.18V468.76H136.36V468.21H135.54V468.87H134.72V466.81H133.9V467.94H133.08V468.42H132.26V468.19H131.44V469.54H130.62V465.15H129.8V469.01H128.98V467.93H128.16V469.6H127.34V467.4H126.52V467.58H125.7V468.24H124.88V468.14H124.07V467.55H123.25V465.23H122.43V468.12H121.61V466.97H120.79V468.39H119.97V466.6H119.15V466.47H118.33V466.58H117.51V467.71H116.69V466.06H115.87V468.1H115.05V468.49H114.23V464.25H113.41V467.85H112.59V466.55H111.77V466.55H110.95V466.43H110.13V466.35H109.32V455.53H108.5V467.17H107.68V466.47H106.86V464.58H106.04V464.34H105.22V466.97H104.4V466.42H103.58V466.13H102.76V465.77H101.94V465.76H101.12V466.26H100.3V465.2H99.48V468.55H98.66V465.63H97.84V464.15H97.02V465.64H96.2V465.42H95.39V466.29H94.57V464.91H93.75V463.45H92.93V465.35H92.11V464.97H91.29V464.31H90.47V465.51H89.65V467.1H88.83V463.16H88.01V464.34H87.19V465.5H86.37V463.46H85.55V464.41H84.73V464.75H83.91V463.81H83.09V465.33H82.27V465.2H81.45V462.6H80.64V466.71H79.82V464.48H79V465.75H78.18V462.85H77.36V462.65H76.54V455.87H75.72V464.17H74.9V461.84H74.08V463.63H73.26V463.19H72.44V462.31H71.62V461.74H70.8V462.06H69.98V460.68H69.16V460.15H68.34V463.59H67.52V463.59H66.71V461.28H65.89V460.51H65.07V459.11H64.25V459.73H63.43V458.8H62.61V446.11H61.79V455.35H60.97V456.7H60.15V459.34H59.33V455.72H58.51V450.63H57.69V455.99H56.87V454.46H56.05V458.08H55.23V457.43H54.41V449.01H53.59V456.23H52.77V453.79H51.96V451.04H51.14V446.91H50.32V447.69H49.5V443.29H48.68V444.1H47.86V442.42H47.04V445.46H46.22V436.82H45.4Z"/>
<path fill="#33a02c" d="M45.4 553V504.08H46.22V530.02H47.04V533.06H47.86V522.53H48.68V536.03H49.5V511.96H50.32V515.58H51.14V524.49H51.96V498.38H52.77V512.46H53.59V510.64H54.41V512.62H55.23V541.49H56.05V512.33H56.87V520.68H57.69V533.58H58.51V525.77H59.33V512.33H60.15V509.58H60.97V519.43H61.79V526.98H62.61V517.29H63.43V518.13H64.25V530.46H65.07V530.74H65.89V526.06H66.71V513.18H67.52V508.67H68.34V528.04H69.16V506.73H69.98V528.44H70.8V516.71H71.62V510.02H72.44V534.49H73.26V522.83H74.08V525.39H74.9V534.19H75.72V521.04H76.54V509.23H77.36V529.22H78.18V525.52H79V509.54H79.82V539.64H80.64V534.71H81.45V526.86H82.27V518.47H83.09V530.27H83.91V518.09H84.73V498.38H85.55V513.51H86.37V509.03H87.19V519.09H88.01V531.5H88.83V513.55H89.65V509.67H90.47V515.36H91.29V531.03H92.11V516.24H92.93V525.27H93.75V516.81H94.57V527.64H95.39V510.21H96.2V529.78H97.02V512.99H97.84V529.16H98.66V529.54H99.48V525.64H100.3V529.23H101.12V530H101.94V516.91H102.76V526.74H103.58V524.98H104.4V530.76H105.22V538.76H106.04V514.72H106.86V531.18H107.68V537.53H108.5V540.37H109.32V520.21H110.13V498.38H110.95V518.96H111.77V524.81H112.59V522.85H113.41V531.85H114.23V526.61H115.05V509.26H115.87V512.62H116.69V524.71H117.51V533.41H118.33V534.57H119.15V520.89H119.97V527.37H120.79V534.69H121.61V538.2H122.43V527.14H123.25V526.84H124.07V538.29H124.88V531.99H125.7V538.09H126.52V518.5H127.34V536.62H128.16V536.33H128.98V514.78H129.8V534.21H130.62V540.64H131.44V531.21H132.26V527.23H133.08V526.62H133.9V534.2H134.72V533.82H135.54V525.97H136.36V531.16H137.18V526.02H138V522.87H138.81V537.11H139.63V528.45H140.45V527.4H141.27V533.84H142.09V535.66H142.91V534.07H143.73V537.51H144.55V518.45H145.37V536.22H146.19V528.76H147.01V514.96H147.83V520.21H148.65V534.56H149.47V533.83H150.29V527.38H151.11V520.44H151.93V510.89H152.75V540.93H153.56V533.65H154.38V537.6H155.2V534.54H156.02V534.87H156.84V524.23H157.66V532.81H158.48V514.91H159.3V539.78H160.12V532.9H160.94V525.3H161.76V517.08H162.58V534.83H163.4V520.31H164.22V514.64H165.04V528.76H165.86V519.46H166.68V522.96H167.49V534.75H168.31V532.09H169.13V533.55H169.95V526.27H170.77V539.73H171.59V533.05H172.41V527.39H173.23V536.64H174.05V539.74H174.87V513H175.69V533.09H176.51V534.36H177.33V543.16H178.15V541.2H178.97V537.55H179.79V540.02H180.61V537.51H181.43V518.74H182.24V526.8H183.06V534.13H183.88V539.38H184.7V531.91H185.52V535.83H186.34V528.64H187.16V536.39H187.98V528.87H188.8V506.08H189.62V539.37H190.44V533.41H191.26V519.88H192.08V533.29H192.9V529.53H193.72V542.12H194.54V529.92H195.36V538.36H196.17V535.49H196.99V531.6H197.81V498.38H198.63V529.85H199.45V540.79H200.27V544.83H201.09V529.59H201.91V539.11H202.73V526.8H203.55V539.76H204.37V530.85H205.19V540.18H206.01V535.82H206.83V540.87H207.65V539.79H208.47V546.42H209.29V542.93H210.11V530.41H210.92V532.82H211.74V524.98H212.56V532.76H213.38V545.34H214.2V534.02H215.02V508.05H215.84V535.48H216.66V527.46H217.48V534.04H218.3V530.15H219.12V539.45H219.94V537.73H220.76V524.61H221.58V535.96H222.4V537.2H223.22V541.99H224.04V531.56H224.85V537.52H225.67V532.48H226.49V533.1H227.31V535.22H228.13V533.83H228.95V539.79H229.77V534.42H230.59V536.32H231.41V536.79H232.23V537.08H233.05V529.94H233.87V518.61H234.69V530.83H235.51V542.38H236.33V535.51H237.15V527.93H237.97V544.14H238.79V544.95H239.6V535.97H240.42V539.48H241.24V529.39H242.06V534.44H242.88V530.91H243.7V530.6H244.52V530.31H245.34V536.26H246.16V541.72H246.98V521.59H247.8V528.94H248.62V537.8H249.44V537.21H250.26V536.31H251.08V540.18H251.9V532.24H252.72V532.65H253.53V538.73H254.35V540.15H255.17V523.36H255.99V536.19H256.81V532.42H257.63V532.14H258.45V538.27H259.27V542.52H260.09V537.84H260.91V536.61H261.73V535.13H262.55V535.46H263.37V538.48H264.19V539.49H265.01V533.87H265.83V543.35H266.65V534.19H267.47V514.47H268.28V538.35H269.1V529.02H269.92V543.84H270.74V539.76H271.56V540.19H272.38V531.55H273.2V517.94H274.02V543.27H274.84V524.9H275.66V533.12H276.48V540.6H277.3V533.61H278.12V538.38H278.94V526H279.76V534.9H280.58V536.76H281.4V538.87H282.21V540.55H283.03V536.87H283.85V537.19H284.67V541.95H285.49V539.72H286.31V536.32H287.13V534.17H287.95V536.05H288.77V538.58H289.59V542.58H290.41V531.29H291.23V520.01H292.05V539.64H292.87V535.25H293.69V545.41H294.51V525.99H295.33V538.54H296.15V542.94H296.96V538.46H297.78V528.75H298.6V543.08H299.42V544.73H300.24V535.38H301.06V538.43H301.88V533.15H302.7V537.95H303.52V536.96H304.34V542.92H305.16V540.32H305.98V528.56H306.8V542.94H307.62V542.09H308.44V539.3H309.26V534.83H310.08V539.51H310.89V531.74H311.71V544.27H312.53V539.22H313.35V538.55H314.17V542.93H314.99V526.99H315.81V532.69H316.63V537.64H317.45V537.59H318.27V541.7H319.09V527.44H319.91V539.24H320.73V539.88H321.55V531.36H322.37V538.99H323.19V546.33H324.01V537.51H324.83V542.47H325.64V518.62H326.46V536.89H327.28V543.47H328.1V536.31H328.92V543.61H329.74V534.91H330.56V545.05H331.38V542.51H332.2V535.7H333.02V540.1H333.84V541.39H334.66V540.29H335.48V540.21H336.3V521.87H337.12V540.56H337.94V532.15H338.76V536.22H339.57V539.24H340.39V543H341.21V542.37H342.03V540.49H342.85V536.06H343.67V544.08H344.49V520.37H345.31V541.37H346.13V543.2H346.95V535.4H347.77V542.8H348.59V545.65H349.41V540.76H350.23V529.05H351.05V546.4H351.87V540.7H352.69V535.94H353.51V542.43H354.32V539.77H355.14V538.23H355.96V537.56H356.78V539.23H357.6V541.16H358.42V537.8H359.24V544.95H360.06V542.09H360.88V543.24H361.7V543.72H362.52V543.55H363.34V533.66H364.16V546.4H364.98V540.89H365.8V543.97H366.62V544.11H367.44V543.61H368.25V542.15H369.07V540.14H369.89V542.8H370.71V544.79H371.53V533.53H372.35V540.34H373.17V538.25H373.99V538.47H374.81V547.69H375.63V543.78H376.45V540.29H377.27V541.79H378.09V540.18H378.91V542.16H379.73V536.48H380.55V545.45H381.37V544.73H382.19V532.19H383V543.76H383.82V543.04H384.64V546.53H385.46V519.17H386.28V548.85H387.1V541.07H387.92V543.32H388.74V548.06H389.56V537.16H390.38V543.21H391.2V537.42H392.02V541.34H392.84V541.49H393.66V535.96H394.48V543.81H395.3V541.26H396.12V542.75H396.93V539.93H397.75V538.23H398.57V544.78H399.39V528.91H400.21V536.64H401.03V538.57H401.85V546.68H402.67V542.99H403.49V545.08H404.31V540.36H405.13V543.68H405.95V544.54H406.77V545.31H407.59V547.59H408.41V543.68H409.23V539.17H410.05V542.22H410.87V549.25H411.68V542.47H412.5V540.73H413.32V547.08H414.14V543.4H414.96V536.3H415.78V538.68H416.6V546.94H417.42V542.47H418.24V543.28H419.06V545.28H419.88V543.56H420.7V542.86H421.52V532.55H422.34V543.79H423.16V542.01H423.98V543.17H424.8V542.51H425.61V546.13H426.43V544.91H427.25V546.58H428.07V542.8H428.89V544.75H429.71V544.23H430.53V543.14H431.35V542.37H432.17V540.47H432.99V535.72H433.81V537.06H434.63V534.05H435.45V537.34H436.27V546.8H437.09V544.09H437.91V537.12H438.73V541.81H439.55V541.74H440.36V535.5H441.18V544H442V543.43H442.82V544.9H443.64V543.65H444.46V536.95H445.28V546.26H446.1V545.53H446.92V534.52H447.74V543.78H448.56V524.7H449.38V547.23H450.2V548.71H451.02V537.2H451.84V541.7H452.66V543.64H453.48V545.81H454.29V546.64H455.11V544.23H455.93V543.64H456.75V539.61H457.57V543.03H458.39V521.47H459.21V542.05H460.03V545.53H460.85V545.68H461.67V542.35H462.49V546.4H463.31V523.21H464.13V546.22H464.95V533.66H465.77V546.65H466.59V544.5H467.41V540.73H468.23V546.93H469.04V531.03H469.86V532.6H470.68V541.52H471.5V539.26H472.32V530.64H473.14V543.02H473.96V547.7H474.78V544.3H475.6V547.33H476.42V547.92H477.24V547.04H478.06V541.6H478.88V545.88H479.7V542.14H480.52V543.97H481.34V546.2H482.16V548.18H482.97V544.66H483.79V545.49H484.61V546.79H485.43V549.04H486.25V546.24H487.07V545.8H487.89V548.68H488.71V547.86H489.53V549.32H490.35V549.49H491.17V538.99H491.99V547.32H492.81V548.56H493.63V545.72H494.45V543.77H495.27V542.14H496.09V527.18H496.91V545.16H497.72V546.84H498.54V548.56H499.36V549H500.18V544.45H501V548.38H501.82V548.7H502.64V544.42H503.46V546.98H504.28V546.72H505.1V547.15H505.92V545.97H506.74V539.49H507.56V548.17H508.38V547.27H509.2V547.15H510.02V540.58H510.84V547.94H511.65V544.73H512.47V544.86H513.29V549.25H514.11V546.2H514.93V546.87H515.75V548.37H516.57V547.51H517.39V547.27H518.21V544.95H519.03V548.44H519.85V534.21H520.67V537.65H521.49V545.96H522.31V528.5H523.13V549.57H523.95V543.67H524.77V544.93H525.59V549.28H526.4V549.79H527.22V547.55H528.04V545.28H528.86V547.79H529.68V548.63H530.5V550.06H531.32V549.37H532.14V545.81H532.96V545.09H533.78V542.82H534.6V546.39H535.42V547.24H536.24V548.42H537.06V544.57H537.88V544.92H538.7V547.74H539.52V545.73H540.33V548.86H541.15V544.12H541.97V548.36H542.79V548.87H543.61V548.18H544.43V550.31H545.25V546.35H546.07V548.26H546.89V548.08H547.71V544.71H548.53V550.21H549.35V546.3H550.17V549.09H550.99V549.9H551.81V548.33H552.63V544.16H553.45V549.4H554.27V547.92H555.08V546.21H555.9V548.79H556.72V548.6H557.54V545.77H558.36V548.59H559.18V548.16H560V548.16H560.82V548.62H561.64V548.83H562.46V546.42H563.28V550.57H564.1V549.57H564.92V548.63H565.74V547.91H566.56V548.39H567.38V545.55H568.2V549.09H569.01V546.05H569.83V547.23H570.65V549.79H571.47V542.1H572.29V550.74H573.11V548.16H573.93V549.58H574.75V550.57H575.57V550.69H576.39V549.26H577.21V548.28H578.03V549.93H578.85V548.22H579.67V549.18H580.49V548.82H581.31V550.62H582.13V550.39H582.95V549.46H583.76V548.55H584.58V548.63H585.4V548.69H586.22V550.2H587.04V549.5H587.86V550.01H588.68V548.81H589.5V549.88H590.32V547.62H591.14V551.11H591.96V538.75H592.78V549.75H593.6V550.1H594.42V550.24H595.24V548.83H596.06V548.9H596.88V548.69H597.69V537.23H598.51V547.89H599.33V547.58H600.15V550.53H600.97V550.57H601.79V549.7H602.61V550.84H603.43V551.12H604.25V550.74H605.07V532.08H605.89V551.09H606.71V550.32H607.53V550.84H608.35V550.13H609.17V536.75H609.99V548.52H610.81V542.76H611.63V551.53H612.44V550.18H613.26V551.67H614.08V551.41H614.9V550.79H615.72V551.85H616.54V551.85H617.36V551.85H618.18V551.85H619V553H618.18V553H617.36V553H616.54V553H615.72V553H614.9V553H614.08V553H613.26V553H612.44V553H611.63V553H610.81V553H609.99V553H609.17V553H608.35V553H607.53V553H606.71V553H605.89V553H605.07V553H604.25V553H603.43V553H602.61V553H601.79V553H600.97V553H600.15V553H599.33V553H598.51V553H597.69V553H596.88V553H596.06V553H595.24V553H594.42V553H593.6V553H592.78V553H591.96V553H591.14V553H590.32V553H589.5V553H588.68V553H587.86V553H587.04V553H586.22V553H585.4V553H584.58V553H583.76V553H582.95V553H582.13V553H581.31V553H580.49V553H579.67V553H578.85V553H578.03V553H577.21V553H576.39V553H575.57V553H574.75V553H573.93V553H573.11V553H572.29V553H571.47V553H570.65V553H569.83V553H569.01V553H568.2V553H567.38V553H566.56V553H565.74V553H564.92V553H564.1V553H563.28V553H562.46V553H561.64V553H560.82V553H560V553H559.18V553H558.36V553H557.54V553H556.72V553H555.9V553H555.08V553H554.27V553H553.45V553H552.63V553H551.81V553H550.99V553H550.17V553H549.35V553H548.53V553H547.71V553H546.89V553H546.07V553H545.25V553H544.43V553H543.61V553H542.79V553H541.97V553H541.15V553H540.33V553H539.52V553H538.7V553H537.88V553H537.06V553H536.24V553H535.42V553H534.6V553H533.78V553H532.96V553H532.14V553H531.32V553H530.5V553H529.68V553H528.86V553H528.04V553H527.22V553H526.4V553H525.59V553H524.77V553H523.95V553H523.13V553H522.31V553H521.49V553H520.67V553H519.85V553H519.03V553H518.21V553H517.39V553H516.57V553H515.75V553H514.93V553H514.11V553H513.29V553H512.47V553H511.65V553H510.84V553H510.02V553H509.2V553H508.38V553H507.56V553H506.74V553H505.92V553H505.1V553H504.28V553H503.46V553H502.64V553H501.82V553H501V553H500.18V553H499.36V553H498.54V553H497.72V553H496.91V553H496.09V553H495.27V553H494.45V553H493.63V553H492.81V553H491.99V553H491.17V553H490.35V553H489.53V553H488.71V553H487.89V553H487.07V553H486.25V553H485.43V553H484.61V553H483.79V553H482.97V553H482.16V553H481.34V553H480.52V553H479.7V553H478.88V553H478.06V553H477.24V553H476.42V553H475.6V553H474.78V553H473.96V553H473.14V553H472.32V553H471.5V553H470.68V553H469.86V553H469.04V553H468.23V553H467.41V553H466.59V553H465.77V553H464.95V553H464.13V553H463.31V553H462.49V553H461.67V553H460.85V553H460.03V553H459.21V553H458.39V553H457.57V553H456.75V553H455.93V553H455.11V553H454.29V553H453.48V553H452.66V553H451.84V553H451.02V553H450.2V553H449.38V553H448.56V553H447.74V553H446.92V553H446.1V553H445.28V553H444.46V553H443.64V553H442.82V553H442V553H441.18V553H440.36V553H439.55V553H438.73V553H437.91V553H437.09V553H436.27V553H435.45V553H434.63V553H433.81V553H432.99V553H432.17V553H431.35V553H430.53V553H429.71V553H428.89V553H428.07V553H427.25V553H426.43V553H425.61V553H424.8V553H423.98V553H423.16V553H422.34V553H421.52V553H420.7V553H419.88V553H419.06V553H418.24V553H417.42V553H416.6V553H415.78V553H414.96V553H414.14V553H413.32V553H412.5V553H411.68V553H410.87V553H410.05V553H409.23V553H408.41V553H407.59V553H406.77V553H405.95V553H405.13V553H404.31V553H403.49V553H402.67V553H401.85V553H401.03V553H400.21V553H399.39V553H398.57V553H397.75V553H396.93V553H396.12V553H395.3V553H394.48V553H393.66V553H392.84V553H392.02V553H391.2V553H390.38V553H389.56V553H388.74V553H387.92V553H387.1V553H386.28V553H385.46V553H384.64V553H383.82V553H383V553H382.19V553H381.37V553H380.55V553H379.73V553H378.91V553H378.09V553H377.27V553H376.45V553H375.63V553H374.81V553H373.99V553H373.17V553H372.35V553H371.53V553H370.71V553H369.89V553H369.07V553H368.25V553H367.44V553H366.62V553H365.8V553H364.98V553H364.16V553H363.34V553H362.52V553H361.7V553H360.88V553H360.06V553H359.24V553H358.42V553H357.6V553H356.78V553H355.96V553H355.14V553H354.32V553H353.51V553H352.69V553H351.87V553H351.05V553H350.23V553H349.41V553H348.59V553H347.77V553H346.95V553H346.13V553H345.31V553H344.49V553H343.67V553H342.85V553H342.03V553H341.21V553H340.39V553H339.57V553H338.76V553H337.94V553H337.12V553H336.3V553H335.48V553H334.66V553H333.84V553H333.02V553H332.2V553H331.38V553H330.56V553H329.74V553H328.92V553H328.1V553H327.28V553H326.46V553H325.64V553H324.83V553H324.01V553H323.19V553H322.37V553H321.55V553H320.73V553H319.91V553H319.09V553H318.27V553H317.45V553H316.63V553H315.81V553H314.99V553H314.17V553H313.35V553H312.53V553H311.71V553H310.89V553H310.08V553H309.26V553H308.44V553H307.62V553H306.8V553H305.98V553H305.16V553H304.34V553H303.52V553H302.7V553H301.88V553H301.06V553H300.24V553H299.42V553H298.6V553H297.78V553H296.96V553H296.15V553H295.33V553H294.51V553H293.69V553H292.87V553H292.05V553H291.23V553H290.41V553H289.59V553H288.77V553H287.95V553H287.13V553H286.31V553H285.49V553H284.67V553H283.85V553H283.03V553H282.21V553H281.4V553H280.58V553H279.76V553H278.94V553H278.12V553H277.3V553H276.48V553H275.66V553H274.84V553H274.02V553H273.2V553H272.38V553H271.56V553H270.74V553H269.92V553H269.1V553H268.28V553H267.47V553H266.65V553H265.83V553H265.01V553H264.19V553H263.37V553H262.55V553H261.73V553H260.91V553H260.09V553H259.27V553H258.45V553H257.63V553H256.81V553H255.99V553H255.17V553H254.35V553H253.53V553H252.72V553H251.9V553H251.08V553H250.26V553H249.44V553H248.62V553H247.8V553H246.98V553H246.16V553H245.34V553H244.52V553H243.7V553H242.88V553H242.06V553H241.24V553H240.42V553H239.6V553H238.79V553H237.97V553H237.15V553H236.33V553H235.51V553H234.69V553H233.87V553H233.05V553H232.23V553H231.41V553H230.59V553H229.77V553H228.95V553H228.13V553H227.31V553H226.49V553H225.67V553H224.85V553H224.04V553H223.22V553H222.4V553H221.58V553H220.76V553H219.94V553H219.12V553H218.3V553H217.48V553H216.66V553H215.84V553H215.02V553H214.2V553H213.38V553H212.56V553H211.74V553H210.92V553H210.11V553H209.29V553H208.47V553H207.65V553H206.83V553H206.01V553H205.19V553H204.37V553H203.55V553H202.73V553H201.91V553H201.09V553H200.27V553H199.45V553H198.63V553H197.81V553H196.99V553H196.17V553H195.36V553H194.54V553H193.72V553H192.9V553H192.08V553H191.26V553H190.44V553H189.62V553H188.8V553H187.98V553H187.16V553H186.34V553H185.52V553H184.7V553H183.88V553H183.06V553H182.24V553H181.43V553H180.61V553H179.79V553H178.97V553H178.15V553H177.33V553H176.51V553H175.69V553H174.87V553H174.05V553H173.23V553H172.41V553H171.59V553H170.77V553H169.95V553H169.13V553H168.31V553H167.49V553H166.68V553H165.86V553H165.04V553H164.22V553H163.4V553H162.58V553H161.76V553H160.94V553H160.12V553H159.3V553H158.48V553H157.66V553H156.84V553H156.02V553H155.2V553H154.38V553H153.56V553H152.75V553H151.93V553H151.11V553H150.29V553H149.47V553H148.65V553H147.83V553H147.01V553H146.19V553H145.37V553H144.55V553H143.73V553H142.91V553H142.09V553H141.27V553H140.45V553H139.63V553H138.81V553H138V553H137.18V553H136.36V553H135.54V553H134.72V553H133.9V553H133.08V553H132.26V553H131.44V553H130.62V553H129.8V553H128.98V553H128.16V553H127.34V553H126.52V553H125.7V553H124.88V553H124.07V553H123.25V553H122.43V553H121.61V553H120.79V553H119.97V553H119.15V553H118.33V553H117.51V553H116.69V553H115.87V553H115.05V553H114.23V553H113.41V553H112.59V553H111.77V553H110.95V553H110.13V553H109.32V553H108.5V553H107.68V553H106.86V553H106.04V553H105.22V553H104.4V553H103.58V553H102.76V553H101.94V553H101.12V553H100.3V553H99.48V553H98.66V553H97.84V553H97.02V553H96.2V553H95.39V553H94.57V553H93.75V553H92.93V553H92.11V553H91.29V553H90.47V553H89.65V553H88.83V553H88.01V553H87.19V553H86.37V553H85.55V553H84.73V553H83.91V553H83.09V553H82.27V553H81.45V553H80.64V553H79.82V553H79V553H78.18V553H77.36V553H76.54V553H75.72V553H74.9V553H74.08V553H73.26V553H72.44V553H71.62V553H70.8V553H69.98V553H69.16V553H68.34V553H67.52V553H66.71V553H65.89V553H65.07V553H64.25V553H63.43V553H62.61V553H61.79V553H60.97V553H60.15V553H59.33V553H58.51V553H57.69V553H56.87V553H56.05V553H55.23V553H54.41V553H53.59V553H52.77V553H51.96V553H51.14V553H50.32V553H49.5V553H48.68V553H47.86V553H47.04V553H46.22V553H45.4Z"/>
<path fill="#b2df8a" d="M45.4 504.08V495.5H46.22V503.16H47.04V524.56H47.86V504.45H48.68V533.93H49.5V510.52H50.32V510.55H51.14V505.43H51.96V495.5H52.77V507.3H53.59V504.93H54.41V509.13H55.23V532.99H56.05V508.73H56.87V515.47H57.69V524.73H58.51V518.79H59.33V505.14H60.15V495.5H60.97V516.23H61.79V524.2H62.61V512.93H63.43V514.8H64.25V528.15H65.07V523.68H65.89V517.95H66.71V504.05H67.52V506.33H68.34V508.35H69.16V501.11H69.98V515.44H70.8V514.69H71.62V508.32H72.44V528.83H73.26V516.44H74.08V518.43H74.9V518.72H75.72V517.18H76.54V507.25H77.36V498H78.18V520.19H79V495.5H79.82V533.5H80.64V525.44H81.45V523.33H82.27V512.72H83.09V527.08H83.91V513.08H84.73V497.16H85.55V507.97H86.37V506.93H87.19V512.2H88.01V502.16H88.83V507.26H89.65V500.47H90.47V509.52H91.29V523.46H92.11V510.31H92.93V519.73H93.75V504.03H94.57V521.21H95.39V500.02H96.2V524.46H97.02V499.48H97.84V526.83H98.66V524.95H99.48V521.1H100.3V525.59H101.12V526.86H101.94V509.03H102.76V523.14H103.58V521.9H104.4V510.94H105.22V536.25H106.04V503.58H106.86V527.77H107.68V532.05H108.5V535.83H109.32V514.6H110.13V495.5H110.95V516.98H111.77V523.03H112.59V515.97H113.41V519.11H114.23V501.22H115.05V507.93H115.87V504.32H116.69V512.97H117.51V523.57H118.33V530H119.15V519.42H119.97V516.48H120.79V530.83H121.61V521.93H122.43V524.84H123.25V509.77H124.07V529.33H124.88V528.89H125.7V526.6H126.52V513.09H127.34V531.14H128.16V518.03H128.98V503.87H129.8V528.16H130.62V534.7H131.44V528.88H132.26V524.34H133.08V521.51H133.9V527.27H134.72V497.65H135.54V516.84H136.36V523.97H137.18V518.31H138V506.78H138.81V533.34H139.63V517.08H140.45V526.09H141.27V524.64H142.09V532.44H142.91V516.25H143.73V523.92H144.55V510.04H145.37V530.98H146.19V520.54H147.01V507.14H147.83V519.2H148.65V532.05H149.47V531.43H150.29V524.3H151.11V516.64H151.93V502.92H152.75V531.23H153.56V529.41H154.38V524.35H155.2V529.88H156.02V524.97H156.84V518.37H157.66V526.57H158.48V510.48H159.3V526.43H160.12V526.51H160.94V504.23H161.76V514.09H162.58V526.82H163.4V507.25H164.22V501.04H165.04V524.85H165.86V515.55H166.68V521.42H167.49V532.22H168.31V512.16H169.13V523.81H169.95V522.99H170.77V528.29H171.59V524.15H172.41V522.9H173.23V533.47H174.05V528.41H174.87V512.45H175.69V524.1H176.51V524.3H177.33V538H178.15V533.47H178.97V533.77H179.79V536.34H180.61V530H181.43V495.5H182.24V523.61H183.06V531.08H183.88V525.94H184.7V525.3H185.52V527.03H186.34V525.3H187.16V532.98H187.98V525.97H188.8V502.77H189.62V536.7H190.44V530.24H191.26V518.17H192.08V522.32H192.9V526.24H193.72V516.6H194.54V525.76H195.36V529.2H196.17V524.26H196.99V511.44H197.81V495.5H198.63V518.43H199.45V537.74H200.27V537.52H201.09V528.1H201.91V517.38H202.73V495.5H203.55V533.11H204.37V529.21H205.19V535.98H206.01V527.04H206.83V528.84H207.65V530.83H208.47V544.86H209.29V540.59H210.11V523.76H210.92V529.26H211.74V520.72H212.56V524.28H213.38V537.63H214.2V530.04H215.02V503.9H215.84V529.9H216.66V524.94H217.48V531.11H218.3V521.95H219.12V533.38H219.94V530.87H220.76V520.57H221.58V527.73H222.4V526.98H223.22V524.96H224.04V519.96H224.85V533.5H225.67V528.13H226.49V524.97H227.31V531.81H228.13V498.68H228.95V536.88H229.77V528.44H230.59V527.21H231.41V504.57H232.23V533.9H233.05V528.71H233.87V498.5H234.69V528.11H235.51V519.83H236.33V529.65H237.15V523.1H237.97V539.46H238.79V534.9H239.6V523.71H240.42V526.46H241.24V523.29H242.06V529.37H242.88V513.27H243.7V522.43H244.52V522.3H245.34V530.57H246.16V535.28H246.98V495.5H247.8V525.6H248.62V530.69H249.44V526.48H250.26V534.69H251.08V536.5H251.9V522.05H252.72V520.83H253.53V531.06H254.35V528.77H255.17V497.59H255.99V513.86H256.81V525.93H257.63V527.69H258.45V532.94H259.27V534.63H260.09V535.95H260.91V527.09H261.73V530.74H262.55V528.11H263.37V536.47H264.19V535.22H265.01V528.17H265.83V536.15H266.65V531.85H267.47V511.46H268.28V526.15H269.1V522.66H269.92V541.93H270.74V528.25H271.56V537.42H272.38V528.9H273.2V514.61H274.02V540.35H274.84V523H275.66V529.31H276.48V539.04H277.3V532.25H278.12V526.57H278.94V520.81H279.76V530.06H280.58V525H281.4V536.13H282.21V525.94H283.03V517.4H283.85V512.41H284.67V538.98H285.49V536.65H286.31V527.46H287.13V532.01H287.95V523.61H288.77V536.71H289.59V536.71H290.41V526.06H291.23V510.56H292.05V533.57H292.87V529.67H293.69V538.08H294.51V523.65H295.33V533.4H296.15V539.39H296.96V532.82H297.78V524.39H298.6V539.93H299.42V543.09H300.24V529.52H301.06V518.89H301.88V495.5H302.7V531.7H303.52V534.71H304.34V539.69H305.16V518.6H305.98V522.78H306.8V537.61H307.62V537.78H308.44V500.06H309.26V530.56H310.08V533.52H310.89V521.4H311.71V536.33H312.53V524.83H313.35V495.5H314.17V531.28H314.99V524.24H315.81V521.07H316.63V524.48H317.45V530.37H318.27V539.38H319.09V522.74H319.91V533.18H320.73V536.17H321.55V527.91H322.37V534.59H323.19V534.38H324.01V524.08H324.83V539.57H325.64V515.05H326.46V530.53H327.28V524.98H328.1V532.05H328.92V539.42H329.74V527.81H330.56V537.41H331.38V525.71H332.2V528.49H333.02V536.76H333.84V538.29H334.66V530.5H335.48V519.25H336.3V512.39H337.12V536.89H337.94V518.79H338.76V532.04H339.57V529.52H340.39V514.37H341.21V540.21H342.03V535.99H342.85V531.41H343.67V536.25H344.49V516.32H345.31V519.34H346.13V539.11H346.95V527.82H347.77V538.43H348.59V541.64H349.41V523.46H350.23V508.85H351.05V540.13H351.87V521.86H352.69V522.76H353.51V537.35H354.32V530.91H355.14V534.94H355.96V532.47H356.78V536.9H357.6V537.44H358.42V529.48H359.24V536.47H360.06V537.42H360.88V534.54H361.7V537.51H362.52V538.13H363.34V531.15H364.16V542.65H364.98V532.67H365.8V542.01H366.62V519.29H367.44V537.4H368.25V538.35H369.07V531.35H369.89V540.31H370.71V532.45H371.53V530.89H372.35V531.57H373.17V531.57H373.99V529.38H374.81V500.29H375.63V536.17H376.45V538.26H377.27V539.11H378.09V529.11H378.91V533.48H379.73V533.41H380.55V532.09H381.37V543.34H382.19V530.03H383V522.59H383.82V527.12H384.64V544.38H385.46V514.73H386.28V541.21H387.1V535.02H387.92V524.38H388.74V546.94H389.56V531.75H390.38V532.78H391.2V523.79H392.02V537.33H392.84V530.36H393.66V525.45H394.48V528.85H395.3V532.89H396.12V540.39H396.93V532.72H397.75V535.29H398.57V539.08H399.39V525.84H400.21V523.03H401.03V517.21H401.85V529.87H402.67V539.46H403.49V510.92H404.31V538.17H405.13V510.39H405.95V536.16H406.77V526.8H407.59V543.63H408.41V540.4H409.23V500.34H410.05V528.81H410.87V545.7H411.68V540.57H412.5V527.37H413.32V540.62H414.14V541.86H414.96V521.95H415.78V521.16H416.6V539.95H417.42V539.21H418.24V533.87H419.06V538.11H419.88V537.04H420.7V535.91H421.52V529.02H422.34V541.17H423.16V536.61H423.98V535.2H424.8V538.38H425.61V539.39H426.43V533.34H427.25V533.53H428.07V537.85H428.89V541.73H429.71V536.67H430.53V536.94H431.35V538.47H432.17V533.46H432.99V528.91H433.81V532.01H434.63V526.42H435.45V531.35H436.27V544.24H437.09V535.4H437.91V531.93H438.73V531.25H439.55V526.44H440.36V533.73H441.18V540.95H442V539.02H442.82V538.83H443.64V538.95H444.46V522.42H445.28V542.14H446.1V532.48H446.92V532.18H447.74V540.05H448.56V523.42H449.38V544.89H450.2V542.01H451.02V509.48H451.84V525.28H452.66V535.81H453.48V536.06H454.29V537.16H455.11V539.82H455.93V541.93H456.75V523.56H457.57V540.18H458.39V511.17H459.21V535.33H460.03V535.88H460.85V539.17H461.67V534.09H462.49V541.53H463.31V508H464.13V544.08H464.95V524.42H465.77V542.24H466.59V540.42H467.41V534.48H468.23V513.33H469.04V527.77H469.86V520.44H470.68V537H471.5V535.56H472.32V528.11H473.14V539.95H473.96V542.25H474.78V539.53H475.6V542.05H476.42V540.97H477.24V544.6H478.06V517.1H478.88V535.2H479.7V538.88H480.52V538.24H481.34V534.87H482.16V540.65H482.97V525.06H483.79V542.68H484.61V540.83H485.43V541.49H486.25V540.86H487.07V538.6H487.89V545.81H488.71V544.45H489.53V543.04H490.35V544.95H491.17V531.99H491.99V538.66H492.81V546.39H493.63V530.71H494.45V525.7H495.27V535.48H496.09V523.6H496.91V534.49H497.72V543.77H498.54V546.04H499.36V543.83H500.18V540.64H501V546.46H501.82V545.07H502.64V542.33H503.46V541.73H504.28V537.41H505.1V540.57H505.92V532.6H506.74V536.68H507.56V539.58H508.38V545.6H509.2V528.76H510.02V531.27H510.84V544.68H511.65V541.04H512.47V542.93H513.29V543.89H514.11V539.33H514.93V542.79H515.75V537.29H516.57V539.57H517.39V524.61H518.21V532.54H519.03V537.97H519.85V531.42H520.67V526.32H521.49V543.47H522.31V522.57H523.13V541.78H523.95V532.45H524.77V530.97H525.59V546.04H526.4V547.95H527.22V537.38H528.04V535.32H528.86V545.03H529.68V543.67H530.5V545.81H531.32V539.81H532.14V520.68H532.96V539.05H533.78V531.68H534.6V542.47H535.42V542.42H536.24V544.25H537.06V543.15H537.88V542.61H538.7V543.61H539.52V537.24H540.33V542.42H541.15V525.46H541.97V539.82H542.79V547.38H543.61V537.35H544.43V539.67H545.25V536.37H546.07V528.83H546.89V538.53H547.71V529.79H548.53V539.76H549.35V535.68H550.17V541.14H550.99V547.86H551.81V544.54H552.63V542.19H553.45V541.99H554.27V526.9H555.08V541.38H555.9V528.97H556.72V544.88H557.54V537.6H558.36V541.69H559.18V545.23H560V542.87H560.82V542.38H561.64V544.68H562.46V541.6H563.28V546.59H564.1V544.48H564.92V544.2H565.74V543.43H566.56V544.16H567.38V514.82H568.2V545.67H569.01V539.73H569.83V532.04H570.65V541.21H571.47V538.05H572.29V547.68H573.11V534.89H573.93V541.51H574.75V547.68H575.57V545.64H576.39V536.16H577.21V542.15H578.03V546.78H578.85V544.97H579.67V545.86H580.49V542.85H581.31V543.99H582.13V526.5H582.95V543.16H583.76V545.29H584.58V537.98H585.4V543.77H586.22V547.83H587.04V537.49H587.86V544.36H588.68V536.95H589.5V539.13H590.32V544.11H591.14V539.41H591.96V534.47H592.78V546.29H593.6V546.42H594.42V545.45H595.24V543.28H596.06V535.86H596.88V541.45H597.69V536.09H598.51V543.26H599.33V545.17H600.15V548.3H600.97V545.99H601.79V543.49H602.61V536.35H603.43V542.26H604.25V545.57H605.07V520H605.89V549.2H606.71V544.31H607.53V539.65H608.35V547.89H609.17V522.48H609.99V534.83H610.81V540.63H611.63V548.3H612.44V547.89H613.26V548.49H614.08V543.71H614.9V543.38H615.72V538.2H616.54V547.03H617.36V547.32H618.18V535.57H619V551.85H618.18V551.85H617.36V551.85H616.54V551.85H615.72V550.79H614.9V551.41H614.08V551.67H613.26V550.18H612.44V551.53H611.63V542.76H610.81V548.52H609.99V536.75H609.17V550.13H608.35V550.84H607.53V550.32H606.71V551.09H605.89V532.08H605.07V550.74H604.25V551.12H603.43V550.84H602.61V549.7H601.79V550.57H600.97V550.53H600.15V547.58H599.33V547.89H598.51V537.23H597.69V548.69H596.88V548.9H596.06V548.83H595.24V550.24H594.42V550.1H593.6V549.75H592.78V538.75H591.96V551.11H591.14V547.62H590.32V549.88H589.5V548.81H588.68V550.01H587.86V549.5H587.04V550.2H586.22V548.69H585.4V548.63H584.58V548.55H583.76V549.46H582.95V550.39H582.13V550.62H581.31V548.82H580.49V549.18H579.67V548.22H578.85V549.93H578.03V548.28H577.21V549.26H576.39V550.69H575.57V550.57H574.75V549.58H573.93V548.16H573.11V550.74H572.29V542.1H571.47V549.79H570.65V547.23H569.83V546.05H569.01V549.09H568.2V545.55H567.38V548.39H566.56V547.91H565.74V548.63H564.92V549.57H564.1V550.57H563.28V546.42H562.46V548.83H561.64V548.62H560.82V548.16H560V548.16H559.18V548.59H558.36V545.77H557.54V548.6H556.72V548.79H555.9V546.21H555.08V547.92H554.27V549.4H553.45V544.16H552.63V548.33H551.81V549.9H550.99V549.09H550.17V546.3H549.35V550.21H548.53V544.71H547.71V548.08H546.89V548.26H546.07V546.35H545.25V550.31H544.43V548.18H543.61V548.87H542.79V548.36H541.97V544.12H541.15V548.86H540.33V545.73H539.52V547.74H538.7V544.92H537.88V544.57H537.06V548.42H536.24V547.24H535.42V546.39H534.6V542.82H533.78V545.09H532.96V545.81H532.14V549.37H531.32V550.06H530.5V548.63H529.68V547.79H528.86V545.28H528.04V547.55H527.22V549.79H526.4V549.28H525.59V544.93H524.77V543.67H523.95V549.57H523.13V528.5H522.31V545.96H521.49V537.65H520.67V534.21H519.85V548.44H519.03V544.95H518.21V547.27H517.39V547.51H516.57V548.37H515.75V546.87H514.93V546.2H514.11V549.25H513.29V544.86H512.47V544.73H511.65V547.94H510.84V540.58H510.02V547.15H509.2V547.27H508.38V548.17H507.56V539.49H506.74V545.97H505.92V547.15H505.1V546.72H504.28V546.98H503.46V544.42H502.64V548.7H501.82V548.38H501V544.45H500.18V549H499.36V548.56H498.54V546.84H497.72V545.16H496.91V527.18H496.09V542.14H495.27V543.77H494.45V545.72H493.63V548.56H492.81V547.32H491.99V538.99H491.17V549.49H490.35V549.32H489.53V547.86H488.71V548.68H487.89V545.8H487.07V546.24H486.25V549.04H485.43V546.79H484.61V545.49H483.79V544.66H482.97V548.18H482.16V546.2H481.34V543.97H480.52V542.14H479.7V545.88H478.88V541.6H478.06V547.04H477.24V547.92H476.42V547.33H475.6V544.3H474.78V547.7H473.96V543.02H473.14V530.64H472.32V539.26H471.5V541.52H470.68V532.6H469.86V531.03H469.04V546.93H468.23V540.73H467.41V544.5H466.59V546.65H465.77V533.66H464.95V546.22H464.13V523.21H463.31V546.4H462.49V542.35H461.67V545.68H460.85V545.53H460.03V542.05H459.21V521.47H458.39V543.03H457.57V539.61H456.75V543.64H455.93V544.23H455.11V546.64H454.29V545.81H453.48V543.64H452.66V541.7H451.84V537.2H451.02V548.71H450.2V547.23H449.38V524.7H448.56V543.78H447.74V534.52H446.92V545.53H446.1V546.26H445.28V536.95H444.46V543.65H443.64V544.9H442.82V543.43H442V544H441.18V535.5H440.36V541.74H439.55V541.81H438.73V537.12H437.91V544.09H437.09V546.8H436.27V537.34H435.45V534.05H434.63V537.06H433.81V535.72H432.99V540.47H432.17V542.37H431.35V543.14H430.53V544.23H429.71V544.75H428.89V542.8H428.07V546.58H427.25V544.91H426.43V546.13H425.61V542.51H424.8V543.17H423.98V542.01H423.16V543.79H422.34V532.55H421.52V542.86H420.7V543.56H419.88V545.28H419.06V543.28H418.24V542.47H417.42V546.94H416.6V538.68H415.78V536.3H414.96V543.4H414.14V547.08H413.32V540.73H412.5V542.47H411.68V549.25H410.87V542.22H410.05V539.17H409.23V543.68H408.41V547.59H407.59V545.31H406.77V544.54H405.95V543.68H405.13V540.36H404.31V545.08H403.49V542.99H402.67V546.68H401.85V538.57H401.03V536.64H400.21V528.91H399.39V544.78H398.57V538.23H397.75V539.93H396.93V542.75H396.12V541.26H395.3V543.81H394.48V535.96H393.66V541.49H392.84V541.34H392.02V537.42H391.2V543.21H390.38V537.16H389.56V548.06H388.74V543.32H387.92V541.07H387.1V548.85H386.28V519.17H385.46V546.53H384.64V543.04H383.82V543.76H383V532.19H382.19V544.73H381.37V545.45H380.55V536.48H379.73V542.16H378.91V540.18H378.09V541.79H377.27V540.29H376.45V543.78H375.63V547.69H374.81V538.47H373.99V538.25H373.17V540.34H372.35V533.53H371.53V544.79H370.71V542.8H369.89V540.14H369.07V542.15H368.25V543.61H367.44V544.11H366.62V543.97H365.8V540.89H364.98V546.4H364.16V533.66H363.34V543.55H362.52V543.72H361.7V543.24H360.88V542.09H360.06V544.95H359.24V537.8H358.42V541.16H357.6V539.23H356.78V537.56H355.96V538.23H355.14V539.77H354.32V542.43H353.51V535.94H352.69V540.7H351.87V546.4H351.05V529.05H350.23V540.76H349.41V545.65H348.59V542.8H347.77V535.4H346.95V543.2H346.13V541.37H345.31V520.37H344.49V544.08H343.67V536.06H342.85V540.49H342.03V542.37H341.21V543H340.39V539.24H339.57V536.22H338.76V532.15H337.94V540.56H337.12V521.87H336.3V540.21H335.48V540.29H334.66V541.39H333.84V540.1H333.02V535.7H332.2V542.51H331.38V545.05H330.56V534.91H329.74V543.61H328.92V536.31H328.1V543.47H327.28V536.89H326.46V518.62H325.64V542.47H324.83V537.51H324.01V546.33H323.19V538.99H322.37V531.36H321.55V539.88H320.73V539.24H319.91V527.44H319.09V541.7H318.27V537.59H317.45V537.64H316.63V532.69H315.81V526.99H314.99V542.93H314.17V538.55H313.35V539.22H312.53V544.27H311.71V531.74H310.89V539.51H310.08V534.83H309.26V539.3H308.44V542.09H307.62V542.94H306.8V528.56H305.98V540.32H305.16V542.92H304.34V536.96H303.52V537.95H302.7V533.15H301.88V538.43H301.06V535.38H300.24V544.73H299.42V543.08H298.6V528.75H297.78V538.46H296.96V542.94H296.15V538.54H295.33V525.99H294.51V545.41H293.69V535.25H292.87V539.64H292.05V520.01H291.23V531.29H290.41V542.58H289.59V538.58H288.77V536.05H287.95V534.17H287.13V536.32H286.31V539.72H285.49V541.95H284.67V537.19H283.85V536.87H283.03V540.55H282.21V538.87H281.4V536.76H280.58V534.9H279.76V526H278.94V538.38H278.12V533.61H277.3V540.6H276.48V533.12H275.66V524.9H274.84V543.27H274.02V517.94H273.2V531.55H272.38V540.19H271.56V539.76H270.74V543.84H269.92V529.02H269.1V538.35H268.28V514.47H267.47V534.19H266.65V543.35H265.83V533.87H265.01V539.49H264.19V538.48H263.37V535.46H262.55V535.13H261.73V536.61H260.91V537.84H260.09V542.52H259.27V538.27H258.45V532.14H257.63V532.42H256.81V536.19H255.99V523.36H255.17V540.15H254.35V538.73H253.53V532.65H252.72V532.24H251.9V540.18H251.08V536.31H250.26V537.21H249.44V537.8H248.62V528.94H247.8V521.59H246.98V541.72H246.16V536.26H245.34V530.31H244.52V530.6H243.7V530.91H242.88V534.44H242.06V529.39H241.24V539.48H240.42V535.97H239.6V544.95H238.79V544.14H237.97V527.93H237.15V535.51H236.33V542.38H235.51V530.83H234.69V518.61H233.87V529.94H233.05V537.08H232.23V536.79H231.41V536.32H230.59V534.42H229.77V539.79H228.95V533.83H228.13V535.22H227.31V533.1H226.49V532.48H225.67V537.52H224.85V531.56H224.04V541.99H223.22V537.2H222.4V535.96H221.58V524.61H220.76V537.73H219.94V539.45H219.12V530.15H218.3V534.04H217.48V527.46H216.66V535.48H215.84V508.05H215.02V534.02H214.2V545.34H213.38V532.76H212.56V524.98H211.74V532.82H210.92V530.41H210.11V542.93H209.29V546.42H208.47V539.79H207.65V540.87H206.83V535.82H206.01V540.18H205.19V530.85H204.37V539.76H203.55V526.8H202.73V539.11H201.91V529.59H201.09V544.83H200.27V540.79H199.45V529.85H198.63V498.38H197.81V531.6H196.99V535.49H196.17V538.36H195.36V529.92H194.54V542.12H193.72V529.53H192.9V533.29H192.08V519.88H191.26V533.41H190.44V539.37H189.62V506.08H188.8V528.87H187.98V536.39H187.16V528.64H186.34V535.83H185.52V531.91H184.7V539.38H183.88V534.13H183.06V526.8H182.24V518.74H181.43V537.51H180.61V540.02H179.79V537.55H178.97V541.2H178.15V543.16H177.33V534.36H176.51V533.09H175.69V513H174.87V539.74H174.05V536.64H173.23V527.39H172.41V533.05H171.59V539.73H170.77V526.27H169.95V533.55H169.13V532.09H168.31V534.75H167.49V522.96H166.68V519.46H165.86V528.76H165.04V514.64H164.22V520.31H163.4V534.83H162.58V517.08H161.76V525.3H160.94V532.9H160.12V539.78H159.3V514.91H158.48V532.81H157.66V524.23H156.84V534.87H156.02V534.54H155.2V537.6H154.38V533.65H153.56V540.93H152.75V510.89H151.93V520.44H151.11V527.38H150.29V533.83H149.47V534.56H148.65V520.21H147.83V514.96H147.01V528.76H146.19V536.22H145.37V518.45H144.55V537.51H143.73V534.07H142.91V535.66H142.09V533.84H141.27V527.4H140.45V528.45H139.63V537.11H138.81V522.87H138V526.02H137.18V531.16H136.36V525.97H135.54V533.82H134.72V534.2H133.9V526.62H133.08V527.23H132.26V531.21H131.44V540.64H130.62V534.21H129.8V514.78H128.98V536.33H128.16V536.62H127.34V518.5H126.52V538.09H125.7V531.99H124.88V538.29H124.07V526.84H123.25V527.14H122.43V538.2H121.61V534.69H120.79V527.37H119.97V520.89H119.15V534.57H118.33V533.41H117.51V524.71H116.69V512.62H115.87V509.26H115.05V526.61H114.23V531.85H113.41V522.85H112.59V524.81H111.77V518.96H110.95V498.38H110.13V520.21H109.32V540.37H108.5V537.53H107.68V531.18H106.86V514.72H106.04V538.76H105.22V530.76H104.4V524.98H103.58V526.74H102.76V516.91H101.94V530H101.12V529.23H100.3V525.64H99.48V529.54H98.66V529.16H97.84V512.99H97.02V529.78H96.2V510.21H95.39V527.64H94.57V516.81H93.75V525.27H92.93V516.24H92.11V531.03H91.29V515.36H90.47V509.67H89.65V513.55H88.83V531.5H88.01V519.09H87.19V509.03H86.37V513.51H85.55V498.38H84.73V518.09H83.91V530.27H83.09V518.47H82.27V526.86H81.45V534.71H80.64V539.64H79.82V509.54H79V525.52H78.18V529.22H77.36V509.23H76.54V521.04H75.72V534.19H74.9V525.39H74.08V522.83H73.26V534.49H72.44V510.02H71.62V516.71H70.8V528.44H69.98V506.73H69.16V528.04H68.34V508.67H67.52V513.18H66.71V526.06H65.89V530.74H65.07V530.46H64.25V518.13H63.43V517.29H62.61V526.98H61.79V519.43H60.97V509.58H60.15V512.33H59.33V525.77H58.51V533.58H57.69V520.68H56.87V512.33H56.05V541.49H55.23V512.62H54.41V510.64H53.59V512.46H52.77V498.38H51.96V524.49H51.14V515.58H50.32V511.96H49.5V536.03H48.68V522.53H47.86V533.06H47.04V530.02H46.22V504.08H45.4Z"/>
<path fill="#1f78b4" d="M45.4 495.5V495.5H46.22V503.16H47.04V524.56H47.86V504.45H48.68V533.93H49.5V510.09H50.32V508.95H51.14V505.43H51.96V495.5H52.77V507.3H53.59V504.93H54.41V509.13H55.23V531.81H56.05V508.73H56.87V515.47H57.69V524.09H58.51V518.79H59.33V504.63H60.15V495.5H60.97V515.23H61.79V522.85H62.61V511.47H63.43V512.79H64.25V528.15H65.07V523.29H65.89V517.95H66.71V504.05H67.52V506.33H68.34V508.35H69.16V500.25H69.98V513.54H70.8V512.71H71.62V506.02H72.44V528.83H73.26V516.44H74.08V518.43H74.9V518.72H75.72V517.18H76.54V507.25H77.36V498H78.18V520.19H79V495.5H79.82V533.12H80.64V524.65H81.45V523.33H82.27V510.61H83.09V527.08H83.91V513.08H84.73V495.5H85.55V505.75H86.37V506.93H87.19V512.2H88.01V502.16H88.83V507.26H89.65V500.47H90.47V508.59H91.29V523.46H92.11V510.31H92.93V518.57H93.75V502.88H94.57V521.21H95.39V500.02H96.2V523.14H97.02V499.48H97.84V526.83H98.66V524.95H99.48V521.1H100.3V525.59H101.12V524.68H101.94V509.03H102.76V523.14H103.58V521.9H104.4V510.94H105.22V536.25H106.04V503.58H106.86V527.77H107.68V532.05H108.5V535.83H109.32V513.24H110.13V495.5H110.95V515.95H111.77V523.03H112.59V514.61H113.41V517.15H114.23V501.22H115.05V507.16H115.87V504.32H116.69V512.97H117.51V523.57H118.33V530H119.15V518.94H119.97V514.53H120.79V529.86H121.61V520.4H122.43V524.84H123.25V509.77H124.07V528.61H124.88V528.89H125.7V525.81H126.52V513.09H127.34V531.14H128.16V518.03H128.98V503.87H129.8V528.16H130.62V532.76H131.44V528.88H132.26V524.34H133.08V521.14H133.9V527.27H134.72V496.51H135.54V516.84H136.36V523.97H137.18V518.31H138V506.78H138.81V532.82H139.63V516.34H140.45V524.93H141.27V523.91H142.09V532.44H142.91V516.25H143.73V523.92H144.55V510.04H145.37V530.4H146.19V520.54H147.01V504.98H147.83V518.62H148.65V532.05H149.47V530.73H150.29V522.42H151.11V514.96H151.93V502.92H152.75V530.13H153.56V528.4H154.38V524.35H155.2V529.88H156.02V524.97H156.84V518.37H157.66V526.57H158.48V510.48H159.3V525.79H160.12V526.51H160.94V504.23H161.76V514.09H162.58V526.05H163.4V507.25H164.22V501.04H165.04V524.85H165.86V515.55H166.68V521.42H167.49V532.22H168.31V511.37H169.13V522.95H169.95V522.99H170.77V528.29H171.59V524.15H172.41V522.9H173.23V531.55H174.05V528.41H174.87V512.45H175.69V524.1H176.51V524.3H177.33V538H178.15V531.44H178.97V533.77H179.79V535.21H180.61V530H181.43V495.5H182.24V523.61H183.06V529.47H183.88V525.94H184.7V524.23H185.52V525.4H186.34V523.83H187.16V531.44H187.98V525.19H188.8V502.77H189.62V535.29H190.44V530.24H191.26V516.01H192.08V520.19H192.9V526.24H193.72V516.6H194.54V525.76H195.36V528.9H196.17V524.26H196.99V511.44H197.81V495.5H198.63V518.43H199.45V537.74H200.27V537.52H201.09V528.1H201.91V517.38H202.73V495.5H203.55V533.11H204.37V529.21H205.19V535.98H206.01V527.04H206.83V528.84H207.65V530.83H208.47V544.86H209.29V539.99H210.11V523.76H210.92V529.26H211.74V519.43H212.56V524.28H213.38V537.63H214.2V527.95H215.02V503.9H215.84V529H216.66V524.94H217.48V528.9H218.3V521.95H219.12V533.38H219.94V530.87H220.76V520.57H221.58V527.73H222.4V526.98H223.22V524.96H224.04V519.96H224.85V532.7H225.67V528.13H226.49V524.97H227.31V531.4H228.13V498.68H228.95V536.88H229.77V528.44H230.59V527.21H231.41V504.57H232.23V533.57H233.05V526.81H233.87V498.5H234.69V527.25H235.51V519.83H236.33V529.65H237.15V523.1H237.97V539.46H238.79V534.9H239.6V523.24H240.42V526.46H241.24V523.29H242.06V529.37H242.88V511.16H243.7V522.43H244.52V521.5H245.34V529.49H246.16V535.28H246.98V495.5H247.8V525.6H248.62V530.69H249.44V526.48H250.26V534.69H251.08V536.5H251.9V522.05H252.72V520.83H253.53V531.06H254.35V527.92H255.17V497.59H255.99V513.86H256.81V525.93H257.63V527.69H258.45V531.79H259.27V532.58H260.09V535.95H260.91V525.09H261.73V530.74H262.55V528.11H263.37V536.47H264.19V535.22H265.01V528.17H265.83V536.15H266.65V531.2H267.47V511.46H268.28V526.15H269.1V522.66H269.92V541.93H270.74V528.25H271.56V537.42H272.38V528.9H273.2V514.61H274.02V540.35H274.84V523H275.66V529.31H276.48V538.53H277.3V532.25H278.12V526.57H278.94V520.81H279.76V529.16H280.58V524.14H281.4V534.61H282.21V525.94H283.03V516.47H283.85V510.14H284.67V538.51H285.49V535.94H286.31V526.3H287.13V532.01H287.95V523.13H288.77V536.71H289.59V535.87H290.41V526.06H291.23V510.56H292.05V533.57H292.87V529.67H293.69V538.08H294.51V523.65H295.33V533.4H296.15V539.39H296.96V532.82H297.78V523.81H298.6V539.93H299.42V543.09H300.24V529.52H301.06V517.15H301.88V495.5H302.7V531.28H303.52V534.71H304.34V539.18H305.16V516.41H305.98V522.78H306.8V537.61H307.62V537.78H308.44V500.06H309.26V530.56H310.08V533.52H310.89V521.4H311.71V536.33H312.53V524.83H313.35V495.5H314.17V529.05H314.99V524.24H315.81V521.07H316.63V524.48H317.45V530.37H318.27V539.38H319.09V522.74H319.91V533.18H320.73V534.24H321.55V527.91H322.37V534.59H323.19V532.36H324.01V524.08H324.83V539.57H325.64V513.71H326.46V529.63H327.28V524.08H328.1V530.24H328.92V539.42H329.74V527.81H330.56V537.41H331.38V524.78H332.2V528.49H333.02V536.76H333.84V538.29H334.66V530.17H335.48V519.25H336.3V511.57H337.12V535.98H337.94V517.92H338.76V532.04H339.57V527.4H340.39V513.97H341.21V538.57H342.03V535.11H342.85V529.8H343.67V536.25H344.49V515.44H345.31V519.34H346.13V539.11H346.95V525.63H347.77V538.43H348.59V540.22H349.41V522.93H350.23V508.85H351.05V538.21H351.87V521.86H352.69V522.76H353.51V536.39H354.32V530.91H355.14V532.87H355.96V532.47H356.78V536.9H357.6V537.44H358.42V529.48H359.24V536.14H360.06V535.39H360.88V534.54H361.7V537.51H362.52V538.13H363.34V531.15H364.16V540.44H364.98V532.67H365.8V542.01H366.62V517.76H367.44V537.4H368.25V538.35H369.07V529.84H369.89V540.31H370.71V532.45H371.53V530.89H372.35V531.57H373.17V531.57H373.99V529.38H374.81V500.29H375.63V536.17H376.45V538.26H377.27V539.11H378.09V529.11H378.91V533.48H379.73V531.49H380.55V532.09H381.37V543.34H382.19V528.62H383V522.08H383.82V526.77H384.64V544.38H385.46V514.73H386.28V541.21H387.1V535.02H387.92V524.38H388.74V546.94H389.56V531.16H390.38V532.78H391.2V522.66H392.02V536.12H392.84V530.36H393.66V525.45H394.48V528.85H395.3V532.89H396.12V538.13H396.93V530.99H397.75V533.57H398.57V539.08H399.39V525.84H400.21V523.03H401.03V515.14H401.85V527.81H402.67V539.46H403.49V510.92H404.31V536.67H405.13V510.39H405.95V536.16H406.77V526.8H407.59V541.68H408.41V540.4H409.23V500.34H410.05V526.91H410.87V545.7H411.68V540.57H412.5V525.83H413.32V540.62H414.14V541.86H414.96V521.95H415.78V521.16H416.6V539.95H417.42V539.21H418.24V533.87H419.06V538.11H419.88V536.27H420.7V535.91H421.52V528.57H422.34V541.17H423.16V536.61H423.98V535.2H424.8V537.13H425.61V539.39H426.43V533.34H427.25V532.03H428.07V537.85H428.89V541.73H429.71V534.79H430.53V536.94H431.35V538.47H432.17V533.46H432.99V528.91H433.81V530.73H434.63V526.42H435.45V530.31H436.27V543.13H437.09V533.81H437.91V531.93H438.73V530.63H439.55V524.92H440.36V533.73H441.18V539.17H442V537.3H442.82V538.83H443.64V538.1H444.46V522.42H445.28V542.14H446.1V532.48H446.92V532.18H447.74V539.58H448.56V521.81H449.38V544.89H450.2V540.98H451.02V509.48H451.84V523.31H452.66V535.37H453.48V536.06H454.29V537.16H455.11V538.03H455.93V541.93H456.75V523.56H457.57V539.11H458.39V511.17H459.21V533.64H460.03V535.88H460.85V538.87H461.67V534.09H462.49V540.7H463.31V508H464.13V544.08H464.95V524.42H465.77V542.24H466.59V540.42H467.41V534.48H468.23V513.33H469.04V527.77H469.86V518.77H470.68V537H471.5V535.56H472.32V526.27H473.14V539.95H473.96V542.25H474.78V538.41H475.6V542.05H476.42V540.97H477.24V544.6H478.06V516.71H478.88V535.2H479.7V538.88H480.52V538.24H481.34V532.88H482.16V538.65H482.97V525.06H483.79V542.68H484.61V540.83H485.43V541.49H486.25V540.86H487.07V536.73H487.89V545.09H488.71V543.83H489.53V543.04H490.35V544.95H491.17V531.99H491.99V538.66H492.81V546.39H493.63V529.77H494.45V525.7H495.27V535.48H496.09V521.93H496.91V533.29H497.72V543.77H498.54V546.04H499.36V542.3H500.18V539.97H501V546.46H501.82V545.07H502.64V541.04H503.46V541.73H504.28V535.86H505.1V539.91H505.92V532.6H506.74V534.99H507.56V539.58H508.38V545.6H509.2V528.76H510.02V529.3H510.84V544.68H511.65V539.75H512.47V541.2H513.29V543.22H514.11V539.33H514.93V540.7H515.75V536.26H516.57V538.84H517.39V522.59H518.21V530.25H519.03V537.97H519.85V531.42H520.67V526.32H521.49V543.47H522.31V522.57H523.13V541.78H523.95V530.3H524.77V530.97H525.59V546.04H526.4V547.95H527.22V536.17H528.04V535.32H528.86V542.77H529.68V543.67H530.5V545.81H531.32V539.43H532.14V520.68H532.96V537.57H533.78V531.68H534.6V540.21H535.42V542.42H536.24V543.59H537.06V543.15H537.88V542.61H538.7V543.61H539.52V537.24H540.33V541.5H541.15V524.87H541.97V539.82H542.79V547.38H543.61V536.38H544.43V539.67H545.25V536.37H546.07V528.83H546.89V536.48H547.71V529.79H548.53V539.76H549.35V535.68H550.17V541.14H550.99V547.86H551.81V544.54H552.63V542.19H553.45V539.79H554.27V525.11H555.08V541.38H555.9V528.97H556.72V544.88H557.54V537.6H558.36V541.69H559.18V544.8H560V541.51H560.82V541.18H561.64V544.22H562.46V541.6H563.28V546.21H564.1V544.48H564.92V544.2H565.74V543.43H566.56V544.16H567.38V514.82H568.2V545.67H569.01V538.44H569.83V530.37H570.65V540.41H571.47V537.75H572.29V547.68H573.11V534.89H573.93V541.51H574.75V547.68H575.57V543.48H576.39V536.16H577.21V542.15H578.03V546.78H578.85V544.97H579.67V545.86H580.49V542.85H581.31V543.99H582.13V526.5H582.95V543.16H583.76V544.37H584.58V535.92H585.4V542.38H586.22V547.83H587.04V537.49H587.86V542.15H588.68V536.95H589.5V539.13H590.32V541.83H591.14V537.45H591.96V532.29H592.78V546.29H593.6V546.42H594.42V545.45H595.24V543.28H596.06V535.86H596.88V541.45H597.69V535.09H598.51V543.26H599.33V545.17H600.15V548.3H600.97V545.99H601.79V542.73H602.61V536.35H603.43V540.1H604.25V545.57H605.07V520H605.89V549.2H606.71V543.16H607.53V539.65H608.35V547.89H609.17V522.48H609.99V534.83H610.81V540.63H611.63V548.3H612.44V547.89H613.26V548.49H614.08V543.71H614.9V543.38H615.72V538.2H616.54V547.03H617.36V547.32H618.18V535.57H619V535.57H618.18V547.32H617.36V547.03H616.54V538.2H615.72V543.38H614.9V543.71H614.08V548.49H613.26V547.89H612.44V548.3H611.63V540.63H610.81V534.83H609.99V522.48H609.17V547.89H608.35V539.65H607.53V544.31H606.71V549.2H605.89V520H605.07V545.57H604.25V542.26H603.43V536.35H602.61V543.49H601.79V545.99H600.97V548.3H600.15V545.17H599.33V543.26H598.51V536.09H597.69V541.45H596.88V535.86H596.06V543.28H595.24V545.45H594.42V546.42H593.6V546.29H592.78V534.47H591.96V539.41H591.14V544.11H590.32V539.13H589.5V536.95H588.68V544.36H587.86V537.49H587.04V547.83H586.22V543.77H585.4V537.98H584.58V545.29H583.76V543.16H582.95V526.5H582.13V543.99H581.31V542.85H580.49V545.86H579.67V544.97H578.85V546.78H578.03V542.15H577.21V536.16H576.39V545.64H575.57V547.68H574.75V541.51H573.93V534.89H573.11V547.68H572.29V538.05H571.47V541.21H570.65V532.04H569.83V539.73H569.01V545.67H568.2V514.82H567.38V544.16H566.56V543.43H565.74V544.2H564.92V544.48H564.1V546.59H563.28V541.6H562.46V544.68H561.64V542.38H560.82V542.87H560V545.23H559.18V541.69H558.36V537.6H557.54V544.88H556.72V528.97H555.9V541.38H555.08V526.9H554.27V541.99H553.45V542.19H552.63V544.54H551.81V547.86H550.99V541.14H550.17V535.68H549.35V539.76H548.53V529.79H547.71V538.53H546.89V528.83H546.07V536.37H545.25V539.67H544.43V537.35H543.61V547.38H542.79V539.82H541.97V525.46H541.15V542.42H540.33V537.24H539.52V543.61H538.7V542.61H537.88V543.15H537.06V544.25H536.24V542.42H535.42V542.47H534.6V531.68H533.78V539.05H532.96V520.68H532.14V539.81H531.32V545.81H530.5V543.67H529.68V545.03H528.86V535.32H528.04V537.38H527.22V547.95H526.4V546.04H525.59V530.97H524.77V532.45H523.95V541.78H523.13V522.57H522.31V543.47H521.49V526.32H520.67V531.42H519.85V537.97H519.03V532.54H518.21V524.61H517.39V539.57H516.57V537.29H515.75V542.79H514.93V539.33H514.11V543.89H513.29V542.93H512.47V541.04H511.65V544.68H510.84V531.27H510.02V528.76H509.2V545.6H508.38V539.58H507.56V536.68H506.74V532.6H505.92V540.57H505.1V537.41H504.28V541.73H503.46V542.33H502.64V545.07H501.82V546.46H501V540.64H500.18V543.83H499.36V546.04H498.54V543.77H497.72V534.49H496.91V523.6H496.09V535.48H495.27V525.7H494.45V530.71H493.63V546.39H492.81V538.66H491.99V531.99H491.17V544.95H490.35V543.04H489.53V544.45H488.71V545.81H487.89V538.6H487.07V540.86H486.25V541.49H485.43V540.83H484.61V542.68H483.79V525.06H482.97V540.65H482.16V534.87H481.34V538.24H480.52V538.88H479.7V535.2H478.88V517.1H478.06V544.6H477.24V540.97H476.42V542.05H475.6V539.53H474.78V542.25H473.96V539.95H473.14V528.11H472.32V535.56H471.5V537H470.68V520.44H469.86V527.77H469.04V513.33H468.23V534.48H467.41V540.42H466.59V542.24H465.77V524.42H464.95V544.08H464.13V508H463.31V541.53H462.49V534.09H461.67V539.17H460.85V535.88H460.03V535.33H459.21V511.17H458.39V540.18H457.57V523.56H456.75V541.93H455.93V539.82H455.11V537.16H454.29V536.06H453.48V535.81H452.66V525.28H451.84V509.48H451.02V542.01H450.2V544.89H449.38V523.42H448.56V540.05H447.74V532.18H446.92V532.48H446.1V542.14H445.28V522.42H444.46V538.95H443.64V538.83H442.82V539.02H442V540.95H441.18V533.73H440.36V526.44H439.55V531.25H438.73V531.93H437.91V535.4H437.09V544.24H436.27V531.35H435.45V526.42H434.63V532.01H433.81V528.91H432.99V533.46H432.17V538.47H431.35V536.94H430.53V536.67H429.71V541.73H428.89V537.85H428.07V533.53H427.25V533.34H426.43V539.39H425.61V538.38H424.8V535.2H423.98V536.61H423.16V541.17H422.34V529.02H421.52V535.91H420.7V537.04H419.88V538.11H419.06V533.87H418.24V539.21H417.42V539.95H416.6V521.16H415.78V521.95H414.96V541.86H414.14V540.62H413.32V527.37H412.5V540.57H411.68V545.7H410.87V528.81H410.05V500.34H409.23V540.4H408.41V543.63H407.59V526.8H406.77V536.16H405.95V510.39H405.13V538.17H404.31V510.92H403.49V539.46H402.67V529.87H401.85V517.21H401.03V523.03H400.21V525.84H399.39V539.08H398.57V535.29H397.75V532.72H396.93V540.39H396.12V532.89H395.3V528.85H394.48V525.45H393.66V530.36H392.84V537.33H392.02V523.79H391.2V532.78H390.38V531.75H389.56V546.94H388.74V524.38H387.92V535.02H387.1V541.21H386.28V514.73H385.46V544.38H384.64V527.12H383.82V522.59H383V530.03H382.19V543.34H381.37V532.09H380.55V533.41H379.73V533.48H378.91V529.11H378.09V539.11H377.27V538.26H376.45V536.17H375.63V500.29H374.81V529.38H373.99V531.57H373.17V531.57H372.35V530.89H371.53V532.45H370.71V540.31H369.89V531.35H369.07V538.35H368.25V537.4H367.44V519.29H366.62V542.01H365.8V532.67H364.98V542.65H364.16V531.15H363.34V538.13H362.52V537.51H361.7V534.54H360.88V537.42H360.06V536.47H359.24V529.48H358.42V537.44H357.6V536.9H356.78V532.47H355.96V534.94H355.14V530.91H354.32V537.35H353.51V522.76H352.69V521.86H351.87V540.13H351.05V508.85H350.23V523.46H349.41V541.64H348.59V538.43H347.77V527.82H346.95V539.11H346.13V519.34H345.31V516.32H344.49V536.25H343.67V531.41H342.85V535.99H342.03V540.21H341.21V514.37H340.39V529.52H339.57V532.04H338.76V518.79H337.94V536.89H337.12V512.39H336.3V519.25H335.48V530.5H334.66V538.29H333.84V536.76H333.02V528.49H332.2V525.71H331.38V537.41H330.56V527.81H329.74V539.42H328.92V532.05H328.1V524.98H327.28V530.53H326.46V515.05H325.64V539.57H324.83V524.08H324.01V534.38H323.19V534.59H322.37V527.91H321.55V536.17H320.73V533.18H319.91V522.74H319.09V539.38H318.27V530.37H317.45V524.48H316.63V521.07H315.81V524.24H314.99V531.28H314.17V495.5H313.35V524.83H312.53V536.33H311.71V521.4H310.89V533.52H310.08V530.56H309.26V500.06H308.44V537.78H307.62V537.61H306.8V522.78H305.98V518.6H305.16V539.69H304.34V534.71H303.52V531.7H302.7V495.5H301.88V518.89H301.06V529.52H300.24V543.09H299.42V539.93H298.6V524.39H297.78V532.82H296.96V539.39H296.15V533.4H295.33V523.65H294.51V538.08H293.69V529.67H292.87V533.57H292.05V510.56H291.23V526.06H290.41V536.71H289.59V536.71H288.77V523.61H287.95V532.01H287.13V527.46H286.31V536.65H285.49V538.98H284.67V512.41H283.85V517.4H283.03V525.94H282.21V536.13H281.4V525H280.58V530.06H279.76V520.81H278.94V526.57H278.12V532.25H277.3V539.04H276.48V529.31H275.66V523H274.84V540.35H274.02V514.61H273.2V528.9H272.38V537.42H271.56V528.25H270.74V541.93H269.92V522.66H269.1V526.15H268.28V511.46H267.47V531.85H266.65V536.15H265.83V528.17H265.01V535.22H264.19V536.47H263.37V528.11H262.55V530.74H261.73V527.09H260.91V535.95H260.09V534.63H259.27V532.94H258.45V527.69H257.63V525.93H256.81V513.86H255.99V497.59H255.17V528.77H254.35V531.06H253.53V520.83H252.72V522.05H251.9V536.5H251.08V534.69H250.26V526.48H249.44V530.69H248.62V525.6H247.8V495.5H246.98V535.28H246.16V530.57H245.34V522.3H244.52V522.43H243.7V513.27H242.88V529.37H242.06V523.29H241.24V526.46H240.42V523.71H239.6V534.9H238.79V539.46H237.97V523.1H237.15V529.65H236.33V519.83H235.51V528.11H234.69V498.5H233.87V528.71H233.05V533.9H232.23V504.57H231.41V527.21H230.59V528.44H229.77V536.88H228.95V498.68H228.13V531.81H227.31V524.97H226.49V528.13H225.67V533.5H224.85V519.96H224.04V524.96H223.22V526.98H222.4V527.73H221.58V520.57H220.76V530.87H219.94V533.38H219.12V521.95H218.3V531.11H217.48V524.94H216.66V529.9H215.84V503.9H215.02V530.04H214.2V537.63H213.38V524.28H212.56V520.72H211.74V529.26H210.92V523.76H210.11V540.59H209.29V544.86H208.47V530.83H207.65V528.84H206.83V527.04H206.01V535.98H205.19V529.21H204.37V533.11H203.55V495.5H202.73V517.38H201.91V528.1H201.09V537.52H200.27V537.74H199.45V518.43H198.63V495.5H197.81V511.44H196.99V524.26H196.17V529.2H195.36V525.76H194.54V516.6H193.72V526.24H192.9V522.32H192.08V518.17H191.26V530.24H190.44V536.7H189.62V502.77H188.8V525.97H187.98V532.98H187.16V525.3H186.34V527.03H185.52V525.3H184.7V525.94H183.88V531.08H183.06V523.61H182.24V495.5H181.43V530H180.61V536.34H179.79V533.77H178.97V533.47H178.15V538H177.33V524.3H176.51V524.1H175.69V512.45H174.87V528.41H174.05V533.47H173.23V522.9H172.41V524.15H171.59V528.29H170.77V522.99H169.95V523.81H169.13V512.16H168.31V532.22H167.49V521.42H166.68V515.55H165.86V524.85H165.04V501.04H164.22V507.25H163.4V526.82H162.58V514.09H161.76V504.23H160.94V526.51H160.12V526.43H159.3V510.48H158.48V526.57H157.66V518.37H156.84V524.97H156.02V529.88H155.2V524.35H154.38V529.41H153.56V531.23H152.75V502.92H151.93V516.64H151.11V524.3H150.29V531.43H149.47V532.05H148.65V519.2H147.83V507.14H147.01V520.54H146.19V530.98H145.37V510.04H144.55V523.92H143.73V516.25H142.91V532.44H142.09V524.64H141.27V526.09H140.45V517.08H139.63V533.34H138.81V506.78H138V518.31H137.18V523.97H136.36V516.84H135.54V497.65H134.72V527.27H133.9V521.51H133.08V524.34H132.26V528.88H131.44V534.7H130.62V528.16H129.8V503.87H128.98V518.03H128.16V531.14H127.34V513.09H126.52V526.6H125.7V528.89H124.88V529.33H124.07V509.77H123.25V524.84H122.43V521.93H121.61V530.83H120.79V516.48H119.97V519.42H119.15V530H118.33V523.57H117.51V512.97H116.69V504.32H115.87V507.93H115.05V501.22H114.23V519.11H113.41V515.97H112.59V523.03H111.77V516.98H110.95V495.5H110.13V514.6H109.32V535.83H108.5V532.05H107.68V527.77H106.86V503.58H106.04V536.25H105.22V510.94H104.4V521.9H103.58V523.14H102.76V509.03H101.94V526.86H101.12V525.59H100.3V521.1H99.48V524.95H98.66V526.83H97.84V499.48H97.02V524.46H96.2V500.02H95.39V521.21H94.57V504.03H93.75V519.73H92.93V510.31H92.11V523.46H91.29V509.52H90.47V500.47H89.65V507.26H88.83V502.16H88.01V512.2H87.19V506.93H86.37V507.97H85.55V497.16H84.73V513.08H83.91V527.08H83.09V512.72H82.27V523.33H81.45V525.44H80.64V533.5H79.82V495.5H79V520.19H78.18V498H77.36V507.25H76.54V517.18H75.72V518.72H74.9V518.43H74.08V516.44H73.26V528.83H72.44V508.32H71.62V514.69H70.8V515.44H69.98V501.11H69.16V508.35H68.34V506.33H67.52V504.05H66.71V517.95H65.89V523.68H65.07V528.15H64.25V514.8H63.43V512.93H62.61V524.2H61.79V516.23H60.97V495.5H60.15V505.14H59.33V518.79H58.51V524.73H57.69V515.47H56.87V508.73H56.05V532.99H55.23V509.13H54.41V504.93H53.59V507.3H52.77V495.5H51.96V505.43H51.14V510.55H50.32V510.52H49.5V533.93H48.68V504.45H47.86V524.56H47.04V503.16H46.22V495.5H45.4Z"/>
<rect x="45.4" y="563.9" width="573.6" height="14.9" fill="#0b0ba2"/>
<path fill="#5a5a64" d="M45.4 563.9h0.82v14.9h-0.82zM49.5 563.9h0.82v14.9h-0.82zM51.14 563.9h0.82v14.9h-0.82zM53.59 563.9h0.82v14.9h-0.82zM57.69 563.9h0.82v14.9h-0.82zM64.25 563.9h1.64v14.9h-1.64zM69.98 563.9h0.82v14.9h-0.82zM79.82 563.9h0.82v14.9h-0.82zM91.29 563.9h0.82v14.9h-0.82zM96.2 563.9h0.82v14.9h-0.82zM99.48 563.9h0.82v14.9h-0.82zM110.13 563.9h0.82v14.9h-0.82zM115.05 563.9h1.64v14.9h-1.64zM136.36 563.9h0.82v14.9h-0.82zM146.19 563.9h0.82v14.9h-0.82zM156.02 563.9h0.82v14.9h-0.82zM162.58 563.9h0.82v14.9h-0.82zM164.22 563.9h0.82v14.9h-0.82zM166.68 563.9h0.82v14.9h-0.82zM175.69 563.9h0.82v14.9h-0.82zM181.43 563.9h0.82v14.9h-0.82zM191.26 563.9h0.82v14.9h-0.82zM195.36 563.9h0.82v14.9h-0.82zM196.99 563.9h0.82v14.9h-0.82zM199.45 563.9h0.82v14.9h-0.82zM210.92 563.9h1.64v14.9h-1.64zM215.84 563.9h0.82v14.9h-0.82zM219.12 563.9h0.82v14.9h-0.82zM221.58 563.9h0.82v14.9h-0.82zM227.31 563.9h0.82v14.9h-0.82zM228.95 563.9h0.82v14.9h-0.82zM233.87 563.9h0.82v14.9h-0.82zM254.35 563.9h0.82v14.9h-0.82zM258.45 563.9h0.82v14.9h-0.82zM270.74 563.9h0.82v14.9h-0.82zM274.02 563.9h0.82v14.9h-0.82zM278.12 563.9h0.82v14.9h-0.82zM280.58 563.9h0.82v14.9h-0.82zM286.31 563.9h0.82v14.9h-0.82zM296.15 563.9h0.82v14.9h-0.82zM299.42 563.9h0.82v14.9h-0.82zM305.16 563.9h1.64v14.9h-1.64zM315.81 563.9h0.82v14.9h-0.82zM322.37 563.9h0.82v14.9h-0.82zM325.64 563.9h0.82v14.9h-0.82zM341.21 563.9h0.82v14.9h-0.82zM346.95 563.9h0.82v14.9h-0.82zM349.41 563.9h0.82v14.9h-0.82zM355.14 563.9h0.82v14.9h-0.82zM364.98 563.9h0.82v14.9h-0.82zM369.07 563.9h0.82v14.9h-0.82zM380.55 563.9h0.82v14.9h-0.82zM389.56 563.9h0.82v14.9h-0.82zM391.2 563.9h0.82v14.9h-0.82zM399.39 563.9h0.82v14.9h-0.82zM410.05 563.9h0.82v14.9h-0.82zM415.78 563.9h0.82v14.9h-0.82zM423.16 563.9h0.82v14.9h-0.82zM425.61 563.9h0.82v14.9h-0.82zM445.28 563.9h1.64v14.9h-1.64zM457.57 563.9h0.82v14.9h-0.82zM463.31 563.9h0.82v14.9h-0.82zM470.68 563.9h1.64v14.9h-1.64zM478.88 563.9h0.82v14.9h-0.82zM485.43 563.9h0.82v14.9h-0.82zM488.71 563.9h0.82v14.9h-0.82zM491.99 563.9h0.82v14.9h-0.82zM498.54 563.9h0.82v14.9h-0.82zM505.92 563.9h0.82v14.9h-0.82zM511.65 563.9h0.82v14.9h-0.82zM515.75 563.9h0.82v14.9h-0.82zM518.21 563.9h0.82v14.9h-0.82zM528.86 563.9h0.82v14.9h-0.82zM538.7 563.9h0.82v14.9h-0.82zM546.89 563.9h0.82v14.9h-0.82zM549.35 563.9h0.82v14.9h-0.82zM552.63 563.9h0.82v14.9h-0.82zM555.08 563.9h0.82v14.9h-0.82zM561.64 563.9h0.82v14.9h-0.82zM578.03 563.9h0.82v14.9h-0.82zM581.31 563.9h0.82v14.9h-0.82zM603.43 563.9h1.64v14.9h-1.64zM606.71 563.9h0.82v14.9h-0.82zM609.17 563.9h0.82v14.9h-0.82z"/>
<path fill="#ac0606" d="M47.86 563.9h1.64v14.9h-1.64zM81.45 563.9h0.82v14.9h-0.82zM84.73 563.9h0.82v14.9h-0.82zM88.01 563.9h0.82v14.9h-0.82zM89.65 563.9h0.82v14.9h-0.82zM92.11 563.9h1.64v14.9h-1.64zM94.57 563.9h0.82v14.9h-0.82zM97.02 563.9h2.46v14.9h-2.46zM100.3 563.9h0.82v14.9h-0.82zM104.4 563.9h0.82v14.9h-0.82zM109.32 563.9h0.82v14.9h-0.82zM111.77 563.9h0.82v14.9h-0.82zM114.23 563.9h0.82v14.9h-0.82zM119.97 563.9h1.64v14.9h-1.64zM126.52 563.9h0.82v14.9h-0.82zM128.16 563.9h2.46v14.9h-2.46zM131.44 563.9h1.64v14.9h-1.64zM134.72 563.9h0.82v14.9h-0.82zM139.63 563.9h0.82v14.9h-0.82zM145.37 563.9h0.82v14.9h-0.82zM148.65 563.9h1.64v14.9h-1.64zM155.2 563.9h0.82v14.9h-0.82zM172.41 563.9h0.82v14.9h-0.82zM176.51 563.9h2.46v14.9h-2.46zM184.7 563.9h0.82v14.9h-0.82zM187.98 563.9h3.28v14.9h-3.28zM192.9 563.9h1.64v14.9h-1.64zM201.91 563.9h0.82v14.9h-0.82zM204.37 563.9h1.64v14.9h-1.64zM207.65 563.9h0.82v14.9h-0.82zM209.29 563.9h1.64v14.9h-1.64zM213.38 563.9h0.82v14.9h-0.82zM220.76 563.9h0.82v14.9h-0.82zM224.04 563.9h0.82v14.9h-0.82zM225.67 563.9h1.64v14.9h-1.64zM229.77 563.9h0.82v14.9h-0.82zM233.05 563.9h0.82v14.9h-0.82zM235.51 563.9h0.82v14.9h-0.82zM237.15 563.9h0.82v14.9h-0.82zM239.6 563.9h0.82v14.9h-0.82zM242.88 563.9h0.82v14.9h-0.82zM246.98 563.9h0.82v14.9h-0.82zM249.44 563.9h0.82v14.9h-0.82zM251.08 563.9h0.82v14.9h-0.82zM256.81 563.9h0.82v14.9h-0.82zM260.09 563.9h1.64v14.9h-1.64zM262.55 563.9h0.82v14.9h-0.82zM266.65 563.9h0.82v14.9h-0.82zM269.92 563.9h0.82v14.9h-0.82zM271.56 563.9h2.46v14.9h-2.46zM278.94 563.9h0.82v14.9h-0.82zM283.03 563.9h1.64v14.9h-1.64zM287.13 563.9h0.82v14.9h-0.82zM293.69 563.9h0.82v14.9h-0.82zM303.52 563.9h0.82v14.9h-0.82zM310.08 563.9h0.82v14.9h-0.82zM316.63 563.9h1.64v14.9h-1.64zM321.55 563.9h0.82v14.9h-0.82zM323.19 563.9h0.82v14.9h-0.82zM328.1 563.9h0.82v14.9h-0.82zM329.74 563.9h1.64v14.9h-1.64zM338.76 563.9h0.82v14.9h-0.82zM340.39 563.9h0.82v14.9h-0.82zM342.03 563.9h0.82v14.9h-0.82zM346.13 563.9h0.82v14.9h-0.82zM350.23 563.9h0.82v14.9h-0.82zM351.87 563.9h1.64v14.9h-1.64zM356.78 563.9h0.82v14.9h-0.82zM358.42 563.9h1.64v14.9h-1.64zM360.88 563.9h1.64v14.9h-1.64zM365.8 563.9h0.82v14.9h-0.82zM369.89 563.9h2.46v14.9h-2.46zM373.17 563.9h0.82v14.9h-0.82zM374.81 563.9h0.82v14.9h-0.82zM378.09 563.9h0.82v14.9h-0.82zM385.46 563.9h0.82v14.9h-0.82zM388.74 563.9h0.82v14.9h-0.82zM390.38 563.9h0.82v14.9h-0.82zM392.84 563.9h2.46v14.9h-2.46zM396.12 563.9h1.64v14.9h-1.64zM398.57 563.9h0.82v14.9h-0.82zM405.13 563.9h3.28v14.9h-3.28zM409.23 563.9h0.82v14.9h-0.82zM412.5 563.9h0.82v14.9h-0.82zM414.96 563.9h0.82v14.9h-0.82zM417.42 563.9h0.82v14.9h-0.82zM419.06 563.9h4.1v14.9h-4.1zM423.98 563.9h0.82v14.9h-0.82zM427.25 563.9h0.82v14.9h-0.82zM428.89 563.9h0.82v14.9h-0.82zM432.17 563.9h0.82v14.9h-0.82zM433.81 563.9h0.82v14.9h-0.82zM436.27 563.9h4.1v14.9h-4.1zM441.18 563.9h1.64v14.9h-1.64zM444.46 563.9h0.82v14.9h-0.82zM446.92 563.9h3.28v14.9h-3.28zM451.02 563.9h2.46v14.9h-2.46zM454.29 563.9h1.64v14.9h-1.64zM459.21 563.9h0.82v14.9h-0.82zM461.67 563.9h1.64v14.9h-1.64zM465.77 563.9h0.82v14.9h-0.82zM472.32 563.9h2.46v14.9h-2.46zM479.7 563.9h0.82v14.9h-0.82zM481.34 563.9h0.82v14.9h-0.82zM482.97 563.9h2.46v14.9h-2.46zM486.25 563.9h2.46v14.9h-2.46zM491.17 563.9h0.82v14.9h-0.82zM493.63 563.9h2.46v14.9h-2.46zM497.72 563.9h0.82v14.9h-0.82zM500.18 563.9h2.46v14.9h-2.46zM503.46 563.9h0.82v14.9h-0.82zM505.1 563.9h0.82v14.9h-0.82zM506.74 563.9h0.82v14.9h-0.82zM510.02 563.9h1.64v14.9h-1.64zM512.47 563.9h1.64v14.9h-1.64zM514.93 563.9h0.82v14.9h-0.82zM516.57 563.9h1.64v14.9h-1.64zM519.03 563.9h0.82v14.9h-0.82zM521.49 563.9h0.82v14.9h-0.82zM523.13 563.9h0.82v14.9h-0.82zM524.77 563.9h2.46v14.9h-2.46zM528.04 563.9h0.82v14.9h-0.82zM530.5 563.9h0.82v14.9h-0.82zM532.14 563.9h2.46v14.9h-2.46zM535.42 563.9h1.64v14.9h-1.64zM537.88 563.9h0.82v14.9h-0.82zM541.15 563.9h0.82v14.9h-0.82zM543.61 563.9h3.28v14.9h-3.28zM547.71 563.9h1.64v14.9h-1.64zM550.17 563.9h2.46v14.9h-2.46zM553.45 563.9h1.64v14.9h-1.64zM555.9 563.9h0.82v14.9h-0.82zM557.54 563.9h0.82v14.9h-0.82zM559.18 563.9h2.46v14.9h-2.46zM562.46 563.9h3.28v14.9h-3.28zM566.56 563.9h0.82v14.9h-0.82zM569.01 563.9h3.28v14.9h-3.28zM573.11 563.9h1.64v14.9h-1.64zM576.39 563.9h1.64v14.9h-1.64zM582.13 563.9h0.82v14.9h-0.82zM583.76 563.9h1.64v14.9h-1.64zM586.22 563.9h0.82v14.9h-0.82zM588.68 563.9h0.82v14.9h-0.82zM590.32 563.9h3.28v14.9h-3.28zM598.51 563.9h1.64v14.9h-1.64zM602.61 563.9h0.82v14.9h-0.82zM605.07 563.9h0.82v14.9h-0.82zM607.53 563.9h1.64v14.9h-1.64zM609.99 563.9h7.37v14.9h-7.37z"/>
<path fill="#a05020" d="M78.18 563.9h0.82v14.9h-0.82zM174.87 563.9h0.82v14.9h-0.82zM214.2 563.9h0.82v14.9h-0.82zM257.63 563.9h0.82v14.9h-0.82zM268.28 563.9h0.82v14.9h-0.82zM307.62 563.9h0.82v14.9h-0.82zM387.1 563.9h0.82v14.9h-0.82zM429.71 563.9h0.82v14.9h-0.82zM440.36 563.9h0.82v14.9h-0.82zM460.85 563.9h0.82v14.9h-0.82zM596.88 563.9h0.82v14.9h-0.82zM605.89 563.9h0.82v14.9h-0.82z"/>
<path fill="#e8a000" d="M600.15 563.9h1.64v14.9h-1.64z"/>
<rect x="45.4" y="587.8" width="573.6" height="14.7" fill="#c8c8c8"/>
<path fill="#a32828" d="M62.61 587.8h0.82v14.7h-0.82zM65.89 587.8h1.64v14.7h-1.64zM69.16 587.8h0.82v14.7h-0.82zM89.65 587.8h0.82v14.7h-0.82zM115.05 587.8h0.82v14.7h-0.82zM132.26 587.8h0.82v14.7h-0.82zM138.81 587.8h0.82v14.7h-0.82zM146.19 587.8h0.82v14.7h-0.82zM151.11 587.8h0.82v14.7h-0.82zM152.75 587.8h0.82v14.7h-0.82zM157.66 587.8h0.82v14.7h-0.82zM181.43 587.8h0.82v14.7h-0.82zM193.72 587.8h0.82v14.7h-0.82zM201.09 587.8h0.82v14.7h-0.82zM202.73 587.8h1.64v14.7h-1.64zM216.66 587.8h0.82v14.7h-0.82zM225.67 587.8h0.82v14.7h-0.82zM227.31 587.8h0.82v14.7h-0.82zM233.05 587.8h0.82v14.7h-0.82zM267.47 587.8h0.82v14.7h-0.82zM273.2 587.8h0.82v14.7h-0.82zM285.49 587.8h0.82v14.7h-0.82zM301.88 587.8h0.82v14.7h-0.82zM310.89 587.8h0.82v14.7h-0.82zM312.53 587.8h0.82v14.7h-0.82zM320.73 587.8h0.82v14.7h-0.82zM328.92 587.8h1.64v14.7h-1.64zM333.02 587.8h0.82v14.7h-0.82zM342.85 587.8h0.82v14.7h-0.82zM368.25 587.8h0.82v14.7h-0.82zM386.28 587.8h0.82v14.7h-0.82zM398.57 587.8h0.82v14.7h-0.82zM409.23 587.8h0.82v14.7h-0.82zM430.53 587.8h0.82v14.7h-0.82zM434.63 587.8h0.82v14.7h-0.82zM449.38 587.8h0.82v14.7h-0.82zM460.03 587.8h0.82v14.7h-0.82zM471.5 587.8h0.82v14.7h-0.82zM535.42 587.8h0.82v14.7h-0.82zM542.79 587.8h0.82v14.7h-0.82zM573.93 587.8h0.82v14.7h-0.82z"/>
<rect x="45.4" y="611.5" width="573.6" height="16.7" fill="#33925e"/>
<path fill="#8b2a9b" d="M46.22 611.5h0.82v16.7h-0.82zM47.86 611.5h0.82v16.7h-0.82zM49.5 611.5h0.82v16.7h-0.82zM66.71 611.5h0.82v16.7h-0.82zM70.8 611.5h0.82v16.7h-0.82zM74.08 611.5h0.82v16.7h-0.82zM82.27 611.5h0.82v16.7h-0.82zM88.01 611.5h0.82v16.7h-0.82zM112.59 611.5h0.82v16.7h-0.82zM115.05 611.5h0.82v16.7h-0.82zM119.15 611.5h0.82v16.7h-0.82zM121.61 611.5h0.82v16.7h-0.82zM138.81 611.5h0.82v16.7h-0.82zM147.83 611.5h0.82v16.7h-0.82zM149.47 611.5h0.82v16.7h-0.82zM156.84 611.5h1.64v16.7h-1.64zM165.04 611.5h0.82v16.7h-0.82zM203.55 611.5h0.82v16.7h-0.82zM206.01 611.5h0.82v16.7h-0.82zM208.47 611.5h0.82v16.7h-0.82zM229.77 611.5h0.82v16.7h-0.82zM252.72 611.5h0.82v16.7h-0.82zM265.01 611.5h0.82v16.7h-0.82zM269.92 611.5h0.82v16.7h-0.82zM288.77 611.5h0.82v16.7h-0.82zM292.05 611.5h0.82v16.7h-0.82zM309.26 611.5h0.82v16.7h-0.82zM315.81 611.5h0.82v16.7h-0.82zM322.37 611.5h0.82v16.7h-0.82zM392.02 611.5h0.82v16.7h-0.82zM396.93 611.5h0.82v16.7h-0.82zM402.67 611.5h0.82v16.7h-0.82zM405.13 611.5h0.82v16.7h-0.82zM435.45 611.5h0.82v16.7h-0.82zM446.1 611.5h0.82v16.7h-0.82zM465.77 611.5h0.82v16.7h-0.82zM480.52 611.5h0.82v16.7h-0.82zM508.38 611.5h0.82v16.7h-0.82z"/>
<path fill="#6a5a8c" d="M74.9 611.5h0.82v16.7h-0.82zM76.54 611.5h0.82v16.7h-0.82zM110.95 611.5h0.82v16.7h-0.82zM123.25 611.5h0.82v16.7h-0.82zM125.7 611.5h0.82v16.7h-0.82zM140.45 611.5h0.82v16.7h-0.82zM148.65 611.5h0.82v16.7h-0.82zM150.29 611.5h0.82v16.7h-0.82zM160.12 611.5h0.82v16.7h-0.82zM185.52 611.5h0.82v16.7h-0.82zM194.54 611.5h0.82v16.7h-0.82zM209.29 611.5h0.82v16.7h-0.82zM228.95 611.5h0.82v16.7h-0.82zM237.97 611.5h0.82v16.7h-0.82zM242.06 611.5h0.82v16.7h-0.82zM261.73 611.5h0.82v16.7h-0.82zM264.19 611.5h0.82v16.7h-0.82zM294.51 611.5h0.82v16.7h-0.82zM332.2 611.5h0.82v16.7h-0.82zM353.51 611.5h0.82v16.7h-0.82zM478.06 611.5h0.82v16.7h-0.82zM513.29 611.5h0.82v16.7h-0.82z"/>
<path fill="#d8d820" d="M248.62 611.5h0.82v16.7h-0.82zM271.56 611.5h0.82v16.7h-0.82zM600.15 611.5h0.82v16.7h-0.82z"/>
<text x="41.4" y="484.2" font-size="7.8" text-anchor="end">0</text>
<text x="41.4" y="464.9" font-size="7.8" text-anchor="end">10</text>
<text x="41.4" y="445.6" font-size="7.8" text-anchor="end">20</text>
<text x="41.4" y="426.3" font-size="7.8" text-anchor="end">30</text>
<text x="41.4" y="555.7" font-size="7.8" text-anchor="end">0</text>
<text x="41.4" y="541.33" font-size="7.8" text-anchor="end">0.25</text>
<text x="41.4" y="526.95" font-size="7.8" text-anchor="end">0.50</text>
<text x="41.4" y="512.58" font-size="7.8" text-anchor="end">0.75</text>
<text x="41.4" y="498.2" font-size="7.8" text-anchor="end">1.00</text>
<text font-size="8" text-anchor="middle" transform="translate(9.4 446.9) rotate(-90)">Cell</text>
<text font-size="8" text-anchor="middle" transform="translate(18.3 446.9) rotate(-90)">abundance</text>
<text font-size="8" text-anchor="middle" transform="translate(17 524) rotate(-90)">Proportion</text>
<text x="41.3" y="575.2" font-size="8" text-anchor="end">Histology</text>
<text x="41.3" y="599.3" font-size="8.2" text-anchor="end">EGFR</text>
<text x="41.3" y="617.6" font-size="8" text-anchor="end">Sample</text>
<text x="41.3" y="628" font-size="8" text-anchor="end">type</text>
<text x="311.2" y="637.4" font-size="8" text-anchor="middle">RUL</text>
<text x="345.8" y="644.4" font-size="8" text-anchor="middle">Sample</text>
<text x="599.2" y="637.6" font-size="8" text-anchor="middle">Liver</text>
<path d="M309.2 409.5V428" stroke="#000" stroke-width="0.8"/><path d="M309.2 432l-1.6 -4.5h3.2z" fill="#000"/>
<path d="M599.9 409.5V428" stroke="#000" stroke-width="0.8"/><path d="M599.9 432l-1.6 -4.5h3.2z" fill="#000"/>
<text x="627.8" y="413" font-size="8">Cell types</text>
<rect x="628.9" y="415.5" width="12.4" height="11.6" fill="#a6cee3"/>
<text x="646.5" y="424.1" font-size="8">EPCAM</text>
<rect x="628.9" y="429.1" width="12.4" height="11.6" fill="#1f78b4"/>
<text x="646.5" y="437.7" font-size="8">CD31</text>
<rect x="628.9" y="442.7" width="12.4" height="11.6" fill="#b2df8a"/>
<text x="646.5" y="451.3" font-size="8">CD10</text>
<rect x="628.9" y="456.3" width="12.4" height="11.6" fill="#33a02c"/>
<text x="646.5" y="464.9" font-size="8">CD45</text>
<text x="627.8" y="487" font-size="8">Histology</text>
<rect x="628.9" y="488.8" width="12.4" height="11.6" fill="#00008b"/>
<text x="646.5" y="497.4" font-size="8">LUAD</text>
<rect x="628.9" y="502.85" width="12.4" height="11.6" fill="#8b0000"/>
<text x="646.5" y="511.45" font-size="8">LUSC</text>
<rect x="628.9" y="516.9" width="12.4" height="11.6" fill="#ffff00"/>
<text x="646.5" y="525.5" font-size="8">SCLC</text>
<rect x="628.9" y="530.95" width="12.4" height="11.6" fill="#404040"/>
<text x="646.5" y="539.55" font-size="8">Other</text>
<text x="627.8" y="556" font-size="8"><tspan font-style="italic">EGFR</tspan> status</text>
<rect x="628.9" y="559.7" width="12.4" height="11.6" fill="#8b0000"/>
<text x="646.5" y="568.3" font-size="8"><tspan font-style="italic">EGFR</tspan> mut</text>
<rect x="628.9" y="573.5" width="12.4" height="11.6" fill="#bebebe"/>
<text x="646.5" y="582.1" font-size="8"><tspan font-style="italic">EGFR</tspan> WT</text>
<text x="627.8" y="599.5" font-size="8">Sample</text>
<rect x="628.9" y="602.1" width="12.4" height="11.6" fill="#ffff00"/>
<text x="646.5" y="610.7" font-size="8">Liver</text>
<rect x="628.9" y="615.8" width="12.4" height="11.6" fill="#8b008b"/>
<text x="646.5" y="624.4" font-size="8">Metastasis</text>
<rect x="628.9" y="629.5" width="12.4" height="11.6" fill="#2e8b57"/>
<text x="646.5" y="638.1" font-size="8">Primary</text>
</svg>
</body></html>
